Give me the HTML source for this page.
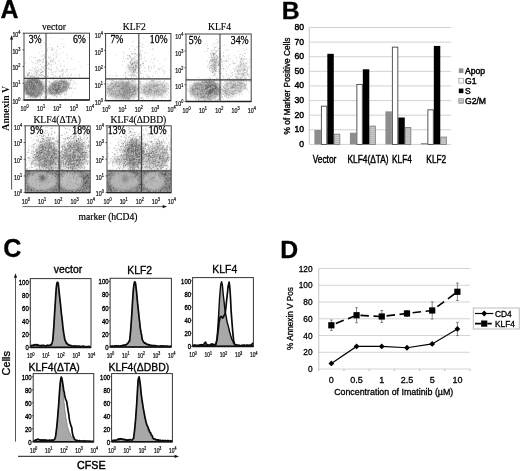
<!DOCTYPE html>
<html><head><meta charset="utf-8"><title>Figure</title>
<style>
html,body{margin:0;padding:0;background:#fff;}
body{width:520px;height:471px;overflow:hidden;font-family:"Liberation Sans",sans-serif;}
svg{display:block;filter:blur(0.4px)}
</style></head><body>
<svg width="520" height="471" viewBox="0 0 520 471">
<defs><filter id="bl1" x="-50%" y="-50%" width="200%" height="200%"><feGaussianBlur stdDeviation="1"/></filter><filter id="bl2" x="-50%" y="-50%" width="200%" height="200%"><feGaussianBlur stdDeviation="1.8"/></filter></defs>
<rect width="520" height="471" fill="#fff"/>
<g id="panelA">
<text x="0.5" y="18.4" font-family='"Liberation Sans", sans-serif' font-size="24.9" text-anchor="start" font-weight="bold" fill="#000" stroke="#000" stroke-width=".3">A</text>
<clipPath id="cp1"><rect x="24" y="33.2" width="65.5" height="66.8"/></clipPath>
<g clip-path="url(#cp1)">
<path d="M33.7 91.1h.8M34.0 86.1h.8M27.6 86.7h.8M46.0 90.5h.8M45.3 89.5h.8M39.6 89.1h.8M40.6 91.0h.8M28.0 85.2h.8M38.7 87.7h.8M40.7 84.1h.8M38.8 90.4h.8M30.0 98.3h.8M41.0 95.2h.8M30.4 83.6h.8M32.9 87.4h.8M41.7 89.5h.8M32.0 82.3h.8M31.3 95.3h.8M28.7 89.5h.8M39.8 79.1h.8M36.4 95.8h.8M35.0 83.1h.8M40.5 87.6h.8M42.0 93.7h.8M49.0 90.2h.8M37.1 80.2h.8M41.5 84.3h.8M31.9 80.4h.8M27.3 84.8h.8M47.6 75.8h.8M49.0 91.5h.8M39.2 83.6h.8M25.9 93.9h.8M45.9 88.9h.8M38.2 90.6h.8M50.3 91.7h.8M40.7 91.3h.8M44.6 91.2h.8M43.6 77.1h.8M34.3 94.1h.8M41.0 87.1h.8M38.9 91.9h.8M37.1 94.9h.8M30.0 85.5h.8M45.4 88.2h.8M28.1 93.7h.8M49.2 85.3h.8M34.7 86.2h.8M48.6 81.8h.8M47.3 80.4h.8M28.9 91.8h.8M46.2 93.2h.8M39.1 88.9h.8M37.4 91.5h.8M34.4 89.7h.8M41.2 88.0h.8M42.9 91.4h.8M54.1 89.9h.8M32.2 85.8h.8M35.9 93.5h.8M33.0 90.3h.8M52.5 72.6h.8M25.9 89.5h.8M39.6 89.4h.8M32.1 91.9h.8M38.5 84.9h.8M57.9 90.1h.8M31.0 87.4h.8M34.0 87.6h.8M45.1 81.0h.8M35.4 93.7h.8M43.7 96.9h.8M32.9 91.7h.8M45.8 71.9h.8M45.8 79.3h.8M42.1 79.0h.8M37.6 95.2h.8M34.7 89.1h.8M43.2 88.8h.8M35.2 97.2h.8M45.4 86.2h.8M60.7 81.1h.8M44.2 86.4h.8M37.2 92.2h.8M38.0 91.8h.8M41.5 82.2h.8M26.8 79.2h.8M47.4 92.5h.8M49.3 82.4h.8M36.0 81.2h.8M42.9 97.5h.8M28.0 97.4h.8M44.9 86.9h.8M35.1 84.4h.8M39.6 90.5h.8M49.5 81.9h.8M46.2 96.9h.8M49.1 86.9h.8M29.3 94.1h.8M37.0 88.7h.8M48.8 86.4h.8M38.9 84.3h.8M35.9 93.0h.8M36.7 96.0h.8M35.4 94.2h.8M49.4 97.7h.8M30.0 93.3h.8M24.9 87.9h.8M34.3 87.8h.8M30.7 89.4h.8M52.1 88.3h.8M40.8 94.0h.8M34.2 80.4h.8M31.0 94.4h.8M45.1 92.8h.8M36.1 92.8h.8M37.5 80.9h.8M44.3 84.6h.8M27.9 83.4h.8M25.4 90.2h.8M30.2 76.3h.8M42.5 86.3h.8M38.6 85.2h.8M43.0 92.5h.8M42.0 90.0h.8M48.0 92.0h.8M40.1 75.5h.8M44.1 95.9h.8M33.3 85.2h.8M53.5 77.5h.8M27.7 92.1h.8M53.0 87.3h.8M41.1 93.4h.8M27.8 87.5h.8M38.6 93.0h.8M35.7 86.8h.8M26.9 85.8h.8M44.0 88.6h.8M28.3 83.0h.8M60.0 94.8h.8M41.7 72.4h.8M41.6 90.9h.8M51.2 90.6h.8M35.4 91.1h.8M38.9 83.8h.8M47.9 98.9h.8M38.6 89.1h.8M32.4 82.2h.8M55.1 94.2h.8M25.3 79.9h.8M51.3 93.9h.8M52.4 92.9h.8M28.2 89.6h.8M35.5 91.1h.8M29.5 87.3h.8M40.1 90.3h.8M41.7 89.3h.8M33.1 92.7h.8M36.4 83.0h.8M30.4 88.0h.8M35.0 88.9h.8M36.0 89.1h.8M34.8 80.4h.8M39.8 94.3h.8M39.9 86.9h.8M40.0 82.2h.8M27.6 92.4h.8M26.2 72.2h.8M26.6 97.5h.8M32.6 79.8h.8M29.1 91.1h.8M40.5 89.1h.8M49.4 92.2h.8M35.8 91.6h.8M50.9 93.8h.8M45.2 81.5h.8M34.7 92.4h.8M33.3 94.4h.8M41.4 93.4h.8M47.2 86.7h.8M32.9 93.2h.8M44.8 88.0h.8M25.5 89.1h.8M39.2 94.8h.8M43.0 88.1h.8M43.7 91.2h.8M37.9 88.3h.8M33.8 92.1h.8M26.5 84.2h.8M36.0 79.2h.8" stroke="#333" stroke-width=".8" opacity="0.3" fill="none"/>
<path d="M49.8 77.2h.8M52.7 92.5h.8M63.2 84.8h.8M52.9 79.8h.8M76.2 83.7h.8M66.5 78.3h.8M52.5 77.4h.8M67.3 89.6h.8M40.1 93.2h.8M60.3 74.9h.8M38.7 87.2h.8M49.2 81.2h.8M58.8 88.3h.8M65.4 88.8h.8M74.5 88.4h.8M44.6 88.6h.8M45.8 84.6h.8M57.2 87.3h.8M59.4 76.4h.8M46.3 91.1h.8M55.5 85.9h.8M55.8 82.9h.8M65.3 86.6h.8M55.8 83.5h.8M50.8 72.3h.8M48.9 90.6h.8M44.3 93.3h.8M56.6 78.7h.8M55.0 86.1h.8M63.6 88.9h.8M55.9 82.3h.8M56.5 87.1h.8M65.5 86.1h.8M48.4 81.8h.8M53.0 84.1h.8M47.3 90.1h.8M53.6 89.3h.8M62.1 82.9h.8M79.2 77.2h.8M68.6 83.9h.8M63.6 69.8h.8M51.4 91.0h.8M68.5 98.1h.8M63.7 93.1h.8M67.1 89.7h.8M62.5 84.4h.8M60.6 79.2h.8M67.0 77.2h.8M64.7 98.1h.8M55.9 87.9h.8M69.0 83.2h.8M50.9 91.2h.8M64.9 89.0h.8M73.7 81.4h.8M59.6 83.7h.8M69.8 78.2h.8M63.4 82.0h.8M53.0 93.4h.8M70.5 82.4h.8M53.3 93.9h.8M58.2 88.9h.8M74.6 88.2h.8M59.6 91.4h.8M51.8 89.0h.8M68.3 75.5h.8M40.5 83.0h.8M68.1 80.4h.8M56.8 85.4h.8M54.6 81.3h.8M55.3 78.8h.8M58.0 89.0h.8M61.9 84.1h.8M49.8 91.0h.8M56.7 97.5h.8M65.0 83.7h.8M52.1 84.6h.8M48.5 88.2h.8M61.8 88.9h.8M67.7 96.9h.8M51.4 89.5h.8M80.4 66.9h.8M53.4 89.7h.8M60.3 88.8h.8M56.5 89.9h.8M60.1 91.2h.8M38.4 88.5h.8M55.9 81.2h.8M49.5 94.1h.8M53.2 92.8h.8M65.6 86.2h.8M62.6 84.7h.8M44.7 91.6h.8M61.2 82.5h.8M58.6 91.6h.8M51.1 93.6h.8M74.4 77.5h.8M59.1 85.7h.8M73.1 83.5h.8M65.0 80.0h.8M57.8 87.0h.8M62.9 74.1h.8M64.7 83.7h.8M63.0 87.5h.8M43.5 90.9h.8M70.8 78.7h.8M45.6 82.8h.8M47.2 93.1h.8M74.8 83.6h.8M64.9 98.8h.8M51.7 85.0h.8M64.1 88.3h.8M46.1 83.9h.8M61.2 87.4h.8M45.3 90.3h.8M53.8 91.4h.8M56.7 86.9h.8M56.8 94.1h.8M70.3 80.2h.8M64.4 79.8h.8M60.2 91.0h.8M71.4 79.7h.8M57.7 88.4h.8M44.0 92.2h.8M52.4 91.4h.8M43.3 79.7h.8M58.9 88.3h.8M54.7 93.9h.8M54.2 84.5h.8M59.3 76.5h.8M51.6 89.2h.8M65.6 83.2h.8M59.6 82.2h.8M64.2 95.3h.8M52.0 89.3h.8M61.7 92.2h.8M42.1 79.4h.8M65.3 89.4h.8M60.4 87.7h.8M67.5 85.9h.8M71.1 74.3h.8M47.4 68.9h.8M64.9 82.1h.8M71.1 96.0h.8M57.4 85.6h.8M51.6 84.0h.8M53.4 92.8h.8M58.5 87.2h.8M58.2 92.7h.8M62.4 84.5h.8M63.9 83.9h.8M50.2 99.1h.8M60.4 80.0h.8M68.8 85.3h.8M63.0 90.9h.8M59.6 85.5h.8M45.4 97.8h.8M57.7 85.3h.8M61.5 86.2h.8M63.6 82.6h.8M53.3 75.1h.8M55.4 92.3h.8M69.8 80.4h.8M60.1 96.3h.8M56.4 92.3h.8M73.9 81.5h.8M68.1 78.8h.8M59.8 85.9h.8M61.4 93.0h.8M79.1 75.1h.8M53.6 91.8h.8M49.1 93.4h.8M62.8 83.5h.8M59.8 76.4h.8M62.0 75.7h.8M50.3 86.2h.8M56.0 93.2h.8M58.0 84.5h.8M66.4 94.1h.8M58.8 89.0h.8M70.2 84.3h.8M74.7 68.3h.8M58.5 89.5h.8M68.4 87.5h.8M53.3 82.0h.8M61.1 92.5h.8M45.7 84.9h.8M53.8 76.2h.8M54.7 85.4h.8M60.8 81.5h.8M48.9 87.8h.8M56.2 83.4h.8M59.7 91.2h.8M72.6 92.6h.8M49.8 87.3h.8M51.1 89.3h.8M60.1 77.6h.8M62.3 85.3h.8M41.4 94.9h.8M65.4 72.4h.8M66.0 85.4h.8M63.4 87.9h.8M69.8 81.3h.8M65.4 81.7h.8M63.2 79.9h.8M60.5 97.1h.8M61.9 84.6h.8M45.6 86.5h.8M61.7 91.6h.8M63.1 88.5h.8M60.4 94.8h.8M53.2 85.2h.8" stroke="#333" stroke-width=".8" opacity="0.3" fill="none"/>
<ellipse cx="33.7" cy="87.5" rx="10" ry="10" fill="#8e8e8e" opacity="1" filter="url(#bl1)" transform="rotate(0 33.7 87.5)"/>
<ellipse cx="33.7" cy="87.5" rx="7.6" ry="7.6" fill="none" stroke="#6c6c6c" stroke-width="1.5" opacity="0.7" filter="url(#bl1)" transform="rotate(0 33.7 87.5)"/>
<ellipse cx="33.5" cy="86.3" rx="2.3" ry="2.3" fill="#4a4a4a" opacity="0.8" filter="url(#bl1)" transform="rotate(0 33.5 86.3)"/>
<ellipse cx="58.2" cy="87.5" rx="11.2" ry="6.4" fill="#999" opacity="1" filter="url(#bl1)" transform="rotate(-22 58.2 87.5)"/>
<ellipse cx="58.2" cy="87.5" rx="8.8" ry="4.5" fill="none" stroke="#777" stroke-width="1.4" opacity="0.65" filter="url(#bl1)" transform="rotate(-22 58.2 87.5)"/>
<ellipse cx="57" cy="88" rx="3.5" ry="2" fill="#858585" opacity="0.7" filter="url(#bl1)" transform="rotate(-22 57 88)"/>
<path d="M38.6 87.8h.8M32.2 84.3h.8M32.3 90.9h.8M35.6 80.8h.8M36.0 88.5h.8M28.2 91.8h.8M32.2 85.7h.8M38.1 94.8h.8M29.9 89.9h.8M31.0 94.1h.8M30.1 92.0h.8M45.9 73.5h.8M31.3 90.3h.8M33.2 83.8h.8M45.5 87.9h.8M24.7 92.2h.8M30.5 88.3h.8M40.6 88.1h.8M26.0 78.2h.8M40.2 91.6h.8M29.2 92.2h.8M36.4 91.1h.8M38.7 91.5h.8M38.5 74.0h.8M34.6 90.2h.8M47.7 82.3h.8M31.9 87.7h.8M38.6 85.1h.8M40.0 83.2h.8M35.2 84.6h.8M34.6 83.7h.8M24.9 93.5h.8M35.4 84.4h.8M34.8 92.9h.8M28.3 86.9h.8M36.7 90.4h.8M31.9 75.9h.8M40.5 89.3h.8M33.8 86.0h.8M35.1 85.2h.8M28.1 83.4h.8M30.4 84.1h.8M27.3 91.0h.8M26.5 91.1h.8M28.1 89.4h.8M41.3 88.6h.8M29.7 87.8h.8M34.5 78.0h.8M30.4 88.4h.8M31.1 87.9h.8M37.7 91.7h.8M38.7 90.7h.8M32.1 87.4h.8M32.2 85.8h.8M32.7 78.0h.8M31.9 87.4h.8M28.3 87.4h.8M36.5 86.6h.8M45.1 73.2h.8M32.6 77.5h.8M36.6 85.8h.8M36.7 75.2h.8M38.4 89.5h.8M33.8 84.3h.8M37.2 84.8h.8M34.9 84.7h.8M34.8 91.6h.8M28.9 87.3h.8M37.1 88.3h.8M40.5 98.5h.8M28.7 76.9h.8M38.4 95.9h.8M38.8 92.0h.8M30.3 83.6h.8M38.6 82.5h.8M47.4 98.1h.8M29.9 83.5h.8M35.0 83.4h.8M40.9 87.1h.8M27.7 94.7h.8M30.5 88.7h.8M33.6 85.8h.8M35.5 83.7h.8M26.7 83.3h.8M33.6 87.8h.8M36.8 88.2h.8M29.3 83.6h.8M36.4 90.4h.8M33.0 86.5h.8M38.8 87.6h.8M37.8 90.7h.8M34.9 94.7h.8M30.6 85.5h.8M29.3 83.1h.8M42.3 97.2h.8M33.8 90.6h.8M40.2 91.9h.8M40.3 80.6h.8M30.2 90.0h.8M41.6 88.1h.8M29.0 85.6h.8M30.1 82.8h.8M42.0 84.1h.8M33.8 99.4h.8M40.2 89.3h.8M30.3 89.8h.8M42.6 90.9h.8M40.6 88.0h.8M36.5 86.4h.8M36.0 94.7h.8M25.8 87.2h.8M35.0 84.4h.8M32.0 91.8h.8M44.7 91.0h.8M35.5 79.0h.8M44.3 87.9h.8M33.5 81.3h.8M33.4 81.5h.8M34.1 90.1h.8M33.9 89.0h.8M29.0 95.4h.8M30.1 77.5h.8M32.7 83.3h.8M28.1 85.5h.8M35.3 81.0h.8M32.9 95.3h.8M37.5 86.7h.8M34.4 86.8h.8M33.4 91.5h.8M33.2 74.3h.8M33.6 82.6h.8M37.3 84.1h.8M34.5 99.5h.8M27.9 81.3h.8M25.9 74.3h.8M30.2 77.2h.8M25.5 90.9h.8M29.4 85.5h.8M35.5 95.0h.8M44.4 93.2h.8M34.5 88.5h.8M43.6 95.4h.8M32.0 90.0h.8M35.3 87.8h.8M30.9 80.2h.8M30.8 79.0h.8M40.4 90.5h.8M27.1 95.2h.8M38.6 77.0h.8M43.8 92.0h.8M45.1 80.7h.8M36.6 89.8h.8M34.8 88.4h.8M39.5 79.3h.8M26.9 79.8h.8M30.6 84.2h.8M35.7 89.0h.8M33.9 83.8h.8M31.3 92.7h.8M37.9 88.1h.8M31.9 96.0h.8M30.4 91.1h.8M40.0 86.0h.8M38.2 81.4h.8M39.3 88.6h.8M25.0 91.2h.8M28.8 94.6h.8M30.0 86.6h.8M35.3 85.7h.8M35.1 84.5h.8M37.4 87.5h.8M34.9 72.4h.8M40.1 87.7h.8M36.3 93.4h.8M27.7 96.0h.8M32.9 91.2h.8M31.7 81.4h.8M39.7 92.5h.8M42.2 92.2h.8M30.5 78.4h.8M30.1 83.8h.8M29.2 90.7h.8M35.5 86.0h.8M34.6 86.7h.8M34.9 91.6h.8M39.0 83.7h.8M25.4 95.4h.8M34.3 93.6h.8" stroke="#fff" stroke-width=".8" opacity="0.35" fill="none"/>
<path d="M33.9 78.9h.8M30.6 91.8h.8M40.2 97.1h.8M28.5 79.1h.8M36.8 93.1h.8M34.9 79.7h.8M38.4 92.3h.8M37.0 84.6h.8M35.5 92.2h.8M30.3 76.4h.8M35.7 90.4h.8M33.8 92.8h.8M30.2 87.0h.8M31.9 90.9h.8M43.3 86.0h.8M46.0 96.7h.8M38.4 91.0h.8M44.3 86.4h.8M33.0 81.1h.8M36.5 95.6h.8M36.9 90.0h.8M32.5 88.5h.8M25.1 93.8h.8M31.2 80.9h.8M29.2 82.6h.8M38.8 93.8h.8M25.6 93.1h.8M39.0 84.0h.8M24.8 83.0h.8M29.9 89.6h.8M31.6 75.3h.8M35.1 78.3h.8M39.1 80.3h.8M29.5 82.4h.8M30.4 95.3h.8M38.8 91.1h.8M35.6 78.2h.8M30.6 84.2h.8M27.8 90.6h.8M29.3 83.2h.8M27.4 75.2h.8M37.3 95.5h.8M34.7 81.6h.8M41.0 89.3h.8M39.3 96.4h.8M40.5 84.9h.8M40.0 92.2h.8M25.2 86.8h.8M37.2 81.1h.8M36.0 96.3h.8M25.8 93.9h.8M32.4 89.1h.8M32.8 93.5h.8M39.9 88.0h.8M25.5 91.9h.8M30.9 91.3h.8M35.3 97.2h.8M40.5 84.8h.8M35.8 98.1h.8M30.5 90.1h.8M40.8 95.0h.8M36.8 79.6h.8M26.1 89.0h.8M28.5 94.3h.8M38.3 77.5h.8M28.8 88.5h.8M30.7 86.6h.8M36.5 82.6h.8M36.5 83.7h.8M30.4 90.7h.8M30.3 89.2h.8M43.3 87.7h.8M32.8 91.9h.8M31.5 94.0h.8M26.0 91.2h.8M30.6 82.7h.8M44.3 82.4h.8M44.2 91.4h.8M42.4 81.6h.8M40.9 96.2h.8M33.0 86.7h.8M48.4 88.6h.8M31.2 83.7h.8M36.4 89.5h.8M34.8 97.8h.8M31.7 90.3h.8M42.5 81.5h.8M39.9 98.5h.8M25.6 80.9h.8M27.5 76.4h.8M36.4 76.4h.8M36.7 96.2h.8M29.3 85.9h.8M34.0 90.8h.8M31.6 87.6h.8M30.4 88.2h.8M26.7 87.9h.8M45.2 88.0h.8M26.1 89.0h.8M27.9 77.6h.8M29.3 91.9h.8M36.0 86.9h.8M28.1 81.0h.8M41.8 89.0h.8M28.0 74.8h.8M26.8 87.0h.8M35.0 86.6h.8M32.0 79.3h.8M27.4 97.6h.8M29.2 92.6h.8M35.3 93.7h.8M27.0 91.1h.8M36.0 83.1h.8M36.6 82.1h.8M28.9 87.4h.8M27.7 78.7h.8M31.1 92.1h.8M31.3 95.1h.8M26.7 79.6h.8M43.0 89.9h.8M39.4 82.5h.8M38.5 89.1h.8M37.6 87.7h.8M40.9 83.6h.8M27.9 78.6h.8M40.7 83.1h.8M27.4 81.9h.8M31.0 79.9h.8M32.0 83.7h.8M30.4 81.7h.8M33.9 84.7h.8M34.4 89.0h.8M35.7 74.4h.8M30.5 82.7h.8M38.3 78.0h.8M29.4 85.7h.8M31.7 93.4h.8M31.0 93.3h.8M24.9 76.6h.8M41.0 90.1h.8M36.6 88.2h.8M36.6 80.2h.8M39.4 84.3h.8M39.6 88.0h.8M40.5 86.7h.8M31.3 89.0h.8M31.1 84.2h.8M34.3 88.4h.8M42.8 87.8h.8M45.0 98.3h.8M44.0 93.9h.8M34.5 88.3h.8M32.8 83.1h.8M33.3 83.7h.8M43.5 90.7h.8M31.0 76.0h.8M33.4 85.0h.8M27.2 80.7h.8M33.5 86.6h.8M42.4 88.3h.8M34.7 85.3h.8M30.1 96.5h.8M39.7 97.8h.8M31.6 87.7h.8M28.4 93.3h.8M25.3 90.9h.8M40.3 96.0h.8M28.1 94.0h.8M29.4 83.0h.8M25.8 94.4h.8M43.6 83.9h.8M29.1 85.5h.8M48.7 93.5h.8M30.4 76.7h.8M29.7 94.6h.8M44.9 85.9h.8M29.6 84.4h.8M27.2 93.9h.8M35.4 82.9h.8M38.4 87.5h.8M26.7 91.2h.8M38.8 76.0h.8M44.7 90.5h.8M38.3 76.3h.8M29.4 85.4h.8M40.2 78.7h.8M28.4 75.3h.8M32.3 89.6h.8M36.8 97.0h.8M37.7 85.7h.8M26.6 81.9h.8M29.7 88.4h.8M33.4 97.5h.8M35.4 81.1h.8M43.0 93.2h.8M34.3 83.2h.8M39.2 82.7h.8M25.8 88.7h.8M35.2 91.1h.8M37.6 96.0h.8M28.7 93.4h.8M27.8 91.7h.8M34.8 89.0h.8M39.5 87.4h.8M40.4 92.8h.8M34.5 84.1h.8M29.2 84.3h.8M32.5 87.4h.8M51.6 91.3h.8M38.3 82.3h.8M29.4 85.6h.8M34.9 81.3h.8M43.4 84.1h.8M40.2 73.5h.8M33.7 89.2h.8M34.8 91.1h.8M35.4 88.5h.8M35.5 86.3h.8M28.8 84.0h.8M44.8 97.9h.8M33.4 95.2h.8M30.8 82.3h.8M30.3 88.6h.8M51.8 83.5h.8M34.0 89.2h.8M33.5 93.1h.8M44.4 80.0h.8M34.7 85.9h.8M35.8 78.3h.8M36.9 88.7h.8M34.1 73.3h.8M31.5 83.0h.8M25.2 82.0h.8M37.9 90.8h.8M33.6 90.6h.8M30.1 87.9h.8M33.9 90.8h.8" stroke="#333" stroke-width=".8" opacity="0.3" fill="none"/>
<path d="M57.6 87.2h.8M56.5 85.7h.8M72.4 83.8h.8M63.9 94.1h.8M64.6 78.9h.8M63.5 88.6h.8M71.3 87.3h.8M61.3 81.7h.8M53.3 90.5h.8M59.9 82.9h.8M55.3 87.1h.8M59.0 88.5h.8M54.8 84.1h.8M67.8 89.8h.8M58.9 91.2h.8M61.8 88.6h.8M60.1 83.8h.8M63.0 89.5h.8M55.5 96.2h.8M73.3 88.5h.8M71.2 85.1h.8M55.4 86.3h.8M53.5 89.9h.8M58.9 89.8h.8M71.9 81.9h.8M62.9 87.4h.8M59.6 86.1h.8M56.3 85.0h.8M59.2 87.0h.8M59.0 83.9h.8M58.5 87.6h.8M60.4 82.5h.8M62.1 89.8h.8M61.3 84.8h.8M54.9 87.9h.8M64.7 90.9h.8M56.4 85.7h.8M60.7 87.3h.8M51.7 87.2h.8M58.5 90.0h.8M49.6 87.0h.8M59.6 82.2h.8M59.3 88.4h.8M56.2 84.4h.8M57.4 86.5h.8M59.1 83.9h.8M62.5 79.3h.8M57.1 88.0h.8M63.2 83.1h.8M60.7 84.3h.8M65.0 91.5h.8M56.4 90.0h.8M53.9 93.0h.8M65.5 84.7h.8M51.9 91.6h.8M66.6 88.3h.8M60.6 79.4h.8M56.0 93.9h.8M52.3 94.3h.8M70.6 85.5h.8M64.5 83.7h.8M50.7 90.1h.8M56.9 87.8h.8M62.2 85.3h.8M59.9 88.4h.8M60.7 93.7h.8M61.0 86.7h.8M56.1 85.9h.8M66.5 84.7h.8M50.9 88.2h.8M56.8 86.3h.8M63.2 81.0h.8M61.4 86.8h.8M51.2 90.5h.8M58.3 89.4h.8M55.9 89.6h.8M46.7 87.9h.8M64.3 89.1h.8M57.3 85.5h.8M61.9 77.9h.8M54.3 91.7h.8M60.7 82.5h.8M48.8 96.9h.8M57.9 84.1h.8M59.7 90.4h.8M44.1 97.5h.8M59.9 78.8h.8M60.4 79.7h.8M65.6 86.1h.8M71.0 80.0h.8M59.6 91.0h.8M53.4 86.7h.8M55.9 88.2h.8M52.3 91.8h.8M61.6 86.4h.8M68.0 82.3h.8M65.3 82.5h.8M60.1 79.2h.8M59.2 86.4h.8M54.4 86.7h.8M55.1 85.9h.8M44.2 90.8h.8M54.2 87.1h.8M51.6 89.6h.8M62.6 84.8h.8M57.1 93.2h.8M65.3 88.2h.8M64.7 83.6h.8M58.9 91.5h.8M54.7 88.4h.8M61.0 87.8h.8M57.9 91.5h.8M58.1 90.4h.8M65.5 87.1h.8M61.1 81.8h.8M49.5 88.6h.8M63.1 91.4h.8M51.2 91.5h.8M52.1 87.1h.8M57.5 90.5h.8M61.1 90.9h.8M53.5 92.9h.8M63.9 85.5h.8M60.3 84.5h.8M51.1 88.8h.8M58.2 98.7h.8M57.5 94.2h.8M59.8 88.0h.8M61.6 83.1h.8M64.2 86.5h.8M49.9 93.2h.8M62.1 87.7h.8M67.2 82.3h.8M62.3 88.8h.8M54.4 93.7h.8M47.7 86.7h.8M59.9 82.6h.8M55.3 82.3h.8M57.1 83.5h.8M58.2 81.6h.8M60.5 85.5h.8M58.5 87.1h.8M57.2 82.8h.8M42.8 93.9h.8M51.9 88.3h.8M58.1 79.8h.8M52.8 87.3h.8M52.3 91.2h.8M56.2 85.1h.8M53.4 92.6h.8M55.0 91.1h.8M58.4 80.1h.8M51.7 90.1h.8M61.3 89.3h.8M64.4 89.0h.8M55.7 87.7h.8M62.3 84.2h.8M62.4 79.6h.8M61.9 85.3h.8M47.7 95.6h.8M60.1 86.8h.8M51.1 88.6h.8M66.2 81.1h.8M36.1 93.1h.8M50.8 90.0h.8M54.6 85.4h.8M54.5 93.0h.8M52.1 97.5h.8M53.4 85.2h.8M63.7 87.5h.8M52.9 92.5h.8M45.9 88.9h.8M64.6 83.9h.8M51.0 92.4h.8M63.7 85.2h.8M46.8 90.7h.8M61.8 89.0h.8M69.0 82.1h.8M55.2 88.5h.8M64.2 81.4h.8M62.4 75.1h.8M62.1 83.3h.8M61.9 88.7h.8M51.0 90.1h.8M60.4 88.9h.8M51.3 86.5h.8M56.7 87.2h.8M50.4 94.2h.8M56.9 93.6h.8M63.4 85.5h.8M61.1 82.0h.8M55.5 86.4h.8M50.6 90.6h.8M59.3 92.6h.8M37.1 93.4h.8M52.0 88.2h.8M61.3 87.8h.8M57.7 85.8h.8" stroke="#fff" stroke-width=".8" opacity="0.35" fill="none"/>
<path d="M61.9 87.5h.8M45.8 91.4h.8M47.5 86.7h.8M59.2 87.3h.8M57.6 84.0h.8M55.5 84.6h.8M61.7 89.1h.8M71.5 87.6h.8M52.3 87.9h.8M52.6 91.1h.8M72.1 84.9h.8M42.0 88.6h.8M50.6 92.8h.8M58.7 88.6h.8M68.5 79.8h.8M55.6 97.0h.8M59.3 83.7h.8M42.7 87.2h.8M42.4 94.2h.8M60.0 91.1h.8M56.3 85.3h.8M56.2 96.5h.8M47.0 92.8h.8M59.3 89.7h.8M56.3 90.4h.8M63.3 84.8h.8M55.0 88.0h.8M51.6 89.3h.8M56.6 89.1h.8M68.8 88.8h.8M56.2 90.9h.8M61.3 89.6h.8M58.7 88.4h.8M54.0 85.8h.8M65.8 90.0h.8M63.2 87.4h.8M59.3 85.1h.8M47.6 94.6h.8M58.7 84.9h.8M53.9 94.8h.8M49.1 98.8h.8M65.9 94.6h.8M53.5 89.3h.8M55.1 89.4h.8M55.7 85.3h.8M64.0 81.8h.8M55.7 90.9h.8M54.1 87.3h.8M60.0 85.2h.8M50.0 90.4h.8M59.3 94.4h.8M52.5 94.0h.8M52.6 88.2h.8M56.5 89.4h.8M66.4 91.7h.8M56.1 94.1h.8M65.9 87.9h.8M54.6 92.8h.8M58.0 89.1h.8M57.4 90.7h.8M67.1 88.8h.8M58.4 91.7h.8M66.2 80.2h.8M65.8 78.7h.8M62.6 88.3h.8M68.2 84.6h.8M53.9 85.8h.8M51.2 93.6h.8M55.6 85.5h.8M60.5 83.3h.8M54.7 86.9h.8M71.1 88.6h.8M54.8 82.1h.8M60.1 87.0h.8M61.3 88.7h.8M57.5 91.8h.8M63.9 86.1h.8M54.8 86.8h.8M61.0 81.6h.8M56.0 85.1h.8M50.1 93.4h.8M58.1 87.7h.8M61.6 79.7h.8M58.2 88.7h.8M62.0 81.3h.8M63.2 86.4h.8M68.7 88.2h.8M65.0 94.0h.8M57.6 85.9h.8M54.6 84.9h.8M55.2 80.6h.8M58.3 89.3h.8M64.1 83.6h.8M66.2 81.4h.8M54.5 80.9h.8M52.1 86.6h.8M68.4 85.6h.8M52.0 92.3h.8M60.9 85.4h.8M57.9 86.3h.8M52.2 82.5h.8M59.5 92.4h.8M66.9 82.8h.8M53.2 88.6h.8M64.4 86.5h.8M55.0 90.3h.8M57.6 89.9h.8M53.5 83.2h.8M59.7 90.1h.8M51.0 89.9h.8M63.2 83.9h.8M57.0 96.5h.8M64.9 89.1h.8M54.6 95.8h.8M47.0 89.9h.8M64.8 90.4h.8M51.4 87.5h.8M56.6 80.0h.8M63.1 87.9h.8M56.2 90.6h.8M63.5 86.6h.8M63.7 91.6h.8M55.4 89.3h.8M56.4 92.6h.8M56.3 90.2h.8M59.2 87.4h.8M68.9 82.8h.8M68.3 86.9h.8M66.3 83.6h.8M65.1 87.9h.8M54.7 90.0h.8M57.3 87.7h.8M65.3 81.6h.8M45.1 85.5h.8M54.4 86.3h.8M59.1 89.5h.8M69.7 84.1h.8M60.0 83.7h.8M63.8 90.9h.8M63.8 77.1h.8M66.1 90.9h.8M61.2 80.1h.8M57.1 90.4h.8M59.6 83.5h.8M54.0 93.2h.8M51.9 96.0h.8M58.8 88.5h.8M49.0 88.7h.8M60.4 80.5h.8M69.1 77.3h.8M50.6 90.7h.8M62.3 88.9h.8M55.6 87.7h.8M55.9 86.0h.8M43.5 97.4h.8M60.0 87.4h.8M54.6 90.0h.8M58.0 87.3h.8M62.6 78.6h.8M58.2 83.1h.8M58.4 93.6h.8M51.3 89.9h.8M55.9 92.4h.8M49.7 84.0h.8M60.9 84.9h.8M57.8 92.2h.8M52.1 88.4h.8M59.7 88.6h.8M56.5 92.5h.8M71.6 80.4h.8M66.8 75.3h.8M66.5 82.7h.8M58.6 85.9h.8M52.4 84.6h.8M57.6 93.1h.8M64.8 83.4h.8M53.9 86.3h.8M53.3 96.9h.8M62.5 86.2h.8M53.7 85.1h.8M67.5 87.0h.8M53.7 93.4h.8M52.2 92.6h.8M51.6 88.4h.8M61.9 87.8h.8M63.3 82.0h.8M70.0 88.3h.8M58.8 89.2h.8M53.1 88.9h.8M50.1 91.1h.8M61.4 91.8h.8M65.3 88.0h.8M55.6 87.6h.8M56.4 89.1h.8M47.3 95.1h.8M47.7 89.6h.8M57.6 85.6h.8M68.4 83.0h.8M69.7 87.7h.8M55.7 90.2h.8M65.8 83.0h.8M57.9 85.3h.8M58.1 86.1h.8M60.2 90.9h.8M67.1 84.5h.8M60.7 90.0h.8M54.9 84.5h.8M63.8 81.4h.8M62.6 81.7h.8M68.1 79.2h.8M65.6 90.7h.8M54.3 95.2h.8M50.5 83.3h.8M63.7 88.2h.8M53.3 79.0h.8M57.4 86.5h.8M55.4 87.4h.8M46.2 90.0h.8M71.6 88.5h.8M54.9 85.9h.8M62.2 90.3h.8M61.0 81.5h.8M59.4 87.6h.8M68.9 88.1h.8M63.2 90.5h.8M57.9 94.0h.8M56.1 90.0h.8M62.6 81.9h.8M51.3 83.0h.8M59.1 86.9h.8M56.9 90.1h.8M45.0 92.7h.8M58.4 86.3h.8M65.7 91.7h.8M54.1 85.3h.8M54.6 89.4h.8M60.6 83.0h.8M63.0 81.3h.8M64.0 86.9h.8M64.2 94.0h.8" stroke="#333" stroke-width=".8" opacity="0.3" fill="none"/>
<path d="M40.2 64.7h.8M45.2 72.6h.8M33.0 68.1h.8M37.0 70.8h.8M51.2 66.4h.8M41.3 67.4h.8M45.8 67.3h.8M39.3 60.4h.8M40.8 75.3h.8M41.3 76.3h.8M24.7 62.5h.8M43.8 65.9h.8M30.8 60.9h.8M50.4 56.1h.8M35.3 57.6h.8M38.3 70.9h.8M46.0 50.4h.8M51.8 61.5h.8M38.0 78.8h.8M41.5 56.5h.8M37.7 60.4h.8M35.2 63.4h.8M47.9 68.7h.8M32.7 87.4h.8M35.3 66.9h.8M42.2 71.8h.8M39.8 69.5h.8M56.2 66.7h.8M34.7 68.5h.8M36.6 63.2h.8M43.3 68.6h.8M40.1 72.5h.8M40.7 56.0h.8M47.9 63.2h.8M50.2 61.0h.8M45.8 68.4h.8M34.5 76.8h.8M29.3 73.0h.8M49.3 69.8h.8M46.5 62.2h.8M41.9 67.7h.8M44.8 71.4h.8M40.6 60.6h.8M38.2 69.2h.8M30.8 56.4h.8M39.2 61.8h.8M40.2 45.6h.8M39.7 64.1h.8M47.2 50.8h.8M39.9 69.6h.8M45.3 75.2h.8M49.1 57.9h.8M46.3 63.4h.8M36.6 77.8h.8M37.8 59.4h.8M39.3 59.4h.8M48.8 68.9h.8M51.4 69.2h.8M37.9 74.1h.8M37.6 62.4h.8M40.9 66.3h.8M50.0 61.3h.8M44.4 65.8h.8M33.5 57.6h.8M40.5 69.1h.8M44.2 69.7h.8M42.3 62.5h.8M44.9 58.3h.8M32.9 63.4h.8M32.4 62.0h.8M37.0 61.7h.8M41.7 59.8h.8M39.1 52.8h.8M43.0 59.2h.8M44.7 44.2h.8M36.6 67.9h.8M25.5 63.2h.8M42.6 66.8h.8M31.9 67.8h.8M43.0 58.5h.8M47.0 65.6h.8M42.1 62.5h.8M45.7 66.8h.8M49.7 69.5h.8M37.8 64.3h.8M48.2 63.2h.8M44.6 70.0h.8M40.8 48.0h.8M42.9 67.7h.8M42.9 60.1h.8M50.2 65.0h.8M37.8 60.5h.8M44.4 57.6h.8M35.2 81.5h.8M50.9 74.2h.8M51.2 70.6h.8M30.6 75.2h.8M50.4 69.8h.8M28.7 75.6h.8M51.3 62.2h.8M42.9 72.0h.8M41.4 74.5h.8M42.6 71.4h.8M42.6 54.5h.8M35.3 90.5h.8M43.9 76.2h.8M49.7 79.3h.8M45.8 61.4h.8M42.1 51.1h.8M40.7 73.0h.8M27.3 67.5h.8M47.6 76.3h.8M35.7 60.9h.8M29.3 58.1h.8M45.6 82.1h.8M34.2 76.7h.8M44.9 62.2h.8M56.9 46.4h.8" stroke="#666" stroke-width=".8" opacity="0.42" fill="none"/>
<path d="M53.5 60.1h.8M70.5 75.5h.8M71.6 59.3h.8M61.6 71.3h.8M58.0 61.5h.8M52.6 54.0h.8M44.4 76.9h.8M50.5 37.8h.8M56.1 57.7h.8M55.4 75.6h.8M53.2 55.4h.8M48.2 57.8h.8M50.6 60.0h.8M78.3 61.8h.8M47.3 76.8h.8M60.7 65.9h.8M59.6 66.0h.8M59.3 71.7h.8M61.8 71.1h.8M50.1 58.0h.8M48.3 67.3h.8M60.5 53.5h.8M58.6 83.6h.8M63.6 47.1h.8M53.3 64.2h.8M53.7 61.8h.8M63.2 61.2h.8M45.5 65.0h.8M53.2 59.1h.8M49.6 44.5h.8M44.3 54.6h.8M62.9 46.7h.8M48.4 63.2h.8M35.2 71.1h.8M48.0 64.4h.8M50.2 61.0h.8M54.8 58.0h.8M39.8 43.7h.8M53.7 71.7h.8M49.7 63.2h.8M55.3 62.7h.8M61.7 43.4h.8M56.1 56.3h.8M51.6 49.7h.8M47.9 48.0h.8M45.4 82.5h.8M67.2 58.1h.8M59.8 48.5h.8M32.3 40.2h.8M55.1 72.0h.8M53.7 48.2h.8M52.1 48.3h.8M43.1 55.7h.8M50.9 50.1h.8M47.1 48.9h.8M55.8 71.6h.8M52.4 79.8h.8M41.4 60.7h.8M45.0 56.4h.8M54.8 63.4h.8M62.8 52.6h.8M44.3 56.2h.8M56.3 51.2h.8M61.0 74.4h.8M42.9 61.5h.8M61.9 39.3h.8M55.6 55.8h.8M42.9 70.8h.8M55.7 53.3h.8M57.5 64.3h.8M60.0 63.7h.8M57.2 46.5h.8M50.7 59.3h.8M32.4 78.8h.8M51.0 47.7h.8M39.8 60.4h.8M54.3 52.3h.8M50.8 49.3h.8M48.2 57.0h.8M49.0 64.6h.8M52.9 59.3h.8M57.2 70.4h.8M58.7 60.2h.8M52.7 50.1h.8M51.3 64.7h.8M55.8 54.2h.8M43.6 43.1h.8M56.5 68.0h.8M56.9 44.6h.8M52.3 60.2h.8M46.8 61.4h.8M52.4 49.9h.8M44.3 65.9h.8M56.8 49.4h.8M46.1 66.7h.8M58.6 55.0h.8M66.4 55.2h.8M45.8 68.6h.8M52.5 61.4h.8" stroke="#666" stroke-width=".8" opacity="0.42" fill="none"/>
<path d="M34.2 71.1h.8M27.1 73.4h.8M42.2 71.1h.8M41.9 74.6h.8M27.5 74.8h.8M37.3 71.4h.8M27.5 75.3h.8M29.3 69.7h.8M32.6 74.5h.8M30.7 70.6h.8M35.2 68.9h.8M37.1 75.4h.8M43.8 76.6h.8M36.1 74.8h.8M34.2 70.1h.8M42.5 75.5h.8M32.3 70.7h.8M42.7 75.6h.8M27.1 76.0h.8M45.1 73.9h.8M36.3 72.8h.8M30.3 77.1h.8M51.9 74.3h.8M33.3 76.3h.8M32.2 76.1h.8M38.8 71.0h.8M27.8 73.8h.8M38.9 74.8h.8M41.2 70.0h.8M36.9 72.2h.8M34.6 74.9h.8M28.3 73.3h.8M27.2 74.8h.8M29.0 72.6h.8M35.3 72.1h.8M40.7 72.1h.8M38.9 74.8h.8M28.0 73.4h.8M29.1 72.9h.8M32.4 79.3h.8M31.6 78.6h.8M36.6 70.2h.8M40.0 75.1h.8M32.8 73.3h.8M35.5 73.1h.8M30.9 72.9h.8M40.8 72.2h.8M36.2 70.7h.8M29.9 70.0h.8M32.9 76.0h.8M35.8 72.6h.8M37.6 73.0h.8M36.2 74.8h.8M37.1 66.8h.8M26.4 76.2h.8M33.4 80.5h.8" stroke="#666" stroke-width=".8" opacity="0.45" fill="none"/>
<path d="M62.2 69.3h.8M75.6 74.7h.8M78.7 74.5h.8M62.4 75.5h.8M57.9 69.8h.8M59.7 70.9h.8M70.0 69.7h.8M66.5 69.6h.8M70.8 58.7h.8M62.4 72.8h.8M55.7 76.9h.8M65.7 78.2h.8M71.4 75.1h.8M62.8 66.7h.8M62.3 69.8h.8M65.9 69.8h.8M87.6 64.3h.8M73.1 69.7h.8M62.1 76.5h.8M64.0 66.1h.8M67.2 71.1h.8M48.1 73.0h.8M55.8 68.4h.8M67.7 73.4h.8M61.8 82.5h.8M67.2 69.0h.8M65.8 71.4h.8M47.0 64.4h.8M53.3 82.0h.8M62.6 70.7h.8M59.6 76.7h.8M64.2 80.2h.8M70.1 79.9h.8M63.1 73.8h.8M60.7 71.2h.8" stroke="#666" stroke-width=".8" opacity="0.4" fill="none"/>
</g>
<rect x="24" y="33.2" width="65.5" height="66.8" fill="none" stroke="#444" stroke-width="1"/>
<line x1="24" y1="100" x2="89.5" y2="100" stroke="#222" stroke-width="1.3"/>
<line x1="46" y1="33.2" x2="46" y2="100" stroke="#444" stroke-width="1.1"/>
<line x1="24" y1="78.4" x2="89.5" y2="78.4" stroke="#3a3a3a" stroke-width="1.2"/>
<text x="54" y="30.3" font-family='"Liberation Serif", serif' font-size="9.6" text-anchor="middle" font-weight="normal" fill="#000" stroke="#000" stroke-width=".15">vector</text>
<text transform="translate(28.7 42.800000000000004) scale(.84 1)" font-family='"Liberation Serif", serif' font-size="11.6" fill="#000" stroke="#000" stroke-width=".3">3%</text>
<text transform="translate(85.9 42.800000000000004) scale(.84 1)" font-family='"Liberation Serif", serif' font-size="11.6" fill="#000" text-anchor="end" stroke="#000" stroke-width=".3">6%</text>
<text transform="translate(12.40 103.60) scale(0.74 1)" font-family='"Liberation Sans", sans-serif' font-size="7.2" fill="#111" stroke="#111" stroke-width=".25">10<tspan dy="-2.88" font-size="5.18">0</tspan></text>
<line x1="22.5" y1="100.0" x2="24" y2="100.0" stroke="#333" stroke-width=".8"/>
<text transform="translate(20.60 111.30) scale(0.74 1)" font-family='"Liberation Sans", sans-serif' font-size="7.2" fill="#111" stroke="#111" stroke-width=".25">10<tspan dy="-2.88" font-size="5.18">0</tspan></text>
<text transform="translate(12.40 86.90) scale(0.74 1)" font-family='"Liberation Sans", sans-serif' font-size="7.2" fill="#111" stroke="#111" stroke-width=".25">10<tspan dy="-2.88" font-size="5.18">1</tspan></text>
<line x1="22.5" y1="83.3" x2="24" y2="83.3" stroke="#333" stroke-width=".8"/>
<text transform="translate(36.98 111.30) scale(0.74 1)" font-family='"Liberation Sans", sans-serif' font-size="7.2" fill="#111" stroke="#111" stroke-width=".25">10<tspan dy="-2.88" font-size="5.18">1</tspan></text>
<text transform="translate(12.40 70.20) scale(0.74 1)" font-family='"Liberation Sans", sans-serif' font-size="7.2" fill="#111" stroke="#111" stroke-width=".25">10<tspan dy="-2.88" font-size="5.18">2</tspan></text>
<line x1="22.5" y1="66.6" x2="24" y2="66.6" stroke="#333" stroke-width=".8"/>
<text transform="translate(53.35 111.30) scale(0.74 1)" font-family='"Liberation Sans", sans-serif' font-size="7.2" fill="#111" stroke="#111" stroke-width=".25">10<tspan dy="-2.88" font-size="5.18">2</tspan></text>
<text transform="translate(12.40 53.50) scale(0.74 1)" font-family='"Liberation Sans", sans-serif' font-size="7.2" fill="#111" stroke="#111" stroke-width=".25">10<tspan dy="-2.88" font-size="5.18">3</tspan></text>
<line x1="22.5" y1="49.900000000000006" x2="24" y2="49.900000000000006" stroke="#333" stroke-width=".8"/>
<text transform="translate(69.72 111.30) scale(0.74 1)" font-family='"Liberation Sans", sans-serif' font-size="7.2" fill="#111" stroke="#111" stroke-width=".25">10<tspan dy="-2.88" font-size="5.18">3</tspan></text>
<text transform="translate(12.40 36.80) scale(0.74 1)" font-family='"Liberation Sans", sans-serif' font-size="7.2" fill="#111" stroke="#111" stroke-width=".25">10<tspan dy="-2.88" font-size="5.18">4</tspan></text>
<line x1="22.5" y1="33.2" x2="24" y2="33.2" stroke="#333" stroke-width=".8"/>
<text transform="translate(86.10 111.30) scale(0.74 1)" font-family='"Liberation Sans", sans-serif' font-size="7.2" fill="#111" stroke="#111" stroke-width=".25">10<tspan dy="-2.88" font-size="5.18">4</tspan></text>
<clipPath id="cp2"><rect x="105.6" y="33.5" width="65.30000000000001" height="67.2"/></clipPath>
<g clip-path="url(#cp2)">
<ellipse cx="122.5" cy="90.2" rx="16" ry="9.3" fill="#b0b0b0" opacity="0.9" filter="url(#bl2)" transform="rotate(0 122.5 90.2)"/>
<ellipse cx="154.5" cy="89.2" rx="13" ry="7.5" fill="#bebebe" opacity="0.85" filter="url(#bl2)" transform="rotate(0 154.5 89.2)"/>
<path d="M112.9 86.4h.8M134.8 91.5h.8M134.9 94.8h.8M131.8 95.6h.8M116.4 94.5h.8M119.2 87.0h.8M112.6 99.7h.8M130.9 85.3h.8M125.3 92.1h.8M126.3 88.0h.8M109.5 90.2h.8M131.2 94.4h.8M129.2 96.2h.8M112.5 89.8h.8M125.9 95.6h.8M124.1 92.9h.8M147.5 91.3h.8M108.0 86.2h.8M124.8 99.6h.8M127.2 93.7h.8M132.8 91.1h.8M113.8 89.5h.8M125.9 88.5h.8M115.7 88.0h.8M107.3 84.3h.8M121.6 88.0h.8M122.9 97.8h.8M125.5 89.8h.8M110.6 84.0h.8M126.3 85.1h.8M126.8 84.0h.8M123.9 89.6h.8M132.6 87.8h.8M118.7 91.4h.8M123.1 99.4h.8M119.9 87.0h.8M119.3 92.6h.8M124.9 93.9h.8M141.1 89.8h.8M110.3 90.9h.8M126.7 77.5h.8M122.6 81.8h.8M127.1 97.7h.8M132.9 81.6h.8M136.5 95.1h.8M118.9 92.8h.8M137.8 88.1h.8M122.3 86.9h.8M134.2 78.0h.8M136.8 84.6h.8M131.9 80.9h.8M113.0 86.7h.8M130.9 81.0h.8M128.6 86.5h.8M135.0 88.3h.8M127.4 89.0h.8M140.6 88.0h.8M123.3 93.8h.8M115.1 91.1h.8M116.0 81.6h.8M108.2 96.4h.8M126.8 81.5h.8M140.8 86.1h.8M118.8 91.4h.8M111.0 81.0h.8M115.0 96.6h.8M132.1 81.2h.8M134.7 90.2h.8M127.6 90.3h.8M126.7 84.4h.8M113.3 86.1h.8M118.8 93.5h.8M110.2 98.9h.8M116.1 86.7h.8M129.6 92.4h.8M119.1 84.0h.8M112.4 81.1h.8M134.1 96.0h.8M141.4 92.8h.8M125.9 94.2h.8M132.1 88.6h.8M112.8 94.2h.8M134.5 88.1h.8M129.3 89.7h.8M125.5 87.0h.8M122.2 90.0h.8M122.5 95.4h.8M133.2 94.4h.8M130.7 84.7h.8M134.7 84.7h.8M135.5 93.7h.8M112.5 96.5h.8M115.6 85.8h.8M106.9 88.8h.8M132.8 86.2h.8M141.2 93.9h.8M117.1 83.2h.8M135.6 84.1h.8M122.5 88.4h.8M119.9 92.8h.8M143.7 86.4h.8M131.1 96.1h.8M119.6 89.2h.8M108.9 96.0h.8M117.1 86.3h.8M123.2 85.2h.8M112.0 88.3h.8M137.5 88.9h.8M127.8 81.8h.8M118.5 81.4h.8M121.4 93.4h.8M125.1 84.8h.8M130.6 95.4h.8M127.0 87.6h.8M122.0 86.5h.8M121.2 91.8h.8M119.5 95.4h.8M148.8 86.9h.8M126.0 94.6h.8M129.0 88.7h.8M117.6 95.6h.8M128.8 92.8h.8M114.4 93.5h.8M130.6 89.0h.8M110.6 82.4h.8M120.1 93.1h.8M123.0 83.5h.8M107.9 86.9h.8M122.6 85.3h.8M107.2 99.8h.8M114.0 89.1h.8M116.9 86.7h.8M122.9 88.3h.8M128.8 83.4h.8M121.7 94.3h.8M134.5 93.1h.8M122.9 81.3h.8M106.2 95.5h.8M129.4 93.2h.8M111.8 83.4h.8M124.1 84.3h.8M138.6 86.5h.8M116.8 94.9h.8M125.8 84.9h.8M110.0 88.6h.8M111.5 79.1h.8M128.9 93.9h.8M132.4 92.4h.8M115.7 83.4h.8M111.2 94.3h.8M127.3 79.2h.8M131.6 97.0h.8M122.8 83.2h.8M140.5 82.6h.8M121.6 79.3h.8M109.7 80.4h.8M133.6 96.6h.8M118.4 82.3h.8M121.9 92.1h.8M106.9 83.5h.8M121.5 94.0h.8M123.3 92.5h.8M109.7 75.9h.8M125.7 84.8h.8M121.2 87.9h.8M127.4 85.6h.8M137.3 90.2h.8M127.9 93.6h.8M133.1 92.3h.8M141.6 92.7h.8M128.3 92.6h.8M115.9 86.2h.8M115.9 96.6h.8M126.2 100.1h.8M127.2 83.3h.8M140.4 91.9h.8M134.7 91.2h.8M119.1 91.0h.8M111.0 83.2h.8M113.4 87.0h.8M108.5 89.4h.8M141.5 89.7h.8M131.6 88.8h.8M126.5 89.8h.8M116.9 90.4h.8M107.3 92.5h.8M119.5 83.8h.8M118.8 93.2h.8M115.5 92.7h.8M128.4 98.9h.8M111.3 89.4h.8M127.8 98.6h.8M125.2 94.3h.8M107.3 86.7h.8M139.7 88.4h.8M144.9 85.8h.8M119.6 80.9h.8M129.1 91.5h.8M143.4 90.9h.8M119.9 81.9h.8M121.6 95.4h.8M130.2 97.0h.8M131.5 89.7h.8M128.8 91.0h.8M108.7 99.8h.8M126.4 84.0h.8M126.5 91.6h.8M132.8 98.3h.8M138.4 84.6h.8M126.0 92.0h.8M111.0 87.3h.8M124.5 94.3h.8M145.3 91.7h.8M116.2 76.5h.8M133.7 89.2h.8M121.4 84.3h.8M130.1 79.7h.8M123.6 90.7h.8M125.6 97.5h.8M121.5 90.5h.8M131.4 81.1h.8M119.5 90.4h.8M132.4 85.4h.8M130.9 92.2h.8M107.0 81.5h.8M107.6 90.8h.8M124.7 94.2h.8M131.1 86.8h.8M133.7 94.7h.8M127.4 92.8h.8M109.1 92.1h.8M111.7 83.1h.8M118.9 90.8h.8M121.9 88.1h.8M112.1 91.1h.8M114.8 81.9h.8M123.5 98.4h.8M118.3 83.9h.8M137.0 99.9h.8M119.4 88.8h.8M123.9 95.7h.8M127.1 79.5h.8M111.0 82.9h.8M127.0 90.6h.8M141.2 88.4h.8M125.7 90.4h.8M125.5 98.5h.8M136.1 86.5h.8M129.7 87.8h.8M123.6 90.9h.8M122.7 87.3h.8M138.8 88.5h.8M129.9 99.7h.8M129.1 95.9h.8M137.0 96.3h.8M140.5 81.7h.8M143.0 90.2h.8M107.9 89.9h.8M106.9 84.2h.8M125.6 90.9h.8M114.1 88.6h.8M121.5 90.4h.8M122.4 88.7h.8M131.7 80.7h.8M117.3 90.8h.8M118.3 86.8h.8M117.9 91.2h.8M135.6 88.9h.8M119.7 92.1h.8M120.0 78.8h.8M125.3 87.8h.8M116.5 93.6h.8M123.0 86.7h.8M122.6 89.3h.8M127.1 91.3h.8M117.5 82.7h.8M111.0 89.2h.8M110.4 94.4h.8M108.6 79.6h.8M120.5 79.7h.8M139.6 84.2h.8M122.0 88.6h.8M113.9 79.8h.8M107.1 93.3h.8M122.4 94.9h.8M117.1 94.2h.8M131.9 93.5h.8M137.7 89.0h.8M138.7 85.9h.8M140.0 74.1h.8M122.6 85.4h.8M122.5 96.0h.8M130.0 90.6h.8M140.4 81.4h.8M114.0 98.8h.8M125.9 78.0h.8M126.1 83.1h.8M138.0 96.6h.8M116.8 97.5h.8M113.7 95.3h.8M128.6 89.3h.8M107.6 88.4h.8M112.4 75.9h.8M128.6 92.1h.8M130.6 90.4h.8M115.7 72.9h.8M127.5 95.6h.8M116.3 81.8h.8M122.1 80.3h.8M122.6 94.5h.8M138.4 91.5h.8M124.6 94.3h.8M137.2 88.1h.8M109.6 85.4h.8M109.3 84.8h.8M121.2 92.0h.8M124.1 90.4h.8M118.8 92.5h.8M131.8 94.4h.8M138.2 88.3h.8M119.9 99.8h.8M124.6 92.4h.8M119.0 95.6h.8M118.3 84.2h.8M121.9 87.4h.8M131.3 87.8h.8M123.8 88.7h.8M126.1 86.3h.8M134.1 81.7h.8M118.5 85.9h.8M129.3 90.2h.8M127.6 88.1h.8M115.0 83.5h.8M119.0 86.9h.8M125.4 92.1h.8M132.8 89.4h.8M114.6 83.8h.8M123.1 92.1h.8M143.0 91.1h.8M111.5 97.0h.8M134.4 97.8h.8M122.4 95.5h.8M117.4 89.6h.8M120.2 95.5h.8M123.2 85.9h.8M125.0 93.8h.8M115.0 93.7h.8M115.0 84.9h.8M124.8 88.6h.8M112.2 80.5h.8M122.7 91.4h.8M117.7 91.1h.8M106.5 92.3h.8M126.9 91.6h.8M116.1 90.5h.8M123.9 96.2h.8M125.4 91.5h.8M114.9 95.0h.8M134.8 87.1h.8M129.2 91.8h.8M122.0 82.5h.8M140.9 79.2h.8M125.7 87.8h.8M134.5 87.5h.8M122.9 93.5h.8M127.3 87.0h.8M129.6 92.3h.8M132.9 87.0h.8M122.0 87.7h.8M113.7 91.5h.8M126.8 98.2h.8M119.1 92.2h.8M134.5 89.3h.8M123.2 90.8h.8M115.3 84.3h.8M134.2 91.0h.8M121.7 82.8h.8M123.7 96.8h.8M110.5 84.8h.8M134.1 98.3h.8M138.7 86.8h.8M128.8 85.7h.8M127.9 87.9h.8M124.6 97.7h.8M126.0 88.6h.8M123.1 91.5h.8M117.1 91.2h.8M128.8 99.0h.8M109.6 95.1h.8M148.0 91.1h.8M123.8 96.6h.8M117.2 87.2h.8M126.0 86.6h.8M134.1 90.0h.8M117.8 95.3h.8M113.9 97.2h.8M132.6 90.8h.8M132.8 99.3h.8M136.9 90.0h.8M121.9 96.4h.8M107.2 86.5h.8M127.6 93.3h.8M141.9 100.1h.8M125.9 92.5h.8M108.8 88.9h.8M125.2 88.7h.8M123.1 93.5h.8M112.6 86.7h.8M111.5 80.2h.8M130.5 88.8h.8M132.5 87.9h.8M144.6 94.1h.8M124.1 90.7h.8M120.4 94.6h.8M143.3 87.6h.8M111.2 93.4h.8M133.6 81.4h.8M115.3 84.3h.8M128.3 92.9h.8M114.9 83.5h.8M129.6 78.2h.8M129.2 89.1h.8M142.4 95.7h.8M116.5 88.4h.8M119.6 85.8h.8M123.3 95.5h.8M106.9 88.7h.8M138.0 94.2h.8M114.1 85.4h.8M113.6 80.8h.8M134.4 90.4h.8M115.3 81.8h.8M118.5 87.1h.8M140.3 87.4h.8M123.7 96.1h.8M129.4 89.0h.8M128.7 87.5h.8M121.6 84.5h.8M113.2 81.5h.8M127.7 93.0h.8M124.3 94.5h.8M128.0 90.7h.8M113.4 93.4h.8M134.8 93.6h.8M135.4 87.3h.8M112.4 97.1h.8M116.5 91.4h.8M120.5 90.1h.8M119.7 86.9h.8M124.6 79.0h.8M113.2 83.6h.8M114.9 75.5h.8M128.4 99.3h.8M120.0 94.2h.8M128.7 82.9h.8M135.1 80.4h.8M116.6 88.0h.8M135.4 90.7h.8M121.2 85.4h.8M123.4 90.2h.8M130.0 97.9h.8M130.1 90.1h.8M120.9 99.1h.8M124.6 89.9h.8M141.0 98.9h.8M128.4 89.4h.8M116.0 96.1h.8M117.8 95.5h.8M114.5 90.6h.8M126.6 90.8h.8M124.9 92.2h.8M111.0 83.7h.8M121.2 84.7h.8M115.7 90.2h.8M134.6 86.8h.8M128.3 91.1h.8M118.8 84.6h.8M120.9 85.9h.8M128.0 80.0h.8M134.1 94.3h.8M128.4 98.5h.8M128.7 80.3h.8M123.0 92.5h.8M115.5 83.6h.8M126.9 92.9h.8M118.1 88.6h.8M117.3 86.8h.8M121.9 96.1h.8M139.0 91.8h.8M124.1 94.7h.8M112.2 83.2h.8M125.0 94.8h.8M118.2 86.2h.8M126.6 93.5h.8M125.1 79.2h.8M116.9 75.7h.8M125.0 85.2h.8M115.8 98.5h.8M136.0 92.7h.8M125.3 91.0h.8M116.5 89.7h.8M142.1 85.1h.8M115.7 90.9h.8M131.6 94.7h.8M112.6 89.3h.8M119.8 83.0h.8M123.3 87.3h.8M131.9 92.4h.8M114.5 90.5h.8" stroke="#333" stroke-width=".8" opacity="0.3" fill="none"/>
<path d="M151.4 85.8h.8M150.2 94.4h.8M150.9 80.3h.8M147.7 93.1h.8M151.4 87.3h.8M142.2 91.0h.8M154.1 90.4h.8M161.4 93.2h.8M148.9 86.0h.8M168.1 92.6h.8M155.8 83.5h.8M162.2 91.7h.8M161.5 90.4h.8M155.0 86.2h.8M157.2 90.2h.8M160.2 94.5h.8M157.2 86.3h.8M161.6 96.9h.8M147.2 91.1h.8M159.3 91.7h.8M158.9 88.5h.8M153.6 97.5h.8M169.7 81.9h.8M132.3 91.2h.8M148.6 86.4h.8M140.6 90.8h.8M154.0 86.3h.8M167.4 94.9h.8M150.9 92.3h.8M154.2 94.8h.8M159.6 88.8h.8M159.3 85.4h.8M161.4 96.6h.8M151.3 91.8h.8M139.9 93.7h.8M162.2 83.8h.8M169.7 89.6h.8M139.4 82.1h.8M162.1 87.6h.8M164.2 81.2h.8M153.6 93.9h.8M148.6 92.4h.8M151.4 90.7h.8M143.7 92.9h.8M166.0 83.3h.8M163.7 74.0h.8M152.4 80.4h.8M157.2 85.3h.8M149.6 84.8h.8M157.1 86.6h.8M146.6 87.9h.8M158.1 84.7h.8M164.2 80.6h.8M158.1 87.0h.8M168.3 85.8h.8M148.7 82.2h.8M145.0 87.3h.8M146.1 96.7h.8M158.2 78.7h.8M156.3 93.6h.8M154.5 91.4h.8M153.5 90.1h.8M156.4 85.4h.8M157.5 89.8h.8M154.2 85.5h.8M145.6 90.2h.8M161.7 76.8h.8M149.8 95.8h.8M162.5 85.4h.8M166.3 84.0h.8M147.6 98.8h.8M150.7 87.9h.8M140.1 83.9h.8M144.2 88.3h.8M138.4 94.4h.8M151.4 85.9h.8M149.0 92.8h.8M167.9 86.9h.8M168.6 97.1h.8M166.2 90.5h.8M141.5 92.4h.8M150.9 90.0h.8M138.0 87.6h.8M156.5 84.3h.8M157.1 97.5h.8M156.5 85.5h.8M146.4 91.1h.8M149.3 77.4h.8M156.8 93.2h.8M147.5 96.4h.8M158.9 95.0h.8M141.1 89.0h.8M168.5 99.2h.8M166.1 89.0h.8M156.1 85.8h.8M164.1 85.5h.8M155.6 78.5h.8M141.3 98.0h.8M155.0 90.1h.8M135.2 88.8h.8M133.6 88.2h.8M149.8 87.9h.8M143.5 82.1h.8M143.7 92.3h.8M154.1 93.2h.8M145.0 92.0h.8M150.6 89.5h.8M162.7 89.2h.8M151.4 80.5h.8M155.1 93.0h.8M148.9 88.7h.8M138.9 82.2h.8M158.0 95.6h.8M151.8 80.5h.8M151.2 81.0h.8M152.1 98.8h.8M157.1 88.2h.8M163.6 87.1h.8M157.4 90.0h.8M158.4 81.5h.8M160.8 93.5h.8M134.4 75.2h.8M146.6 96.6h.8M154.7 92.5h.8M159.4 93.5h.8M148.9 86.0h.8M157.8 92.1h.8M159.6 90.7h.8M150.2 94.6h.8M158.7 94.4h.8M132.0 94.2h.8M132.9 90.1h.8M148.6 89.6h.8M150.3 87.4h.8M156.2 90.8h.8M147.4 76.0h.8M147.6 91.8h.8M147.0 91.2h.8M151.2 84.2h.8M164.9 97.5h.8M153.6 88.7h.8M163.0 82.2h.8M146.8 94.8h.8M162.5 86.5h.8M147.6 90.8h.8M142.0 86.4h.8M152.4 76.4h.8M159.8 92.9h.8M164.0 81.6h.8M143.1 84.8h.8M142.9 99.6h.8M145.8 87.4h.8M156.3 91.3h.8M167.4 83.4h.8M162.3 89.8h.8M144.1 89.8h.8M142.0 97.4h.8M148.0 94.2h.8M166.1 85.8h.8M146.5 89.7h.8M145.1 93.6h.8M156.1 85.1h.8M148.4 92.7h.8M141.5 97.7h.8M147.5 88.0h.8M146.2 97.4h.8M161.9 95.7h.8M160.3 89.5h.8M169.7 92.4h.8M158.4 92.0h.8M161.1 90.4h.8M153.0 80.7h.8M135.2 85.3h.8M149.1 90.4h.8M154.3 78.7h.8M151.5 90.5h.8M165.0 82.8h.8M134.3 80.8h.8M157.5 89.4h.8M155.8 89.8h.8M151.2 81.9h.8M158.6 91.0h.8M159.7 95.5h.8M143.4 76.9h.8M138.5 100.1h.8M146.3 91.1h.8M154.4 92.8h.8M153.0 85.9h.8M156.7 91.7h.8M145.8 95.8h.8M164.8 91.3h.8M153.5 87.8h.8M139.7 92.4h.8M145.7 86.4h.8M163.5 84.2h.8M149.8 93.5h.8M164.4 85.6h.8M158.0 91.5h.8M144.3 94.3h.8M156.9 82.9h.8M143.0 93.0h.8M141.3 85.4h.8M135.3 96.2h.8M148.6 86.0h.8M149.4 91.9h.8M167.6 83.8h.8M158.5 79.6h.8M168.2 88.5h.8M148.2 97.0h.8M153.5 96.1h.8M164.2 97.6h.8M147.3 89.3h.8M157.8 88.0h.8M168.2 85.3h.8M163.5 96.1h.8M136.9 84.0h.8M146.4 86.2h.8M158.0 88.1h.8M155.2 86.6h.8M153.8 91.5h.8M161.2 84.9h.8M153.5 85.0h.8M152.9 81.5h.8M163.1 92.5h.8M153.4 85.4h.8M150.4 85.5h.8M140.6 97.5h.8M144.0 92.0h.8M160.0 80.8h.8M137.2 91.8h.8M136.6 96.4h.8M150.0 89.4h.8M154.5 86.1h.8M153.2 87.4h.8M165.7 88.5h.8M154.2 86.2h.8M148.8 85.2h.8M154.6 98.6h.8M164.5 90.2h.8M169.5 94.3h.8M156.4 88.1h.8M144.6 90.3h.8M151.7 80.8h.8M142.9 99.1h.8M156.4 91.6h.8M156.3 86.6h.8M158.7 94.6h.8M151.7 91.7h.8M163.7 86.5h.8M156.0 85.2h.8M159.9 87.1h.8M164.8 85.0h.8M169.7 87.4h.8M146.9 84.3h.8M160.5 84.5h.8M159.2 81.6h.8M154.3 85.2h.8M138.2 91.2h.8M161.8 95.7h.8M145.9 87.2h.8M156.9 91.5h.8M144.2 90.1h.8M153.5 93.9h.8M140.1 86.1h.8M150.0 87.4h.8M161.0 85.7h.8M162.1 94.3h.8M163.2 87.9h.8M147.0 87.7h.8M160.5 89.6h.8M159.7 92.0h.8M146.5 84.1h.8M167.5 86.5h.8M140.2 98.7h.8M147.0 84.1h.8M163.2 83.1h.8M146.7 94.4h.8M155.7 89.3h.8M148.7 87.8h.8M150.0 88.9h.8M161.4 82.4h.8M146.2 78.1h.8M168.0 88.6h.8M154.4 88.7h.8M163.5 90.7h.8M162.2 88.1h.8M153.4 88.7h.8M137.7 94.7h.8M140.3 83.8h.8M160.5 89.3h.8M161.8 97.9h.8M152.5 99.7h.8M146.6 88.6h.8M163.5 87.9h.8M153.4 87.2h.8M166.8 76.2h.8M166.0 94.5h.8M153.8 91.9h.8M145.8 94.8h.8M167.1 88.7h.8M151.5 86.5h.8M152.8 82.5h.8M142.3 97.6h.8M154.3 91.9h.8M157.3 91.5h.8M140.8 84.1h.8M160.2 94.2h.8M144.2 86.0h.8M144.9 92.4h.8M157.6 89.2h.8M148.7 90.8h.8M154.8 85.1h.8M157.5 85.5h.8M163.1 92.3h.8M148.3 92.1h.8M155.1 85.3h.8M146.3 80.4h.8M144.3 90.8h.8M165.4 85.7h.8M155.9 90.8h.8M161.5 91.3h.8M165.5 93.0h.8M147.6 91.1h.8M133.4 88.1h.8M154.7 92.0h.8M151.8 93.3h.8M166.4 84.6h.8M149.6 90.4h.8M158.9 89.7h.8M162.0 82.9h.8M161.5 95.1h.8M164.5 91.2h.8M152.4 91.1h.8M153.8 80.7h.8M149.1 88.8h.8M149.9 84.2h.8M152.4 87.1h.8M155.1 88.7h.8M156.0 94.2h.8M155.7 91.1h.8M143.5 73.7h.8M150.9 92.5h.8M151.4 85.8h.8M143.3 93.6h.8M149.8 90.3h.8M164.7 91.8h.8M163.1 92.6h.8M148.6 89.2h.8M149.4 83.7h.8M157.2 85.0h.8M169.6 85.1h.8M149.6 89.5h.8M149.8 89.3h.8M149.0 81.6h.8M132.8 82.3h.8" stroke="#333" stroke-width=".8" opacity="0.28" fill="none"/>
<path d="M136.2 92.4h.8M123.9 87.4h.8M121.2 91.6h.8M110.0 85.6h.8M114.5 96.9h.8M113.0 96.4h.8M121.8 90.2h.8M134.7 94.8h.8M131.0 84.1h.8M132.7 99.2h.8M121.6 87.3h.8M112.7 95.6h.8M125.1 90.0h.8M111.4 98.9h.8M130.4 89.9h.8M135.8 84.8h.8M130.4 84.5h.8M135.2 88.5h.8M133.5 87.7h.8M126.1 96.3h.8M114.4 90.5h.8M115.0 94.7h.8M117.1 87.9h.8M120.7 96.4h.8M113.1 89.9h.8M119.5 87.0h.8M115.4 89.1h.8M124.3 81.5h.8M124.6 83.5h.8M113.8 89.6h.8M120.2 95.4h.8M118.2 80.2h.8M108.0 91.0h.8M124.8 95.9h.8M117.7 93.7h.8M112.9 97.1h.8M121.9 86.3h.8M124.1 99.6h.8M114.9 83.2h.8M113.4 83.6h.8M122.0 91.9h.8M121.0 91.1h.8M133.2 88.4h.8M111.2 77.4h.8M124.7 86.3h.8M120.3 92.3h.8M126.7 81.4h.8M113.9 90.4h.8M121.2 96.3h.8M118.0 78.6h.8M133.0 81.0h.8M113.8 92.1h.8M124.6 92.9h.8M127.4 86.1h.8M133.8 80.7h.8M117.2 91.6h.8M123.7 84.7h.8M136.7 98.1h.8M114.1 92.1h.8M116.8 87.6h.8M131.4 90.7h.8M121.5 90.6h.8M111.9 96.7h.8M115.7 97.2h.8M118.4 87.5h.8M135.9 91.1h.8M116.7 87.1h.8M128.0 87.8h.8M112.4 86.3h.8M121.4 91.3h.8M116.6 97.0h.8M113.9 86.1h.8M127.0 92.6h.8M119.0 95.3h.8M109.8 99.0h.8M123.0 97.3h.8M120.7 91.1h.8M127.2 80.4h.8M120.6 99.4h.8M130.8 91.8h.8M124.3 97.6h.8M125.5 79.6h.8M114.0 88.4h.8M123.8 87.5h.8M121.6 99.2h.8M130.9 93.3h.8M122.6 90.4h.8M125.8 91.3h.8M116.0 94.3h.8M115.1 89.8h.8M119.3 83.7h.8M127.9 89.6h.8M112.0 89.6h.8M110.1 97.9h.8M117.4 93.9h.8M113.8 85.3h.8M121.7 92.3h.8M130.8 88.5h.8M132.4 95.3h.8M114.6 89.0h.8M114.3 99.4h.8M117.6 94.9h.8M130.7 88.6h.8M118.1 91.9h.8M115.5 83.1h.8M113.8 91.9h.8M124.2 99.7h.8M106.1 92.8h.8M112.2 96.3h.8M128.7 90.7h.8M135.7 88.0h.8M117.8 84.2h.8M116.6 90.6h.8M128.5 97.0h.8M120.1 86.0h.8M119.5 87.7h.8M118.3 87.8h.8M114.7 89.7h.8M117.9 89.1h.8M110.1 90.8h.8M127.6 93.5h.8M117.6 83.8h.8M110.9 83.6h.8M116.8 88.3h.8M106.6 93.7h.8M108.7 86.3h.8M116.1 94.5h.8M138.9 88.1h.8M120.1 87.9h.8M120.7 89.1h.8M144.5 84.1h.8M121.5 85.7h.8M125.7 87.2h.8M127.6 84.1h.8M141.3 91.1h.8M106.7 93.8h.8M118.3 83.7h.8M126.4 87.2h.8M129.1 87.0h.8M130.5 90.8h.8M125.7 90.9h.8M119.3 88.0h.8M126.5 93.9h.8M137.6 83.8h.8M132.2 89.6h.8M124.6 85.7h.8M137.2 85.5h.8M121.8 86.1h.8M139.7 96.8h.8M110.8 87.6h.8M125.7 87.7h.8M119.4 84.2h.8M124.7 84.1h.8M119.6 98.9h.8M125.8 86.4h.8M119.4 84.8h.8M123.5 93.8h.8M130.8 88.5h.8M111.9 89.6h.8M137.4 91.5h.8M121.9 78.8h.8M118.7 93.0h.8M114.1 97.3h.8M117.5 85.3h.8M117.4 89.5h.8M131.4 87.0h.8M106.7 89.6h.8M127.1 98.3h.8M112.5 98.0h.8M128.5 92.5h.8M115.7 85.2h.8M114.0 95.1h.8M124.4 95.8h.8M138.6 90.1h.8M110.9 87.6h.8M119.2 88.0h.8M123.8 85.5h.8M132.8 82.7h.8M115.3 80.9h.8M110.1 93.2h.8M128.1 89.0h.8M130.0 93.4h.8M117.4 89.8h.8M118.6 92.0h.8M127.3 96.6h.8M126.3 95.8h.8M113.1 88.6h.8M143.1 91.3h.8M123.3 91.5h.8M123.8 82.9h.8M116.4 89.1h.8M124.0 85.4h.8M121.6 86.1h.8M110.8 86.5h.8M115.4 94.5h.8M134.4 93.1h.8M120.6 87.0h.8M108.6 87.2h.8M136.3 96.2h.8M124.5 88.7h.8M122.5 92.3h.8M122.4 92.3h.8M115.7 90.3h.8M119.4 95.8h.8M111.5 97.0h.8M121.7 87.3h.8M122.7 90.7h.8M120.4 92.3h.8M117.4 80.9h.8M128.7 89.9h.8M137.2 92.1h.8M116.4 93.0h.8M142.1 95.9h.8M112.8 89.5h.8M108.3 93.6h.8M127.5 84.5h.8M126.5 95.1h.8M129.6 86.4h.8M116.4 84.0h.8M111.1 91.7h.8M122.9 97.0h.8M124.9 88.3h.8M109.9 98.3h.8M124.0 89.9h.8M113.6 84.4h.8M128.1 84.8h.8M127.7 93.4h.8M119.1 81.4h.8M126.1 97.6h.8M115.2 83.3h.8M132.1 90.8h.8M117.0 96.6h.8M120.1 92.5h.8M118.9 86.0h.8M124.4 85.5h.8M106.8 87.2h.8M133.4 95.9h.8M141.7 95.4h.8M136.8 91.4h.8M118.7 92.5h.8M114.1 94.0h.8M118.5 91.4h.8M115.0 89.3h.8M131.2 88.9h.8M116.6 91.6h.8M130.3 89.1h.8M112.2 81.7h.8M110.7 95.7h.8M121.7 92.6h.8M132.0 91.6h.8M126.8 87.4h.8M108.3 93.4h.8M121.7 93.1h.8M113.1 89.3h.8M140.3 85.6h.8M123.4 97.0h.8M120.5 90.7h.8M118.6 96.9h.8M121.7 88.1h.8M126.3 88.8h.8M118.0 98.3h.8M131.2 90.6h.8M129.6 94.4h.8M127.6 90.3h.8M123.1 92.2h.8M127.5 91.9h.8M117.6 89.7h.8M126.5 84.8h.8M122.4 94.1h.8M124.0 88.6h.8M122.3 87.5h.8M131.2 88.1h.8M107.8 83.7h.8M125.1 91.2h.8M118.3 83.1h.8M121.2 85.6h.8M116.7 90.1h.8M115.7 91.7h.8M116.0 87.6h.8M120.5 97.8h.8M136.4 95.1h.8M116.0 90.1h.8M130.6 94.3h.8" stroke="#fff" stroke-width=".8" opacity="0.4" fill="none"/>
<path d="M141.7 88.8h.8M148.7 92.5h.8M159.5 86.6h.8M153.8 97.8h.8M150.4 86.9h.8M166.1 88.9h.8M158.2 83.3h.8M168.5 93.6h.8M157.3 92.3h.8M150.6 86.9h.8M142.2 90.8h.8M164.2 93.0h.8M161.7 92.3h.8M147.3 83.1h.8M159.5 89.8h.8M162.2 87.8h.8M147.6 91.1h.8M150.1 81.6h.8M149.7 85.1h.8M145.8 86.6h.8M161.9 99.8h.8M168.0 87.2h.8M163.4 88.7h.8M157.7 86.0h.8M153.9 81.4h.8M168.5 85.6h.8M159.1 86.4h.8M156.6 83.7h.8M151.6 93.3h.8M159.2 80.2h.8M161.2 83.1h.8M156.7 91.4h.8M149.5 87.6h.8M152.6 90.9h.8M161.7 95.3h.8M157.1 98.2h.8M147.1 97.2h.8M152.5 92.6h.8M153.5 89.5h.8M147.3 90.8h.8M170.4 89.8h.8M154.3 89.1h.8M160.1 88.1h.8M154.5 90.1h.8M164.7 93.4h.8M146.3 86.2h.8M154.7 92.9h.8M162.1 88.1h.8M165.5 95.6h.8M167.0 90.0h.8M159.0 82.1h.8M140.6 86.3h.8M160.1 93.9h.8M153.7 93.8h.8M159.0 96.0h.8M142.0 85.3h.8M147.0 84.3h.8M167.4 84.9h.8M148.0 87.3h.8M161.4 87.0h.8M160.3 91.6h.8M149.5 78.3h.8M147.3 83.4h.8M167.3 85.8h.8M146.1 90.8h.8M154.9 84.8h.8M163.1 93.2h.8M156.7 85.6h.8M147.7 79.7h.8M157.5 90.9h.8M147.3 89.2h.8M141.1 91.9h.8M151.2 86.8h.8M159.4 88.5h.8M162.3 91.4h.8M163.6 89.6h.8M137.6 95.3h.8M141.2 93.8h.8M156.5 82.7h.8M155.0 93.1h.8M146.5 89.3h.8M148.7 84.5h.8M149.7 94.9h.8M159.9 88.9h.8M153.9 89.6h.8M156.7 89.9h.8M141.0 93.3h.8M147.8 77.2h.8M160.0 83.6h.8M153.4 88.6h.8M149.9 91.5h.8M152.4 87.8h.8M147.0 87.8h.8M146.4 89.2h.8M164.9 93.7h.8M157.9 82.8h.8M162.6 93.3h.8M154.6 87.5h.8M163.0 84.1h.8M151.5 99.6h.8M162.3 79.9h.8M154.7 95.3h.8M149.6 91.8h.8M155.3 82.4h.8M149.6 94.2h.8M163.8 86.3h.8M163.3 85.8h.8M156.4 88.9h.8M144.7 90.5h.8M151.4 76.5h.8M148.0 85.2h.8M147.9 84.6h.8M149.1 77.8h.8M161.5 89.4h.8M156.5 87.8h.8M155.0 87.8h.8M145.9 82.1h.8M155.1 93.7h.8M156.3 96.4h.8M143.8 87.8h.8M149.6 94.7h.8M167.8 86.6h.8M160.3 87.9h.8M146.6 88.5h.8M146.3 96.1h.8M159.1 94.5h.8M157.3 77.9h.8M160.8 89.4h.8M135.7 89.5h.8M162.5 96.9h.8M146.5 92.6h.8M157.1 88.2h.8M152.3 91.5h.8M159.0 92.0h.8M151.3 83.0h.8M164.9 95.0h.8M150.1 88.9h.8M160.9 81.0h.8M158.4 100.1h.8M156.6 85.8h.8M156.2 87.1h.8M155.9 80.8h.8M144.4 82.2h.8M161.6 88.6h.8M163.6 79.7h.8M149.8 95.7h.8M148.3 80.5h.8M148.6 87.4h.8M154.4 95.0h.8M165.0 96.1h.8M159.1 86.7h.8M150.6 82.2h.8M164.5 94.8h.8M155.2 84.9h.8M159.8 91.3h.8M155.7 83.7h.8M156.4 86.4h.8M160.3 91.8h.8M158.0 87.0h.8M166.5 92.6h.8M164.5 92.9h.8M159.7 90.8h.8M146.1 80.6h.8M147.1 91.8h.8M161.7 89.9h.8M155.2 97.5h.8M151.4 80.8h.8M142.3 87.5h.8M160.0 92.4h.8M152.8 92.8h.8M154.1 85.7h.8M151.5 92.5h.8M162.0 83.8h.8M146.7 89.6h.8M144.7 90.9h.8M158.5 86.2h.8M154.3 91.2h.8M140.8 88.9h.8M159.2 93.3h.8M163.6 88.7h.8M143.2 95.2h.8M160.6 86.1h.8M162.6 93.8h.8M153.4 78.1h.8M150.8 85.5h.8M147.9 88.6h.8M146.0 90.8h.8M169.3 83.5h.8M162.7 86.6h.8M158.8 88.4h.8M164.6 85.7h.8M160.2 85.4h.8M156.3 88.9h.8" stroke="#fff" stroke-width=".8" opacity="0.4" fill="none"/>
<ellipse cx="126" cy="90.5" rx="5" ry="8" fill="#a2a2a2" opacity="0.75" filter="url(#bl1)" transform="rotate(0 126 90.5)"/>
<path d="M130.3 82.4h.8M120.7 96.7h.8M127.5 98.1h.8M122.0 91.0h.8M128.4 98.5h.8M125.8 87.9h.8M128.8 89.5h.8M123.1 93.7h.8M118.5 85.1h.8M131.3 87.6h.8M124.7 91.8h.8M130.4 92.5h.8M122.2 87.3h.8M130.1 89.4h.8M123.5 94.2h.8M121.8 86.6h.8M123.3 91.7h.8M124.1 95.3h.8M115.5 94.6h.8M123.5 88.7h.8M128.2 91.0h.8M122.0 97.2h.8M128.3 87.6h.8M126.8 84.7h.8M121.2 88.6h.8M127.4 90.5h.8M123.0 83.4h.8M119.4 97.7h.8M127.4 86.2h.8M130.6 92.6h.8M124.4 87.1h.8M130.4 91.6h.8M132.4 91.7h.8M123.7 87.1h.8M123.3 91.2h.8M127.0 92.9h.8M127.8 85.0h.8M125.2 85.5h.8M127.9 83.7h.8M123.7 85.9h.8M123.6 88.8h.8M131.9 88.8h.8M120.4 88.6h.8M128.9 92.7h.8M126.9 99.6h.8M130.3 90.4h.8M130.7 83.6h.8M125.3 85.8h.8M126.7 97.8h.8M124.1 97.6h.8M122.0 96.8h.8M119.4 85.9h.8M129.9 89.6h.8M126.6 89.9h.8M126.7 89.1h.8M122.2 88.6h.8M126.4 85.7h.8M127.8 98.5h.8M119.6 87.4h.8M124.9 90.1h.8M126.4 86.5h.8M125.9 90.0h.8M125.7 97.4h.8M126.5 82.9h.8M119.9 92.8h.8M124.7 87.0h.8M120.7 88.5h.8M125.6 86.7h.8M124.6 94.3h.8M129.1 92.6h.8M125.3 83.5h.8M129.0 97.2h.8M131.0 95.6h.8M127.1 91.8h.8M125.9 96.0h.8M129.0 88.5h.8M126.0 82.3h.8M123.2 88.6h.8M135.5 86.1h.8M129.6 90.4h.8M124.9 93.0h.8M118.3 94.5h.8M133.5 91.4h.8M125.8 90.8h.8M128.6 87.7h.8M126.5 92.4h.8M124.6 91.9h.8M127.3 93.4h.8" stroke="#333" stroke-width=".8" opacity="0.25" fill="none"/>
<ellipse cx="133.3" cy="66.5" rx="3.6" ry="7.5" fill="#ccc" opacity="0.6" filter="url(#bl2)" transform="rotate(0 133.3 66.5)"/>
<path d="M129.5 62.1h.8M131.6 74.6h.8M134.3 54.1h.8M128.3 80.0h.8M134.6 56.7h.8M129.8 67.0h.8M138.8 77.7h.8M131.9 63.8h.8M140.8 58.9h.8M139.4 68.4h.8M133.7 75.3h.8M135.2 60.0h.8M127.4 66.1h.8M135.3 75.8h.8M123.2 75.7h.8M135.7 76.9h.8M136.4 67.5h.8M135.0 68.9h.8M130.9 65.2h.8M133.8 62.8h.8M127.6 55.6h.8M135.3 69.8h.8M133.7 57.6h.8M136.6 63.2h.8M125.2 77.3h.8M127.5 82.2h.8M135.4 62.8h.8M124.2 60.9h.8M139.1 75.8h.8M134.3 53.7h.8M131.8 64.0h.8M135.1 65.1h.8M134.6 54.2h.8M130.8 76.4h.8M127.7 72.7h.8M142.3 70.7h.8M127.9 75.0h.8M126.1 68.4h.8M131.7 74.9h.8M137.9 67.4h.8M140.3 73.1h.8M131.4 58.9h.8M142.9 63.1h.8M134.9 65.2h.8M131.5 54.4h.8M132.7 65.2h.8M137.1 62.3h.8M127.2 58.3h.8M133.1 67.8h.8M136.1 63.2h.8M135.4 67.0h.8M139.9 65.6h.8M133.9 70.1h.8M138.0 59.4h.8M131.5 64.0h.8M125.0 75.4h.8M137.5 66.2h.8M146.4 75.2h.8M141.2 77.3h.8M136.8 55.8h.8M139.3 69.0h.8M128.7 66.4h.8M136.2 73.1h.8M134.0 62.2h.8M136.3 60.5h.8M133.0 71.5h.8M127.7 68.7h.8M125.7 59.3h.8M128.5 65.4h.8M136.1 65.6h.8M136.9 66.7h.8M132.5 69.6h.8M132.4 67.0h.8M137.3 61.9h.8M137.8 58.0h.8M132.4 53.5h.8M131.2 77.5h.8M134.7 75.2h.8M127.6 58.7h.8M135.1 72.0h.8M136.6 53.9h.8M135.3 65.5h.8M133.8 69.5h.8M132.2 53.8h.8M129.1 55.5h.8M128.2 65.0h.8M138.4 60.8h.8M130.3 57.7h.8M126.6 66.5h.8M131.4 64.3h.8M129.6 69.5h.8M128.6 70.0h.8M130.7 71.7h.8M129.8 69.2h.8M135.0 65.4h.8M139.7 67.3h.8M129.8 71.0h.8M130.1 62.1h.8M133.3 67.3h.8M139.9 53.4h.8M132.3 74.2h.8M132.7 68.3h.8M139.2 57.1h.8M133.5 71.7h.8M131.0 53.3h.8M129.4 67.4h.8M134.0 79.3h.8M138.5 54.8h.8M137.3 72.6h.8M139.6 64.9h.8M131.1 67.1h.8M139.3 70.5h.8M139.9 71.7h.8M131.0 58.7h.8M140.5 55.0h.8M131.9 63.7h.8M129.7 61.9h.8M133.3 83.2h.8M133.0 62.2h.8M133.8 72.8h.8M130.1 63.1h.8M126.5 71.1h.8M136.0 76.9h.8M128.6 81.8h.8M136.7 64.0h.8M131.8 63.8h.8M128.6 71.6h.8M130.9 60.8h.8M135.3 66.8h.8M131.0 64.3h.8M131.4 75.8h.8M137.2 60.7h.8M133.1 76.0h.8M132.2 78.9h.8M135.0 70.9h.8M125.2 72.2h.8M134.6 70.2h.8M135.2 69.8h.8M131.3 72.5h.8M133.5 58.4h.8M129.3 67.2h.8M134.6 50.0h.8M125.3 73.6h.8M133.3 86.7h.8M127.3 64.2h.8M131.0 70.1h.8M138.8 77.7h.8M129.4 75.0h.8M128.6 68.2h.8M134.0 70.5h.8M130.2 75.7h.8M133.0 65.9h.8M132.3 58.3h.8M136.1 68.4h.8M135.1 79.6h.8M129.9 63.9h.8M133.3 72.2h.8M132.6 72.8h.8M135.1 53.2h.8M130.6 51.2h.8M132.2 63.0h.8M135.6 67.2h.8M133.1 75.2h.8M135.6 57.0h.8M130.6 68.4h.8M139.9 64.6h.8M132.6 67.9h.8M136.4 65.3h.8M134.5 62.9h.8M131.2 60.2h.8M135.9 62.0h.8M135.4 69.0h.8M137.1 46.5h.8M129.5 57.1h.8M132.7 71.9h.8M143.2 77.2h.8M138.6 68.8h.8M131.8 69.9h.8M124.8 72.8h.8M133.3 70.5h.8" stroke="#666" stroke-width=".8" opacity="0.5" fill="none"/>
<path d="M129.0 48.3h.8M132.3 59.5h.8M141.1 56.2h.8M141.1 67.3h.8M127.8 58.9h.8M124.3 54.1h.8M146.0 52.4h.8M154.4 65.4h.8M145.8 61.1h.8M145.6 71.7h.8M138.9 54.3h.8M133.2 80.6h.8M136.4 55.1h.8M131.8 42.0h.8M133.6 63.5h.8M133.7 51.9h.8M141.6 64.9h.8M134.2 63.3h.8M129.4 69.2h.8M129.3 56.4h.8M139.2 55.5h.8M127.9 82.4h.8M151.3 41.3h.8M139.1 46.4h.8M140.7 46.1h.8M143.1 65.7h.8M153.0 72.9h.8M134.0 70.1h.8M134.0 58.8h.8M133.6 41.2h.8M143.3 38.2h.8M135.9 65.6h.8M139.0 43.1h.8M132.3 67.3h.8M147.7 77.1h.8M122.0 64.9h.8M133.8 68.2h.8M123.2 58.5h.8M144.2 53.1h.8M134.8 49.5h.8M147.8 45.8h.8M130.0 56.4h.8M135.2 82.6h.8M140.4 51.1h.8M143.1 63.7h.8M140.5 59.3h.8M142.1 47.5h.8M127.4 55.4h.8M128.3 67.5h.8M155.1 73.2h.8M141.9 63.6h.8M132.0 46.1h.8M142.8 44.2h.8M140.7 58.5h.8M144.6 60.5h.8M138.9 53.8h.8M122.9 56.3h.8M144.1 71.2h.8M150.1 49.3h.8M129.8 67.5h.8M134.0 87.5h.8M140.8 43.7h.8M133.1 76.8h.8M122.0 61.6h.8M125.8 77.2h.8M134.1 49.0h.8M123.0 52.4h.8M115.5 54.9h.8M157.2 61.1h.8M135.7 47.6h.8M141.0 54.9h.8M130.5 74.8h.8M141.9 50.5h.8M151.0 59.4h.8M142.4 61.6h.8M148.4 66.6h.8M134.9 67.7h.8M134.6 61.4h.8M152.4 48.6h.8M128.9 55.7h.8M133.6 74.0h.8M124.0 84.6h.8M151.9 55.2h.8M139.6 56.1h.8M143.9 67.1h.8M144.6 68.2h.8M155.0 58.2h.8M144.2 58.0h.8M138.3 62.4h.8M137.5 63.7h.8" stroke="#666" stroke-width=".8" opacity="0.42" fill="none"/>
<path d="M148.3 69.0h.8M150.3 62.0h.8M149.5 66.6h.8M153.8 59.3h.8M153.0 62.3h.8M148.6 71.3h.8M163.7 72.0h.8M151.2 67.0h.8M165.5 58.9h.8M163.9 59.8h.8M150.0 70.3h.8M153.3 81.4h.8M158.9 69.7h.8M162.5 70.3h.8M148.7 77.7h.8M166.7 78.7h.8M145.8 83.0h.8M151.7 75.2h.8M164.3 86.2h.8M142.3 63.0h.8M164.2 73.4h.8M152.6 50.0h.8M158.5 68.7h.8M134.5 88.3h.8M135.4 66.2h.8M155.0 71.6h.8M160.9 68.2h.8M148.0 67.5h.8M138.5 62.4h.8M154.4 83.0h.8M163.2 70.8h.8M160.8 68.2h.8M147.9 76.8h.8M156.1 81.0h.8M152.9 67.4h.8M157.7 68.7h.8M152.6 63.9h.8M157.0 72.2h.8M169.3 69.8h.8M141.2 73.2h.8M148.7 68.9h.8M132.6 67.7h.8M153.5 59.7h.8M159.5 64.0h.8M140.5 65.1h.8M160.0 83.2h.8M164.8 71.3h.8M151.0 68.2h.8M162.6 66.5h.8M158.3 76.6h.8M147.9 66.0h.8M158.5 70.1h.8M154.0 66.4h.8" stroke="#666" stroke-width=".8" opacity="0.4" fill="none"/>
</g>
<rect x="105.6" y="33.5" width="65.30000000000001" height="67.2" fill="none" stroke="#444" stroke-width="1"/>
<line x1="105.6" y1="100.7" x2="170.9" y2="100.7" stroke="#222" stroke-width="1.3"/>
<line x1="138.8" y1="33.5" x2="138.8" y2="100.7" stroke="#444" stroke-width="1.1"/>
<line x1="105.6" y1="78.8" x2="170.9" y2="78.8" stroke="#3a3a3a" stroke-width="1.2"/>
<text x="134.3" y="30.3" font-family='"Liberation Serif", serif' font-size="9.6" text-anchor="middle" font-weight="normal" fill="#000" stroke="#000" stroke-width=".15">KLF2</text>
<text transform="translate(110.5 43.1) scale(.84 1)" font-family='"Liberation Serif", serif' font-size="11.6" fill="#000" stroke="#000" stroke-width=".3">7%</text>
<text transform="translate(167.7 43.1) scale(.84 1)" font-family='"Liberation Serif", serif' font-size="11.6" fill="#000" text-anchor="end" stroke="#000" stroke-width=".3">10%</text>
<text transform="translate(94.70 105.00) scale(0.74 1)" font-family='"Liberation Sans", sans-serif' font-size="7.2" fill="#111" stroke="#111" stroke-width=".25">10<tspan dy="-2.88" font-size="5.18">0</tspan></text>
<line x1="104.1" y1="100.7" x2="105.6" y2="100.7" stroke="#333" stroke-width=".8"/>
<text transform="translate(102.20 112.00) scale(0.74 1)" font-family='"Liberation Sans", sans-serif' font-size="7.2" fill="#111" stroke="#111" stroke-width=".25">10<tspan dy="-2.88" font-size="5.18">0</tspan></text>
<text transform="translate(94.70 88.20) scale(0.74 1)" font-family='"Liberation Sans", sans-serif' font-size="7.2" fill="#111" stroke="#111" stroke-width=".25">10<tspan dy="-2.88" font-size="5.18">1</tspan></text>
<line x1="104.1" y1="83.9" x2="105.6" y2="83.9" stroke="#333" stroke-width=".8"/>
<text transform="translate(118.52 112.00) scale(0.74 1)" font-family='"Liberation Sans", sans-serif' font-size="7.2" fill="#111" stroke="#111" stroke-width=".25">10<tspan dy="-2.88" font-size="5.18">1</tspan></text>
<text transform="translate(94.70 71.40) scale(0.74 1)" font-family='"Liberation Sans", sans-serif' font-size="7.2" fill="#111" stroke="#111" stroke-width=".25">10<tspan dy="-2.88" font-size="5.18">2</tspan></text>
<line x1="104.1" y1="67.1" x2="105.6" y2="67.1" stroke="#333" stroke-width=".8"/>
<text transform="translate(134.85 112.00) scale(0.74 1)" font-family='"Liberation Sans", sans-serif' font-size="7.2" fill="#111" stroke="#111" stroke-width=".25">10<tspan dy="-2.88" font-size="5.18">2</tspan></text>
<text transform="translate(94.70 54.60) scale(0.74 1)" font-family='"Liberation Sans", sans-serif' font-size="7.2" fill="#111" stroke="#111" stroke-width=".25">10<tspan dy="-2.88" font-size="5.18">3</tspan></text>
<line x1="104.1" y1="50.3" x2="105.6" y2="50.3" stroke="#333" stroke-width=".8"/>
<text transform="translate(151.17 112.00) scale(0.74 1)" font-family='"Liberation Sans", sans-serif' font-size="7.2" fill="#111" stroke="#111" stroke-width=".25">10<tspan dy="-2.88" font-size="5.18">3</tspan></text>
<text transform="translate(94.70 37.80) scale(0.74 1)" font-family='"Liberation Sans", sans-serif' font-size="7.2" fill="#111" stroke="#111" stroke-width=".25">10<tspan dy="-2.88" font-size="5.18">4</tspan></text>
<line x1="104.1" y1="33.5" x2="105.6" y2="33.5" stroke="#333" stroke-width=".8"/>
<text transform="translate(167.50 112.00) scale(0.74 1)" font-family='"Liberation Sans", sans-serif' font-size="7.2" fill="#111" stroke="#111" stroke-width=".25">10<tspan dy="-2.88" font-size="5.18">4</tspan></text>
<clipPath id="cp3"><rect x="186" y="34" width="65.19999999999999" height="67.5"/></clipPath>
<g clip-path="url(#cp3)">
<ellipse cx="205.5" cy="90.3" rx="16" ry="9.5" fill="#a8a8a8" opacity="0.9" filter="url(#bl2)" transform="rotate(0 205.5 90.3)"/>
<ellipse cx="210" cy="88" rx="6" ry="6.2" fill="#868686" opacity="0.85" filter="url(#bl2)" transform="rotate(0 210 88)"/>
<ellipse cx="234" cy="87.5" rx="12" ry="7.5" fill="#c4c4c4" opacity="0.8" filter="url(#bl2)" transform="rotate(-20 234 87.5)"/>
<path d="M204.8 100.9h.8M219.5 80.5h.8M206.0 90.5h.8M205.9 81.9h.8M204.2 90.9h.8M198.5 91.8h.8M206.5 92.3h.8M203.8 87.3h.8M207.4 96.4h.8M214.8 89.5h.8M200.7 96.2h.8M211.1 95.2h.8M202.6 84.9h.8M207.4 86.3h.8M217.3 95.0h.8M219.2 96.1h.8M200.6 84.9h.8M215.5 96.0h.8M206.1 83.2h.8M189.8 91.6h.8M197.0 86.0h.8M210.1 96.2h.8M218.9 89.8h.8M202.0 93.8h.8M193.8 82.8h.8M205.7 99.2h.8M216.0 90.0h.8M215.9 87.6h.8M193.3 80.2h.8M208.3 95.3h.8M209.3 89.8h.8M201.4 96.4h.8M205.0 81.5h.8M219.6 86.2h.8M209.5 90.0h.8M216.4 91.5h.8M218.1 91.2h.8M200.8 87.0h.8M212.2 85.1h.8M215.1 88.6h.8M195.9 84.9h.8M204.0 100.4h.8M213.5 90.1h.8M202.6 90.0h.8M201.1 97.8h.8M207.3 87.3h.8M207.4 84.1h.8M194.6 89.1h.8M226.0 83.5h.8M204.0 80.7h.8M207.3 91.2h.8M213.1 82.2h.8M199.3 86.2h.8M203.4 89.8h.8M200.3 94.7h.8M231.9 96.8h.8M221.3 83.7h.8M216.4 90.2h.8M218.4 96.2h.8M212.3 80.1h.8M206.9 87.1h.8M210.1 90.2h.8M216.3 80.6h.8M197.9 89.6h.8M208.8 87.6h.8M205.2 90.3h.8M216.3 89.3h.8M208.0 79.3h.8M209.2 76.4h.8M209.7 89.4h.8M205.5 85.7h.8M201.2 94.9h.8M209.2 89.8h.8M200.5 91.2h.8M217.8 89.9h.8M201.7 83.1h.8M206.5 84.6h.8M190.7 95.1h.8M199.1 78.0h.8M198.1 100.9h.8M204.4 82.2h.8M194.1 94.2h.8M209.7 91.3h.8M203.5 92.9h.8M221.4 92.9h.8M203.8 81.8h.8M210.1 99.2h.8M212.2 82.6h.8M207.4 97.7h.8M198.9 92.9h.8M218.0 99.6h.8M189.1 79.7h.8M209.4 94.1h.8M201.8 89.9h.8M201.3 97.1h.8M192.3 86.0h.8M189.7 84.6h.8M205.3 90.2h.8M224.0 88.7h.8M209.1 92.1h.8M208.2 98.7h.8M206.9 90.9h.8M204.3 90.0h.8M204.9 95.9h.8M205.7 90.4h.8M205.0 94.5h.8M200.6 95.5h.8M199.6 94.1h.8M225.4 91.4h.8M204.6 83.0h.8M213.2 90.1h.8M214.9 86.1h.8M210.9 100.7h.8M209.7 88.1h.8M192.0 89.9h.8M212.3 93.5h.8M193.9 83.9h.8M195.4 84.0h.8M202.6 91.6h.8M225.4 91.2h.8M220.6 80.2h.8M221.5 94.7h.8M210.1 94.9h.8M213.8 79.7h.8M187.4 99.5h.8M204.6 97.8h.8M202.0 86.1h.8M201.9 91.9h.8M207.4 86.3h.8M211.1 93.7h.8M196.0 83.4h.8M205.6 85.9h.8M199.3 89.2h.8M205.8 93.4h.8M214.1 92.6h.8M217.1 84.3h.8M211.8 92.2h.8M194.7 86.0h.8M210.1 90.4h.8M192.5 86.7h.8M221.3 95.0h.8M206.3 98.0h.8M196.1 89.0h.8M215.4 88.0h.8M193.9 93.5h.8M222.1 75.0h.8M207.1 82.6h.8M202.4 81.6h.8M232.5 86.0h.8M206.0 85.8h.8M195.2 87.3h.8M207.7 100.4h.8M208.5 99.3h.8M194.4 90.4h.8M201.0 80.7h.8M244.2 88.6h.8M208.0 85.5h.8M199.5 83.9h.8M216.1 87.6h.8M204.0 91.1h.8M192.8 91.4h.8M203.7 92.6h.8M201.5 90.2h.8M210.9 95.7h.8M198.3 95.8h.8M195.3 88.9h.8M206.9 90.9h.8M203.6 95.5h.8M198.2 99.0h.8M186.8 90.5h.8M211.1 90.1h.8M208.2 95.5h.8M197.1 93.5h.8M216.5 88.6h.8M196.6 83.7h.8M210.0 85.2h.8M231.2 93.4h.8M192.0 88.3h.8M221.4 94.0h.8M194.9 96.1h.8M199.8 93.5h.8M211.4 87.4h.8M203.9 96.9h.8M210.7 89.6h.8M210.1 100.4h.8M215.2 92.8h.8M208.9 80.7h.8M206.9 87.1h.8M213.1 86.4h.8M210.2 83.8h.8M214.8 85.7h.8M205.2 93.4h.8M202.1 90.0h.8M216.5 100.5h.8M186.8 84.6h.8M212.5 95.6h.8M200.6 90.6h.8M203.4 82.9h.8M189.4 82.4h.8M219.0 87.7h.8M225.7 93.8h.8M209.5 93.8h.8M213.7 95.5h.8M195.4 86.7h.8M199.8 90.6h.8M202.9 82.7h.8M198.3 100.6h.8M227.5 84.9h.8M209.5 89.8h.8M196.7 94.2h.8M204.8 99.9h.8M210.2 88.2h.8M214.3 85.8h.8M214.7 94.0h.8M187.2 88.8h.8M208.8 94.5h.8M207.1 89.9h.8M201.9 88.3h.8M205.5 83.7h.8M212.2 88.1h.8M210.9 87.0h.8M209.8 90.8h.8M214.7 92.7h.8M215.2 89.0h.8M204.9 88.5h.8M192.5 89.3h.8M216.8 94.6h.8M196.7 91.8h.8M213.3 81.9h.8M209.1 92.0h.8M213.3 91.5h.8M187.4 78.1h.8M226.1 87.7h.8M218.7 97.5h.8M206.4 83.2h.8M219.7 89.8h.8M210.9 92.8h.8M215.4 96.0h.8M190.8 81.7h.8M207.0 90.1h.8M213.6 89.2h.8M219.8 96.9h.8M216.3 85.3h.8M204.6 89.6h.8M194.1 84.9h.8M207.2 82.8h.8M211.1 92.8h.8M203.1 88.0h.8M211.7 92.8h.8M209.3 82.8h.8M198.7 87.8h.8M186.6 85.3h.8M197.9 94.7h.8M201.2 87.1h.8M197.5 87.4h.8M189.1 91.6h.8M217.9 90.9h.8M199.9 97.5h.8M210.6 83.9h.8M199.6 86.4h.8M205.0 97.2h.8M198.2 89.1h.8M206.7 83.0h.8M200.6 93.6h.8M217.2 78.9h.8M212.8 88.3h.8M218.9 93.7h.8M225.9 91.8h.8M201.4 85.1h.8M190.7 93.3h.8M210.9 94.8h.8M209.1 81.2h.8M201.3 88.6h.8M207.2 94.5h.8M220.2 91.7h.8M193.1 91.4h.8M203.2 96.6h.8M216.7 87.3h.8M215.3 90.1h.8M210.2 97.9h.8M193.6 89.6h.8M221.5 85.5h.8M207.7 90.8h.8M201.2 82.3h.8M198.4 84.2h.8M216.7 91.5h.8M212.8 83.0h.8M210.7 90.8h.8M216.4 85.8h.8M213.9 98.1h.8M224.2 84.5h.8M193.9 81.4h.8M215.5 93.5h.8M209.0 84.9h.8M218.5 99.4h.8M205.1 89.3h.8M217.8 93.0h.8M219.5 87.6h.8M209.0 88.0h.8M199.6 88.3h.8M202.6 93.0h.8M202.4 90.4h.8M197.1 82.8h.8M220.3 84.2h.8M224.3 95.5h.8M201.2 90.1h.8M203.7 86.5h.8M218.5 89.3h.8M215.5 86.0h.8M198.4 97.8h.8M202.6 83.5h.8M203.7 96.2h.8M203.8 85.8h.8M212.1 95.8h.8M203.4 88.1h.8M203.6 100.3h.8M204.0 92.4h.8M206.1 88.1h.8M201.3 82.0h.8M190.1 91.0h.8M198.9 89.5h.8M203.6 87.0h.8M198.0 100.9h.8M194.1 87.0h.8M202.5 83.2h.8M195.6 95.1h.8M215.2 90.8h.8M239.1 94.9h.8M218.3 85.2h.8M216.8 99.9h.8M201.6 100.6h.8M197.2 83.4h.8M205.1 85.3h.8M212.1 83.5h.8M206.4 78.5h.8M205.2 96.2h.8M202.8 91.8h.8M216.8 83.6h.8M192.3 90.5h.8M208.4 88.4h.8M195.5 97.1h.8M193.5 88.5h.8M205.1 94.3h.8M200.9 85.2h.8M226.4 85.1h.8M213.8 89.1h.8M200.6 89.7h.8M202.9 91.8h.8M206.3 84.3h.8M224.7 93.8h.8M207.9 88.2h.8M219.9 87.4h.8M197.0 94.1h.8M195.5 85.4h.8M220.5 80.6h.8M204.9 90.7h.8M208.2 81.5h.8M203.2 88.0h.8M225.5 95.9h.8M197.7 95.1h.8M212.3 89.3h.8M203.0 88.4h.8M189.6 86.3h.8M215.2 98.5h.8M224.8 87.8h.8M211.9 75.9h.8M202.8 82.6h.8M214.1 80.3h.8M194.7 83.5h.8M209.7 94.9h.8M196.0 100.6h.8M207.2 85.1h.8M209.2 89.9h.8M214.2 92.0h.8M228.2 96.9h.8M198.9 94.6h.8M213.4 84.1h.8M197.8 85.3h.8M203.3 97.2h.8M199.8 90.4h.8M213.1 95.7h.8M208.9 83.9h.8M228.4 95.1h.8M219.7 99.5h.8M220.1 92.4h.8M210.5 93.7h.8M190.0 94.8h.8M195.5 92.5h.8M195.1 94.2h.8M207.5 93.0h.8M196.2 88.3h.8M205.0 88.3h.8M201.1 84.9h.8M213.5 87.8h.8M197.1 92.1h.8M197.2 89.0h.8M200.3 84.6h.8M203.2 85.2h.8M192.6 92.1h.8M202.5 81.4h.8M201.5 91.1h.8M210.0 92.2h.8M208.2 93.5h.8M200.5 85.3h.8M211.9 87.6h.8M205.7 93.8h.8M215.3 97.2h.8M198.5 87.8h.8M211.3 81.6h.8M192.6 93.6h.8M199.2 84.6h.8M213.9 93.1h.8M215.1 88.1h.8M202.6 88.0h.8M208.7 78.1h.8M198.4 94.1h.8M197.5 89.6h.8M206.9 93.0h.8M200.7 83.4h.8M231.4 85.8h.8M223.3 79.7h.8M206.7 88.9h.8M215.7 84.1h.8M197.3 85.6h.8M200.3 91.5h.8M197.5 88.6h.8M220.8 98.4h.8M201.7 97.6h.8M209.4 98.4h.8M196.7 88.2h.8M216.1 93.3h.8M207.5 93.7h.8M199.0 100.2h.8M207.2 98.5h.8M209.8 90.5h.8M202.3 83.2h.8M214.5 94.4h.8M215.2 87.8h.8M195.2 87.8h.8M202.4 89.9h.8M215.7 84.7h.8M200.6 94.0h.8M211.0 85.1h.8M194.9 85.4h.8M206.3 91.5h.8M204.9 86.4h.8M203.7 89.6h.8M211.7 90.5h.8M197.3 83.2h.8M220.9 89.5h.8M203.8 89.9h.8M217.2 88.2h.8M207.4 88.6h.8M211.6 84.1h.8M207.7 96.0h.8M217.8 93.6h.8M208.7 99.2h.8M212.9 98.1h.8M193.3 83.6h.8M213.9 88.5h.8M201.2 84.5h.8M220.9 83.1h.8M206.7 81.9h.8M230.7 87.1h.8M195.2 99.5h.8M196.8 79.6h.8M209.2 83.7h.8M190.7 96.5h.8M198.1 83.8h.8M207.4 88.9h.8M217.2 90.6h.8M222.0 96.6h.8M224.0 96.5h.8M206.4 93.2h.8M205.9 81.0h.8M193.5 94.3h.8M192.4 89.6h.8M195.0 91.5h.8M203.6 87.3h.8M196.9 77.1h.8M206.4 82.5h.8M202.6 92.2h.8M216.4 94.1h.8M220.9 81.8h.8M212.6 99.1h.8M209.7 83.6h.8M209.7 87.0h.8M199.0 96.2h.8M203.8 83.5h.8M197.0 93.9h.8M207.5 96.8h.8M202.8 84.5h.8M199.1 84.0h.8M232.3 91.1h.8M202.4 97.3h.8M212.4 89.0h.8M212.1 91.6h.8M217.2 99.6h.8M202.4 89.8h.8M203.8 97.1h.8M209.6 94.6h.8M214.9 86.3h.8M207.0 98.1h.8M215.2 94.7h.8M202.8 87.9h.8M196.9 88.4h.8M205.0 81.7h.8M217.6 85.6h.8M208.2 93.5h.8M200.0 79.5h.8M215.6 92.4h.8M203.1 96.6h.8M214.9 84.5h.8M204.8 79.8h.8M203.0 98.2h.8M197.1 94.8h.8M190.2 88.3h.8M215.3 100.0h.8M210.3 94.4h.8M223.3 75.9h.8M188.2 101.0h.8M231.0 93.5h.8M206.3 91.5h.8M206.0 86.5h.8M205.5 89.3h.8" stroke="#333" stroke-width=".8" opacity="0.3" fill="none"/>
<path d="M212.8 91.0h.8M214.1 90.6h.8M206.1 94.1h.8M199.1 88.5h.8M211.4 85.7h.8M217.7 83.3h.8M205.3 85.8h.8M211.8 91.5h.8M210.5 90.9h.8M207.2 85.4h.8M210.6 82.2h.8M210.8 86.3h.8M212.9 83.6h.8M207.9 85.5h.8M208.6 83.7h.8M209.0 82.1h.8M212.3 90.9h.8M210.0 87.2h.8M206.4 83.8h.8M209.2 84.1h.8M205.3 88.7h.8M210.0 86.2h.8M206.8 87.8h.8M207.2 86.1h.8M210.8 91.1h.8M213.2 85.4h.8M215.0 83.0h.8M209.4 93.7h.8M219.7 88.6h.8M208.6 86.4h.8M205.1 87.4h.8M208.3 84.7h.8M214.9 84.6h.8M217.0 91.7h.8M212.7 85.5h.8M208.0 79.3h.8M211.2 86.8h.8M211.6 85.1h.8M212.0 81.5h.8M201.2 90.1h.8M214.4 74.3h.8M215.3 86.5h.8M209.4 81.3h.8M206.0 91.1h.8M207.1 87.8h.8M209.4 96.7h.8M213.7 82.3h.8M208.1 83.0h.8M204.4 85.0h.8M214.5 88.2h.8M212.8 87.4h.8M208.3 88.4h.8M209.8 96.4h.8M217.4 89.6h.8M212.5 79.4h.8M209.6 98.4h.8M206.8 91.6h.8M215.0 86.3h.8M209.1 86.0h.8M213.3 88.1h.8M216.2 93.2h.8M210.0 99.3h.8M208.8 85.4h.8M209.1 84.2h.8M208.4 87.7h.8M213.7 81.1h.8M204.4 84.6h.8M208.8 90.0h.8M206.9 94.6h.8M207.9 87.1h.8M210.3 93.1h.8M211.3 88.1h.8M207.9 88.7h.8M211.7 86.5h.8M210.0 80.0h.8M207.9 93.2h.8M215.8 87.7h.8M201.3 96.0h.8M209.4 99.2h.8M208.4 92.4h.8M207.6 94.0h.8M214.7 83.4h.8M215.3 100.5h.8M209.2 82.7h.8M211.2 86.3h.8M204.0 83.4h.8M211.0 81.4h.8M214.4 90.0h.8M209.3 94.1h.8M206.3 91.0h.8M204.6 86.6h.8M212.6 85.7h.8M209.6 90.8h.8M216.2 93.7h.8M211.9 86.9h.8M204.2 95.5h.8M217.6 78.6h.8M213.6 87.8h.8M212.9 89.4h.8M209.3 88.0h.8M209.9 93.1h.8M209.0 85.6h.8M212.7 90.8h.8M211.8 89.2h.8M216.0 92.9h.8M210.9 87.1h.8M212.7 79.8h.8M207.9 84.9h.8M210.7 86.3h.8M220.0 91.2h.8M211.7 97.8h.8M210.0 86.6h.8M215.0 91.6h.8M213.8 93.3h.8M208.6 85.1h.8M207.1 88.5h.8M214.1 83.4h.8M207.9 82.2h.8M218.1 91.5h.8M210.9 82.7h.8M205.9 85.2h.8M210.2 82.4h.8M209.1 93.3h.8M210.1 88.4h.8M201.6 86.8h.8M209.5 85.0h.8M204.4 87.7h.8M205.9 85.6h.8M203.6 87.6h.8M213.7 84.3h.8M211.3 81.4h.8M212.4 90.4h.8M208.5 91.9h.8M206.5 88.2h.8M216.8 87.9h.8M205.5 93.1h.8M212.2 86.8h.8M202.7 79.8h.8M203.9 94.5h.8M211.2 84.3h.8M214.7 94.4h.8M206.6 90.1h.8M203.4 89.6h.8M217.4 81.8h.8M210.3 85.2h.8M209.7 88.4h.8M211.2 91.9h.8M212.1 92.6h.8M214.1 92.8h.8M207.3 89.8h.8M208.5 84.3h.8M217.9 89.3h.8M210.2 78.8h.8M209.1 91.4h.8M209.2 85.6h.8M216.0 86.6h.8M208.7 87.6h.8M209.1 92.6h.8M212.3 87.7h.8M208.6 87.0h.8M216.9 86.7h.8M212.7 81.1h.8M211.3 91.0h.8M215.2 89.4h.8M212.4 89.4h.8M214.3 97.0h.8M210.8 84.4h.8M212.4 87.5h.8M212.6 91.4h.8M210.7 86.1h.8M211.3 82.5h.8M211.1 84.1h.8M211.9 88.5h.8M209.2 82.7h.8M210.2 85.0h.8M209.5 91.1h.8M213.9 82.3h.8M213.8 94.0h.8M214.6 89.2h.8M209.7 95.6h.8M208.8 81.3h.8M210.4 89.3h.8M205.9 82.7h.8M218.0 88.5h.8M213.2 85.4h.8M203.9 87.2h.8M215.4 85.1h.8M202.8 87.2h.8M208.9 88.1h.8M205.8 86.6h.8M207.9 91.9h.8M210.7 91.8h.8M209.8 78.6h.8M202.2 90.4h.8M213.6 91.8h.8M209.7 80.2h.8M208.1 89.8h.8M215.6 86.5h.8M207.8 84.6h.8M214.1 91.8h.8M202.7 93.3h.8M206.3 81.5h.8M203.6 84.8h.8M219.4 99.2h.8M205.0 85.1h.8M210.7 89.8h.8M208.1 81.0h.8M208.4 85.0h.8M202.8 88.6h.8M204.2 80.4h.8M216.1 92.1h.8M215.9 88.5h.8M208.4 87.6h.8M204.6 91.3h.8M211.1 86.7h.8M202.5 87.5h.8M216.6 94.4h.8M213.6 86.5h.8M210.6 90.4h.8M210.8 92.6h.8" stroke="#333" stroke-width=".8" opacity="0.32" fill="none"/>
<path d="M223.4 77.2h.8M211.8 89.5h.8M223.1 94.4h.8M241.8 83.8h.8M237.6 85.8h.8M233.6 84.1h.8M232.0 94.2h.8M230.8 87.6h.8M244.6 88.4h.8M230.4 89.4h.8M225.2 90.6h.8M235.6 86.0h.8M235.1 88.3h.8M211.1 90.3h.8M232.8 84.3h.8M224.8 88.6h.8M245.7 81.1h.8M227.0 86.5h.8M224.4 92.9h.8M226.8 94.5h.8M241.5 87.2h.8M241.4 83.5h.8M218.7 91.8h.8M235.4 77.3h.8M225.2 96.1h.8M239.1 92.5h.8M238.6 85.3h.8M238.1 90.0h.8M232.5 86.0h.8M235.1 84.4h.8M218.4 84.9h.8M240.8 81.8h.8M234.0 85.4h.8M232.7 78.8h.8M232.7 83.8h.8M243.1 86.9h.8M221.1 85.8h.8M239.9 91.3h.8M239.1 83.9h.8M237.8 71.8h.8M227.0 83.6h.8M225.8 92.9h.8M235.9 87.6h.8M233.2 90.5h.8M238.4 81.8h.8M239.0 79.5h.8M245.0 75.2h.8M228.8 82.3h.8M235.9 93.5h.8M230.3 98.2h.8M245.3 84.7h.8M230.0 93.3h.8M208.4 91.6h.8M240.9 83.9h.8M221.9 89.8h.8M241.0 93.9h.8M219.0 93.0h.8M242.2 79.8h.8M227.2 82.2h.8M240.9 88.9h.8M238.4 86.5h.8M241.0 83.4h.8M240.5 89.0h.8M244.7 85.7h.8M235.1 90.3h.8M217.2 82.6h.8M246.6 82.8h.8M223.4 87.2h.8M232.0 87.8h.8M228.7 94.3h.8M227.3 98.6h.8M235.5 76.4h.8M223.2 90.9h.8M234.6 84.0h.8M233.5 87.7h.8M223.8 90.7h.8M250.6 76.9h.8M226.0 93.4h.8M246.1 88.2h.8M227.8 88.5h.8M234.4 85.3h.8M238.4 91.3h.8M237.6 85.3h.8M234.8 96.7h.8M226.7 100.8h.8M239.4 85.2h.8M230.4 98.5h.8M244.8 87.9h.8M247.0 71.6h.8M233.4 85.1h.8M227.2 89.5h.8M238.5 88.0h.8M229.5 80.6h.8M238.9 88.4h.8M231.1 81.1h.8M236.1 90.2h.8M239.8 92.2h.8M223.3 86.6h.8M232.3 80.2h.8M230.6 95.9h.8M235.4 85.5h.8M228.5 88.9h.8M230.8 81.6h.8M237.3 78.0h.8M243.1 81.4h.8M211.2 86.0h.8M233.9 81.7h.8M243.2 79.8h.8M243.2 80.8h.8M230.2 80.2h.8M234.3 88.8h.8M230.5 81.5h.8M242.4 88.9h.8M233.8 91.2h.8M239.5 78.9h.8M229.4 77.5h.8M225.3 92.3h.8M226.5 91.6h.8M232.3 75.3h.8M231.9 96.2h.8M233.5 87.6h.8M224.2 80.9h.8M229.9 83.1h.8M230.4 76.7h.8M248.1 91.5h.8M227.4 90.9h.8M227.1 94.1h.8M225.8 88.8h.8M245.1 85.7h.8M227.5 80.2h.8M222.0 98.0h.8M237.5 85.7h.8M244.0 83.9h.8M226.8 88.7h.8M232.3 87.2h.8M234.9 84.8h.8M225.5 83.9h.8M216.4 90.4h.8M216.8 82.1h.8M221.4 79.4h.8M247.0 89.2h.8M228.8 100.5h.8M233.9 71.9h.8M231.4 81.8h.8M217.9 91.0h.8M243.7 85.7h.8M219.5 88.0h.8M228.8 95.2h.8M230.4 82.2h.8M221.7 79.6h.8M227.6 94.2h.8M217.3 93.8h.8M233.7 91.5h.8M225.1 95.2h.8M250.5 94.0h.8M219.2 91.8h.8M231.5 88.3h.8M226.3 94.4h.8M223.9 86.9h.8M239.5 85.4h.8M228.9 95.7h.8M239.4 90.7h.8M234.0 94.1h.8M227.0 82.6h.8M230.4 79.8h.8M245.1 86.9h.8M219.1 93.1h.8M239.6 82.5h.8M235.5 82.7h.8M232.3 86.8h.8M235.3 80.5h.8M224.1 92.2h.8M229.7 91.2h.8M226.3 81.7h.8M239.8 86.1h.8M238.6 83.0h.8M232.4 94.6h.8M237.3 85.1h.8M235.0 89.8h.8M227.0 90.8h.8M221.5 80.4h.8M234.9 86.9h.8M239.6 87.9h.8M240.5 88.9h.8M226.4 96.5h.8M223.6 94.4h.8M242.7 89.4h.8M243.5 75.1h.8M237.1 88.2h.8M242.0 78.5h.8M232.5 85.0h.8M231.4 86.7h.8M228.4 78.3h.8M232.8 87.5h.8M223.1 69.8h.8M225.9 85.7h.8M228.7 98.0h.8M240.6 83.2h.8M225.7 92.4h.8M230.7 96.5h.8M242.2 82.9h.8M236.7 81.0h.8M221.2 96.3h.8M246.4 80.3h.8M225.2 79.3h.8M249.0 74.1h.8M224.4 89.0h.8M243.4 83.5h.8M232.9 87.2h.8M240.2 84.2h.8M234.2 86.1h.8M226.1 97.4h.8M224.6 82.3h.8M229.4 88.5h.8M237.2 76.8h.8M222.6 91.8h.8M234.2 80.1h.8M223.7 91.4h.8M228.7 79.0h.8M228.4 97.4h.8M226.0 95.7h.8M222.8 99.4h.8M245.4 78.7h.8M228.4 92.4h.8M223.5 93.7h.8M243.9 84.6h.8M235.5 85.2h.8M240.0 79.6h.8M246.5 81.9h.8M227.2 79.5h.8M229.7 89.6h.8M240.5 74.8h.8M230.6 83.8h.8M222.8 90.7h.8M228.2 93.9h.8M211.5 99.2h.8M213.2 82.8h.8M236.8 83.6h.8M232.3 81.6h.8M222.7 86.4h.8M231.0 82.8h.8M227.8 83.8h.8M232.8 80.4h.8M210.4 79.8h.8M233.0 87.6h.8M239.8 80.2h.8M220.5 82.8h.8M238.3 81.4h.8M241.2 83.5h.8M227.2 78.2h.8M228.7 93.2h.8M229.1 92.4h.8M221.0 97.4h.8M233.4 79.6h.8M227.3 85.2h.8M230.8 75.9h.8M227.2 93.8h.8M235.7 90.4h.8M238.1 78.4h.8M222.4 93.6h.8M233.4 87.3h.8M228.0 94.8h.8M239.4 91.4h.8M231.3 91.7h.8M230.7 82.3h.8M229.2 78.7h.8M231.8 88.5h.8M236.9 79.4h.8M220.4 87.3h.8M214.2 90.0h.8M225.3 85.8h.8M245.8 75.5h.8M231.9 86.9h.8M225.4 85.5h.8M217.2 87.8h.8M246.7 90.3h.8M231.9 91.5h.8M237.1 86.1h.8M234.1 93.7h.8M237.4 84.1h.8M232.8 92.6h.8M226.6 85.1h.8M229.7 85.3h.8M244.4 84.9h.8M231.3 84.5h.8M245.8 84.9h.8M230.1 84.8h.8M230.9 88.8h.8M240.6 87.1h.8M243.5 74.3h.8M230.6 79.6h.8M223.1 87.1h.8M225.6 84.0h.8M222.3 97.6h.8M232.1 93.0h.8M219.2 78.4h.8M229.6 93.4h.8M229.0 90.8h.8M226.5 97.5h.8M238.7 91.1h.8M233.1 94.5h.8M232.7 84.2h.8M227.7 89.3h.8M223.0 83.6h.8M235.4 90.3h.8M232.1 92.3h.8M244.1 75.5h.8M233.4 81.2h.8M227.9 89.9h.8M214.0 97.5h.8M241.1 87.2h.8M241.9 94.4h.8M232.0 93.8h.8M246.2 85.1h.8M217.6 91.7h.8M227.5 79.5h.8M233.9 91.1h.8M230.5 86.9h.8M244.3 79.3h.8M225.1 90.1h.8M243.6 86.6h.8M232.7 84.2h.8M245.1 87.8h.8M218.9 94.1h.8M237.0 81.8h.8M221.5 89.4h.8M219.2 95.3h.8M225.3 79.4h.8M235.0 93.2h.8M221.5 89.1h.8M248.7 82.4h.8M228.6 89.7h.8M237.7 79.4h.8M229.1 78.8h.8M216.7 83.9h.8M240.7 86.0h.8M241.5 91.0h.8M233.8 88.1h.8M237.3 88.2h.8M223.5 88.9h.8M231.8 87.6h.8M226.4 88.6h.8M235.8 87.1h.8" stroke="#333" stroke-width=".8" opacity="0.28" fill="none"/>
<path d="M210.8 94.5h.8M210.5 95.3h.8M213.1 97.7h.8M211.2 86.6h.8M226.5 96.2h.8M216.8 94.0h.8M205.9 83.7h.8M209.4 88.0h.8M201.9 78.2h.8M219.5 83.6h.8M195.6 92.6h.8M210.6 85.6h.8M205.4 91.4h.8M206.9 92.9h.8M212.5 88.0h.8M202.0 84.5h.8M212.3 93.2h.8M205.1 91.7h.8M208.4 88.7h.8M208.4 82.8h.8M201.9 100.2h.8M213.4 87.7h.8M200.3 81.7h.8M204.4 89.0h.8M199.7 81.4h.8M206.9 92.3h.8M215.8 92.8h.8M219.2 96.6h.8M204.5 84.2h.8M209.4 95.3h.8M191.5 83.2h.8M211.7 86.9h.8M218.7 91.2h.8M200.5 82.7h.8M210.9 80.5h.8M193.7 82.8h.8M220.9 99.4h.8M203.5 87.9h.8M211.8 96.9h.8M203.6 96.2h.8M199.2 100.9h.8M203.6 83.0h.8M223.1 86.2h.8M205.5 83.1h.8M211.6 91.1h.8M202.9 87.8h.8M200.3 86.0h.8M192.8 96.6h.8M213.6 82.3h.8M195.0 92.2h.8M225.9 88.9h.8M202.7 88.6h.8M207.7 89.0h.8M215.3 95.4h.8M210.5 98.7h.8M203.4 87.0h.8M232.4 79.3h.8M191.4 77.0h.8M208.7 84.1h.8M215.1 78.4h.8M204.2 87.8h.8M195.7 96.2h.8M201.9 92.5h.8M200.7 90.8h.8M201.4 90.4h.8M204.6 86.2h.8M209.4 89.0h.8M196.7 84.2h.8M209.5 97.3h.8M193.6 87.7h.8M209.6 95.7h.8M211.9 83.5h.8M205.8 95.0h.8M207.7 88.7h.8M194.8 90.9h.8M204.9 90.2h.8M219.1 96.5h.8M198.3 91.3h.8M202.7 90.5h.8M220.3 95.0h.8M205.9 86.4h.8M204.0 92.0h.8M201.0 96.1h.8M205.7 83.5h.8M224.0 74.0h.8M203.1 89.3h.8M214.4 96.1h.8M218.7 98.6h.8M208.4 90.6h.8M214.7 89.9h.8M194.1 87.5h.8M211.5 93.4h.8M195.5 96.6h.8M208.3 81.7h.8M209.7 95.5h.8M210.3 88.3h.8M198.3 96.2h.8M207.5 90.0h.8M201.9 84.3h.8M188.5 88.1h.8M215.5 94.2h.8M199.3 98.4h.8M203.4 84.4h.8M214.3 97.6h.8M202.0 83.3h.8M204.9 76.6h.8M206.0 98.4h.8M208.0 85.9h.8M211.9 87.3h.8M216.9 88.0h.8M223.9 88.1h.8M207.2 84.8h.8M193.9 91.9h.8M208.7 84.6h.8M210.6 87.7h.8M200.5 89.6h.8M209.1 94.0h.8M216.7 92.1h.8M198.9 86.2h.8M208.8 83.4h.8M204.0 87.9h.8M204.6 91.0h.8M214.9 99.0h.8M213.5 95.6h.8M195.8 95.7h.8M217.2 82.5h.8M228.3 86.9h.8M206.1 85.6h.8M200.3 95.9h.8M207.8 87.9h.8M215.9 84.8h.8M197.8 86.9h.8M198.7 93.8h.8M203.4 84.2h.8M201.3 79.0h.8M207.0 90.6h.8M211.0 88.7h.8M209.1 84.8h.8M205.7 90.9h.8M194.5 93.2h.8M206.8 90.3h.8M205.5 85.8h.8M197.8 93.3h.8M203.6 85.6h.8M199.0 95.1h.8M206.3 95.8h.8M205.3 83.5h.8M213.3 91.8h.8M199.6 88.3h.8M196.7 94.6h.8M201.7 92.6h.8M207.8 88.6h.8M208.8 88.6h.8M194.8 87.7h.8M194.9 94.2h.8M211.4 86.8h.8M211.1 91.4h.8M214.3 84.9h.8M205.7 84.5h.8M199.3 97.5h.8M187.4 85.0h.8M209.9 94.3h.8M198.4 78.8h.8M190.0 92.0h.8M215.4 95.0h.8M198.9 97.4h.8M203.8 93.4h.8M203.8 98.8h.8M200.8 78.2h.8M202.7 91.0h.8M208.0 86.1h.8M203.4 83.8h.8M203.4 90.5h.8M207.7 99.0h.8M187.5 92.8h.8M209.4 83.6h.8M206.1 90.0h.8M196.5 94.0h.8M222.7 93.7h.8M212.5 95.9h.8M204.3 95.3h.8M198.2 91.0h.8M211.8 97.2h.8M202.9 88.4h.8M209.7 89.6h.8M206.7 94.4h.8M198.6 94.8h.8M208.9 88.5h.8M194.3 86.5h.8M205.1 95.1h.8M187.8 93.9h.8M207.2 83.8h.8M213.2 92.2h.8M209.4 84.6h.8M195.6 95.0h.8M218.1 92.0h.8M203.8 87.5h.8M190.1 95.4h.8M204.6 96.7h.8M199.0 95.8h.8M199.1 93.2h.8M217.8 86.1h.8M213.6 90.0h.8M197.1 91.1h.8M211.3 86.1h.8M203.1 86.9h.8M198.6 88.9h.8M212.9 87.3h.8M216.6 87.9h.8M199.3 95.9h.8M218.1 86.4h.8M210.7 83.6h.8M201.9 88.0h.8M211.8 83.2h.8M200.9 86.2h.8M206.4 83.3h.8M207.4 81.8h.8M212.9 82.8h.8M188.7 99.1h.8M216.6 85.4h.8M195.8 92.6h.8M223.6 93.3h.8M211.4 83.5h.8M189.6 92.1h.8M214.5 90.7h.8M205.5 97.5h.8M198.0 96.0h.8M212.9 86.6h.8M206.6 90.6h.8M210.7 84.7h.8M203.4 90.5h.8M205.7 90.1h.8M207.7 89.0h.8M201.1 95.6h.8M199.8 88.3h.8M197.7 83.8h.8M209.5 89.8h.8M204.3 92.5h.8M204.0 93.7h.8M221.5 91.9h.8M203.1 99.0h.8M211.8 81.0h.8M217.3 91.1h.8M213.1 83.7h.8M198.0 86.5h.8M210.4 83.9h.8M199.2 95.2h.8M199.8 90.6h.8M197.5 80.8h.8M204.8 89.3h.8M192.8 95.3h.8M212.8 94.8h.8M201.0 83.8h.8M204.7 90.9h.8M204.0 86.8h.8M196.7 86.0h.8M204.8 87.4h.8M220.2 88.5h.8M209.5 87.5h.8M203.9 84.7h.8M201.2 81.9h.8M187.1 97.2h.8M196.2 92.3h.8M204.4 86.9h.8M211.9 87.0h.8M209.3 88.0h.8M214.1 95.2h.8M206.1 95.9h.8M209.9 98.4h.8M204.4 81.7h.8M207.4 91.3h.8M202.3 88.9h.8M203.1 83.2h.8M220.6 85.8h.8M196.0 81.5h.8M198.0 89.8h.8M218.5 93.2h.8M199.1 83.3h.8M195.6 89.5h.8M213.1 87.4h.8M219.6 100.4h.8M206.9 78.3h.8M215.1 89.5h.8M211.4 95.3h.8M196.6 90.3h.8M207.0 85.9h.8M211.6 89.3h.8M201.9 100.1h.8M207.0 98.8h.8" stroke="#fff" stroke-width=".8" opacity="0.4" fill="none"/>
<path d="M233.5 92.0h.8M227.7 89.7h.8M237.4 74.5h.8M236.5 84.4h.8M241.3 84.9h.8M230.4 81.5h.8M229.4 84.7h.8M231.1 88.8h.8M224.8 95.2h.8M232.0 90.3h.8M216.6 90.3h.8M230.2 86.1h.8M228.6 90.1h.8M234.4 81.6h.8M219.7 95.5h.8M232.3 92.6h.8M239.2 84.2h.8M221.9 89.2h.8M229.6 94.4h.8M222.0 95.6h.8M220.7 88.6h.8M221.5 87.7h.8M230.3 89.8h.8M229.7 91.6h.8M246.1 83.0h.8M224.2 89.3h.8M231.6 85.7h.8M243.3 89.0h.8M248.5 84.0h.8M213.2 93.5h.8M236.6 81.7h.8M230.0 92.6h.8M232.2 81.6h.8M223.7 74.9h.8M231.0 81.6h.8M230.7 81.9h.8M225.3 87.2h.8M223.4 87.8h.8M242.0 87.7h.8M237.5 83.7h.8M232.6 83.3h.8M230.3 83.9h.8M220.7 86.5h.8M247.7 83.6h.8M227.3 88.5h.8M231.6 93.6h.8M231.7 84.3h.8M238.4 86.6h.8M226.7 85.4h.8M231.3 79.4h.8M227.9 93.9h.8M241.1 89.6h.8M228.7 85.6h.8M230.2 85.6h.8M242.0 82.6h.8M241.7 80.3h.8M238.3 93.2h.8M226.4 86.1h.8M225.9 81.5h.8M229.7 85.0h.8M248.3 79.0h.8M218.8 96.9h.8M239.8 84.3h.8M236.2 89.4h.8M228.9 88.7h.8M236.6 93.9h.8M243.5 84.0h.8M224.5 94.5h.8M234.4 92.3h.8M233.6 87.7h.8M236.5 82.0h.8M231.8 98.9h.8M228.1 93.4h.8M239.2 88.8h.8M240.8 77.4h.8M236.6 75.4h.8M233.8 88.4h.8M242.2 89.1h.8M225.6 88.3h.8M230.6 84.4h.8M225.8 86.3h.8M243.5 90.0h.8M241.1 92.4h.8M231.8 82.0h.8M228.4 89.7h.8M242.4 89.6h.8M227.9 93.6h.8M230.0 91.1h.8M242.0 91.1h.8M229.4 89.5h.8M235.4 84.0h.8M234.5 89.4h.8M219.8 88.6h.8M250.5 82.9h.8M225.9 80.4h.8M226.7 91.9h.8M238.6 87.2h.8M236.3 82.8h.8M242.7 77.8h.8M236.2 84.5h.8M221.9 95.6h.8M232.0 90.9h.8M242.5 84.4h.8M227.7 87.8h.8M234.7 93.6h.8M241.7 91.8h.8M237.2 81.6h.8M241.2 88.9h.8M232.7 89.4h.8M228.5 82.3h.8M233.5 90.6h.8M226.6 78.1h.8M228.8 94.0h.8M236.3 91.4h.8M226.7 87.2h.8M224.3 86.2h.8M236.9 86.3h.8M229.8 89.6h.8M222.7 88.8h.8M219.5 84.4h.8M221.2 85.8h.8M246.6 88.9h.8M241.2 81.1h.8M235.6 80.3h.8M229.3 89.5h.8M221.5 92.2h.8M234.0 76.2h.8M214.6 92.3h.8M232.2 88.0h.8M225.5 92.6h.8M232.6 83.5h.8M245.3 83.8h.8M241.3 93.3h.8M228.9 87.4h.8M219.8 90.6h.8M240.1 97.0h.8M237.3 86.4h.8M222.3 86.6h.8M217.1 85.8h.8M234.2 88.1h.8M225.8 88.5h.8M228.0 91.9h.8M236.6 82.9h.8M227.5 82.8h.8M233.0 98.0h.8M234.2 90.9h.8M239.5 92.1h.8M229.0 83.9h.8" stroke="#fff" stroke-width=".8" opacity="0.4" fill="none"/>
<ellipse cx="214.6" cy="63" rx="3.2" ry="8.5" fill="#c4c4c4" opacity="0.65" filter="url(#bl2)" transform="rotate(0 214.6 63)"/>
<ellipse cx="242" cy="70" rx="5" ry="7.5" fill="#ddd" opacity="0.6" filter="url(#bl2)" transform="rotate(0 242 70)"/>
<path d="M218.0 69.7h.8M212.4 71.2h.8M214.5 61.6h.8M220.6 66.4h.8M215.6 59.3h.8M215.2 70.8h.8M216.1 55.7h.8M216.0 61.0h.8M215.6 60.4h.8M207.3 48.4h.8M213.3 43.5h.8M209.6 79.0h.8M216.8 58.1h.8M215.6 43.2h.8M215.4 70.3h.8M215.2 51.0h.8M217.8 57.5h.8M212.7 63.7h.8M213.5 79.1h.8M214.1 80.0h.8M216.0 51.6h.8M214.5 62.4h.8M219.3 72.8h.8M223.0 56.4h.8M213.1 81.6h.8M211.6 65.0h.8M219.9 53.5h.8M213.4 55.7h.8M216.3 65.4h.8M214.4 67.5h.8M211.9 58.8h.8M216.1 79.0h.8M214.4 62.5h.8M218.9 62.6h.8M218.9 64.0h.8M218.4 63.5h.8M211.5 54.8h.8M216.0 77.9h.8M220.7 59.3h.8M222.9 52.6h.8M211.7 69.9h.8M209.5 69.7h.8M215.8 67.3h.8M210.5 65.2h.8M217.7 61.6h.8M218.0 62.2h.8M215.7 59.3h.8M210.0 60.7h.8M216.2 55.6h.8M208.0 48.9h.8M218.9 60.1h.8M212.0 72.5h.8M214.0 49.3h.8M213.1 54.5h.8M213.9 54.3h.8M214.8 65.9h.8M212.6 60.3h.8M214.0 69.0h.8M212.2 68.4h.8M218.7 60.4h.8M211.3 59.4h.8M208.6 57.4h.8M210.6 60.6h.8M213.3 66.4h.8M214.9 65.6h.8M214.4 64.4h.8M210.8 67.6h.8M218.9 71.4h.8M210.1 65.5h.8M209.1 68.4h.8M213.9 58.1h.8M212.1 60.0h.8M214.5 53.8h.8M214.7 64.2h.8M216.3 61.6h.8M214.5 81.6h.8M217.9 64.7h.8M209.9 67.3h.8M216.5 39.5h.8M214.0 65.2h.8M214.7 62.8h.8M214.0 73.7h.8M215.8 59.6h.8M213.8 79.7h.8M211.7 57.5h.8M215.6 63.3h.8M215.6 73.5h.8M218.4 65.6h.8M214.7 61.5h.8M213.8 70.5h.8M210.3 53.2h.8M213.0 53.8h.8M212.1 72.1h.8M207.0 66.9h.8M210.2 59.9h.8M212.6 53.6h.8M209.6 62.6h.8M204.6 44.0h.8M213.2 71.3h.8M220.8 59.5h.8M211.9 59.6h.8M216.1 69.9h.8M211.4 66.0h.8M214.5 71.7h.8M213.2 60.2h.8M211.7 50.8h.8M215.5 68.1h.8M218.3 64.3h.8M213.0 54.2h.8M210.7 55.9h.8M215.7 62.8h.8M206.9 61.1h.8M213.6 53.1h.8M214.5 66.5h.8M211.1 50.5h.8M213.5 64.2h.8M213.7 75.1h.8M215.1 53.5h.8M217.2 56.5h.8M216.9 62.8h.8M218.7 53.5h.8M217.0 65.6h.8M211.5 68.0h.8M222.2 65.0h.8M212.0 60.7h.8M218.9 64.2h.8M219.5 56.5h.8M219.0 48.6h.8M214.0 59.5h.8M212.9 72.4h.8M212.5 65.0h.8M220.8 69.0h.8M213.2 55.8h.8M207.8 65.2h.8M217.6 71.4h.8M215.4 80.3h.8M217.2 42.4h.8M211.6 68.8h.8M213.2 69.1h.8M223.2 55.5h.8M222.0 61.3h.8M209.6 62.8h.8M217.6 57.1h.8M219.9 54.6h.8M213.9 69.8h.8M213.9 57.3h.8M214.5 67.6h.8M220.4 73.6h.8M220.9 61.8h.8M209.0 61.7h.8M213.2 53.5h.8M212.8 61.4h.8M214.8 69.8h.8M211.5 71.8h.8M214.7 68.3h.8M218.8 51.5h.8M220.0 55.9h.8M215.9 71.3h.8M217.7 48.7h.8M215.1 71.7h.8M214.2 61.3h.8M214.8 76.0h.8M212.7 54.0h.8M210.8 57.5h.8M213.8 65.0h.8M214.3 47.4h.8M209.3 67.8h.8M217.0 50.5h.8M217.8 41.3h.8M222.5 67.0h.8M209.0 66.4h.8M214.5 58.1h.8M213.3 60.1h.8M214.2 54.3h.8M212.7 66.8h.8M216.4 50.7h.8M212.9 75.3h.8M217.0 76.1h.8M210.0 53.2h.8M207.2 45.5h.8M213.3 53.1h.8M210.9 56.1h.8M214.0 69.1h.8M216.5 47.0h.8M219.7 59.2h.8M211.2 61.7h.8M213.2 50.2h.8M219.9 57.1h.8M212.6 66.6h.8M220.3 66.1h.8M211.5 65.7h.8M218.4 65.2h.8M216.8 57.9h.8M214.4 47.7h.8M212.2 52.3h.8M214.6 74.7h.8M206.9 50.8h.8M211.4 61.2h.8M218.6 55.4h.8M211.9 72.3h.8" stroke="#666" stroke-width=".8" opacity="0.5" fill="none"/>
<path d="M244.0 73.2h.8M246.6 63.1h.8M243.2 63.7h.8M238.0 70.1h.8M244.4 58.8h.8M237.8 73.9h.8M242.9 74.3h.8M240.3 62.6h.8M246.3 73.8h.8M226.3 76.0h.8M237.8 74.4h.8M250.7 66.8h.8M236.6 71.1h.8M242.5 73.5h.8M234.3 71.0h.8M246.9 74.6h.8M245.5 78.6h.8M237.4 78.8h.8M243.1 61.0h.8M240.4 71.2h.8M243.8 79.8h.8M243.1 64.9h.8M237.5 76.4h.8M239.7 62.7h.8M236.1 78.5h.8M236.1 69.8h.8M239.5 67.5h.8M237.5 70.2h.8M245.3 77.5h.8M240.0 59.7h.8M233.8 69.1h.8M228.3 79.7h.8M242.2 70.0h.8M234.3 63.9h.8M237.9 74.4h.8M239.7 74.0h.8M244.8 53.6h.8M240.7 79.1h.8M239.2 70.1h.8M241.3 59.2h.8M245.5 65.4h.8M249.7 78.3h.8M248.5 76.7h.8M245.9 80.2h.8M244.2 70.1h.8M246.5 61.9h.8M228.0 75.5h.8M242.8 63.4h.8M240.5 61.4h.8M237.4 70.6h.8M242.7 75.7h.8M241.5 74.1h.8M245.8 63.4h.8M232.7 63.6h.8M240.6 64.8h.8M244.6 62.9h.8M245.8 59.0h.8M247.3 70.5h.8M239.8 59.5h.8M250.0 49.8h.8M235.4 83.6h.8M247.5 73.9h.8M240.0 70.1h.8M235.7 58.4h.8M242.7 74.9h.8M242.9 59.3h.8M246.7 69.8h.8M246.1 66.8h.8M240.5 77.5h.8M249.6 59.5h.8M235.9 76.8h.8M244.0 69.5h.8M236.6 77.2h.8M243.0 70.8h.8M244.1 64.9h.8M244.2 70.1h.8M246.0 72.1h.8M234.9 63.4h.8M240.5 78.4h.8M238.4 78.2h.8M248.0 76.1h.8M243.8 78.8h.8M244.2 77.0h.8M241.3 80.4h.8M243.9 53.8h.8M248.0 67.6h.8M237.1 66.7h.8M240.4 78.3h.8M243.8 68.5h.8M241.9 61.9h.8M238.5 65.4h.8M240.7 59.8h.8M239.8 77.1h.8M244.5 69.1h.8M243.9 67.2h.8M235.5 76.1h.8M245.8 88.7h.8M235.3 73.3h.8M240.1 66.9h.8M232.9 68.5h.8M244.2 56.4h.8M240.8 65.2h.8M236.5 74.2h.8M247.7 75.2h.8M241.6 73.7h.8M249.3 65.7h.8M241.2 58.1h.8M231.7 62.6h.8M246.9 72.0h.8M243.4 79.6h.8M232.2 80.1h.8M242.5 75.3h.8M249.6 62.7h.8M237.2 72.3h.8M241.7 64.5h.8M241.3 63.4h.8M242.7 66.1h.8M245.2 69.7h.8M239.4 82.9h.8M238.4 66.1h.8M239.8 61.3h.8M248.7 81.2h.8M241.2 63.1h.8M234.5 74.4h.8M239.1 73.5h.8M228.7 65.8h.8M245.5 72.4h.8M226.2 71.5h.8M242.7 69.0h.8M240.1 65.6h.8M242.8 73.2h.8M224.5 69.0h.8M247.1 67.4h.8M248.7 61.7h.8M239.8 90.9h.8M250.0 81.7h.8M235.4 68.2h.8M244.6 77.4h.8M242.4 58.8h.8M248.7 67.8h.8M244.4 66.6h.8M241.4 58.2h.8M245.7 64.1h.8M232.2 72.4h.8M241.8 76.7h.8M246.5 59.5h.8M241.0 69.1h.8M242.5 60.7h.8M242.4 76.9h.8M248.9 80.7h.8M246.2 49.1h.8M240.5 64.8h.8M226.0 81.3h.8M247.0 69.0h.8M244.0 72.9h.8M240.8 80.0h.8M238.9 71.1h.8M247.4 74.8h.8" stroke="#666" stroke-width=".8" opacity="0.45" fill="none"/>
<path d="M221.1 73.6h.8M235.3 69.9h.8M223.8 63.9h.8M208.8 63.8h.8M223.6 61.2h.8M225.2 60.9h.8M228.9 65.1h.8M221.9 62.8h.8M227.1 69.0h.8M232.4 60.6h.8M219.7 47.9h.8M215.4 68.1h.8M218.8 80.0h.8M226.4 60.3h.8M226.4 58.7h.8M221.7 64.8h.8M213.5 65.4h.8M227.1 55.2h.8M238.3 67.7h.8M238.9 57.5h.8M215.5 52.4h.8M212.2 45.4h.8M243.7 59.4h.8M229.9 58.8h.8M226.6 79.7h.8M210.6 54.4h.8M229.4 55.1h.8M234.9 76.9h.8M237.0 71.5h.8M226.4 74.0h.8M220.0 52.3h.8M225.4 61.6h.8M240.3 54.3h.8M239.5 56.4h.8M215.3 47.3h.8M227.7 49.8h.8M230.1 64.5h.8M224.0 45.0h.8M222.8 68.5h.8M210.1 70.9h.8M228.2 58.7h.8M230.0 70.5h.8M227.8 56.4h.8M235.9 57.4h.8M231.6 73.7h.8M241.1 79.8h.8M238.3 65.5h.8M226.0 65.9h.8M233.3 93.6h.8M234.6 55.9h.8M243.3 48.4h.8M238.1 51.4h.8M217.1 59.1h.8M225.2 50.7h.8M234.2 62.9h.8M241.5 54.0h.8M209.8 70.9h.8M225.7 73.7h.8M204.6 51.7h.8M228.9 83.4h.8M215.6 45.2h.8M223.4 78.0h.8M243.9 50.6h.8M221.9 45.9h.8M219.6 54.5h.8M232.3 75.3h.8M236.2 66.2h.8M229.3 83.2h.8M235.1 79.5h.8M231.0 72.6h.8M233.1 63.1h.8M221.0 60.1h.8M228.1 60.3h.8M224.6 57.1h.8M236.6 61.6h.8M226.8 61.9h.8M241.2 58.7h.8M242.2 55.5h.8M243.3 70.1h.8M223.1 68.6h.8M239.4 54.6h.8M225.7 67.1h.8M225.9 61.2h.8M228.2 67.1h.8M235.8 78.7h.8M224.8 93.1h.8M224.7 81.6h.8M226.7 49.7h.8M223.7 60.6h.8" stroke="#666" stroke-width=".8" opacity="0.4" fill="none"/>
</g>
<rect x="186" y="34" width="65.19999999999999" height="67.5" fill="none" stroke="#444" stroke-width="1"/>
<line x1="186" y1="101.5" x2="251.2" y2="101.5" stroke="#222" stroke-width="1.3"/>
<line x1="220" y1="34" x2="220" y2="101.5" stroke="#444" stroke-width="1.1"/>
<line x1="186" y1="79.9" x2="251.2" y2="79.9" stroke="#3a3a3a" stroke-width="1.2"/>
<text x="219.5" y="30.3" font-family='"Liberation Serif", serif' font-size="9.6" text-anchor="middle" font-weight="normal" fill="#000" stroke="#000" stroke-width=".15">KLF4</text>
<text transform="translate(188.7 43.8) scale(.84 1)" font-family='"Liberation Serif", serif' font-size="11.6" fill="#000" stroke="#000" stroke-width=".3">5%</text>
<text transform="translate(248.7 43.8) scale(.84 1)" font-family='"Liberation Serif", serif' font-size="11.6" fill="#000" text-anchor="end" stroke="#000" stroke-width=".3">34%</text>
<text transform="translate(175.30 106.30) scale(0.74 1)" font-family='"Liberation Sans", sans-serif' font-size="7.2" fill="#111" stroke="#111" stroke-width=".25">10<tspan dy="-2.88" font-size="5.18">0</tspan></text>
<line x1="184.5" y1="101.5" x2="186" y2="101.5" stroke="#333" stroke-width=".8"/>
<text transform="translate(182.60 112.80) scale(0.74 1)" font-family='"Liberation Sans", sans-serif' font-size="7.2" fill="#111" stroke="#111" stroke-width=".25">10<tspan dy="-2.88" font-size="5.18">0</tspan></text>
<text transform="translate(175.30 89.42) scale(0.74 1)" font-family='"Liberation Sans", sans-serif' font-size="7.2" fill="#111" stroke="#111" stroke-width=".25">10<tspan dy="-2.88" font-size="5.18">1</tspan></text>
<line x1="184.5" y1="84.625" x2="186" y2="84.625" stroke="#333" stroke-width=".8"/>
<text transform="translate(198.90 112.80) scale(0.74 1)" font-family='"Liberation Sans", sans-serif' font-size="7.2" fill="#111" stroke="#111" stroke-width=".25">10<tspan dy="-2.88" font-size="5.18">1</tspan></text>
<text transform="translate(175.30 72.55) scale(0.74 1)" font-family='"Liberation Sans", sans-serif' font-size="7.2" fill="#111" stroke="#111" stroke-width=".25">10<tspan dy="-2.88" font-size="5.18">2</tspan></text>
<line x1="184.5" y1="67.75" x2="186" y2="67.75" stroke="#333" stroke-width=".8"/>
<text transform="translate(215.20 112.80) scale(0.74 1)" font-family='"Liberation Sans", sans-serif' font-size="7.2" fill="#111" stroke="#111" stroke-width=".25">10<tspan dy="-2.88" font-size="5.18">2</tspan></text>
<text transform="translate(175.30 55.68) scale(0.74 1)" font-family='"Liberation Sans", sans-serif' font-size="7.2" fill="#111" stroke="#111" stroke-width=".25">10<tspan dy="-2.88" font-size="5.18">3</tspan></text>
<line x1="184.5" y1="50.875" x2="186" y2="50.875" stroke="#333" stroke-width=".8"/>
<text transform="translate(231.50 112.80) scale(0.74 1)" font-family='"Liberation Sans", sans-serif' font-size="7.2" fill="#111" stroke="#111" stroke-width=".25">10<tspan dy="-2.88" font-size="5.18">3</tspan></text>
<text transform="translate(175.30 38.80) scale(0.74 1)" font-family='"Liberation Sans", sans-serif' font-size="7.2" fill="#111" stroke="#111" stroke-width=".25">10<tspan dy="-2.88" font-size="5.18">4</tspan></text>
<line x1="184.5" y1="34.0" x2="186" y2="34.0" stroke="#333" stroke-width=".8"/>
<text transform="translate(247.80 112.80) scale(0.74 1)" font-family='"Liberation Sans", sans-serif' font-size="7.2" fill="#111" stroke="#111" stroke-width=".25">10<tspan dy="-2.88" font-size="5.18">4</tspan></text>
<clipPath id="cp4"><rect x="25.2" y="125.8" width="65.0" height="66.8"/></clipPath>
<g clip-path="url(#cp4)">
<rect x="25.2" y="171" width="65.2" height="22" fill="#8c8c8c" opacity="1" filter="url(#bl1)"/>
<path d="M79.2 191.3h.8M59.8 175.1h.8M30.8 176.6h.8M88.6 178.0h.8M43.5 182.6h.8M27.5 188.4h.8M76.0 177.8h.8M27.1 190.8h.8M78.0 187.8h.8M38.9 192.0h.8M67.0 171.7h.8M89.2 186.4h.8M37.2 190.6h.8M64.1 185.0h.8M27.0 175.7h.8M76.9 171.3h.8M37.8 172.5h.8M63.2 174.0h.8M76.3 180.9h.8M76.2 191.1h.8M88.6 175.2h.8M49.0 188.5h.8M46.9 191.6h.8M47.1 184.8h.8M41.9 186.9h.8M43.7 180.3h.8M72.3 189.2h.8M34.3 174.8h.8M39.0 187.9h.8M69.1 186.8h.8M77.9 176.1h.8M57.6 171.1h.8M48.2 184.2h.8M42.2 188.5h.8M39.0 180.7h.8M69.8 175.9h.8M68.5 179.8h.8M28.4 173.3h.8M67.7 189.1h.8M69.5 190.0h.8M68.6 188.1h.8M79.8 184.1h.8M59.9 174.6h.8M40.6 172.9h.8M32.4 179.6h.8M44.3 183.4h.8M79.2 176.9h.8M83.5 189.3h.8M37.7 184.0h.8M38.1 172.4h.8M39.6 175.5h.8M25.7 171.6h.8M77.8 190.0h.8M81.5 172.6h.8M26.7 189.9h.8M49.6 178.6h.8M70.9 182.7h.8M46.7 174.3h.8M32.7 186.7h.8M84.2 171.8h.8M39.8 182.5h.8M42.6 181.8h.8M57.9 176.8h.8M32.8 180.2h.8M78.1 174.0h.8M60.3 188.8h.8M62.4 178.6h.8M85.7 188.2h.8M90.2 177.6h.8M56.7 180.9h.8M80.0 184.6h.8M61.1 182.3h.8M83.3 178.8h.8M33.8 174.9h.8M41.1 173.1h.8M88.9 183.2h.8M77.2 181.0h.8M59.2 176.0h.8M83.3 180.2h.8M51.7 187.3h.8M81.8 192.9h.8M56.6 180.3h.8M79.1 180.3h.8M38.4 181.5h.8M45.1 176.7h.8M75.6 178.7h.8M66.0 177.7h.8M32.6 188.2h.8M75.7 186.5h.8M65.0 174.8h.8M57.9 189.3h.8M76.3 184.0h.8M66.3 174.8h.8M28.8 189.6h.8M26.4 176.6h.8M51.3 186.4h.8M70.6 190.1h.8M85.8 177.0h.8M41.4 173.7h.8M46.7 173.3h.8M87.9 183.6h.8M57.2 172.3h.8M84.7 176.4h.8M75.4 175.5h.8M42.8 174.0h.8M60.1 177.3h.8M62.5 186.7h.8M39.9 173.9h.8M58.8 179.8h.8M54.3 179.1h.8M36.0 173.7h.8M72.6 185.0h.8M70.0 185.0h.8M58.7 175.3h.8M84.8 182.7h.8M55.1 176.7h.8M49.8 192.6h.8M51.7 188.7h.8M33.3 184.2h.8M42.9 176.2h.8M45.0 179.7h.8M67.2 180.0h.8M81.3 174.4h.8M81.0 180.6h.8M76.9 179.7h.8M42.0 190.7h.8M66.7 186.9h.8M59.3 186.6h.8M87.6 187.3h.8M88.4 178.7h.8M44.6 190.4h.8M79.6 190.5h.8M53.6 180.1h.8M87.0 175.5h.8M36.0 174.8h.8M44.9 180.2h.8M50.2 181.1h.8M27.5 178.5h.8M58.3 172.2h.8M56.6 190.9h.8M67.8 191.8h.8M81.3 181.9h.8M26.6 172.3h.8M62.8 189.5h.8M46.8 173.9h.8M74.7 182.9h.8M55.7 173.8h.8M61.3 183.6h.8M71.5 190.8h.8M30.1 189.3h.8M46.2 180.1h.8M47.6 188.8h.8M54.0 172.6h.8M56.1 174.3h.8M26.2 172.1h.8M50.0 180.9h.8M25.2 174.0h.8M84.0 183.0h.8M89.1 182.9h.8M87.4 186.2h.8M50.5 172.1h.8M34.8 188.4h.8M68.4 177.5h.8M35.8 185.1h.8M85.8 176.5h.8M90.2 182.8h.8M38.8 175.0h.8M71.6 191.4h.8M38.5 176.2h.8M34.5 175.6h.8M39.9 180.2h.8M40.7 185.6h.8M40.8 176.9h.8M52.5 174.7h.8M28.5 173.0h.8M25.5 185.8h.8M28.4 181.5h.8M83.2 184.5h.8M45.2 179.8h.8M53.1 178.1h.8M28.7 174.4h.8M34.5 175.6h.8M46.8 173.3h.8M65.3 175.4h.8M58.5 186.3h.8M57.6 187.3h.8M76.1 180.8h.8M39.0 171.9h.8M70.4 179.1h.8M44.2 172.8h.8M36.9 190.6h.8M56.0 189.6h.8M80.3 176.5h.8M39.9 190.5h.8M40.6 184.2h.8M86.3 181.2h.8M52.9 192.1h.8M81.5 191.4h.8M71.3 175.9h.8M28.3 171.5h.8M85.4 182.9h.8M82.8 192.1h.8M40.7 192.3h.8M43.1 174.9h.8M42.9 192.9h.8M86.5 178.8h.8M56.6 189.1h.8M77.6 190.7h.8M48.8 176.1h.8M58.6 191.5h.8M65.2 190.2h.8M38.0 182.2h.8M85.0 183.6h.8M77.0 188.8h.8M54.1 186.2h.8M70.3 180.7h.8M59.1 188.8h.8M82.7 192.7h.8M49.2 185.9h.8M61.1 189.7h.8M40.9 181.3h.8M41.9 188.7h.8M71.5 171.1h.8M32.3 174.1h.8M63.7 188.1h.8M47.6 172.7h.8M63.4 184.5h.8M53.3 177.0h.8M47.8 176.1h.8M78.2 179.4h.8M71.7 183.1h.8M40.1 177.2h.8M68.9 190.0h.8M85.0 174.4h.8M42.1 173.2h.8M37.5 179.5h.8M72.0 191.2h.8M63.7 174.2h.8M49.7 174.2h.8M43.4 183.6h.8M57.9 174.8h.8M43.2 190.7h.8M66.3 184.2h.8M46.2 177.6h.8M74.8 171.3h.8M67.8 192.0h.8M66.6 172.1h.8M27.4 188.3h.8M37.3 180.3h.8M67.7 185.9h.8M44.0 186.0h.8M84.8 181.3h.8M51.0 186.1h.8M82.1 186.1h.8M85.7 188.2h.8M87.6 176.5h.8M69.1 175.6h.8M32.9 178.5h.8M86.9 177.5h.8M45.3 191.4h.8M89.2 187.7h.8M48.2 189.1h.8M29.5 171.2h.8M29.3 178.4h.8M40.9 189.9h.8M54.3 189.7h.8M57.0 179.2h.8M47.3 172.0h.8M54.8 191.9h.8M88.6 191.5h.8M31.6 180.7h.8M79.6 174.4h.8M29.5 175.5h.8M30.7 187.3h.8M71.7 192.7h.8M28.5 186.5h.8M76.9 174.9h.8M30.4 192.6h.8M76.7 172.5h.8M37.4 185.5h.8M36.3 180.6h.8M35.0 173.0h.8M56.8 182.9h.8M80.4 171.1h.8M48.3 172.6h.8M61.2 174.6h.8M46.8 192.3h.8M67.5 185.7h.8M64.7 175.4h.8M69.8 192.3h.8M31.0 189.5h.8M47.6 175.4h.8M67.9 189.7h.8M36.1 175.3h.8M57.9 175.5h.8M58.2 192.8h.8M26.9 180.4h.8M38.4 174.7h.8M63.6 191.8h.8M55.8 183.3h.8M70.8 189.9h.8M88.2 178.3h.8M36.8 191.2h.8M64.7 190.4h.8M34.8 188.4h.8M32.9 173.9h.8M33.1 179.0h.8M52.3 185.5h.8M86.3 180.4h.8M62.9 180.0h.8M50.2 176.8h.8M25.5 176.6h.8M72.3 188.6h.8M69.9 180.7h.8M52.0 175.2h.8M41.0 193.0h.8M63.5 179.9h.8M60.1 181.8h.8M44.4 180.2h.8M53.3 190.8h.8M83.3 177.3h.8M54.9 175.9h.8M87.3 174.0h.8M56.6 171.3h.8M55.2 181.1h.8M26.1 174.3h.8M57.8 181.4h.8M45.0 172.2h.8M46.3 178.6h.8M32.0 184.2h.8M39.5 182.7h.8M71.5 171.3h.8M57.7 185.0h.8M83.5 186.2h.8M79.8 185.6h.8M39.8 188.9h.8M74.5 181.7h.8M85.5 172.1h.8M84.4 178.9h.8M60.6 188.5h.8M36.1 181.9h.8M26.2 171.8h.8M87.5 175.8h.8M53.0 173.7h.8M86.0 182.2h.8M81.0 177.0h.8M55.4 176.4h.8M63.6 186.6h.8M62.6 183.9h.8M45.4 192.0h.8M26.5 174.7h.8M68.7 192.4h.8M80.5 176.4h.8M86.7 181.0h.8M62.4 185.2h.8M65.5 190.3h.8M83.8 178.0h.8M83.4 177.9h.8M69.8 174.5h.8M66.8 177.6h.8M90.0 185.6h.8M50.5 192.2h.8M32.7 187.4h.8M67.5 171.4h.8M55.2 173.6h.8M90.4 173.2h.8M66.6 183.0h.8M33.4 191.6h.8M62.6 184.6h.8M42.4 174.4h.8M46.4 171.8h.8M38.3 181.9h.8M50.7 187.7h.8M34.4 175.5h.8M59.3 186.1h.8M45.7 175.5h.8M33.4 179.0h.8M49.9 188.5h.8M40.9 178.5h.8M73.8 175.6h.8M27.7 192.4h.8M84.8 178.0h.8M43.7 181.1h.8M38.9 188.3h.8M82.9 186.7h.8M51.2 189.5h.8M86.3 175.0h.8M68.8 174.8h.8M89.5 188.5h.8M51.9 187.3h.8M44.3 172.4h.8M58.7 172.7h.8M55.0 189.8h.8M62.8 176.9h.8M39.0 183.3h.8M58.4 190.9h.8M36.4 181.3h.8M54.4 179.3h.8M37.3 179.4h.8M60.6 175.3h.8M46.1 182.6h.8M86.5 181.6h.8M47.8 171.8h.8M59.0 178.6h.8M32.7 181.4h.8M65.4 178.7h.8M73.1 184.9h.8M29.3 172.1h.8M59.5 184.3h.8M61.5 176.0h.8M47.7 186.8h.8M51.1 182.6h.8M40.1 184.8h.8M56.5 171.1h.8M74.4 188.7h.8M89.5 191.7h.8M71.0 181.3h.8M42.5 186.5h.8M52.5 178.1h.8M32.8 184.3h.8M71.5 187.9h.8M35.1 175.5h.8M66.7 173.9h.8M83.0 191.4h.8M66.3 176.8h.8M61.9 187.9h.8M47.7 185.3h.8M64.4 191.0h.8M75.8 185.7h.8M60.7 190.6h.8M64.5 186.2h.8M45.4 173.4h.8M61.6 175.9h.8M88.4 175.9h.8M83.6 178.3h.8M37.7 183.7h.8M46.2 192.9h.8M65.5 173.2h.8M45.4 173.5h.8M57.4 182.6h.8M45.8 185.8h.8M54.2 189.0h.8M69.5 176.7h.8M79.3 171.7h.8M40.5 171.6h.8M87.2 182.8h.8M80.1 192.8h.8M31.2 190.8h.8M26.6 186.4h.8M76.9 179.5h.8M83.2 187.9h.8M57.6 177.2h.8M35.6 172.7h.8M60.5 182.5h.8M37.4 182.7h.8M30.4 177.6h.8M68.8 174.3h.8M59.3 173.9h.8M82.7 175.7h.8M85.9 191.2h.8M88.1 177.2h.8M69.6 172.5h.8M88.6 186.2h.8M27.6 174.0h.8M32.1 178.7h.8M86.3 188.4h.8M46.5 188.8h.8M25.9 183.0h.8M50.6 172.7h.8M85.1 185.5h.8M90.1 185.1h.8M65.7 173.8h.8M56.2 190.7h.8M61.6 185.0h.8M55.2 178.9h.8M26.0 175.8h.8M37.3 173.0h.8M28.7 187.6h.8M90.1 186.3h.8M79.4 175.6h.8M80.6 179.4h.8M80.9 176.2h.8M44.7 182.6h.8M39.8 176.7h.8M72.6 188.4h.8M89.3 185.4h.8M48.1 181.3h.8M63.4 184.0h.8M85.0 183.5h.8M87.9 181.5h.8M54.3 171.6h.8M46.3 181.6h.8M26.0 180.7h.8M32.8 176.9h.8M82.8 191.1h.8M32.7 183.9h.8M56.9 172.2h.8M44.6 182.8h.8M52.9 183.5h.8M29.5 184.5h.8M65.1 175.2h.8M62.2 191.5h.8M83.3 184.6h.8M59.2 187.5h.8M54.8 186.5h.8M49.5 183.2h.8M73.0 183.9h.8M64.5 179.5h.8M48.0 185.4h.8M54.3 180.7h.8M49.9 177.4h.8M66.0 190.3h.8M37.9 185.3h.8M59.8 185.0h.8M68.4 179.8h.8M25.9 179.0h.8M59.2 184.9h.8M85.6 185.5h.8M67.8 178.7h.8M77.0 173.9h.8M82.9 181.8h.8M54.8 186.2h.8M60.6 192.9h.8M33.1 172.4h.8M64.0 176.0h.8M40.0 193.0h.8M59.7 177.4h.8M49.0 176.0h.8M41.6 174.0h.8M88.9 187.2h.8M48.6 173.4h.8M88.8 190.6h.8M31.4 190.1h.8M61.2 192.7h.8M53.9 180.6h.8M25.7 183.7h.8M40.8 190.4h.8M39.8 190.4h.8M46.9 188.7h.8M71.8 191.5h.8M62.7 178.9h.8M42.3 176.2h.8M31.9 177.6h.8M45.9 189.1h.8M25.6 182.0h.8M58.3 174.5h.8M70.4 175.6h.8M73.7 174.7h.8M82.5 177.9h.8M31.4 174.3h.8M38.5 173.9h.8M45.7 192.4h.8M49.6 179.7h.8M74.3 172.6h.8M30.9 190.1h.8M46.5 174.8h.8M37.2 187.4h.8M88.9 179.8h.8M71.6 181.2h.8M38.5 177.9h.8M47.3 176.5h.8M76.9 173.0h.8M50.4 187.2h.8M27.4 192.2h.8M65.3 185.3h.8M37.7 175.5h.8M80.2 192.5h.8M26.2 189.0h.8M38.2 172.7h.8M64.1 173.1h.8M80.0 189.6h.8M43.9 174.2h.8M58.6 187.5h.8M27.7 186.5h.8M33.3 179.3h.8M36.0 172.8h.8M60.1 177.6h.8M84.6 190.9h.8M72.5 182.3h.8M67.4 178.3h.8M55.8 183.0h.8M52.7 180.8h.8M80.8 192.8h.8M73.2 189.9h.8M45.1 172.6h.8M39.7 182.0h.8M75.1 187.1h.8M84.9 188.1h.8M44.7 172.2h.8M56.6 178.3h.8M81.9 190.9h.8M60.3 188.0h.8M72.6 182.4h.8M54.0 192.0h.8M77.2 183.6h.8M89.5 174.3h.8M75.4 183.1h.8M46.2 173.8h.8M63.1 190.1h.8M36.7 190.8h.8" stroke="#111" stroke-width=".8" opacity="0.45" fill="none"/>
<path d="M89.5 175.3h.8M61.2 181.7h.8M47.1 173.6h.8M42.6 191.7h.8M80.0 191.9h.8M57.7 182.0h.8M29.2 180.4h.8M63.1 192.9h.8M29.4 185.4h.8M28.3 192.4h.8M38.4 186.3h.8M66.6 175.5h.8M55.3 180.3h.8M36.9 179.7h.8M29.3 186.6h.8M88.5 182.9h.8M51.2 182.3h.8M34.6 187.3h.8M70.3 173.3h.8M49.8 173.7h.8M70.9 171.3h.8M82.0 172.4h.8M79.7 175.2h.8M59.7 186.7h.8M86.4 190.2h.8M35.1 186.7h.8M53.2 174.7h.8M55.3 191.6h.8M26.5 186.4h.8M60.6 190.4h.8M56.2 176.5h.8M80.7 173.4h.8M70.1 177.5h.8M28.7 174.7h.8M80.6 174.5h.8M85.1 174.2h.8M85.7 172.2h.8M68.2 182.8h.8M64.1 191.4h.8M40.0 192.9h.8M62.3 188.8h.8M41.5 192.9h.8M72.2 181.4h.8M39.4 190.3h.8M61.7 192.8h.8M82.8 187.5h.8M72.3 174.7h.8M79.3 186.7h.8M31.6 172.5h.8M31.8 175.8h.8M75.0 187.9h.8M70.5 179.1h.8M86.4 174.3h.8M40.0 180.7h.8M42.2 187.2h.8M79.6 187.4h.8M46.3 183.8h.8M45.7 183.1h.8M59.8 174.4h.8M80.3 188.9h.8M75.9 173.0h.8M40.4 187.5h.8M77.9 184.6h.8M86.0 180.4h.8M40.0 181.4h.8M44.9 179.4h.8M76.2 178.1h.8M71.7 184.0h.8M26.6 182.2h.8M81.7 185.2h.8M80.7 185.1h.8M90.1 171.9h.8M52.9 175.3h.8M74.5 177.5h.8M68.5 185.4h.8M26.3 184.5h.8M46.7 176.6h.8M67.3 184.9h.8M39.1 186.6h.8M30.1 172.2h.8M83.1 191.4h.8M86.9 192.9h.8M73.5 183.5h.8M59.7 182.8h.8M86.7 192.3h.8M53.6 175.4h.8M60.3 180.3h.8M78.0 191.3h.8M65.6 172.8h.8M60.0 173.8h.8M60.2 189.0h.8M69.1 181.3h.8M35.5 191.5h.8M82.0 181.7h.8M28.6 185.9h.8M51.3 179.7h.8M49.9 177.0h.8M34.4 185.3h.8M59.0 180.5h.8M74.1 182.1h.8M35.8 176.9h.8M61.6 185.7h.8M66.5 187.4h.8M48.5 187.9h.8M63.2 176.6h.8M33.4 184.8h.8M80.4 191.9h.8M78.4 189.1h.8M63.7 176.4h.8M44.5 190.0h.8M43.0 181.7h.8M61.0 171.4h.8M32.5 175.4h.8M77.1 188.3h.8M30.9 174.6h.8M89.5 174.6h.8M77.4 183.9h.8M82.1 187.2h.8M31.5 187.9h.8M71.8 171.9h.8M86.6 177.4h.8M55.5 182.5h.8M61.4 183.5h.8M29.5 189.8h.8M59.3 173.2h.8M58.0 175.2h.8M53.3 186.8h.8M74.3 174.6h.8M44.0 192.3h.8M66.2 175.1h.8M65.0 176.5h.8M30.0 185.5h.8M32.5 174.1h.8M69.4 192.3h.8M29.7 187.5h.8M34.5 172.3h.8M26.3 171.4h.8M72.9 191.0h.8M26.0 174.3h.8M28.3 180.0h.8M46.2 175.2h.8M78.4 173.3h.8M66.4 174.2h.8M67.8 173.8h.8M38.0 192.8h.8M42.6 180.9h.8M68.3 193.0h.8M61.0 173.6h.8M68.8 186.0h.8M63.3 179.5h.8M78.7 172.4h.8M60.8 183.0h.8M85.1 188.1h.8M40.8 179.4h.8M64.1 179.4h.8M29.3 192.8h.8M54.8 174.1h.8M35.2 171.3h.8M84.6 174.1h.8M61.9 191.8h.8M75.3 184.0h.8M43.8 185.8h.8M77.8 175.6h.8M40.1 180.0h.8M64.2 190.6h.8M63.7 176.9h.8M72.5 174.3h.8M32.2 171.2h.8M62.8 183.7h.8M55.5 183.2h.8M37.5 175.6h.8M63.3 179.9h.8M57.7 191.1h.8M55.7 187.4h.8M29.2 181.8h.8M28.7 175.4h.8M37.5 179.5h.8M35.6 191.6h.8M44.8 177.7h.8M29.8 179.1h.8M76.3 183.0h.8M83.5 184.6h.8M67.2 180.4h.8M79.7 180.9h.8M34.3 175.9h.8M77.2 172.3h.8M37.0 184.8h.8M69.7 181.2h.8M67.7 180.2h.8M63.7 171.9h.8M52.1 192.4h.8M62.7 178.5h.8M65.8 192.5h.8M55.6 180.2h.8M78.8 189.7h.8M39.9 185.7h.8M44.7 178.8h.8M77.6 179.0h.8M84.8 181.7h.8M81.7 173.8h.8M51.6 171.7h.8M81.1 190.6h.8M56.9 181.2h.8M88.5 179.5h.8M45.2 174.0h.8M85.1 188.7h.8M59.6 187.0h.8M79.7 185.7h.8M32.3 185.3h.8M82.0 181.5h.8M53.1 185.2h.8M37.6 176.0h.8M69.5 192.9h.8M32.6 185.6h.8M58.0 171.8h.8M35.7 177.7h.8M70.3 173.9h.8M49.5 184.6h.8M74.4 192.9h.8M79.8 175.2h.8M61.7 184.3h.8M61.2 184.1h.8M50.2 176.2h.8M68.7 190.2h.8M69.7 185.5h.8M87.6 176.6h.8M62.7 189.2h.8M67.8 171.0h.8M58.5 189.0h.8M38.4 179.7h.8M89.3 181.0h.8M60.6 184.1h.8M80.6 181.0h.8M83.8 186.5h.8M51.4 184.5h.8M44.8 172.1h.8M56.8 172.0h.8M44.7 189.6h.8M88.5 175.4h.8M36.0 178.8h.8M54.6 174.1h.8M77.8 174.5h.8M60.4 177.0h.8M67.4 173.6h.8M57.4 189.7h.8M26.3 175.3h.8M29.9 189.4h.8M68.9 176.3h.8M83.9 174.8h.8M57.1 187.1h.8M64.4 172.4h.8M28.3 175.1h.8M86.9 190.8h.8M44.8 172.1h.8M66.6 175.4h.8M83.4 191.2h.8M76.2 188.1h.8M76.0 189.3h.8M50.0 186.9h.8M26.0 186.3h.8M54.2 192.7h.8M76.4 181.0h.8M71.3 183.9h.8M65.4 171.2h.8M39.9 176.7h.8M71.1 191.2h.8M66.2 187.7h.8M66.7 174.2h.8M41.8 183.8h.8M74.4 180.2h.8M70.5 178.4h.8M45.7 174.7h.8M52.2 183.8h.8M32.4 191.5h.8M25.7 187.1h.8M47.8 191.6h.8M43.9 171.6h.8M70.2 179.3h.8M78.5 185.7h.8M54.0 185.5h.8M69.6 178.2h.8M37.9 185.4h.8M62.3 172.0h.8M35.8 180.5h.8M31.1 182.5h.8M51.0 177.5h.8M74.1 187.2h.8M29.6 184.1h.8M89.9 184.3h.8M89.4 176.1h.8M39.6 178.2h.8M40.5 174.5h.8M41.8 182.0h.8M78.1 188.0h.8M27.8 187.9h.8M66.8 176.9h.8M25.6 189.9h.8M34.0 176.6h.8M45.0 188.5h.8M86.8 191.1h.8" stroke="#fff" stroke-width=".8" opacity="0.3" fill="none"/>
<ellipse cx="42" cy="180.8" rx="15" ry="9.3" fill="#bababa" opacity="1" filter="url(#bl1)" transform="rotate(0 42 180.8)"/>
<ellipse cx="42" cy="180.8" rx="11" ry="6" fill="#bcbcbc" opacity="0.8" filter="url(#bl2)" transform="rotate(0 42 180.8)"/>
<ellipse cx="70.8" cy="180.8" rx="11.5" ry="9.3" fill="#bcbcbc" opacity="1" filter="url(#bl1)" transform="rotate(0 70.8 180.8)"/>
<ellipse cx="70.8" cy="180.8" rx="8" ry="6" fill="#bebebe" opacity="0.8" filter="url(#bl2)" transform="rotate(0 70.8 180.8)"/>
<path d="M52.2 173.2h.8M39.0 181.3h.8M42.5 183.7h.8M45.6 182.8h.8M40.8 182.5h.8M37.0 190.4h.8M42.6 187.0h.8M42.9 180.3h.8M40.4 174.8h.8M60.6 183.0h.8M43.2 178.8h.8M53.5 179.4h.8M37.9 178.4h.8M55.8 182.5h.8M40.7 177.9h.8M53.5 182.4h.8M39.1 185.3h.8M49.9 176.2h.8M52.3 186.2h.8M39.9 174.6h.8M51.8 179.4h.8M40.2 179.6h.8M39.6 185.0h.8M32.3 183.6h.8M52.4 186.1h.8M48.5 182.3h.8M40.3 180.4h.8M34.2 189.0h.8M41.0 176.2h.8M49.5 188.2h.8M44.5 179.5h.8M32.1 184.1h.8M39.9 177.8h.8M47.4 174.8h.8M48.6 169.4h.8M36.6 174.2h.8M39.9 184.8h.8M30.5 187.5h.8M36.0 178.7h.8M50.9 177.5h.8M55.0 180.0h.8M41.2 176.4h.8M52.3 180.7h.8M37.8 176.5h.8M36.4 180.6h.8M35.7 184.8h.8M41.8 178.1h.8M46.2 187.8h.8M51.7 181.7h.8M49.4 173.7h.8M35.5 185.8h.8M41.3 181.3h.8M47.7 182.8h.8M46.1 178.7h.8M39.5 187.2h.8M37.8 174.2h.8M39.0 185.3h.8M58.0 181.7h.8M36.6 183.9h.8M44.8 186.6h.8M46.7 184.6h.8M46.6 183.0h.8M34.1 180.2h.8M56.3 187.3h.8M50.6 182.9h.8M41.2 182.7h.8M39.2 186.2h.8M39.4 177.4h.8M28.0 188.4h.8M35.5 176.9h.8M45.7 189.5h.8M48.0 179.4h.8M47.2 177.1h.8M40.0 181.2h.8M42.3 184.7h.8M46.9 189.9h.8M49.5 179.7h.8M44.5 177.0h.8M36.8 179.4h.8M51.1 177.7h.8M28.5 176.2h.8M31.7 180.1h.8M39.6 175.5h.8M35.3 179.1h.8M45.7 183.9h.8M53.8 179.8h.8M47.8 181.4h.8M32.7 178.0h.8M61.4 180.3h.8M56.7 184.9h.8M56.8 180.1h.8M50.4 179.6h.8M32.6 175.5h.8M46.1 173.4h.8M45.5 176.9h.8M45.4 174.5h.8M49.7 179.9h.8M28.9 174.2h.8M42.9 173.3h.8" stroke="#555" stroke-width=".8" opacity="0.2" fill="none"/>
<path d="M74.8 183.5h.8M67.2 187.8h.8M83.5 182.7h.8M75.8 183.4h.8M70.3 187.4h.8M68.1 169.3h.8M72.5 183.3h.8M78.7 176.0h.8M83.1 177.3h.8M77.2 184.7h.8M73.7 186.6h.8M68.5 190.9h.8M76.1 179.2h.8M59.8 187.9h.8M84.3 178.5h.8M64.7 186.5h.8M72.8 176.7h.8M68.6 181.5h.8M79.9 188.6h.8M67.5 188.5h.8M60.6 184.6h.8M71.2 183.3h.8M68.9 177.9h.8M74.5 186.6h.8M55.2 181.5h.8M69.2 176.1h.8M61.9 183.7h.8M76.6 184.3h.8M56.9 174.0h.8M67.6 179.2h.8M86.0 179.4h.8M73.3 185.9h.8M85.3 183.0h.8M75.0 190.4h.8M69.2 172.7h.8M66.5 179.7h.8M82.5 182.7h.8M81.6 181.7h.8M72.7 178.5h.8M62.8 183.6h.8M75.1 183.9h.8M68.2 179.2h.8M75.3 184.1h.8M87.7 177.1h.8M80.0 185.4h.8M70.3 181.9h.8M71.9 188.4h.8M70.4 185.7h.8M76.2 180.3h.8M78.2 185.3h.8M69.3 185.2h.8M55.0 175.1h.8M69.9 182.0h.8M61.1 188.2h.8M69.4 181.9h.8M72.0 184.8h.8M67.9 184.7h.8M65.9 174.2h.8M76.3 182.0h.8M79.2 172.0h.8M73.2 178.2h.8M70.9 179.3h.8M69.4 178.0h.8M80.2 173.1h.8M59.4 182.8h.8M87.9 177.6h.8M65.3 175.7h.8M64.4 187.1h.8M77.6 185.5h.8M75.0 182.3h.8M67.8 176.6h.8M69.5 187.2h.8M66.9 181.4h.8M85.5 180.9h.8M77.3 178.5h.8M86.9 175.4h.8M76.7 180.1h.8M73.9 182.9h.8M82.5 185.4h.8M80.5 183.0h.8M64.1 187.6h.8M84.2 183.5h.8M78.5 180.1h.8M61.2 185.9h.8M66.7 190.3h.8M77.7 181.1h.8M67.6 181.7h.8" stroke="#555" stroke-width=".8" opacity="0.2" fill="none"/>
<ellipse cx="42.6" cy="178" rx="2.4" ry="3" fill="#444" opacity="0.9" filter="url(#bl1)" transform="rotate(0 42.6 178)"/>
<ellipse cx="42.6" cy="178" rx="5" ry="5.5" fill="#999" opacity="0.4" filter="url(#bl2)" transform="rotate(0 42.6 178)"/>
<ellipse cx="47" cy="155" rx="10.5" ry="14" fill="#b4b4b4" opacity="0.85" filter="url(#bl2)" transform="rotate(0 47 155)"/>
<ellipse cx="75" cy="155" rx="11" ry="14" fill="#b4b4b4" opacity="0.85" filter="url(#bl2)" transform="rotate(0 75 155)"/>
<ellipse cx="58" cy="161" rx="28" ry="8" fill="#c8c8c8" opacity="0.6" filter="url(#bl2)" transform="rotate(0 58 161)"/>
<path d="M40.0 150.5h.8M58.9 151.2h.8M60.7 153.1h.8M50.3 145.2h.8M45.1 149.8h.8M37.2 172.4h.8M51.6 153.2h.8M39.4 154.3h.8M39.7 144.8h.8M45.9 174.5h.8M34.7 159.3h.8M43.3 126.4h.8M37.0 152.7h.8M47.7 146.8h.8M60.2 159.1h.8M42.7 138.4h.8M48.6 147.6h.8M54.7 144.1h.8M56.0 149.6h.8M48.7 151.4h.8M51.8 164.9h.8M43.3 145.4h.8M61.1 163.1h.8M61.2 163.1h.8M48.3 169.6h.8M42.4 149.9h.8M44.4 160.5h.8M41.1 152.3h.8M41.1 151.8h.8M55.4 164.6h.8M45.7 178.3h.8M42.2 158.4h.8M43.8 132.9h.8M38.6 165.8h.8M35.2 181.9h.8M46.4 156.6h.8M56.4 154.3h.8M42.6 148.2h.8M40.4 159.3h.8M43.8 158.9h.8M36.3 149.9h.8M62.3 157.5h.8M46.5 165.3h.8M49.3 168.7h.8M38.8 161.3h.8M39.5 160.5h.8M65.1 168.6h.8M41.0 158.0h.8M50.6 147.1h.8M49.0 143.8h.8M54.3 162.7h.8M46.0 160.6h.8M64.6 152.5h.8M33.6 157.2h.8M43.9 146.6h.8M53.8 163.6h.8M51.6 169.6h.8M42.6 150.0h.8M50.3 128.2h.8M27.3 157.3h.8M45.7 154.6h.8M40.2 156.2h.8M54.9 148.0h.8M51.3 152.5h.8M46.1 155.1h.8M58.2 159.0h.8M52.2 155.5h.8M31.5 163.0h.8M47.1 154.9h.8M43.5 139.3h.8M58.1 171.6h.8M58.7 136.4h.8M51.2 142.7h.8M45.8 149.1h.8M42.7 146.7h.8M43.7 161.4h.8M58.9 162.9h.8M47.1 152.6h.8M45.4 153.8h.8M42.6 152.3h.8M53.4 151.9h.8M41.2 152.9h.8M47.8 153.3h.8M45.3 160.8h.8M46.8 144.4h.8M51.3 147.2h.8M52.8 161.8h.8M50.7 157.0h.8M37.3 152.1h.8M48.1 160.1h.8M38.9 152.5h.8M35.9 155.7h.8M47.7 155.2h.8M59.3 161.0h.8M45.7 148.5h.8M43.9 161.5h.8M53.8 149.2h.8M46.3 149.9h.8M52.2 155.8h.8M41.9 145.5h.8M56.7 140.6h.8M62.1 148.9h.8M53.4 159.4h.8M53.3 164.9h.8M43.7 153.9h.8M54.4 159.4h.8M41.6 146.8h.8M36.5 156.5h.8M43.2 139.1h.8M43.0 157.1h.8M48.5 151.9h.8M48.3 160.3h.8M38.3 146.2h.8M54.3 161.1h.8M36.8 147.1h.8M57.8 161.2h.8M46.1 163.8h.8M57.2 167.5h.8M36.9 141.6h.8M43.4 153.6h.8M44.5 156.4h.8M58.1 164.5h.8M54.4 154.0h.8M59.3 158.4h.8M48.9 153.8h.8M33.6 174.6h.8M47.0 162.6h.8M63.9 152.2h.8M38.6 163.8h.8M48.9 145.0h.8M54.3 154.1h.8M40.2 129.8h.8M39.8 157.7h.8M39.5 163.3h.8M63.4 157.1h.8M48.8 153.3h.8M53.5 154.3h.8M54.8 167.6h.8M53.4 144.8h.8M52.1 151.5h.8M49.5 163.3h.8M42.2 156.0h.8M58.0 146.1h.8M45.7 161.0h.8M45.4 163.8h.8M39.7 139.7h.8M49.9 152.7h.8M49.5 163.2h.8M54.9 150.7h.8M44.3 135.6h.8M39.9 156.4h.8M48.7 139.9h.8M53.0 153.6h.8M55.3 150.7h.8M54.3 143.5h.8M33.4 146.3h.8M52.3 157.9h.8M33.2 155.4h.8M52.1 170.0h.8M52.9 158.9h.8M35.4 157.6h.8M32.6 151.2h.8M44.4 144.8h.8M39.6 152.7h.8M51.4 147.9h.8M49.4 160.8h.8M47.0 172.2h.8M44.8 147.1h.8M33.1 164.2h.8M52.2 152.3h.8M49.4 152.8h.8M53.6 153.9h.8M48.8 153.3h.8M40.6 133.0h.8M51.2 142.2h.8M50.1 160.1h.8M61.1 147.0h.8M48.2 163.0h.8M42.2 148.5h.8M50.5 173.6h.8M55.1 163.1h.8M40.0 160.3h.8M55.6 142.0h.8M47.2 152.2h.8M51.9 137.5h.8M52.4 154.0h.8M45.2 134.0h.8M31.7 148.9h.8M52.0 158.1h.8M52.7 137.9h.8M48.6 166.8h.8M35.6 160.2h.8M41.7 159.2h.8M47.9 138.6h.8M39.3 166.1h.8M46.3 165.8h.8M49.6 162.5h.8M44.2 156.1h.8M44.4 162.6h.8M42.9 164.5h.8M58.8 142.5h.8M45.9 159.2h.8M60.3 164.9h.8M47.8 137.6h.8M53.4 148.5h.8M48.6 157.8h.8M36.7 164.1h.8M53.9 159.5h.8M51.5 157.4h.8M36.7 149.2h.8M53.2 150.9h.8M47.3 157.5h.8M47.8 156.5h.8M50.7 154.0h.8M38.9 151.5h.8M54.2 147.6h.8M50.6 156.9h.8M40.6 127.4h.8M47.0 146.7h.8M42.5 162.9h.8M41.4 157.3h.8M48.0 155.9h.8M61.9 135.4h.8M54.3 152.7h.8M45.0 147.7h.8M47.4 154.5h.8M40.3 169.5h.8M41.6 152.7h.8M37.7 155.4h.8M49.8 164.3h.8M54.4 149.3h.8M59.0 153.0h.8M58.6 170.2h.8M44.1 143.9h.8M51.1 167.6h.8M50.1 164.4h.8M51.5 162.4h.8M56.9 151.2h.8M36.6 152.9h.8M41.3 142.8h.8M45.9 160.7h.8M33.4 139.7h.8M53.0 145.7h.8M44.2 166.8h.8M55.4 157.4h.8M51.1 128.4h.8M51.2 157.6h.8M36.8 155.7h.8M50.5 152.9h.8M53.0 162.3h.8M47.5 151.7h.8M38.4 164.8h.8M42.9 157.0h.8M58.4 161.3h.8M37.7 153.2h.8M41.8 138.5h.8M41.2 159.5h.8M49.6 152.1h.8M48.4 143.0h.8M41.4 152.4h.8M53.0 151.0h.8M45.9 157.2h.8M58.0 142.1h.8M51.0 155.8h.8M46.6 156.3h.8M32.4 154.3h.8M45.3 142.4h.8M53.3 152.9h.8M44.6 161.2h.8M40.3 147.3h.8M53.2 162.2h.8M62.0 149.7h.8M36.3 140.0h.8M38.2 155.0h.8M45.3 147.7h.8M39.6 147.5h.8M44.4 165.2h.8M51.7 166.9h.8M53.1 161.2h.8M55.8 158.3h.8M58.5 164.7h.8M60.5 156.1h.8M41.4 177.7h.8M45.0 158.9h.8M44.3 147.5h.8M50.3 143.5h.8M45.9 167.3h.8M48.0 161.7h.8M51.8 157.6h.8M47.9 159.8h.8M39.9 159.5h.8M39.1 146.9h.8M42.7 141.4h.8M32.5 157.6h.8M50.8 160.2h.8M63.4 155.7h.8M52.6 147.0h.8M52.3 143.3h.8M61.6 144.9h.8M44.0 161.1h.8M30.8 166.6h.8M40.0 155.9h.8M54.3 155.5h.8M54.0 149.3h.8M51.5 133.5h.8M58.2 147.8h.8M40.7 154.2h.8M59.6 147.4h.8M46.9 150.6h.8M40.2 141.7h.8M51.4 160.7h.8M41.5 156.2h.8M50.4 157.6h.8M45.8 154.4h.8M49.1 144.0h.8M46.0 161.5h.8M42.9 166.4h.8M45.3 143.6h.8M44.9 141.3h.8M51.6 139.0h.8M47.2 151.8h.8M44.8 158.0h.8M49.2 148.8h.8M53.1 149.8h.8M53.7 166.6h.8M49.8 162.7h.8M37.1 159.3h.8M36.0 152.4h.8M52.2 128.8h.8M41.3 146.7h.8M40.1 154.2h.8M51.7 143.1h.8M42.4 136.5h.8M41.8 134.3h.8M35.9 158.4h.8M53.5 146.4h.8M49.6 146.7h.8M54.9 170.5h.8M28.8 145.9h.8M42.3 149.5h.8M58.6 168.8h.8M46.9 160.0h.8M35.3 151.2h.8M44.9 152.6h.8M49.2 139.3h.8M39.3 174.1h.8M34.2 154.6h.8M52.4 158.6h.8M47.4 138.8h.8M43.6 139.3h.8M61.5 157.4h.8M52.4 155.9h.8M44.1 165.1h.8M53.5 160.0h.8M51.3 161.0h.8M44.9 158.1h.8M47.6 151.6h.8M51.8 174.1h.8M32.0 167.5h.8M43.8 165.3h.8M39.5 152.3h.8M54.6 153.3h.8M49.6 142.6h.8M38.5 169.7h.8M48.2 153.2h.8M36.8 144.3h.8M39.4 153.5h.8M46.2 148.3h.8M42.1 155.0h.8M55.7 140.8h.8M36.5 164.6h.8M36.5 150.2h.8M47.9 171.2h.8M31.9 126.7h.8M46.4 164.1h.8M48.1 146.4h.8M48.4 134.6h.8M53.1 167.9h.8M45.5 161.7h.8M39.2 167.9h.8M42.2 146.5h.8M41.4 137.3h.8M52.0 172.9h.8M36.4 152.1h.8M50.3 148.7h.8M35.4 157.2h.8M54.4 155.0h.8M39.1 151.2h.8M32.7 153.4h.8M56.0 164.5h.8M46.4 158.1h.8M43.2 155.2h.8M42.6 155.6h.8M43.2 155.9h.8M52.1 153.8h.8M37.4 158.7h.8M45.2 149.3h.8M51.2 146.1h.8M53.9 159.3h.8M41.9 147.4h.8M46.1 145.4h.8M54.0 132.7h.8M48.1 150.7h.8M38.9 160.0h.8M43.4 158.3h.8M43.8 151.3h.8M50.9 163.0h.8M54.4 153.8h.8M58.0 150.8h.8M36.9 136.4h.8M36.3 145.8h.8M33.8 157.1h.8M47.2 153.7h.8M48.8 153.0h.8M45.1 151.0h.8M47.3 143.4h.8M56.4 168.6h.8M47.3 175.5h.8M39.9 162.5h.8M35.0 159.7h.8M41.5 163.5h.8M47.9 163.0h.8M51.5 159.0h.8M45.0 169.1h.8M49.6 158.6h.8M57.6 151.6h.8M59.9 164.3h.8M47.6 140.3h.8M56.0 151.1h.8M47.7 155.2h.8M54.1 160.0h.8M33.6 147.8h.8M49.6 155.6h.8M52.9 159.4h.8M59.0 147.2h.8M56.7 157.6h.8M49.2 160.5h.8M44.5 160.8h.8M45.5 160.8h.8M41.4 165.1h.8M35.8 147.8h.8M46.7 156.3h.8M41.2 150.2h.8M48.9 163.9h.8M56.6 149.5h.8M46.5 151.1h.8M35.8 149.8h.8M55.4 141.3h.8M68.1 163.3h.8M59.8 155.8h.8M30.1 158.2h.8M58.8 148.6h.8M56.4 161.2h.8M52.8 161.1h.8M51.4 160.2h.8M55.8 158.0h.8M51.7 158.1h.8M48.1 145.8h.8M33.8 144.4h.8M37.9 140.0h.8M52.1 150.9h.8M56.4 183.6h.8M52.7 149.6h.8M49.8 152.1h.8M49.1 173.8h.8M58.8 166.1h.8M49.2 170.9h.8M53.2 162.5h.8M38.4 148.2h.8M48.3 152.0h.8M43.2 135.1h.8M41.6 153.0h.8M49.3 143.9h.8M46.1 171.2h.8M48.2 135.4h.8M45.7 154.1h.8M56.4 155.9h.8M57.2 157.2h.8M55.7 166.8h.8M58.4 155.9h.8M51.8 191.2h.8M38.1 155.9h.8M50.6 147.4h.8M53.2 152.5h.8M52.9 155.9h.8M40.2 164.0h.8M61.9 162.8h.8M49.1 137.7h.8M49.5 153.8h.8M41.2 135.9h.8M50.4 163.3h.8M52.3 175.7h.8M33.1 157.4h.8M46.9 167.6h.8M46.8 144.9h.8M46.6 158.2h.8M41.7 146.6h.8M49.0 162.4h.8M45.4 158.7h.8M43.4 150.8h.8M48.5 163.3h.8M58.8 152.9h.8M50.4 172.8h.8M53.2 150.6h.8M50.1 140.5h.8M31.7 146.8h.8M41.8 141.3h.8M54.6 149.7h.8M47.7 154.7h.8M45.6 142.9h.8M61.3 135.2h.8M46.8 160.7h.8M45.6 153.1h.8M49.4 156.3h.8M44.6 164.3h.8M50.8 168.4h.8M47.8 135.1h.8M35.0 149.2h.8M50.4 138.5h.8M43.0 165.9h.8M49.6 147.3h.8M46.3 155.1h.8M44.0 151.1h.8M42.4 156.2h.8M58.7 167.9h.8M38.0 176.1h.8M46.2 140.7h.8M36.2 155.4h.8M48.8 148.0h.8M41.2 152.0h.8M49.0 160.5h.8M51.2 131.4h.8M42.8 156.5h.8M49.8 161.7h.8M36.2 169.0h.8M38.4 152.1h.8M43.7 149.5h.8M41.4 161.8h.8M52.9 157.4h.8M37.8 148.1h.8M46.7 157.9h.8M43.1 151.5h.8M66.3 154.6h.8M44.9 130.7h.8M41.6 169.6h.8M53.3 142.7h.8M52.9 155.7h.8M41.3 161.6h.8M42.7 151.2h.8M47.3 156.1h.8M43.9 156.9h.8M47.2 155.9h.8M50.0 148.0h.8M37.2 153.4h.8M56.1 157.2h.8M48.8 147.0h.8M38.8 142.2h.8M40.5 150.5h.8M35.9 152.9h.8M35.7 160.3h.8M46.9 137.3h.8M43.1 156.3h.8M49.9 161.4h.8M44.6 152.7h.8M45.4 159.2h.8M42.1 152.5h.8M48.2 150.8h.8M39.3 167.0h.8M50.8 145.4h.8M61.4 146.8h.8M40.8 150.6h.8M51.0 168.3h.8M57.1 159.3h.8M47.6 160.4h.8M41.4 147.4h.8M51.0 156.0h.8M48.8 144.4h.8M48.9 140.4h.8M53.9 154.2h.8M42.5 149.6h.8M67.3 183.9h.8M42.0 167.1h.8M26.1 164.8h.8M47.3 156.5h.8M40.2 141.6h.8M48.9 149.8h.8M50.8 164.1h.8M46.3 159.2h.8M48.4 156.3h.8M43.4 156.3h.8M50.3 154.8h.8M43.9 140.2h.8M39.4 169.0h.8M54.5 156.9h.8M49.3 152.6h.8M52.1 163.2h.8M45.3 157.0h.8M54.1 139.0h.8M40.3 148.6h.8M38.7 149.9h.8M41.0 150.3h.8M50.6 142.9h.8M47.9 167.2h.8M48.5 142.4h.8M42.8 165.2h.8M45.2 148.1h.8M52.8 147.3h.8M39.1 159.9h.8M47.3 147.9h.8M50.5 164.6h.8M55.0 155.1h.8M50.5 158.8h.8M36.4 169.9h.8M42.4 148.8h.8M41.2 144.9h.8M55.1 154.1h.8M43.0 136.7h.8M48.4 153.6h.8M39.7 153.1h.8M33.9 160.3h.8M38.3 158.8h.8M47.9 133.9h.8M39.1 147.9h.8M52.9 159.8h.8M51.7 170.0h.8M45.1 149.2h.8M33.6 144.3h.8M51.2 146.1h.8M40.8 163.2h.8M29.3 167.3h.8M56.5 137.0h.8M50.5 154.0h.8M53.7 150.9h.8M46.3 167.5h.8M42.9 158.1h.8M51.7 153.0h.8M53.5 159.0h.8M53.1 137.9h.8M39.7 156.9h.8M55.6 167.7h.8M47.3 147.0h.8M39.3 135.6h.8M43.5 159.6h.8M46.6 140.0h.8M46.4 154.6h.8M41.8 168.0h.8M50.3 164.6h.8M47.9 144.8h.8M54.9 164.6h.8M42.9 141.4h.8M53.0 148.7h.8M38.8 153.3h.8M51.1 146.9h.8M47.4 163.6h.8M52.5 139.3h.8M52.3 171.0h.8M53.8 153.3h.8M49.8 139.1h.8M42.9 149.2h.8M62.1 154.1h.8M40.1 170.2h.8M56.0 138.4h.8M45.7 138.0h.8M54.6 132.4h.8M60.5 144.0h.8M39.6 174.3h.8M51.0 157.5h.8M53.3 144.7h.8M53.4 151.4h.8M50.9 156.3h.8M57.1 141.8h.8M37.2 160.3h.8M64.2 159.3h.8M46.0 160.5h.8M38.5 155.0h.8M35.1 155.2h.8M52.4 170.3h.8M43.5 163.0h.8M56.8 144.1h.8M45.2 136.4h.8M40.9 158.3h.8M32.6 151.3h.8M52.4 167.8h.8M29.2 157.8h.8M42.7 132.1h.8M39.9 159.8h.8M47.0 160.8h.8M45.0 160.4h.8M40.2 144.8h.8M46.0 137.4h.8M56.0 151.7h.8M40.1 145.8h.8M40.2 155.3h.8M44.5 162.4h.8M38.9 153.4h.8M36.3 149.7h.8M56.9 153.0h.8M53.5 153.5h.8M39.3 145.7h.8M39.1 157.4h.8M48.8 182.2h.8M59.1 162.2h.8M40.1 155.2h.8M40.6 176.6h.8M42.0 165.3h.8M37.5 161.4h.8M38.4 149.6h.8M48.4 155.4h.8M46.7 153.5h.8M41.0 153.0h.8M46.6 145.1h.8M51.2 155.8h.8M41.7 166.6h.8M43.0 135.9h.8M56.2 150.5h.8M57.6 158.3h.8M40.8 164.8h.8M50.4 163.0h.8M47.4 169.1h.8M53.8 150.9h.8M36.3 153.7h.8M47.6 144.6h.8M45.8 168.5h.8M43.7 164.9h.8M40.4 144.8h.8M53.8 152.4h.8M48.7 164.0h.8M58.8 142.2h.8M51.3 156.3h.8M48.2 171.3h.8M45.4 148.4h.8M50.7 134.6h.8M49.8 145.5h.8M49.5 147.0h.8M50.8 151.7h.8M42.0 159.3h.8M52.5 138.7h.8M37.9 151.6h.8M44.4 166.8h.8M58.5 158.7h.8M55.0 151.0h.8M37.3 157.0h.8M34.5 169.8h.8M48.9 165.3h.8M42.5 138.6h.8M45.7 158.8h.8M45.6 149.2h.8M47.7 152.2h.8M57.1 141.5h.8M31.2 153.2h.8M49.0 139.3h.8M46.8 158.3h.8M49.5 157.0h.8M41.7 140.1h.8M53.9 150.7h.8M37.3 169.0h.8M52.4 127.0h.8M65.6 155.5h.8M35.5 163.3h.8M49.4 166.1h.8M47.2 138.0h.8M45.9 149.9h.8M49.2 152.3h.8M51.1 142.3h.8M43.2 149.1h.8M50.1 137.6h.8M47.1 177.0h.8M34.2 164.0h.8M47.8 163.6h.8M47.5 156.6h.8M49.7 158.5h.8M38.4 152.8h.8M60.2 167.7h.8M41.0 144.9h.8M45.8 164.3h.8M53.7 148.4h.8M30.0 153.6h.8M35.2 165.6h.8M57.7 160.5h.8M51.3 159.5h.8M60.3 164.6h.8M57.4 143.0h.8M43.4 154.0h.8M31.1 151.3h.8M46.9 153.4h.8M65.2 152.1h.8M45.7 152.9h.8M44.6 140.4h.8M55.1 154.3h.8M49.7 154.4h.8M41.5 138.7h.8M45.0 159.2h.8M46.2 161.1h.8M41.4 151.2h.8M48.1 153.1h.8M48.3 167.9h.8M44.0 155.3h.8M42.4 159.3h.8M48.7 146.9h.8M39.8 142.5h.8M45.0 155.5h.8M43.5 153.0h.8M48.0 176.7h.8M55.5 176.4h.8M48.0 156.1h.8M61.1 157.7h.8M51.8 149.2h.8M43.1 161.5h.8M42.7 147.7h.8M36.3 156.9h.8M46.4 159.3h.8M40.8 142.1h.8M55.0 154.3h.8M52.7 143.0h.8M37.7 129.6h.8M49.2 163.6h.8M56.6 171.1h.8M33.9 143.5h.8M43.2 146.4h.8M45.5 146.3h.8M36.5 153.6h.8M47.9 146.6h.8M47.3 141.5h.8M44.7 150.8h.8M43.7 153.3h.8M37.9 141.1h.8M41.0 161.1h.8M40.2 145.0h.8M61.3 151.5h.8M44.3 145.5h.8M57.6 159.1h.8M48.9 169.4h.8M38.4 137.8h.8M55.0 158.2h.8M43.3 161.7h.8M46.3 172.9h.8M37.9 157.5h.8M54.1 162.6h.8M44.4 150.2h.8M43.9 160.7h.8M44.1 152.7h.8M54.4 152.9h.8M48.8 152.8h.8M47.1 132.6h.8M40.2 157.6h.8M42.4 148.1h.8M47.4 176.1h.8M41.5 144.8h.8M34.1 158.5h.8M46.6 145.9h.8M44.1 163.5h.8M54.3 157.6h.8M55.3 163.8h.8M43.7 161.7h.8M48.1 161.4h.8M49.0 174.7h.8M37.9 157.5h.8M39.2 176.5h.8M43.3 150.5h.8M46.9 153.6h.8M59.3 153.5h.8M48.8 164.3h.8M57.9 144.7h.8M49.2 141.2h.8M50.6 167.7h.8M43.2 151.3h.8M55.6 158.3h.8M52.8 149.6h.8M44.7 150.4h.8M58.3 139.5h.8M43.3 169.1h.8M46.5 143.4h.8M48.7 151.9h.8M46.1 158.8h.8M52.7 139.5h.8M48.4 168.6h.8M37.3 153.1h.8M38.6 160.5h.8M40.9 150.8h.8M44.0 158.4h.8M37.5 140.4h.8M48.3 167.2h.8M43.3 158.0h.8M48.9 155.1h.8M46.8 148.6h.8M45.2 165.7h.8M50.2 166.5h.8M41.7 155.2h.8M42.3 141.1h.8M53.5 151.3h.8M48.7 140.2h.8M45.2 152.8h.8M44.2 163.9h.8M50.3 155.3h.8M48.6 149.7h.8M41.9 151.3h.8M39.6 152.3h.8M46.2 165.0h.8M43.8 177.7h.8" stroke="#555" stroke-width=".8" opacity="0.55" fill="none"/>
<path d="M71.0 155.3h.8M74.8 148.0h.8M74.5 136.7h.8M83.6 148.4h.8M74.8 136.3h.8M79.3 141.5h.8M85.4 143.8h.8M69.3 160.5h.8M84.8 134.7h.8M62.0 169.8h.8M78.4 139.2h.8M71.6 160.8h.8M72.0 168.7h.8M69.5 155.6h.8M83.8 168.5h.8M76.8 159.7h.8M72.4 153.3h.8M70.5 157.8h.8M81.4 144.1h.8M66.0 154.4h.8M76.0 153.6h.8M62.1 147.0h.8M86.5 133.4h.8M88.7 142.2h.8M86.4 152.6h.8M79.5 148.6h.8M71.5 156.0h.8M50.8 159.5h.8M72.5 143.3h.8M72.8 160.3h.8M69.0 157.5h.8M64.6 154.9h.8M66.1 161.5h.8M66.9 160.0h.8M59.7 155.7h.8M83.4 145.9h.8M75.4 145.5h.8M78.6 161.4h.8M83.7 167.1h.8M84.9 146.8h.8M75.8 159.2h.8M76.4 141.1h.8M75.4 128.4h.8M88.9 152.2h.8M79.0 161.8h.8M63.9 150.7h.8M78.7 160.5h.8M77.9 128.2h.8M56.6 157.6h.8M87.2 138.8h.8M77.9 163.1h.8M67.4 138.3h.8M77.0 149.6h.8M74.2 152.0h.8M74.0 157.0h.8M70.9 153.6h.8M70.6 145.4h.8M77.6 145.8h.8M79.0 153.7h.8M83.2 159.8h.8M59.6 153.7h.8M80.0 155.0h.8M75.2 164.7h.8M80.1 140.7h.8M75.6 163.9h.8M76.1 141.3h.8M80.9 159.9h.8M83.7 155.7h.8M75.8 162.4h.8M66.5 170.9h.8M78.0 156.2h.8M80.7 161.8h.8M58.0 163.2h.8M74.1 146.2h.8M81.8 163.3h.8M77.8 147.8h.8M75.7 144.5h.8M81.6 170.1h.8M68.3 148.7h.8M57.7 151.6h.8M64.8 155.5h.8M73.2 154.1h.8M75.2 149.3h.8M75.8 153.3h.8M69.4 150.8h.8M70.5 141.1h.8M74.7 135.5h.8M79.0 153.6h.8M76.2 165.4h.8M82.2 149.6h.8M77.6 165.8h.8M73.7 157.7h.8M78.1 143.7h.8M77.1 150.1h.8M72.9 158.3h.8M79.9 145.0h.8M73.0 152.0h.8M67.6 157.6h.8M73.3 147.0h.8M82.1 153.1h.8M66.0 153.0h.8M73.5 156.9h.8M86.0 152.2h.8M78.5 158.9h.8M74.1 156.4h.8M71.4 160.8h.8M68.0 170.9h.8M46.4 140.2h.8M73.9 157.6h.8M76.0 137.9h.8M78.2 145.2h.8M76.4 149.8h.8M72.8 138.9h.8M64.9 148.4h.8M66.7 156.4h.8M64.2 156.1h.8M79.1 146.6h.8M67.6 150.5h.8M80.9 167.7h.8M79.6 155.9h.8M74.7 143.3h.8M72.2 165.0h.8M85.5 148.0h.8M62.5 172.7h.8M75.1 158.5h.8M73.6 136.1h.8M77.3 144.4h.8M72.7 147.8h.8M72.9 177.7h.8M86.4 134.6h.8M63.1 148.9h.8M69.8 161.7h.8M86.9 146.7h.8M79.3 151.9h.8M59.7 165.6h.8M88.3 145.8h.8M79.7 148.8h.8M74.2 149.4h.8M73.8 154.4h.8M70.2 156.7h.8M65.0 162.0h.8M67.6 135.5h.8M81.3 150.5h.8M70.8 163.0h.8M74.6 173.3h.8M78.2 139.8h.8M71.0 147.3h.8M72.7 170.7h.8M78.4 159.4h.8M76.2 132.0h.8M85.5 173.7h.8M70.9 153.7h.8M69.4 151.9h.8M68.3 142.7h.8M84.2 134.6h.8M82.8 142.6h.8M72.9 134.0h.8M79.9 144.0h.8M76.8 160.5h.8M67.4 145.7h.8M66.7 159.5h.8M77.2 164.0h.8M63.9 144.7h.8M74.0 149.5h.8M77.3 165.1h.8M75.9 146.0h.8M74.6 146.8h.8M69.9 172.4h.8M80.1 172.1h.8M73.3 153.3h.8M65.2 156.3h.8M80.5 160.8h.8M66.0 155.0h.8M82.0 149.3h.8M80.3 149.0h.8M74.9 148.2h.8M63.5 145.7h.8M76.2 151.1h.8M74.8 148.2h.8M81.7 152.2h.8M77.9 149.2h.8M84.9 152.9h.8M78.2 175.8h.8M78.2 138.5h.8M69.8 157.2h.8M64.8 139.3h.8M74.0 138.3h.8M83.2 158.3h.8M72.5 166.0h.8M69.7 142.2h.8M81.9 154.1h.8M73.2 164.2h.8M73.9 160.4h.8M76.6 165.5h.8M79.1 149.3h.8M86.5 150.4h.8M88.2 141.4h.8M75.3 131.8h.8M78.9 167.3h.8M71.9 158.6h.8M73.2 168.2h.8M77.5 157.5h.8M83.3 138.9h.8M80.2 155.3h.8M84.9 154.3h.8M79.6 153.4h.8M67.4 149.0h.8M73.6 140.8h.8M74.6 149.3h.8M88.9 151.6h.8M75.9 154.9h.8M80.3 138.0h.8M61.6 169.7h.8M68.5 145.2h.8M83.9 156.9h.8M68.8 161.4h.8M66.3 170.1h.8M72.5 157.3h.8M74.9 173.0h.8M67.6 153.0h.8M71.2 156.7h.8M73.3 158.4h.8M83.8 142.7h.8M70.0 167.0h.8M79.1 163.8h.8M69.8 145.4h.8M66.3 152.0h.8M66.2 161.0h.8M69.7 159.1h.8M63.0 162.8h.8M80.1 163.3h.8M77.0 176.8h.8M82.4 154.5h.8M87.3 150.5h.8M76.2 170.2h.8M71.4 154.0h.8M76.9 155.8h.8M73.2 164.0h.8M63.7 149.4h.8M64.4 141.4h.8M67.1 164.5h.8M76.2 161.0h.8M74.1 164.1h.8M71.9 166.9h.8M81.8 156.2h.8M63.7 143.1h.8M77.0 143.7h.8M73.7 152.4h.8M85.5 147.2h.8M76.0 149.4h.8M69.2 158.3h.8M82.4 139.9h.8M86.5 176.1h.8M76.2 159.2h.8M67.0 150.0h.8M77.4 153.1h.8M85.6 145.3h.8M73.1 159.2h.8M74.4 151.6h.8M74.1 158.0h.8M60.3 179.7h.8M80.7 143.6h.8M68.1 142.8h.8M78.3 135.6h.8M64.2 174.4h.8M75.0 158.9h.8M73.6 151.5h.8M77.0 146.7h.8M72.4 153.4h.8M60.9 160.1h.8M76.6 159.5h.8M70.4 161.4h.8M71.5 161.7h.8M85.3 160.2h.8M64.0 154.7h.8M67.1 173.2h.8M76.5 141.4h.8M63.4 167.1h.8M67.4 158.1h.8M72.5 152.6h.8M71.7 154.1h.8M87.4 145.4h.8M79.0 158.8h.8M69.9 143.2h.8M68.2 159.7h.8M76.3 164.1h.8M77.8 155.2h.8M75.2 156.3h.8M75.4 160.6h.8M68.4 164.6h.8M87.5 153.1h.8M79.4 142.4h.8M75.8 139.9h.8M82.6 154.5h.8M83.3 165.1h.8M69.4 162.1h.8M86.9 175.9h.8M74.2 159.4h.8M70.2 160.3h.8M79.6 168.3h.8M73.9 154.6h.8M78.9 152.4h.8M61.9 149.1h.8M80.4 154.2h.8M78.3 139.1h.8M79.6 159.4h.8M87.6 162.1h.8M70.3 146.8h.8M66.4 149.3h.8M74.3 166.4h.8M87.7 154.8h.8M79.6 152.4h.8M65.1 159.3h.8M69.5 138.2h.8M68.6 168.7h.8M66.2 167.4h.8M64.6 153.4h.8M78.9 150.1h.8M67.6 154.1h.8M87.9 160.5h.8M76.6 159.7h.8M84.1 167.1h.8M73.0 145.4h.8M67.5 154.7h.8M72.8 154.1h.8M70.3 178.5h.8M69.7 168.1h.8M68.5 146.4h.8M66.1 143.4h.8M62.5 146.0h.8M73.2 160.9h.8M61.4 158.4h.8M74.2 154.0h.8M58.5 158.8h.8M80.2 165.3h.8M72.8 166.2h.8M75.6 145.1h.8M79.1 163.6h.8M76.8 153.8h.8M73.1 160.6h.8M61.2 157.0h.8M65.1 149.0h.8M76.6 166.2h.8M75.0 145.0h.8M54.2 153.1h.8M69.4 148.1h.8M83.2 174.9h.8M75.8 141.0h.8M81.7 155.0h.8M71.9 156.1h.8M66.1 156.0h.8M77.8 165.7h.8M78.0 146.3h.8M76.0 165.3h.8M80.0 151.2h.8M88.9 162.8h.8M84.5 154.9h.8M85.4 152.6h.8M81.8 154.5h.8M75.0 138.9h.8M82.6 159.7h.8M70.2 154.7h.8M79.7 160.3h.8M59.0 168.6h.8M67.1 172.7h.8M83.9 155.4h.8M76.7 156.8h.8M71.9 168.9h.8M69.8 148.9h.8M73.2 138.5h.8M83.1 142.5h.8M86.8 163.3h.8M72.7 149.7h.8M81.2 145.3h.8M72.5 131.4h.8M75.4 156.1h.8M82.6 159.7h.8M81.9 143.2h.8M47.9 149.3h.8M82.6 155.8h.8M86.3 175.3h.8M69.6 150.1h.8M87.0 137.7h.8M55.5 156.8h.8M77.6 169.0h.8M80.8 153.7h.8M70.6 136.0h.8M79.2 148.1h.8M72.1 157.3h.8M59.1 153.2h.8M70.2 173.7h.8M74.1 165.2h.8M67.3 138.5h.8M82.0 150.6h.8M64.5 164.7h.8M79.0 137.1h.8M73.3 173.8h.8M75.9 140.7h.8M68.5 167.8h.8M86.9 160.9h.8M63.2 162.3h.8M68.6 149.1h.8M71.1 164.8h.8M79.1 159.8h.8M71.6 149.0h.8M83.6 148.0h.8M72.9 159.6h.8M73.7 163.9h.8M79.5 160.5h.8M68.9 129.2h.8M69.8 146.1h.8M80.7 166.7h.8M83.5 152.2h.8M72.3 134.6h.8M82.0 144.7h.8M80.2 147.4h.8M78.9 144.5h.8M78.2 172.3h.8M78.0 140.3h.8M68.9 155.4h.8M81.5 141.6h.8M67.8 137.8h.8M89.0 157.0h.8M77.7 149.6h.8M74.3 166.3h.8M79.7 151.2h.8M72.2 154.1h.8M86.1 139.7h.8M61.9 160.9h.8M83.5 168.7h.8M79.7 138.9h.8M81.6 155.8h.8M67.1 137.9h.8M62.8 154.7h.8M64.8 157.6h.8M73.8 160.5h.8M82.0 144.8h.8M72.1 161.5h.8M70.0 164.3h.8M79.8 163.2h.8M70.3 162.0h.8M73.4 156.3h.8M80.1 148.4h.8M74.7 129.9h.8M69.6 160.3h.8M66.5 132.6h.8M63.7 151.0h.8M80.4 159.4h.8M63.8 158.1h.8M65.4 165.1h.8M78.2 147.6h.8M71.4 153.2h.8M70.5 165.9h.8M77.5 148.2h.8M78.7 140.0h.8M76.3 150.7h.8M70.6 153.4h.8M76.9 139.1h.8M78.0 184.1h.8M81.3 148.0h.8M77.9 170.9h.8M66.6 170.9h.8M72.3 173.3h.8M68.6 164.6h.8M70.6 166.8h.8M82.1 157.4h.8M68.5 164.6h.8M78.0 143.0h.8M79.4 152.3h.8M74.1 144.0h.8M76.7 162.8h.8M68.5 162.2h.8M60.9 155.1h.8M77.1 144.3h.8M76.3 140.6h.8M89.7 158.0h.8M83.5 144.5h.8M57.5 153.1h.8M85.5 152.4h.8M84.1 158.1h.8M77.6 164.7h.8M70.5 149.8h.8M83.6 158.6h.8M70.9 143.0h.8M82.1 152.5h.8M65.0 158.1h.8M78.7 177.2h.8M77.3 128.3h.8M67.9 161.8h.8M71.3 153.4h.8M74.4 168.6h.8M77.6 152.4h.8M70.1 164.3h.8M69.7 158.2h.8M78.3 161.6h.8M81.1 156.9h.8M69.3 144.7h.8M69.7 167.5h.8M66.7 170.0h.8M78.3 148.0h.8M67.4 153.0h.8M80.8 153.2h.8M80.5 155.7h.8M85.4 149.0h.8M74.0 142.5h.8M72.6 143.8h.8M63.5 151.7h.8M80.2 131.1h.8M65.4 139.7h.8M77.8 159.7h.8M77.5 152.1h.8M69.2 155.9h.8M68.5 151.6h.8M78.1 151.4h.8M84.1 131.8h.8M63.0 164.1h.8M70.8 149.2h.8M70.9 153.4h.8M73.9 157.7h.8M82.0 172.9h.8M59.0 152.8h.8M68.4 156.2h.8M67.4 154.7h.8M77.1 153.6h.8M76.8 160.7h.8M67.1 153.5h.8M83.0 163.5h.8M82.4 145.5h.8M70.0 164.0h.8M75.1 157.0h.8M72.4 163.3h.8M76.3 143.9h.8M77.8 150.4h.8M73.1 159.7h.8M76.1 148.1h.8M66.2 149.4h.8M74.0 141.8h.8M70.4 177.6h.8M70.2 154.6h.8M65.8 150.7h.8M76.9 155.6h.8M62.3 154.3h.8M67.7 165.1h.8M74.3 170.1h.8M77.8 142.1h.8M82.2 149.0h.8M74.2 155.0h.8M65.3 165.9h.8M76.2 143.5h.8M64.7 158.7h.8M84.2 158.1h.8M77.4 149.7h.8M83.3 159.5h.8M69.0 147.8h.8M58.8 165.7h.8M78.3 161.7h.8M73.4 175.7h.8M67.4 145.5h.8M87.2 163.3h.8M80.7 152.9h.8M74.7 155.5h.8M78.2 147.9h.8M82.8 171.7h.8M71.1 144.4h.8M76.0 179.0h.8M67.8 167.7h.8M70.0 146.4h.8M83.2 152.3h.8M74.7 161.2h.8M83.5 156.4h.8M86.7 147.2h.8M71.1 161.0h.8M79.9 136.5h.8M72.7 161.0h.8M73.8 172.2h.8M63.1 156.1h.8M68.7 137.9h.8M73.3 153.4h.8M71.9 147.7h.8M81.5 143.5h.8M70.4 139.9h.8M83.8 139.2h.8M88.0 144.8h.8M74.7 170.5h.8M67.0 167.4h.8M65.2 149.4h.8M79.2 157.5h.8M77.5 157.3h.8M86.8 137.8h.8M69.8 162.9h.8M64.0 147.1h.8M78.9 154.9h.8M73.8 145.2h.8M68.4 144.2h.8M65.4 155.5h.8M78.2 144.6h.8M76.0 140.7h.8M77.8 150.9h.8M74.5 156.1h.8M84.8 156.3h.8M70.1 155.7h.8M78.0 159.5h.8M82.9 145.9h.8M66.0 160.5h.8M66.5 158.7h.8M63.9 145.8h.8M78.0 151.3h.8M80.3 156.6h.8M77.5 159.8h.8M63.2 165.7h.8M64.3 145.2h.8M56.8 154.2h.8M78.1 150.4h.8M66.0 132.1h.8M79.3 142.5h.8M72.2 156.6h.8M74.5 158.3h.8M87.6 161.4h.8M67.4 153.8h.8M73.3 145.5h.8M80.0 150.3h.8M76.8 160.7h.8M80.5 175.9h.8M87.1 157.3h.8M69.5 155.8h.8M70.3 150.0h.8M61.9 151.3h.8M59.8 164.2h.8M79.0 150.1h.8M75.3 155.4h.8M73.1 157.2h.8M73.7 158.8h.8M68.9 154.9h.8M87.8 146.0h.8M68.9 163.8h.8M77.5 155.8h.8M76.4 150.1h.8M71.0 159.4h.8M76.4 160.8h.8M78.5 176.9h.8M75.7 168.5h.8M76.2 177.1h.8M82.5 146.6h.8M87.1 148.6h.8M82.8 146.6h.8M77.8 155.9h.8M85.9 132.5h.8M60.4 164.3h.8M80.8 149.2h.8M75.8 136.7h.8M72.2 147.7h.8M81.8 156.9h.8M73.9 166.1h.8M70.1 162.1h.8M73.3 159.0h.8M72.8 168.6h.8M71.7 174.8h.8M81.1 146.0h.8M71.7 168.0h.8M86.3 142.1h.8M76.3 160.7h.8M73.5 163.8h.8M75.7 145.7h.8M74.7 152.2h.8M73.4 155.3h.8M77.8 146.6h.8M80.2 138.5h.8M80.2 159.4h.8M78.3 139.4h.8M71.3 156.6h.8M78.6 162.1h.8M63.4 154.7h.8M83.3 142.8h.8M65.8 149.8h.8M73.0 151.9h.8M84.7 157.4h.8M60.5 162.5h.8M75.8 163.2h.8M74.9 168.6h.8M76.2 149.7h.8M65.9 163.9h.8M74.0 136.9h.8M81.5 167.7h.8M59.1 160.3h.8M80.1 172.0h.8M84.5 147.1h.8M78.6 162.1h.8M63.8 169.2h.8M78.9 163.1h.8M68.3 163.0h.8M74.7 151.5h.8M75.3 158.1h.8M63.5 154.7h.8M77.9 138.3h.8M88.1 180.6h.8M80.2 154.7h.8M67.1 143.5h.8M65.7 163.6h.8M68.4 156.6h.8M71.7 163.8h.8M84.8 164.0h.8M80.2 165.5h.8M88.2 145.9h.8M77.1 148.2h.8M75.4 152.5h.8M76.0 161.9h.8M65.1 128.5h.8M77.2 165.4h.8M72.0 169.6h.8M73.4 160.0h.8M80.9 139.7h.8M78.9 134.0h.8M66.9 157.0h.8M77.5 142.7h.8M75.4 167.8h.8M62.5 160.5h.8M84.8 141.2h.8M84.2 159.3h.8M72.7 155.0h.8M74.8 155.2h.8M73.5 147.3h.8M82.0 172.0h.8M73.6 169.1h.8M69.1 141.9h.8M79.9 157.2h.8M78.5 145.1h.8M72.0 165.1h.8M87.3 157.4h.8M78.0 128.2h.8M70.1 168.0h.8M89.7 146.5h.8M55.6 159.9h.8M65.1 150.6h.8M70.4 151.1h.8M67.6 161.5h.8M77.3 141.5h.8M62.9 175.9h.8M79.4 157.0h.8M62.0 176.7h.8M67.1 156.1h.8M77.6 147.5h.8M76.0 150.2h.8M59.2 140.8h.8M70.2 149.5h.8M78.3 171.6h.8M73.2 177.0h.8M71.7 156.0h.8M73.3 137.8h.8M74.5 152.7h.8M68.6 162.4h.8M78.1 151.7h.8M68.3 157.9h.8M68.8 146.2h.8M71.2 164.4h.8M72.8 153.2h.8M72.4 160.9h.8M73.7 163.3h.8M73.8 163.4h.8M72.7 147.3h.8M78.1 152.8h.8M71.4 169.5h.8M71.1 147.0h.8M72.3 169.5h.8M64.7 166.7h.8M78.8 150.9h.8M72.3 147.5h.8M59.4 145.5h.8M64.2 138.7h.8M71.5 160.9h.8M67.7 151.5h.8M69.0 152.9h.8M77.9 167.2h.8M79.4 158.7h.8M85.3 162.2h.8M78.5 160.7h.8M81.0 144.5h.8M68.0 155.8h.8M61.2 152.2h.8M72.2 158.2h.8M80.0 168.2h.8M56.7 157.1h.8M77.3 169.5h.8M70.0 159.2h.8M73.6 145.4h.8M76.6 164.7h.8M72.0 155.9h.8M83.0 153.1h.8M72.3 158.0h.8M78.1 159.1h.8M84.1 159.5h.8M65.6 138.5h.8M73.9 172.0h.8M75.0 150.5h.8M76.7 160.3h.8M84.1 142.0h.8M80.5 156.9h.8M80.9 166.0h.8M57.7 164.3h.8M78.4 147.0h.8M73.7 165.7h.8M63.2 163.9h.8M80.7 172.8h.8M68.2 148.7h.8M82.2 152.1h.8M77.7 128.5h.8M62.1 160.1h.8M78.4 146.7h.8M57.8 160.5h.8M76.3 145.6h.8M75.6 149.1h.8M66.8 162.1h.8M74.6 155.4h.8M65.1 147.8h.8M72.5 148.9h.8M77.2 155.3h.8M72.9 153.2h.8M77.7 165.3h.8M66.3 164.7h.8M81.4 163.0h.8M70.3 157.1h.8M80.9 152.3h.8M87.2 156.4h.8M81.0 148.6h.8M70.8 171.3h.8M64.9 149.6h.8M72.6 142.2h.8M79.3 142.5h.8M74.9 152.5h.8M57.8 156.5h.8M62.8 155.2h.8M56.8 149.5h.8M80.8 157.8h.8M83.1 171.5h.8M80.2 153.0h.8M73.7 161.3h.8M65.1 144.3h.8M74.5 172.7h.8M66.0 157.5h.8M69.2 162.3h.8M77.2 154.6h.8M81.5 152.3h.8M61.9 176.4h.8M73.7 158.1h.8M80.5 146.6h.8M71.0 147.2h.8M78.9 159.0h.8M76.1 141.6h.8M68.3 140.2h.8M64.1 147.4h.8M76.8 160.0h.8M60.8 161.4h.8M77.3 171.1h.8M81.1 139.6h.8M78.3 157.3h.8M77.0 147.4h.8M85.5 155.9h.8M70.1 136.4h.8M72.6 140.9h.8M63.3 171.6h.8M74.0 164.9h.8M83.0 162.4h.8M71.3 142.9h.8M73.3 156.1h.8M73.4 151.8h.8M75.6 140.2h.8M82.6 142.8h.8" stroke="#555" stroke-width=".8" opacity="0.55" fill="none"/>
<path d="M59.2 153.5h.8M82.7 156.1h.8M39.2 157.7h.8M73.7 150.6h.8M32.0 156.3h.8M71.3 136.6h.8M74.5 179.3h.8M53.5 168.4h.8M54.4 145.4h.8M48.6 165.8h.8M35.5 158.3h.8M44.2 163.9h.8M32.0 174.4h.8M51.3 157.2h.8M66.4 167.0h.8M61.1 163.6h.8M60.3 150.7h.8M71.9 167.9h.8M41.9 146.2h.8M45.3 162.2h.8M84.0 162.5h.8M58.1 162.7h.8M27.7 157.7h.8M59.6 166.4h.8M72.5 174.3h.8M43.7 157.1h.8M48.3 164.7h.8M60.0 153.1h.8M32.3 175.4h.8M55.3 172.4h.8M72.7 156.6h.8M61.7 153.2h.8M69.1 159.4h.8M72.1 171.0h.8M45.6 167.3h.8M65.3 156.3h.8M62.2 170.9h.8M60.1 168.7h.8M63.6 171.1h.8M54.4 157.9h.8M69.2 141.7h.8M47.0 173.4h.8M42.6 176.0h.8M88.1 156.5h.8M42.4 163.9h.8M74.5 175.2h.8M86.5 154.8h.8M73.7 156.4h.8M77.9 164.5h.8M84.9 159.9h.8M73.1 150.1h.8M38.3 164.9h.8M59.1 167.9h.8M34.2 151.9h.8M45.1 170.3h.8M64.5 158.2h.8M70.2 159.2h.8M62.1 160.5h.8M30.9 167.4h.8M60.6 179.1h.8M59.1 155.6h.8M60.6 154.6h.8M56.5 157.5h.8M63.7 152.9h.8M55.1 157.2h.8M38.2 160.0h.8M70.7 166.7h.8M63.3 159.6h.8M75.7 158.2h.8M70.4 146.2h.8M33.9 154.5h.8M79.3 158.4h.8M66.2 151.4h.8M28.0 183.9h.8M89.4 175.2h.8M57.5 155.0h.8M62.4 158.5h.8M48.2 139.9h.8M61.7 142.1h.8M47.4 147.8h.8M49.6 163.6h.8M51.2 162.6h.8M75.5 155.2h.8M67.5 159.4h.8M31.8 162.9h.8M36.4 169.2h.8M57.6 162.0h.8M76.9 153.6h.8M41.9 172.5h.8M71.6 164.1h.8M38.9 155.4h.8M48.9 163.6h.8M47.6 159.0h.8M59.0 171.7h.8M46.1 161.5h.8M73.6 150.5h.8M36.7 156.7h.8M85.3 156.2h.8M32.9 144.7h.8M60.8 169.3h.8M41.9 157.1h.8M35.7 154.3h.8M77.8 155.9h.8M36.9 165.5h.8M62.9 160.0h.8M80.6 150.0h.8M56.3 171.0h.8M72.6 168.1h.8M28.3 158.1h.8M84.9 167.1h.8M84.2 137.0h.8M59.5 167.1h.8M82.2 152.3h.8M78.9 167.0h.8M47.4 173.7h.8M83.3 167.9h.8M48.5 162.7h.8M57.2 174.3h.8M44.1 154.3h.8M88.8 163.1h.8M44.4 158.8h.8M50.0 159.3h.8M51.4 134.9h.8M68.0 168.3h.8M51.8 157.0h.8M32.6 160.3h.8M42.0 158.5h.8M61.0 166.7h.8M59.1 180.5h.8M64.6 164.7h.8M68.4 159.5h.8M77.5 161.6h.8M30.5 155.9h.8M88.1 146.9h.8M63.2 170.8h.8M62.6 156.4h.8M34.0 166.2h.8M60.0 152.4h.8M81.9 167.7h.8M32.8 161.2h.8M73.5 167.7h.8M31.0 164.3h.8M71.7 163.6h.8M55.6 158.4h.8M76.7 157.1h.8M67.8 153.5h.8M57.1 169.5h.8M47.3 160.0h.8M28.4 150.2h.8M70.0 170.0h.8M44.6 158.7h.8M64.8 156.6h.8M59.5 156.9h.8M70.3 155.9h.8M48.3 148.8h.8M42.2 147.8h.8M55.1 168.5h.8M31.6 153.1h.8M42.3 164.1h.8M51.8 157.5h.8M38.4 158.0h.8M50.8 153.5h.8M87.0 164.3h.8M54.7 162.8h.8M47.0 159.9h.8M81.5 164.0h.8M52.4 161.0h.8M35.0 157.5h.8M49.6 158.1h.8M85.9 160.4h.8M81.9 160.1h.8M27.2 170.3h.8M46.9 159.2h.8M80.7 171.7h.8M61.3 170.7h.8M47.9 165.5h.8M39.4 168.3h.8M46.4 165.6h.8M33.4 172.1h.8M59.4 152.2h.8M54.0 148.2h.8M72.8 159.5h.8M82.0 160.1h.8M53.3 153.3h.8M71.1 159.1h.8M33.5 147.8h.8M77.7 159.3h.8M56.6 155.6h.8M47.2 160.0h.8M62.1 150.2h.8M81.1 154.7h.8M30.0 164.5h.8M45.3 160.1h.8M85.4 153.6h.8M50.1 165.7h.8M67.1 143.8h.8M35.1 156.5h.8M43.1 154.8h.8M51.2 161.4h.8M27.2 152.4h.8M39.3 169.9h.8M54.5 147.9h.8M68.0 167.7h.8M67.2 160.5h.8M70.5 173.3h.8M71.7 168.3h.8M48.1 171.6h.8M43.7 162.8h.8M74.1 152.5h.8M48.4 142.3h.8M50.9 149.3h.8M59.2 156.1h.8M44.0 157.3h.8M49.5 160.0h.8M52.6 169.4h.8M79.8 139.4h.8M85.6 158.3h.8M65.3 152.6h.8M70.4 164.7h.8M46.5 150.8h.8M68.6 163.6h.8M39.5 142.5h.8M35.3 163.3h.8M84.1 152.0h.8M46.4 151.1h.8M65.3 153.5h.8M54.0 156.7h.8M78.8 156.7h.8M50.2 160.9h.8M79.6 171.6h.8M51.1 150.0h.8M39.6 158.6h.8M71.2 138.5h.8M71.4 163.3h.8M62.3 147.9h.8M60.2 155.8h.8M39.0 164.9h.8M83.6 161.5h.8M70.0 168.1h.8M58.9 156.5h.8M88.6 154.9h.8M52.2 162.7h.8M49.8 152.2h.8M80.5 159.8h.8M44.3 155.2h.8M70.3 166.6h.8M62.5 169.3h.8M58.2 172.9h.8M76.8 150.6h.8M56.6 162.6h.8M58.1 151.9h.8M68.0 159.4h.8M28.4 149.5h.8M50.7 167.4h.8M57.8 161.4h.8M77.7 158.1h.8M58.9 159.3h.8M76.8 154.6h.8M66.3 154.0h.8M60.3 168.8h.8M42.8 163.8h.8M60.1 161.7h.8M69.1 160.6h.8M68.6 174.6h.8M44.9 151.2h.8M73.6 163.1h.8M73.1 155.5h.8M49.1 155.1h.8M42.6 152.3h.8M52.3 158.6h.8M59.8 166.5h.8M40.9 159.2h.8M41.4 166.6h.8M40.6 157.1h.8M43.2 168.6h.8M34.8 150.7h.8M51.0 157.1h.8M40.5 169.0h.8M47.9 143.1h.8M54.8 149.3h.8M45.8 155.9h.8M41.0 156.5h.8M50.9 164.9h.8M49.7 169.0h.8M53.6 175.5h.8M60.4 169.6h.8M48.1 150.0h.8M85.1 152.8h.8M38.3 161.0h.8M40.5 165.3h.8M60.3 158.3h.8M47.7 171.7h.8M85.8 169.1h.8M33.0 173.3h.8M60.8 173.7h.8M69.2 154.5h.8M26.3 154.5h.8M82.4 156.3h.8M71.3 159.0h.8M31.4 163.0h.8M50.9 157.6h.8M45.8 158.7h.8M42.4 176.4h.8M50.7 161.6h.8M52.3 170.2h.8M69.9 168.0h.8M28.6 161.2h.8M55.8 165.1h.8M45.6 161.1h.8M39.4 157.1h.8M65.6 155.9h.8M42.1 158.8h.8M65.0 163.3h.8M35.5 156.5h.8M35.8 151.8h.8M72.3 157.6h.8M75.3 172.4h.8M82.7 165.8h.8M39.2 179.3h.8M73.4 166.9h.8M65.4 163.0h.8M50.6 146.2h.8M67.8 165.4h.8M58.1 166.1h.8M55.5 159.3h.8M70.7 146.2h.8M85.8 156.8h.8M69.1 164.9h.8M89.7 173.6h.8M33.0 152.2h.8M61.6 146.7h.8M70.5 159.0h.8M43.0 166.8h.8M39.9 154.0h.8M58.0 167.0h.8M54.3 157.2h.8M62.0 157.0h.8M67.6 168.9h.8M60.5 163.8h.8M44.3 170.7h.8M66.5 156.3h.8M56.0 153.5h.8M49.1 162.7h.8M71.2 156.0h.8M26.8 169.2h.8M36.1 165.8h.8M28.0 152.6h.8M66.4 185.1h.8M62.7 162.9h.8M60.7 151.8h.8M51.5 175.3h.8M46.9 156.8h.8M34.1 154.9h.8M81.2 162.9h.8M47.5 157.0h.8M73.5 155.3h.8M41.8 157.4h.8M41.5 166.1h.8M57.2 168.2h.8M46.9 179.9h.8M68.3 158.2h.8M63.5 143.2h.8M35.0 143.4h.8M52.0 177.5h.8M64.0 148.2h.8M26.8 163.0h.8M69.8 158.3h.8M86.1 161.9h.8M72.3 166.3h.8M86.8 164.8h.8M65.2 162.6h.8M61.3 164.6h.8M89.1 147.0h.8M48.5 148.2h.8M45.7 162.2h.8M60.9 163.1h.8M71.8 163.5h.8M50.8 159.0h.8M36.3 156.4h.8M55.3 163.0h.8M25.9 168.9h.8M55.8 147.4h.8M54.1 164.6h.8M59.1 156.6h.8M39.7 161.8h.8M60.3 162.4h.8M49.6 169.9h.8M60.6 166.7h.8M51.4 163.6h.8M53.5 169.3h.8M45.3 164.3h.8M63.5 147.3h.8M80.1 155.3h.8M34.6 154.7h.8M73.9 156.7h.8M72.3 152.4h.8M62.1 146.1h.8M51.2 170.4h.8M46.5 161.4h.8M52.5 163.6h.8M49.3 151.7h.8M50.0 157.3h.8M36.4 158.7h.8M37.6 156.0h.8M63.0 161.7h.8M52.1 163.3h.8M59.1 159.3h.8M63.4 165.1h.8M75.5 163.8h.8M44.8 159.1h.8M41.7 170.7h.8M43.3 147.0h.8M52.3 153.1h.8M60.4 161.1h.8M40.0 147.7h.8M50.0 149.6h.8M52.8 161.4h.8M48.8 161.2h.8M48.6 173.1h.8M78.5 150.2h.8M68.6 158.2h.8M56.4 148.7h.8M48.3 158.7h.8M47.7 142.0h.8M59.4 157.1h.8M26.7 169.0h.8M53.8 150.9h.8M38.8 162.2h.8M45.4 165.5h.8M31.7 161.9h.8M64.9 164.0h.8M40.2 152.3h.8M33.8 160.6h.8M50.7 169.4h.8M49.8 170.3h.8M50.9 167.9h.8M75.4 162.2h.8M31.5 163.2h.8M58.9 157.4h.8M51.5 165.4h.8M87.1 154.6h.8M79.6 156.2h.8M50.1 157.1h.8M55.4 153.8h.8" stroke="#555" stroke-width=".8" opacity="0.5" fill="none"/>
<path d="M44.3 144.1h.8M38.0 146.1h.8M75.6 136.9h.8M59.6 137.8h.8M33.5 146.6h.8M50.3 158.5h.8M69.3 147.9h.8M43.2 162.8h.8M30.4 137.7h.8M69.8 151.5h.8M67.7 144.2h.8M69.8 160.6h.8M74.4 134.5h.8M37.4 151.0h.8M67.7 146.5h.8M53.7 142.3h.8M57.7 139.6h.8M66.9 143.0h.8M88.9 148.9h.8M45.4 127.5h.8M50.5 146.2h.8M86.0 151.1h.8M59.2 136.0h.8M59.7 135.3h.8M28.6 151.9h.8M47.1 130.9h.8M77.7 161.0h.8M64.4 127.3h.8M39.7 135.3h.8M60.6 186.6h.8M73.3 145.4h.8M39.5 130.3h.8M41.7 148.7h.8M51.0 152.6h.8M65.9 133.3h.8M71.8 147.0h.8M86.8 145.0h.8M49.0 145.3h.8M79.4 152.7h.8M78.4 158.8h.8M62.2 173.9h.8M54.2 144.0h.8M77.4 133.1h.8M62.1 158.4h.8M28.7 159.9h.8M30.8 131.9h.8M86.2 155.6h.8M69.1 138.1h.8M68.8 138.0h.8M67.0 137.7h.8M31.7 141.3h.8M64.1 150.4h.8M45.6 157.4h.8M67.7 144.8h.8M55.4 141.2h.8M66.4 149.2h.8M82.9 135.5h.8M31.9 145.0h.8M51.4 143.0h.8M88.8 150.8h.8M80.2 153.6h.8M61.5 151.2h.8M77.4 151.9h.8M69.0 145.9h.8M42.0 150.7h.8M48.7 153.3h.8M82.0 164.4h.8M64.1 134.2h.8M48.9 132.8h.8M64.6 146.8h.8M84.0 152.5h.8M57.8 142.3h.8M48.7 136.7h.8M60.0 156.0h.8M72.6 128.9h.8M84.6 144.6h.8M51.7 150.5h.8M77.9 148.0h.8M50.3 149.1h.8M64.5 170.7h.8M57.5 135.7h.8M86.0 135.5h.8M45.6 130.4h.8M54.7 162.2h.8M75.6 147.1h.8M61.8 152.3h.8M54.6 134.2h.8M43.7 166.1h.8M38.9 133.1h.8M68.5 142.6h.8M50.7 148.4h.8M54.8 127.1h.8M76.0 149.2h.8M46.1 141.4h.8M72.0 138.6h.8M77.0 148.7h.8M55.3 165.7h.8M39.1 167.3h.8M50.3 172.0h.8M80.5 140.5h.8M64.6 141.9h.8M56.8 141.8h.8M51.1 156.0h.8M73.9 161.3h.8M81.6 145.8h.8M72.7 143.7h.8M69.3 154.1h.8M65.4 137.3h.8M34.7 166.9h.8M42.4 139.4h.8M65.7 142.2h.8M66.4 162.8h.8M27.7 147.8h.8M69.9 130.2h.8M72.5 164.1h.8M58.8 152.4h.8M52.3 158.3h.8M48.0 146.8h.8M44.9 138.2h.8M80.8 146.1h.8M75.8 128.0h.8M34.7 136.1h.8M70.1 151.1h.8M53.0 153.8h.8M57.7 152.4h.8M38.6 166.6h.8M75.5 135.4h.8M68.0 140.1h.8M36.0 135.9h.8M56.4 161.5h.8M63.7 133.7h.8M73.9 136.8h.8M57.1 148.1h.8M36.5 177.9h.8M58.4 140.2h.8M53.0 142.9h.8M81.3 149.4h.8M66.9 145.9h.8M71.7 134.6h.8M36.0 139.9h.8M50.3 139.8h.8M60.6 160.8h.8M40.4 128.5h.8M56.1 154.7h.8M86.6 157.9h.8M60.9 147.3h.8M73.6 145.9h.8M52.3 151.6h.8M66.9 152.9h.8M66.5 128.8h.8M47.2 127.3h.8M73.8 177.1h.8M42.6 145.2h.8M63.1 138.5h.8M67.8 137.9h.8M84.2 143.6h.8M42.3 144.3h.8M80.4 137.3h.8M53.7 157.1h.8M52.6 157.2h.8M82.2 140.9h.8M34.9 132.8h.8M83.1 153.3h.8M59.7 142.2h.8M79.1 141.1h.8M26.6 159.2h.8M63.2 146.6h.8M54.5 160.8h.8M48.5 165.0h.8M43.1 157.4h.8M28.6 158.1h.8M38.9 143.9h.8M72.9 137.7h.8M68.6 146.7h.8M83.7 157.3h.8M62.9 144.5h.8M40.4 163.2h.8M53.4 132.0h.8M40.8 141.4h.8M62.8 157.4h.8M48.5 153.7h.8M64.6 146.5h.8M42.4 154.9h.8M56.2 143.8h.8M55.6 144.0h.8M63.8 159.5h.8M59.3 139.2h.8M55.5 144.8h.8M67.5 155.5h.8M33.0 150.1h.8M46.7 162.8h.8M70.0 137.1h.8M38.9 163.9h.8M43.0 153.2h.8M31.1 146.5h.8M40.5 127.0h.8M47.5 140.3h.8M63.2 126.5h.8M62.7 142.3h.8M26.2 160.7h.8M48.8 151.5h.8M88.4 151.4h.8M76.1 149.1h.8M46.2 148.9h.8M26.6 152.2h.8M73.9 151.6h.8M44.3 132.5h.8M42.9 143.2h.8M29.4 169.0h.8M41.6 148.1h.8M48.3 148.1h.8M56.9 146.1h.8M65.3 140.4h.8M73.7 149.2h.8M56.5 146.8h.8M78.4 146.2h.8M88.3 148.1h.8M62.3 146.6h.8M63.4 152.0h.8M45.1 155.9h.8M59.8 137.3h.8M42.3 137.0h.8M62.6 138.6h.8" stroke="#666" stroke-width=".8" opacity="0.4" fill="none"/>
<path d="M58.7 149.5h.8M40.2 144.8h.8M46.1 152.3h.8M53.7 146.6h.8M49.3 162.9h.8M44.7 136.8h.8M48.5 163.6h.8M49.7 153.7h.8M32.4 169.4h.8M45.4 142.1h.8M44.3 155.2h.8M47.1 144.9h.8M64.6 165.8h.8M54.2 159.8h.8M43.8 142.2h.8M37.3 164.1h.8M47.4 169.5h.8M30.0 166.6h.8M50.2 148.3h.8M53.3 147.2h.8M44.7 158.8h.8M47.9 156.4h.8M48.4 163.7h.8M40.4 134.1h.8M39.9 130.1h.8M61.2 147.2h.8M46.5 156.9h.8M41.0 148.8h.8M48.7 153.7h.8M52.8 151.3h.8M41.8 139.4h.8M34.2 156.2h.8M49.1 149.7h.8M55.8 127.4h.8M51.5 142.1h.8M44.2 151.4h.8M41.2 150.9h.8M48.8 177.0h.8M46.7 160.6h.8M52.9 144.4h.8M50.3 149.7h.8M53.4 148.0h.8M54.7 144.9h.8M43.2 161.9h.8M54.3 162.1h.8M61.6 163.6h.8M46.7 162.8h.8M40.6 161.5h.8M49.7 152.2h.8M41.4 164.0h.8M31.8 152.0h.8M36.2 150.3h.8M43.5 145.6h.8M42.2 156.4h.8M61.4 170.6h.8M45.3 149.5h.8M51.3 145.5h.8M35.7 163.1h.8M43.7 168.5h.8M49.2 139.4h.8M48.9 158.4h.8M47.2 140.3h.8M35.5 171.8h.8M25.9 144.3h.8M52.7 171.2h.8M51.5 153.4h.8M49.6 164.8h.8M42.8 166.1h.8M48.6 155.7h.8M50.0 156.7h.8M39.9 168.8h.8M43.1 151.0h.8M29.2 137.6h.8M50.9 152.7h.8M46.0 150.0h.8M51.3 147.3h.8M35.7 137.8h.8M40.8 156.7h.8M57.5 159.2h.8M41.7 140.7h.8M52.9 158.6h.8M46.3 159.8h.8M51.1 158.6h.8M56.6 138.6h.8M41.9 148.4h.8M39.3 173.0h.8M49.4 157.8h.8M52.7 151.3h.8M53.0 151.6h.8M52.3 159.1h.8M56.5 138.8h.8M39.9 146.2h.8M40.6 157.4h.8M53.9 150.2h.8M54.7 162.4h.8M42.4 160.2h.8M57.4 149.0h.8M30.4 159.1h.8M48.9 159.8h.8M50.6 153.2h.8M46.7 145.8h.8M61.3 168.9h.8M45.7 145.3h.8M50.0 169.4h.8M47.1 145.6h.8M53.8 156.2h.8M40.9 151.6h.8M48.0 142.8h.8M48.9 166.3h.8M54.7 165.9h.8M52.4 152.9h.8M51.4 165.8h.8M47.1 158.9h.8M42.2 153.9h.8M43.2 143.3h.8M49.8 175.5h.8M34.3 149.1h.8M48.3 146.5h.8M48.1 162.1h.8M34.8 152.8h.8M51.2 159.4h.8M60.4 155.8h.8M56.1 148.3h.8M40.2 148.5h.8M43.6 162.6h.8M52.5 154.0h.8M40.2 155.3h.8M43.8 150.2h.8M34.0 169.2h.8M51.2 183.1h.8M66.8 154.4h.8M63.3 149.8h.8M67.6 153.4h.8M33.3 153.8h.8M52.9 170.7h.8M54.2 171.3h.8M48.3 138.9h.8M48.1 145.2h.8M53.1 132.9h.8M39.6 142.4h.8M47.7 164.1h.8M44.7 141.0h.8M43.2 152.4h.8M55.5 155.1h.8M60.2 175.7h.8M43.1 180.7h.8M35.4 163.2h.8M37.3 147.9h.8M50.7 156.2h.8M49.1 152.1h.8M33.2 137.9h.8M40.6 144.1h.8M43.5 137.0h.8M46.1 158.8h.8M43.2 167.2h.8M48.5 163.1h.8M40.3 156.0h.8M36.4 135.1h.8M33.9 149.9h.8M48.7 175.0h.8M49.3 150.2h.8M54.8 155.0h.8M47.0 155.3h.8M54.2 169.9h.8M36.3 154.9h.8M43.4 154.1h.8M64.6 151.6h.8M28.6 162.5h.8M43.4 144.8h.8M63.5 173.9h.8M54.6 156.4h.8M41.5 168.4h.8M45.1 156.2h.8M45.6 155.5h.8M32.1 141.8h.8M37.3 132.2h.8M38.2 149.0h.8M45.5 153.1h.8M43.7 164.3h.8M31.4 148.6h.8M45.2 145.3h.8M57.2 152.7h.8M55.2 159.4h.8M44.9 163.7h.8M36.0 141.7h.8M43.9 130.0h.8M43.7 151.9h.8M33.8 143.5h.8M37.1 177.5h.8M56.3 159.9h.8M48.5 167.1h.8M47.7 166.2h.8M53.5 175.0h.8M54.9 148.3h.8M51.5 165.1h.8M51.9 175.8h.8M49.1 149.7h.8M53.6 165.3h.8M46.9 159.1h.8M48.0 156.5h.8M49.7 149.9h.8M52.5 157.5h.8M60.0 156.9h.8M47.8 141.7h.8M63.9 151.6h.8M43.1 151.2h.8M47.0 152.9h.8M59.7 149.1h.8M45.2 149.4h.8M51.5 137.5h.8M54.4 150.2h.8M36.3 168.6h.8M37.0 160.9h.8M47.1 147.2h.8M34.5 146.8h.8M52.6 153.1h.8M42.7 163.5h.8M47.2 154.6h.8M40.5 140.1h.8M43.5 156.7h.8M43.8 156.9h.8M45.0 151.4h.8M46.6 157.3h.8M30.2 153.7h.8M45.4 149.3h.8M54.3 165.3h.8M55.6 161.0h.8M50.4 155.1h.8M52.6 147.2h.8M46.0 156.9h.8M45.8 141.4h.8M46.2 149.6h.8M42.1 159.9h.8M55.0 154.6h.8M38.3 152.0h.8M45.5 143.2h.8M42.4 155.1h.8M42.5 158.1h.8M37.1 160.2h.8M41.7 154.9h.8M47.1 148.6h.8M54.7 136.0h.8M48.4 160.0h.8M45.1 153.0h.8M38.3 153.2h.8M48.1 147.7h.8M47.0 150.0h.8M39.2 152.8h.8M41.0 162.2h.8M41.0 167.4h.8M46.7 153.3h.8M41.4 157.8h.8M39.2 138.3h.8M50.1 132.9h.8M55.4 148.3h.8M58.7 155.9h.8M59.2 139.1h.8M43.5 156.2h.8M42.7 154.2h.8M45.7 160.1h.8M57.6 132.2h.8M51.6 142.2h.8M59.2 139.0h.8M40.5 158.6h.8M45.6 160.2h.8M49.7 145.9h.8M34.6 164.9h.8M45.2 152.4h.8M44.5 150.9h.8M41.4 154.0h.8M48.7 141.3h.8M34.9 158.9h.8M53.4 148.2h.8M45.6 148.6h.8M49.9 152.8h.8M42.7 146.0h.8M50.2 157.1h.8M43.6 157.4h.8M48.2 133.5h.8M42.4 155.8h.8M56.4 157.3h.8M37.5 162.2h.8M44.7 161.6h.8M36.3 137.4h.8M34.8 159.2h.8M55.8 155.9h.8M48.2 152.4h.8M48.3 143.4h.8M56.2 161.3h.8M54.2 152.7h.8M53.2 163.0h.8M65.9 164.1h.8M41.2 145.7h.8M53.5 158.3h.8M51.0 154.0h.8M40.7 154.9h.8M35.8 156.2h.8M64.2 160.6h.8" stroke="#fff" stroke-width=".8" opacity="0.4" fill="none"/>
<path d="M67.9 145.0h.8M70.7 159.1h.8M72.2 143.1h.8M76.0 158.4h.8M85.4 141.2h.8M86.9 151.1h.8M58.7 163.2h.8M83.0 158.7h.8M81.6 144.7h.8M79.1 137.4h.8M69.5 178.2h.8M88.4 157.3h.8M79.0 154.4h.8M80.0 155.5h.8M67.3 150.0h.8M59.3 145.0h.8M73.5 157.2h.8M71.4 152.7h.8M71.8 158.8h.8M82.7 157.3h.8M75.9 163.2h.8M66.9 168.9h.8M70.9 157.2h.8M67.4 147.5h.8M83.0 159.1h.8M73.4 161.4h.8M58.1 155.3h.8M60.9 163.5h.8M68.2 153.5h.8M68.1 173.7h.8M87.4 136.9h.8M80.3 150.5h.8M86.9 156.8h.8M68.8 149.3h.8M75.4 170.1h.8M75.7 148.4h.8M71.7 161.8h.8M72.4 170.7h.8M82.2 155.0h.8M75.8 150.3h.8M55.6 165.1h.8M87.3 151.6h.8M77.3 140.3h.8M73.3 155.3h.8M74.3 154.1h.8M83.1 160.5h.8M81.4 147.9h.8M70.8 153.6h.8M61.9 139.5h.8M77.7 153.7h.8M75.6 165.2h.8M57.4 157.6h.8M73.0 140.8h.8M80.4 167.3h.8M62.8 154.0h.8M82.9 154.0h.8M71.3 163.1h.8M60.9 153.2h.8M69.6 152.9h.8M64.6 155.3h.8M85.1 158.0h.8M64.4 148.6h.8M68.7 139.1h.8M81.0 158.5h.8M73.5 168.0h.8M80.8 147.9h.8M75.3 152.3h.8M74.9 166.5h.8M85.3 144.2h.8M72.8 177.4h.8M80.6 165.1h.8M76.1 158.6h.8M69.6 168.0h.8M73.3 148.5h.8M62.8 175.1h.8M62.8 143.7h.8M79.0 154.0h.8M89.2 159.8h.8M77.7 146.0h.8M79.5 139.7h.8M68.8 167.2h.8M77.2 142.4h.8M69.8 152.4h.8M77.6 155.6h.8M81.0 135.4h.8M71.3 155.0h.8M83.6 147.6h.8M64.1 145.6h.8M77.1 177.2h.8M64.9 148.7h.8M69.2 164.8h.8M79.6 152.2h.8M77.5 169.2h.8M72.7 142.7h.8M75.2 141.7h.8M76.9 162.3h.8M72.0 162.8h.8M84.9 171.8h.8M72.1 159.5h.8M81.7 161.7h.8M82.9 158.6h.8M80.7 162.8h.8M79.1 159.5h.8M77.4 153.2h.8M60.2 153.1h.8M75.4 148.5h.8M71.4 166.1h.8M72.9 131.8h.8M70.8 152.7h.8M85.2 156.8h.8M79.3 148.6h.8M70.4 138.3h.8M80.2 154.1h.8M69.3 154.4h.8M84.1 163.0h.8M81.6 165.1h.8M77.1 153.9h.8M75.1 158.6h.8M61.2 156.7h.8M75.4 145.3h.8M70.5 165.2h.8M71.9 153.0h.8M87.2 144.5h.8M74.7 149.8h.8M70.9 152.2h.8M79.6 151.3h.8M82.7 161.1h.8M66.4 154.4h.8M73.6 141.3h.8M60.6 163.7h.8M77.5 165.8h.8M87.8 161.4h.8M78.1 166.3h.8M74.0 150.1h.8M83.0 160.2h.8M70.9 149.9h.8M64.8 174.3h.8M72.0 149.1h.8M70.2 148.9h.8M76.1 154.3h.8M81.5 129.6h.8M76.2 170.1h.8M75.5 148.1h.8M80.7 156.2h.8M73.9 144.2h.8M76.4 155.8h.8M62.5 159.3h.8M62.9 126.3h.8M72.4 164.9h.8M60.3 139.3h.8M87.1 145.3h.8M67.9 152.2h.8M88.1 152.0h.8M81.4 152.2h.8M66.4 156.4h.8M60.4 163.8h.8M62.0 155.2h.8M57.7 152.8h.8M78.3 146.6h.8M78.6 139.5h.8M70.9 156.1h.8M81.1 159.5h.8M63.7 139.4h.8M66.0 164.7h.8M60.8 141.8h.8M76.0 153.3h.8M74.5 145.7h.8M77.8 152.7h.8M73.5 156.0h.8M73.1 151.9h.8M84.1 160.6h.8M75.6 155.1h.8M86.0 140.8h.8M59.4 154.1h.8M61.1 143.4h.8M76.8 155.7h.8M72.2 146.4h.8M63.1 146.8h.8M68.3 153.4h.8M82.5 150.9h.8M65.8 157.8h.8M84.8 156.8h.8M71.3 150.0h.8M72.4 143.6h.8M82.4 150.7h.8M71.0 178.7h.8M71.1 146.1h.8M60.6 153.8h.8M78.1 150.2h.8M74.0 158.3h.8M68.6 153.2h.8M72.8 168.4h.8M80.3 152.8h.8M66.7 152.4h.8M68.5 150.3h.8M77.8 161.6h.8M83.1 148.1h.8M76.4 153.4h.8M81.7 175.0h.8M83.1 162.5h.8M76.9 158.8h.8M59.0 157.0h.8M73.7 153.4h.8M80.8 184.1h.8M77.1 142.2h.8M71.9 161.8h.8M80.6 155.6h.8M79.4 146.2h.8M87.0 133.9h.8M72.2 146.5h.8M71.3 155.9h.8M75.9 163.2h.8M67.5 154.0h.8M68.8 146.2h.8M71.7 163.0h.8M68.6 157.0h.8M68.9 162.3h.8M84.2 140.0h.8M80.9 145.5h.8M77.7 153.0h.8M81.8 141.7h.8M69.8 166.1h.8M85.9 158.9h.8M71.0 146.1h.8M67.9 169.4h.8M75.5 153.6h.8M72.1 165.7h.8M72.1 162.2h.8M60.7 146.3h.8M77.7 144.7h.8M78.1 159.0h.8M78.6 153.3h.8M74.1 188.0h.8M77.2 147.9h.8M53.4 171.8h.8M74.8 171.3h.8M74.8 164.5h.8M85.9 148.5h.8M56.6 165.3h.8M71.0 153.2h.8M72.9 159.8h.8M74.1 159.6h.8M68.5 138.7h.8M89.6 156.4h.8M78.2 142.8h.8M78.7 153.5h.8M78.9 155.1h.8M83.4 167.4h.8M72.2 150.3h.8M80.8 139.9h.8M69.3 150.4h.8M58.2 172.5h.8M72.9 151.9h.8M65.6 159.2h.8M71.4 142.5h.8M77.7 168.7h.8M63.1 153.7h.8M69.3 169.4h.8M76.8 162.9h.8M88.2 160.2h.8M77.6 172.6h.8M63.0 143.0h.8M73.2 148.1h.8M73.7 135.8h.8M62.1 160.9h.8M73.4 158.0h.8M71.9 153.8h.8M62.9 171.0h.8M83.4 141.1h.8M71.4 157.4h.8M71.6 153.5h.8M76.7 136.1h.8M81.0 158.6h.8M67.2 152.2h.8M74.3 151.4h.8M75.4 139.3h.8M75.5 158.0h.8M78.1 158.3h.8M70.5 155.3h.8M82.7 154.7h.8M76.8 154.6h.8M79.3 141.6h.8M74.5 162.2h.8M67.8 159.5h.8" stroke="#fff" stroke-width=".8" opacity="0.4" fill="none"/>
</g>
<rect x="25.2" y="125.8" width="65.0" height="66.8" fill="none" stroke="#444" stroke-width="1"/>
<line x1="25.2" y1="192.6" x2="90.2" y2="192.6" stroke="#222" stroke-width="1.3"/>
<line x1="59.2" y1="125.8" x2="59.2" y2="192.6" stroke="#444" stroke-width="1.1"/>
<line x1="25.2" y1="170.8" x2="90.2" y2="170.8" stroke="#3a3a3a" stroke-width="1.2"/>
<text x="57.2" y="123.3" font-family='"Liberation Serif", serif' font-size="9.6" text-anchor="middle" font-weight="normal" fill="#000" stroke="#000" stroke-width=".15">KLF4(&#916;TA)</text>
<text transform="translate(30.3 133.7) scale(.84 1)" font-family='"Liberation Serif", serif' font-size="11.6" fill="#000" stroke="#000" stroke-width=".3">9%</text>
<text transform="translate(90.2 133.7) scale(.84 1)" font-family='"Liberation Serif", serif' font-size="11.6" fill="#000" text-anchor="end" stroke="#000" stroke-width=".3">18%</text>
<text transform="translate(14.00 196.30) scale(0.74 1)" font-family='"Liberation Sans", sans-serif' font-size="7.2" fill="#111" stroke="#111" stroke-width=".25">10<tspan dy="-2.88" font-size="5.18">0</tspan></text>
<line x1="23.7" y1="192.6" x2="25.2" y2="192.6" stroke="#333" stroke-width=".8"/>
<text transform="translate(21.80 203.90) scale(0.74 1)" font-family='"Liberation Sans", sans-serif' font-size="7.2" fill="#111" stroke="#111" stroke-width=".25">10<tspan dy="-2.88" font-size="5.18">0</tspan></text>
<text transform="translate(14.00 179.60) scale(0.74 1)" font-family='"Liberation Sans", sans-serif' font-size="7.2" fill="#111" stroke="#111" stroke-width=".25">10<tspan dy="-2.88" font-size="5.18">1</tspan></text>
<line x1="23.7" y1="175.9" x2="25.2" y2="175.9" stroke="#333" stroke-width=".8"/>
<text transform="translate(38.05 203.90) scale(0.74 1)" font-family='"Liberation Sans", sans-serif' font-size="7.2" fill="#111" stroke="#111" stroke-width=".25">10<tspan dy="-2.88" font-size="5.18">1</tspan></text>
<text transform="translate(14.00 162.90) scale(0.74 1)" font-family='"Liberation Sans", sans-serif' font-size="7.2" fill="#111" stroke="#111" stroke-width=".25">10<tspan dy="-2.88" font-size="5.18">2</tspan></text>
<line x1="23.7" y1="159.2" x2="25.2" y2="159.2" stroke="#333" stroke-width=".8"/>
<text transform="translate(54.30 203.90) scale(0.74 1)" font-family='"Liberation Sans", sans-serif' font-size="7.2" fill="#111" stroke="#111" stroke-width=".25">10<tspan dy="-2.88" font-size="5.18">2</tspan></text>
<text transform="translate(14.00 146.20) scale(0.74 1)" font-family='"Liberation Sans", sans-serif' font-size="7.2" fill="#111" stroke="#111" stroke-width=".25">10<tspan dy="-2.88" font-size="5.18">3</tspan></text>
<line x1="23.7" y1="142.5" x2="25.2" y2="142.5" stroke="#333" stroke-width=".8"/>
<text transform="translate(70.55 203.90) scale(0.74 1)" font-family='"Liberation Sans", sans-serif' font-size="7.2" fill="#111" stroke="#111" stroke-width=".25">10<tspan dy="-2.88" font-size="5.18">3</tspan></text>
<text transform="translate(14.00 129.50) scale(0.74 1)" font-family='"Liberation Sans", sans-serif' font-size="7.2" fill="#111" stroke="#111" stroke-width=".25">10<tspan dy="-2.88" font-size="5.18">4</tspan></text>
<line x1="23.7" y1="125.8" x2="25.2" y2="125.8" stroke="#333" stroke-width=".8"/>
<text transform="translate(86.80 203.90) scale(0.74 1)" font-family='"Liberation Sans", sans-serif' font-size="7.2" fill="#111" stroke="#111" stroke-width=".25">10<tspan dy="-2.88" font-size="5.18">4</tspan></text>
<clipPath id="cp5"><rect x="107" y="125.8" width="64.19999999999999" height="66.8"/></clipPath>
<g clip-path="url(#cp5)">
<rect x="107" y="171" width="64.80000000000001" height="22" fill="#8c8c8c" opacity="1" filter="url(#bl1)"/>
<path d="M146.9 174.8h.8M146.3 185.0h.8M162.8 188.9h.8M156.7 183.9h.8M110.4 190.7h.8M149.2 184.2h.8M130.4 172.9h.8M114.3 190.9h.8M137.0 179.7h.8M165.2 181.7h.8M128.2 179.8h.8M139.1 184.5h.8M153.0 171.9h.8M155.7 186.7h.8M166.7 178.7h.8M115.0 192.5h.8M125.7 189.6h.8M166.6 187.0h.8M125.4 182.2h.8M143.9 177.0h.8M144.5 192.6h.8M144.9 184.2h.8M136.0 176.6h.8M162.0 173.0h.8M137.6 184.5h.8M171.0 174.8h.8M168.6 185.2h.8M110.1 178.1h.8M116.0 190.3h.8M149.6 190.6h.8M110.0 180.6h.8M162.6 174.1h.8M129.1 184.6h.8M163.2 175.8h.8M121.5 171.9h.8M143.9 185.2h.8M109.8 173.8h.8M137.2 184.8h.8M110.0 190.4h.8M142.8 184.6h.8M148.5 179.3h.8M145.6 179.6h.8M154.8 182.3h.8M110.4 179.3h.8M111.1 190.6h.8M112.0 180.7h.8M154.5 180.2h.8M108.5 175.5h.8M133.7 176.5h.8M160.6 175.8h.8M168.6 186.0h.8M121.9 180.3h.8M144.8 174.6h.8M165.6 174.1h.8M151.1 182.2h.8M161.4 172.9h.8M116.0 183.4h.8M123.5 176.5h.8M127.6 187.9h.8M141.5 174.2h.8M148.8 174.6h.8M107.1 176.9h.8M132.1 181.8h.8M122.5 174.3h.8M160.4 173.4h.8M141.0 188.7h.8M129.8 185.5h.8M124.7 185.3h.8M111.7 192.2h.8M168.1 192.1h.8M150.8 181.1h.8M147.1 188.7h.8M164.5 181.8h.8M128.5 175.2h.8M125.9 186.5h.8M112.5 184.5h.8M110.2 188.2h.8M121.4 180.9h.8M162.6 187.4h.8M114.6 185.7h.8M131.9 192.7h.8M122.0 184.6h.8M137.5 182.0h.8M148.2 180.2h.8M157.7 184.7h.8M123.5 175.6h.8M149.2 183.1h.8M117.4 180.5h.8M166.7 180.2h.8M126.2 184.7h.8M110.8 178.8h.8M166.5 171.8h.8M115.8 178.7h.8M121.4 171.9h.8M140.2 184.4h.8M108.5 186.9h.8M142.5 184.9h.8M122.5 184.9h.8M171.7 190.7h.8M131.1 171.5h.8M130.4 187.7h.8M133.7 184.6h.8M151.2 180.5h.8M121.1 187.5h.8M137.4 182.5h.8M129.1 183.0h.8M146.5 189.2h.8M152.5 183.2h.8M161.9 187.9h.8M157.1 173.1h.8M167.1 180.9h.8M124.4 187.4h.8M118.2 184.6h.8M110.5 185.9h.8M157.6 187.0h.8M141.6 188.2h.8M120.5 181.4h.8M143.1 177.1h.8M167.0 191.5h.8M143.4 171.4h.8M127.7 187.0h.8M141.0 186.8h.8M143.2 188.5h.8M162.6 191.9h.8M139.2 187.4h.8M160.7 176.6h.8M168.2 173.3h.8M136.3 172.7h.8M164.2 187.3h.8M110.5 178.4h.8M152.5 175.8h.8M119.0 177.9h.8M132.5 182.1h.8M122.7 177.4h.8M166.3 172.1h.8M119.9 175.6h.8M139.1 185.1h.8M138.4 191.8h.8M138.3 173.3h.8M114.7 184.1h.8M113.0 187.7h.8M152.8 176.6h.8M169.3 192.3h.8M130.2 174.2h.8M137.2 177.4h.8M159.8 173.9h.8M138.8 180.0h.8M160.1 179.8h.8M114.7 171.4h.8M134.7 179.3h.8M133.4 187.1h.8M129.5 182.6h.8M114.0 171.2h.8M134.1 186.1h.8M128.0 191.8h.8M111.8 173.5h.8M122.7 175.6h.8M114.5 174.8h.8M170.4 178.0h.8M164.3 190.8h.8M135.9 188.1h.8M155.5 185.0h.8M144.6 184.3h.8M111.9 184.9h.8M146.2 190.4h.8M156.8 181.8h.8M146.8 177.1h.8M122.3 174.5h.8M145.6 177.5h.8M121.5 187.0h.8M165.0 173.8h.8M170.7 178.8h.8M134.7 185.9h.8M165.9 189.6h.8M161.6 184.5h.8M147.7 171.2h.8M141.8 172.3h.8M165.7 177.2h.8M148.4 172.3h.8M160.0 175.2h.8M111.0 177.6h.8M150.9 184.0h.8M125.8 180.1h.8M107.6 175.0h.8M113.7 192.1h.8M119.4 185.4h.8M148.9 172.7h.8M156.9 188.7h.8M156.4 173.2h.8M111.1 185.4h.8M169.1 186.9h.8M108.2 185.6h.8M113.8 175.4h.8M133.0 186.3h.8M129.4 176.7h.8M155.1 178.6h.8M131.3 172.9h.8M125.0 187.6h.8M108.0 182.5h.8M125.7 185.4h.8M122.8 181.5h.8M149.2 191.5h.8M115.9 182.1h.8M147.0 171.5h.8M115.7 175.8h.8M133.7 171.1h.8M120.9 180.8h.8M158.5 192.2h.8M165.1 173.1h.8M113.0 183.4h.8M140.7 173.8h.8M139.9 191.5h.8M138.1 180.8h.8M128.6 184.7h.8M169.3 183.9h.8M129.4 186.3h.8M141.8 184.3h.8M133.2 173.1h.8M156.3 177.8h.8M111.2 179.1h.8M121.0 186.6h.8M108.5 189.3h.8M145.1 173.3h.8M154.5 179.9h.8M145.6 177.5h.8M116.8 178.4h.8M145.2 192.6h.8M150.1 182.1h.8M155.5 187.6h.8M131.7 172.0h.8M163.7 174.2h.8M117.8 177.7h.8M152.2 180.3h.8M133.9 174.5h.8M157.4 187.2h.8M147.7 190.7h.8M109.4 189.0h.8M157.3 181.5h.8M131.6 192.6h.8M158.2 191.9h.8M109.5 187.4h.8M124.8 171.8h.8M160.2 190.6h.8M158.0 182.9h.8M143.9 173.1h.8M150.1 177.2h.8M160.1 172.8h.8M119.6 176.8h.8M141.5 177.8h.8M131.6 181.8h.8M116.7 182.8h.8M108.3 180.5h.8M145.9 182.5h.8M108.2 182.5h.8M165.6 179.2h.8M124.4 189.2h.8M161.5 188.7h.8M137.2 175.8h.8M114.6 184.9h.8M116.8 185.5h.8M116.0 180.8h.8M149.0 185.2h.8M127.2 183.9h.8M165.1 187.8h.8M136.2 171.9h.8M112.4 175.4h.8M108.8 185.9h.8M147.9 172.0h.8M169.6 181.1h.8M165.3 175.2h.8M150.3 191.6h.8M151.9 177.1h.8M167.6 178.1h.8M132.6 181.8h.8M125.3 190.4h.8M137.5 173.1h.8M128.1 187.5h.8M165.4 172.4h.8M155.1 190.0h.8M107.1 182.9h.8M165.6 184.8h.8M167.6 186.5h.8M123.0 189.7h.8M138.7 173.5h.8M132.5 171.4h.8M164.4 171.5h.8M164.1 174.6h.8M111.8 185.7h.8M143.7 182.7h.8M126.6 179.4h.8M134.1 191.0h.8M142.4 190.2h.8M143.1 178.4h.8M115.8 182.2h.8M150.3 171.5h.8M130.4 185.8h.8M125.1 192.4h.8M143.4 187.6h.8M119.4 189.4h.8M129.5 173.9h.8M135.8 175.2h.8M136.4 191.0h.8M132.4 175.5h.8M154.2 178.7h.8M145.0 188.7h.8M123.8 175.9h.8M114.3 185.4h.8M111.6 191.3h.8M111.2 189.7h.8M157.6 187.6h.8M170.5 179.3h.8M152.6 183.9h.8M107.0 183.0h.8M150.2 177.7h.8M125.2 173.1h.8M109.0 174.8h.8M110.5 171.6h.8M126.9 182.2h.8M153.1 174.2h.8M166.8 189.6h.8M136.6 173.3h.8M143.4 171.4h.8M115.2 184.4h.8M129.7 191.2h.8M146.6 186.1h.8M161.9 181.9h.8M133.2 185.2h.8M113.7 175.0h.8M113.5 188.0h.8M147.3 175.0h.8M164.0 174.3h.8M120.2 178.3h.8M157.6 184.3h.8M171.5 187.3h.8M157.9 186.9h.8M155.3 182.6h.8M169.0 187.3h.8M140.2 184.5h.8M138.6 178.6h.8M150.3 189.3h.8M149.4 172.2h.8M132.2 180.2h.8M170.8 177.6h.8M125.6 172.4h.8M109.1 178.8h.8M134.1 183.3h.8M109.7 191.9h.8M161.3 174.8h.8M136.1 186.9h.8M113.8 176.1h.8M121.9 182.9h.8M155.0 188.6h.8M130.1 171.6h.8M113.4 179.0h.8M113.0 177.4h.8M158.3 181.6h.8M126.4 180.1h.8M161.5 192.8h.8M152.0 172.9h.8M160.0 190.3h.8M136.0 174.5h.8M150.9 188.9h.8M170.5 189.1h.8M122.1 174.7h.8M168.3 190.0h.8M150.9 172.3h.8M114.9 183.7h.8M169.2 187.1h.8M144.1 184.1h.8M137.5 189.6h.8M137.3 190.5h.8M135.5 181.4h.8M171.1 185.6h.8M135.9 171.2h.8M134.3 176.0h.8M133.6 172.0h.8M133.5 179.2h.8M159.5 178.1h.8M155.0 183.9h.8M146.0 188.4h.8M164.0 174.0h.8M125.2 171.8h.8M144.8 172.2h.8M126.0 190.9h.8M133.0 179.9h.8M124.7 188.3h.8M140.1 181.7h.8M162.7 174.5h.8M108.3 190.7h.8M158.1 187.3h.8M159.1 182.5h.8M113.1 175.3h.8M153.0 174.0h.8M145.9 179.9h.8M167.0 187.9h.8M130.0 173.7h.8M142.3 185.0h.8M109.2 181.6h.8M116.4 178.1h.8M155.4 191.3h.8M113.6 178.7h.8M140.2 191.7h.8M164.9 188.5h.8M117.2 187.6h.8M150.8 171.9h.8M133.7 182.2h.8M119.1 174.5h.8M133.5 171.1h.8M128.7 182.3h.8M124.5 182.5h.8M164.9 181.3h.8M131.9 186.0h.8M164.3 173.7h.8M160.6 191.0h.8M166.3 175.2h.8M165.1 178.3h.8M129.7 177.3h.8M158.2 184.9h.8M116.6 177.7h.8M144.6 189.3h.8M146.4 185.6h.8M127.0 189.7h.8M146.9 184.2h.8M125.3 183.6h.8M127.6 179.8h.8M168.0 180.7h.8M119.3 180.1h.8M121.8 186.6h.8M120.7 186.6h.8M137.1 180.1h.8M144.7 192.5h.8M145.5 175.6h.8M127.8 174.2h.8M148.1 191.0h.8M111.0 176.9h.8M114.4 182.6h.8M161.2 174.3h.8M160.7 179.8h.8M141.8 184.2h.8M167.7 191.7h.8M170.5 183.8h.8M169.0 188.3h.8M144.3 184.1h.8M127.1 174.4h.8M136.6 176.6h.8M107.1 191.5h.8M120.6 192.3h.8M139.5 176.7h.8M132.8 173.0h.8M142.9 177.9h.8M107.2 175.8h.8M134.1 191.2h.8M121.3 189.2h.8M135.5 178.6h.8M132.3 182.3h.8M127.8 184.4h.8M156.0 190.5h.8M134.2 183.8h.8M116.6 182.4h.8M164.1 175.2h.8M111.9 171.2h.8M123.3 179.3h.8M142.5 179.6h.8M170.8 183.4h.8M163.9 176.2h.8M122.9 182.9h.8M107.3 186.6h.8M127.6 186.7h.8M140.3 189.5h.8M120.1 191.7h.8M170.5 180.0h.8M144.4 171.1h.8M143.3 180.3h.8M157.4 187.3h.8M152.7 192.7h.8M108.3 178.5h.8M146.7 191.0h.8M127.7 188.1h.8M159.7 181.8h.8M152.2 187.4h.8M150.1 189.5h.8M110.8 189.3h.8M110.4 184.0h.8M130.3 182.6h.8M161.6 177.3h.8M139.6 187.6h.8M141.7 183.2h.8M146.7 192.5h.8M112.3 180.5h.8M159.8 171.9h.8M157.4 178.8h.8M118.5 187.7h.8M151.4 187.1h.8M155.5 187.5h.8M171.2 189.7h.8M111.3 172.9h.8M149.0 178.4h.8M128.6 191.1h.8M122.8 180.1h.8M169.8 185.8h.8M145.8 175.4h.8M159.1 179.9h.8M169.1 179.1h.8M132.2 180.2h.8M166.1 187.3h.8M146.3 171.8h.8M117.2 178.3h.8M153.9 178.6h.8M129.9 180.3h.8M108.0 188.9h.8M126.7 192.2h.8M165.9 183.9h.8M145.6 186.7h.8M111.0 192.9h.8M146.0 183.3h.8M152.4 183.9h.8M160.5 182.4h.8M127.9 174.8h.8M126.2 179.5h.8M127.9 183.0h.8M146.6 178.5h.8M137.3 186.2h.8M171.7 175.3h.8M111.2 186.3h.8M157.6 187.4h.8M129.0 172.6h.8M130.6 189.2h.8M121.1 185.6h.8M129.8 190.8h.8M107.9 184.2h.8M125.7 187.0h.8M141.6 180.2h.8M170.9 181.1h.8M149.0 185.0h.8M127.4 183.9h.8M168.3 192.7h.8M134.8 184.7h.8M150.9 173.4h.8M124.6 183.6h.8M163.7 180.5h.8M159.5 183.6h.8M160.8 191.4h.8M128.3 179.5h.8M109.9 188.4h.8M140.5 190.2h.8M113.1 180.9h.8M161.4 175.5h.8M141.9 190.2h.8M157.5 175.6h.8M135.4 179.2h.8M135.2 172.7h.8M165.6 183.2h.8M163.0 185.7h.8M111.3 178.8h.8M117.1 177.6h.8M156.7 188.1h.8M108.2 187.7h.8M109.2 171.4h.8M165.8 173.0h.8M146.6 188.8h.8M110.3 189.1h.8M129.6 189.5h.8M158.0 181.5h.8M146.4 180.3h.8M112.9 184.1h.8M146.9 172.5h.8M138.1 176.4h.8M132.5 184.5h.8M124.6 178.6h.8M108.9 186.7h.8M158.5 192.8h.8M137.0 179.6h.8M130.6 184.6h.8M144.5 172.8h.8M136.4 191.3h.8M127.4 184.5h.8M170.4 173.6h.8M168.6 178.4h.8M140.1 177.8h.8M125.7 180.8h.8M149.5 183.5h.8M112.9 186.9h.8M136.6 172.8h.8M131.4 191.5h.8M152.9 191.1h.8M126.4 173.7h.8M110.5 175.6h.8M164.8 171.9h.8M151.4 171.8h.8M107.2 192.0h.8M156.2 190.3h.8M124.3 174.0h.8M159.9 187.8h.8M123.8 186.4h.8M147.2 172.0h.8M170.0 174.6h.8M148.3 177.8h.8M138.4 188.5h.8M115.3 177.1h.8M134.5 178.1h.8" stroke="#111" stroke-width=".8" opacity="0.45" fill="none"/>
<path d="M149.5 189.8h.8M160.3 184.9h.8M141.7 185.6h.8M125.6 186.5h.8M118.4 191.4h.8M156.6 187.3h.8M137.4 184.1h.8M136.4 185.6h.8M112.2 182.1h.8M133.6 190.3h.8M112.5 190.0h.8M168.4 192.1h.8M125.1 177.6h.8M117.0 188.5h.8M153.1 176.0h.8M152.5 176.5h.8M157.8 172.4h.8M164.1 180.2h.8M164.5 182.4h.8M115.0 187.9h.8M153.6 171.6h.8M116.4 174.1h.8M133.4 183.1h.8M145.1 191.2h.8M137.9 182.9h.8M152.0 192.1h.8M166.7 182.7h.8M131.8 173.3h.8M117.6 175.4h.8M137.1 184.3h.8M113.7 182.5h.8M163.8 190.4h.8M162.8 189.3h.8M137.7 181.9h.8M111.8 192.3h.8M134.5 171.3h.8M163.1 187.4h.8M149.9 175.8h.8M111.4 183.8h.8M120.6 182.9h.8M152.7 179.1h.8M160.4 190.3h.8M170.7 171.8h.8M138.3 187.4h.8M129.2 187.1h.8M115.8 182.0h.8M171.7 179.5h.8M112.1 183.2h.8M118.1 182.3h.8M164.6 192.3h.8M152.4 186.3h.8M134.3 185.3h.8M141.6 179.9h.8M128.8 181.3h.8M107.7 187.2h.8M146.4 178.5h.8M154.3 187.2h.8M137.9 183.0h.8M113.2 171.9h.8M160.0 177.2h.8M154.4 179.9h.8M156.8 190.1h.8M111.3 174.3h.8M136.0 173.1h.8M107.6 180.1h.8M112.7 191.4h.8M160.8 171.6h.8M146.9 187.0h.8M112.4 171.6h.8M121.0 187.8h.8M114.7 174.3h.8M153.4 181.2h.8M141.6 173.3h.8M114.8 179.5h.8M140.5 180.1h.8M160.7 187.0h.8M153.9 185.5h.8M128.8 184.0h.8M121.4 191.0h.8M132.0 184.5h.8M154.5 186.9h.8M115.7 172.0h.8M125.5 182.6h.8M127.4 176.9h.8M155.7 173.9h.8M119.5 181.3h.8M114.0 189.2h.8M146.2 190.9h.8M125.4 182.4h.8M138.7 189.4h.8M133.4 185.0h.8M169.2 180.7h.8M112.1 186.5h.8M124.3 185.3h.8M171.4 190.8h.8M116.3 172.9h.8M167.2 178.7h.8M125.0 182.3h.8M124.1 183.9h.8M121.5 188.1h.8M165.1 189.3h.8M168.5 176.4h.8M129.3 180.3h.8M111.7 182.4h.8M117.0 189.9h.8M117.6 176.2h.8M119.8 186.8h.8M140.1 177.8h.8M143.8 183.6h.8M164.2 173.7h.8M142.4 176.6h.8M118.0 191.7h.8M157.8 176.1h.8M159.3 175.1h.8M118.3 176.8h.8M168.1 190.6h.8M154.3 177.2h.8M164.6 185.2h.8M116.7 191.2h.8M133.4 190.1h.8M107.6 191.5h.8M123.3 190.2h.8M143.4 171.4h.8M132.7 181.1h.8M166.6 186.4h.8M112.6 179.8h.8M171.3 187.0h.8M136.0 176.7h.8M167.1 174.1h.8M132.9 181.3h.8M145.8 189.5h.8M154.9 183.9h.8M159.0 187.5h.8M126.8 173.3h.8M166.4 187.0h.8M120.6 183.0h.8M134.5 178.0h.8M114.9 187.1h.8M124.0 172.6h.8M132.2 178.2h.8M163.4 175.5h.8M109.8 192.1h.8M138.6 177.1h.8M160.5 181.5h.8M132.0 181.8h.8M146.9 171.0h.8M169.6 181.0h.8M146.0 188.8h.8M149.1 171.4h.8M151.5 178.6h.8M140.7 188.2h.8M113.1 174.1h.8M120.9 192.8h.8M144.3 183.3h.8M156.4 191.7h.8M170.8 176.2h.8M171.6 192.9h.8M135.0 171.1h.8M152.5 175.5h.8M110.2 182.1h.8M165.7 172.9h.8M141.8 189.6h.8M142.1 191.5h.8M166.1 173.1h.8M122.5 187.0h.8M117.8 182.0h.8M147.6 172.9h.8M130.9 190.2h.8M171.4 181.9h.8M112.2 174.2h.8M110.8 185.8h.8M154.9 180.0h.8M147.2 192.9h.8M125.0 182.8h.8M142.5 176.1h.8M119.3 188.3h.8M139.9 191.6h.8M128.5 179.2h.8M153.4 188.3h.8M145.7 192.6h.8M151.8 181.2h.8M129.4 191.8h.8M141.4 186.2h.8M107.1 182.7h.8M139.3 190.2h.8M123.3 184.3h.8M150.5 188.0h.8M152.1 181.9h.8M120.0 175.7h.8M145.1 171.1h.8M148.1 189.0h.8M121.0 185.3h.8M119.8 192.2h.8M151.1 191.6h.8M124.8 171.8h.8M151.2 190.4h.8M162.1 191.6h.8M117.5 179.6h.8M171.4 184.0h.8M169.2 179.4h.8M117.9 186.2h.8M155.5 188.1h.8M157.1 192.8h.8M167.6 186.3h.8M128.4 181.6h.8M112.3 180.1h.8M130.1 178.7h.8M159.7 172.5h.8M133.8 178.8h.8M128.6 186.1h.8M144.6 190.5h.8M156.8 187.9h.8M165.2 191.6h.8M145.5 176.3h.8M121.9 184.8h.8M148.3 175.4h.8M171.7 183.7h.8M107.7 177.0h.8M148.4 177.1h.8M146.3 183.3h.8M169.2 171.4h.8M108.4 177.2h.8M160.2 179.2h.8M133.7 189.7h.8M170.2 189.0h.8M163.7 182.9h.8M135.2 179.7h.8M113.0 180.3h.8M107.8 181.4h.8M133.4 171.3h.8M143.3 179.2h.8M145.7 190.4h.8M165.6 179.2h.8M144.1 192.2h.8M170.9 177.0h.8M124.7 174.6h.8M169.2 182.5h.8M121.9 190.1h.8M164.3 177.3h.8M144.5 179.2h.8M161.0 191.7h.8M165.8 176.7h.8M110.0 175.5h.8M142.5 187.6h.8M140.2 190.2h.8M130.5 182.3h.8M137.8 189.3h.8M144.2 181.2h.8M131.0 192.1h.8M136.0 171.7h.8M165.2 192.7h.8M154.5 178.9h.8M149.5 173.6h.8M117.0 178.4h.8M122.6 182.1h.8M153.0 183.9h.8M134.7 189.6h.8M129.8 174.6h.8M162.6 181.9h.8M112.3 186.0h.8M111.2 188.8h.8M134.6 183.6h.8M156.5 185.3h.8M168.9 178.7h.8M120.6 187.8h.8M168.7 184.7h.8M116.7 183.2h.8M121.7 181.0h.8M165.1 176.3h.8M170.1 185.3h.8M146.3 174.8h.8M133.9 190.6h.8M149.5 191.1h.8M157.2 191.1h.8M127.0 177.0h.8M115.5 173.7h.8M152.5 179.6h.8M119.5 177.5h.8M123.8 179.4h.8M143.1 192.3h.8M141.0 192.4h.8M156.9 183.4h.8M141.0 174.2h.8M142.2 177.8h.8M107.1 179.4h.8M111.1 181.7h.8M137.9 173.9h.8M166.2 180.9h.8M128.3 184.8h.8M113.7 180.6h.8M142.7 174.3h.8M115.3 174.4h.8M162.6 184.9h.8M163.2 184.2h.8M144.2 180.9h.8M128.1 182.1h.8M117.8 191.9h.8M137.1 176.0h.8M162.4 191.0h.8M119.0 190.4h.8" stroke="#fff" stroke-width=".8" opacity="0.3" fill="none"/>
<ellipse cx="124.5" cy="180.8" rx="14.5" ry="9.3" fill="#b4b4b4" opacity="1" filter="url(#bl1)" transform="rotate(0 124.5 180.8)"/>
<ellipse cx="124.5" cy="180.8" rx="10.5" ry="6" fill="#b8b8b8" opacity="0.8" filter="url(#bl2)" transform="rotate(0 124.5 180.8)"/>
<ellipse cx="153.5" cy="180.8" rx="11" ry="9.3" fill="#b8b8b8" opacity="1" filter="url(#bl1)" transform="rotate(0 153.5 180.8)"/>
<ellipse cx="153.5" cy="180.8" rx="8" ry="6" fill="#bbb" opacity="0.8" filter="url(#bl2)" transform="rotate(0 153.5 180.8)"/>
<path d="M133.5 177.3h.8M123.7 181.8h.8M118.3 175.8h.8M135.1 176.6h.8M134.3 175.6h.8M117.3 169.5h.8M118.6 179.1h.8M132.3 173.7h.8M124.5 186.7h.8M131.9 188.4h.8M123.3 173.4h.8M124.7 183.7h.8M115.1 179.4h.8M124.3 192.1h.8M118.5 177.0h.8M122.8 177.8h.8M125.0 178.4h.8M113.2 177.5h.8M137.2 180.4h.8M126.5 184.5h.8M127.5 176.5h.8M116.5 185.1h.8M122.1 183.1h.8M120.9 185.4h.8M123.2 182.2h.8M129.8 170.8h.8M132.9 187.7h.8M120.2 172.8h.8M128.1 176.6h.8M115.5 188.9h.8M123.5 175.6h.8M112.7 183.0h.8M127.6 183.0h.8M114.1 177.5h.8M124.4 179.0h.8M125.2 179.3h.8M124.1 181.9h.8M130.5 187.5h.8M124.1 170.7h.8M137.6 173.4h.8M126.8 187.0h.8M130.3 187.7h.8M129.4 172.7h.8M131.2 179.4h.8M134.4 177.4h.8M132.3 174.5h.8M122.0 180.5h.8M135.0 176.9h.8M127.5 186.6h.8M108.1 188.8h.8M123.7 182.1h.8M142.3 180.7h.8M131.2 187.4h.8M138.0 187.2h.8M119.0 182.9h.8M111.4 174.8h.8M121.8 179.4h.8M119.4 177.1h.8M140.1 174.4h.8M129.4 174.6h.8M127.5 176.7h.8M109.0 170.8h.8M135.2 187.3h.8M122.0 180.1h.8M127.7 173.2h.8M120.4 172.6h.8M119.3 181.0h.8M121.7 189.8h.8M130.3 178.1h.8M126.7 178.7h.8M117.4 188.7h.8M122.9 178.1h.8M137.5 179.6h.8M133.7 167.6h.8M130.9 175.3h.8M121.0 185.6h.8M140.6 169.3h.8M136.7 179.4h.8M120.2 186.3h.8M123.4 178.1h.8M122.5 179.8h.8M119.9 186.5h.8M139.7 176.4h.8M118.5 180.3h.8M117.5 181.5h.8M125.9 181.0h.8M117.8 182.5h.8M112.9 179.0h.8M123.1 181.2h.8M132.1 180.0h.8M115.4 183.1h.8M123.2 184.9h.8M139.5 188.7h.8M124.3 176.0h.8M126.6 180.0h.8M117.7 173.2h.8" stroke="#555" stroke-width=".8" opacity="0.2" fill="none"/>
<path d="M162.8 176.2h.8M161.8 186.6h.8M145.9 183.2h.8M152.8 173.8h.8M148.4 181.9h.8M161.2 177.5h.8M151.8 186.4h.8M150.2 177.7h.8M141.1 183.3h.8M147.8 176.2h.8M149.7 177.3h.8M159.7 174.6h.8M160.4 183.0h.8M145.8 175.6h.8M130.2 169.3h.8M147.7 180.8h.8M159.7 180.7h.8M147.2 176.2h.8M166.6 178.9h.8M167.5 180.6h.8M150.5 179.2h.8M157.5 185.2h.8M150.5 183.7h.8M143.0 172.8h.8M140.6 178.7h.8M148.0 184.7h.8M150.6 179.0h.8M151.0 173.7h.8M143.4 190.9h.8M158.1 173.8h.8M143.6 183.0h.8M135.7 169.4h.8M149.6 178.2h.8M159.7 175.7h.8M143.1 183.3h.8M145.6 181.9h.8M138.1 179.2h.8M168.1 173.8h.8M152.9 180.5h.8M154.5 180.4h.8M159.3 177.7h.8M145.8 182.1h.8M155.2 171.9h.8M159.4 179.2h.8M161.3 181.1h.8M143.4 179.2h.8M159.0 186.4h.8M152.0 184.4h.8M164.1 182.6h.8M165.0 184.5h.8M145.7 174.8h.8M146.8 189.8h.8M162.9 176.5h.8M153.2 191.7h.8M146.8 181.2h.8M150.6 185.5h.8M138.3 182.9h.8M155.0 187.0h.8M156.9 183.1h.8M145.8 182.6h.8M149.4 190.4h.8M156.1 181.4h.8M154.7 181.6h.8M150.3 184.5h.8M153.4 176.7h.8M160.6 185.0h.8M162.6 179.1h.8M161.0 188.9h.8M158.8 183.3h.8M153.1 173.2h.8M145.3 180.9h.8M161.9 183.9h.8M149.2 182.3h.8M152.6 177.5h.8M153.2 185.6h.8M144.4 179.1h.8M153.2 176.1h.8M146.1 183.5h.8M149.4 189.3h.8M154.7 171.6h.8M149.1 171.4h.8M151.0 188.7h.8M161.5 179.6h.8M148.4 179.2h.8M144.9 176.5h.8M156.4 181.9h.8" stroke="#555" stroke-width=".8" opacity="0.2" fill="none"/>
<ellipse cx="125.5" cy="178.7" rx="3.6" ry="3.6" fill="#808080" opacity="0.7" filter="url(#bl2)" transform="rotate(0 125.5 178.7)"/>
<ellipse cx="151.5" cy="179.5" rx="3" ry="3" fill="#999" opacity="0.5" filter="url(#bl2)" transform="rotate(0 151.5 179.5)"/>
<ellipse cx="134" cy="154" rx="9.5" ry="14" fill="#a8a8a8" opacity="0.9" filter="url(#bl2)" transform="rotate(0 134 154)"/>
<ellipse cx="158" cy="156" rx="10" ry="13" fill="#c6c6c6" opacity="0.75" filter="url(#bl2)" transform="rotate(0 158 156)"/>
<ellipse cx="140" cy="161" rx="28" ry="8" fill="#c8c8c8" opacity="0.6" filter="url(#bl2)" transform="rotate(0 140 161)"/>
<path d="M135.3 151.5h.8M124.4 158.8h.8M134.2 161.4h.8M135.1 143.0h.8M140.2 161.1h.8M132.4 160.4h.8M137.0 148.4h.8M135.5 145.5h.8M142.8 148.6h.8M140.3 171.4h.8M134.4 160.0h.8M143.6 134.2h.8M148.0 159.3h.8M126.2 154.8h.8M148.1 154.3h.8M143.0 164.0h.8M129.9 157.0h.8M145.4 145.3h.8M134.8 147.7h.8M130.6 151.3h.8M120.2 146.8h.8M122.9 143.5h.8M130.3 163.8h.8M126.9 162.1h.8M131.4 145.4h.8M123.1 154.8h.8M133.5 161.3h.8M130.1 132.3h.8M137.7 166.9h.8M134.3 154.6h.8M137.3 155.9h.8M150.8 152.2h.8M137.4 162.4h.8M137.5 136.0h.8M136.7 150.0h.8M127.6 162.8h.8M129.8 157.4h.8M129.6 159.4h.8M142.8 144.7h.8M128.9 162.8h.8M128.3 164.0h.8M136.6 144.2h.8M130.4 166.8h.8M139.6 154.9h.8M135.5 164.4h.8M130.1 156.9h.8M137.1 166.9h.8M131.7 151.5h.8M135.8 151.2h.8M132.5 159.0h.8M130.9 150.7h.8M135.8 154.6h.8M131.7 152.6h.8M126.3 145.9h.8M129.5 142.4h.8M143.9 174.7h.8M132.5 152.5h.8M133.2 149.8h.8M130.4 162.6h.8M137.5 140.4h.8M135.5 145.0h.8M138.2 145.7h.8M136.1 146.0h.8M132.8 157.1h.8M138.5 139.5h.8M130.5 145.2h.8M123.1 155.9h.8M132.6 150.4h.8M128.8 171.4h.8M128.3 127.0h.8M131.7 156.3h.8M127.1 152.0h.8M119.1 150.8h.8M134.4 143.9h.8M126.9 142.7h.8M130.6 164.0h.8M134.7 147.1h.8M130.8 161.2h.8M129.7 144.4h.8M139.0 153.3h.8M142.5 150.9h.8M132.1 157.6h.8M135.3 153.7h.8M127.9 146.6h.8M129.1 148.3h.8M142.3 144.2h.8M137.0 157.7h.8M124.0 163.5h.8M135.5 157.0h.8M135.3 163.3h.8M136.5 146.7h.8M130.0 144.7h.8M129.0 144.7h.8M135.5 163.0h.8M132.7 163.6h.8M141.3 160.1h.8M123.4 127.3h.8M141.0 158.2h.8M124.9 145.8h.8M135.5 153.1h.8M125.7 152.7h.8M124.5 150.7h.8M138.0 156.0h.8M130.3 159.6h.8M146.5 150.4h.8M134.8 138.8h.8M139.1 137.0h.8M132.6 162.4h.8M128.8 128.9h.8M132.1 138.5h.8M148.5 165.2h.8M127.6 150.1h.8M134.4 163.0h.8M143.0 159.9h.8M124.0 141.5h.8M139.0 139.8h.8M142.3 161.1h.8M134.5 161.5h.8M129.4 163.7h.8M134.6 147.2h.8M128.9 132.2h.8M131.9 158.5h.8M131.4 148.6h.8M145.1 182.1h.8M125.2 165.7h.8M133.8 153.0h.8M128.7 150.5h.8M136.0 157.4h.8M130.3 147.7h.8M138.2 168.3h.8M131.2 158.4h.8M138.8 156.8h.8M128.0 153.4h.8M134.6 141.9h.8M134.4 153.0h.8M129.4 169.8h.8M136.0 144.5h.8M141.8 150.2h.8M127.5 141.0h.8M141.0 141.2h.8M136.2 157.8h.8M130.3 160.6h.8M140.8 152.4h.8M134.0 159.9h.8M134.5 166.5h.8M139.0 154.0h.8M135.5 149.1h.8M138.4 145.8h.8M133.8 140.4h.8M149.6 156.1h.8M134.4 157.9h.8M123.2 167.8h.8M123.4 159.5h.8M131.5 160.7h.8M138.2 155.8h.8M140.6 150.0h.8M135.6 150.0h.8M129.6 142.1h.8M136.5 170.5h.8M128.6 148.1h.8M129.5 157.1h.8M121.0 154.8h.8M129.3 142.9h.8M135.6 155.1h.8M135.9 165.5h.8M124.9 164.4h.8M137.5 177.8h.8M143.0 158.3h.8M121.4 155.7h.8M144.0 161.5h.8M133.6 140.6h.8M134.4 138.2h.8M128.9 149.0h.8M136.7 146.7h.8M133.6 152.8h.8M135.8 159.3h.8M137.2 150.2h.8M135.1 146.7h.8M126.1 147.2h.8M133.9 132.5h.8M139.1 156.8h.8M123.8 142.6h.8M128.2 129.8h.8M122.7 157.4h.8M121.0 175.5h.8M143.2 169.0h.8M137.3 165.0h.8M142.7 143.2h.8M144.4 145.0h.8M131.9 135.6h.8M148.9 156.9h.8M139.9 148.1h.8M140.2 158.6h.8M131.5 158.6h.8M131.3 139.9h.8M120.8 136.4h.8M137.9 173.1h.8M130.9 146.8h.8M142.6 151.5h.8M136.3 153.2h.8M118.0 139.1h.8M136.1 154.1h.8M132.2 139.3h.8M134.9 150.1h.8M127.4 150.6h.8M135.7 175.1h.8M141.3 143.7h.8M139.2 136.9h.8M118.5 144.9h.8M146.7 160.6h.8M129.4 157.2h.8M120.2 151.0h.8M127.6 140.1h.8M131.4 144.7h.8M136.1 140.0h.8M136.6 157.7h.8M139.4 159.7h.8M138.6 163.9h.8M142.4 164.1h.8M141.8 139.4h.8M132.3 168.2h.8M130.0 160.7h.8M141.1 167.0h.8M130.0 155.6h.8M133.2 159.8h.8M121.3 152.3h.8M141.8 152.9h.8M140.8 167.8h.8M135.0 148.7h.8M130.3 140.6h.8M131.2 151.1h.8M140.4 145.9h.8M129.4 152.4h.8M132.6 166.2h.8M134.2 167.8h.8M132.9 141.5h.8M134.1 143.4h.8M140.1 150.1h.8M131.7 174.7h.8M131.9 148.2h.8M131.8 160.7h.8M135.7 153.4h.8M141.8 146.8h.8M138.9 161.6h.8M136.1 147.9h.8M133.1 164.6h.8M116.1 168.7h.8M127.8 162.8h.8M137.6 157.5h.8M137.6 148.0h.8M144.9 153.7h.8M139.6 151.0h.8M131.9 164.3h.8M127.6 152.7h.8M128.6 136.4h.8M140.6 153.3h.8M121.9 152.3h.8M149.6 164.1h.8M132.6 156.8h.8M132.2 155.5h.8M133.2 155.1h.8M131.0 162.0h.8M126.2 135.2h.8M122.9 146.0h.8M134.8 159.0h.8M139.3 137.1h.8M123.7 159.5h.8M145.9 159.6h.8M133.2 163.8h.8M145.0 163.4h.8M135.5 149.9h.8M130.4 148.5h.8M126.1 156.7h.8M140.9 150.1h.8M139.3 160.1h.8M133.3 152.5h.8M144.0 145.3h.8M129.5 148.8h.8M129.1 159.0h.8M138.1 150.2h.8M138.3 134.5h.8M134.8 177.8h.8M140.5 142.5h.8M140.0 146.3h.8M138.1 160.3h.8M124.7 172.3h.8M124.9 148.5h.8M138.7 159.5h.8M135.6 149.8h.8M139.4 157.0h.8M132.0 164.8h.8M144.5 147.0h.8M131.5 142.2h.8M126.2 155.0h.8M140.5 138.2h.8M132.6 156.6h.8M130.3 162.2h.8M138.1 152.6h.8M141.9 156.9h.8M141.5 159.6h.8M132.5 168.9h.8M129.7 157.2h.8M132.0 144.6h.8M125.6 165.4h.8M143.1 164.7h.8M121.2 160.1h.8M134.9 159.5h.8M136.0 159.5h.8M137.3 164.6h.8M135.2 147.7h.8M119.6 156.4h.8M120.2 147.2h.8M134.0 151.9h.8M129.2 171.5h.8M124.8 165.8h.8M132.2 151.9h.8M134.6 158.1h.8M122.6 158.5h.8M133.1 152.9h.8M134.3 152.0h.8M141.4 144.1h.8M129.1 158.5h.8M132.9 162.8h.8M115.3 150.7h.8M134.7 171.7h.8M140.9 143.6h.8M141.2 144.5h.8M136.2 149.4h.8M125.0 161.7h.8M137.9 149.9h.8M128.6 145.2h.8M133.2 164.7h.8M131.2 152.6h.8M131.5 140.4h.8M131.6 146.7h.8M142.0 155.0h.8M142.6 152.4h.8M135.2 167.7h.8M137.2 154.0h.8M137.4 156.7h.8M141.7 146.9h.8M131.1 144.0h.8M142.1 159.9h.8M132.1 159.1h.8M146.8 161.4h.8M133.6 143.4h.8M137.9 180.2h.8M142.0 150.1h.8M123.9 163.3h.8M128.6 149.1h.8M148.4 149.0h.8M132.6 180.5h.8M145.4 128.9h.8M139.4 150.7h.8M135.3 146.9h.8M136.1 159.9h.8M132.2 161.5h.8M139.1 141.2h.8M146.0 154.8h.8M139.9 168.0h.8M134.0 178.1h.8M128.3 142.3h.8M131.8 172.2h.8M144.8 161.7h.8M127.8 149.2h.8M132.8 154.3h.8M126.6 153.6h.8M131.0 157.8h.8M127.8 147.6h.8M135.0 160.0h.8M134.7 154.9h.8M133.1 146.8h.8M131.3 144.2h.8M137.6 157.2h.8M133.0 144.3h.8M131.5 151.4h.8M140.8 149.6h.8M135.5 146.3h.8M138.4 150.3h.8M128.5 133.4h.8M131.9 149.5h.8M141.7 140.2h.8M130.1 140.4h.8M139.2 155.8h.8M131.7 159.3h.8M135.1 148.1h.8M133.7 159.2h.8M140.2 171.0h.8M135.9 153.7h.8M134.7 144.6h.8M133.0 158.8h.8M131.5 150.0h.8M125.7 159.2h.8M141.0 153.1h.8M135.2 155.1h.8M134.4 150.9h.8M140.5 175.9h.8M140.7 156.1h.8M131.7 140.5h.8M140.8 151.0h.8M137.8 147.8h.8M117.9 174.3h.8M126.1 159.2h.8M141.6 136.3h.8M135.2 151.9h.8M124.0 170.8h.8M130.9 158.4h.8M134.2 172.2h.8M128.1 149.1h.8M135.9 160.4h.8M134.0 164.6h.8M141.6 157.3h.8M125.2 143.4h.8M123.5 148.2h.8M139.9 169.5h.8M135.4 162.0h.8M131.6 150.1h.8M138.8 136.3h.8M132.8 144.2h.8M135.7 159.0h.8M135.4 167.0h.8M134.7 165.9h.8M135.6 132.4h.8M133.9 144.1h.8M131.7 128.8h.8M132.4 149.6h.8M126.8 150.7h.8M139.4 153.8h.8M138.5 144.0h.8M145.2 143.8h.8M126.1 155.1h.8M137.9 166.3h.8M138.9 162.8h.8M124.0 155.0h.8M130.1 131.2h.8M143.7 141.1h.8M138.3 161.6h.8M132.0 143.0h.8M142.7 153.1h.8M135.1 154.4h.8M136.3 159.3h.8M135.2 163.0h.8M133.8 139.4h.8M128.9 158.7h.8M128.2 155.3h.8M139.0 146.4h.8M133.8 140.3h.8M125.9 158.0h.8M135.4 141.9h.8M131.2 146.0h.8M131.9 146.6h.8M130.8 175.7h.8M130.8 139.6h.8M131.4 165.4h.8M132.6 159.7h.8M131.8 148.8h.8M143.4 155.7h.8M130.3 160.2h.8M125.0 137.9h.8M132.1 148.7h.8M134.6 140.5h.8M136.8 151.0h.8M132.4 156.3h.8M131.7 163.5h.8M128.3 156.0h.8M133.0 129.9h.8M127.6 147.9h.8M136.8 139.9h.8M130.2 148.0h.8M124.7 147.5h.8M140.1 162.4h.8M127.3 145.2h.8M129.3 131.3h.8M148.4 145.3h.8M135.9 147.9h.8M132.0 137.4h.8M127.0 151.2h.8M129.4 159.7h.8M130.4 156.8h.8M137.2 140.7h.8M141.7 150.8h.8M149.7 147.2h.8M140.5 160.2h.8M124.1 137.0h.8M124.4 161.2h.8M133.9 162.4h.8M126.8 160.6h.8M133.7 158.9h.8M137.9 154.0h.8M142.7 138.7h.8M131.4 163.3h.8M127.1 160.3h.8M134.1 155.9h.8M118.4 144.0h.8M138.3 140.9h.8M138.9 160.1h.8M114.8 154.1h.8M126.5 142.2h.8M123.4 155.9h.8M142.0 178.4h.8M143.2 148.1h.8M123.3 163.6h.8M138.8 153.5h.8M124.9 140.7h.8M132.2 168.2h.8M143.7 143.3h.8M122.4 151.8h.8M139.1 145.2h.8M134.5 162.1h.8M122.9 171.4h.8M143.1 153.7h.8M135.7 158.6h.8M129.2 160.5h.8M134.4 145.2h.8M133.2 150.1h.8M130.7 160.2h.8M138.9 162.6h.8M130.9 159.7h.8M132.1 170.0h.8M126.8 163.4h.8M130.3 135.5h.8M138.6 139.6h.8M128.1 152.3h.8M136.5 151.7h.8M136.4 155.8h.8M123.1 165.5h.8M143.1 147.1h.8M138.4 150.0h.8M128.4 150.1h.8M121.2 146.5h.8M138.1 163.2h.8M136.9 155.4h.8M129.6 162.7h.8M146.1 156.5h.8M145.1 154.2h.8M132.3 162.1h.8M134.6 150.7h.8M130.3 154.3h.8M133.6 136.8h.8M137.0 170.3h.8M136.2 157.7h.8M137.3 162.0h.8M138.8 149.7h.8M126.5 157.6h.8M136.6 147.6h.8M132.2 157.8h.8M144.0 147.0h.8M127.9 152.9h.8M128.7 148.1h.8M127.8 164.9h.8M136.8 154.8h.8M144.1 185.1h.8M137.7 161.8h.8M127.8 158.9h.8M130.0 138.1h.8M136.5 147.3h.8M143.2 150.5h.8M132.2 144.5h.8M132.9 152.3h.8M138.0 145.5h.8M129.3 142.4h.8M129.6 149.1h.8M132.9 146.4h.8M139.7 145.8h.8M135.5 151.7h.8M136.3 153.9h.8M131.2 152.9h.8M130.6 151.6h.8M141.3 161.5h.8M142.6 144.8h.8M141.5 157.5h.8M138.0 150.4h.8M145.1 144.3h.8M135.5 139.7h.8M132.1 157.0h.8M135.5 155.9h.8M142.3 142.8h.8M122.8 163.3h.8M124.3 150.0h.8M148.7 160.4h.8M133.1 162.5h.8M128.6 160.5h.8M131.4 146.2h.8M127.7 147.2h.8M135.5 171.2h.8M140.0 162.4h.8M133.1 170.1h.8M133.3 167.5h.8M126.1 159.2h.8M127.2 149.9h.8M132.7 135.0h.8M136.4 153.9h.8M123.0 152.0h.8M133.2 137.4h.8M129.8 163.3h.8M131.3 151.2h.8M133.2 151.0h.8M127.0 151.6h.8M121.5 154.6h.8M132.0 139.8h.8M124.3 155.2h.8M131.1 146.8h.8M130.4 155.3h.8M140.4 148.9h.8M121.8 144.3h.8M127.9 157.4h.8M141.0 156.6h.8M128.5 162.5h.8M131.1 141.4h.8M132.7 173.3h.8M133.7 146.2h.8M138.6 145.3h.8M141.2 160.1h.8M125.6 149.0h.8M131.6 145.1h.8M136.2 150.7h.8M144.7 155.8h.8M139.9 162.7h.8M136.7 161.2h.8M129.5 163.0h.8M140.1 163.7h.8M130.4 147.6h.8M141.3 152.4h.8M150.1 158.2h.8M126.7 159.4h.8M135.5 134.4h.8M130.2 131.4h.8M150.6 141.5h.8M128.7 149.8h.8M128.9 165.1h.8M132.3 139.1h.8M138.8 156.4h.8M125.0 162.3h.8M125.5 144.2h.8M143.2 148.2h.8M134.2 144.9h.8M132.0 133.0h.8M132.0 145.3h.8M139.8 148.7h.8M128.6 148.3h.8M121.8 157.0h.8M122.7 140.9h.8M135.5 149.9h.8M146.8 139.3h.8M136.1 170.7h.8M129.9 140.1h.8M140.4 171.4h.8M129.0 161.3h.8M138.2 154.2h.8M139.1 150.4h.8M138.0 150.5h.8M132.9 142.3h.8M133.6 152.0h.8M128.2 145.8h.8M131.5 166.9h.8M136.9 159.6h.8M142.3 159.9h.8M144.5 167.0h.8M138.6 152.1h.8M134.8 152.2h.8M129.3 137.9h.8M136.6 139.8h.8M138.4 170.2h.8M134.6 143.8h.8M129.9 159.0h.8M133.4 148.8h.8M135.6 141.6h.8M127.5 156.9h.8M129.4 159.2h.8M130.9 153.8h.8M133.0 165.5h.8M132.2 153.9h.8M126.8 154.4h.8M133.0 156.0h.8M121.2 159.2h.8M134.4 156.1h.8M136.5 163.0h.8M127.8 147.9h.8M135.5 138.4h.8M148.0 133.3h.8M137.4 148.3h.8M138.0 167.8h.8M145.9 146.1h.8M134.4 145.6h.8M125.3 154.3h.8M130.1 140.9h.8M131.9 147.1h.8M126.8 155.0h.8M137.4 156.7h.8M129.7 144.2h.8M119.5 159.9h.8M140.2 144.5h.8M125.3 141.3h.8M142.8 151.1h.8M131.2 153.7h.8M134.0 149.9h.8M132.9 159.3h.8M139.9 142.3h.8M133.1 152.3h.8M135.1 176.3h.8M138.3 160.3h.8M133.3 158.4h.8M141.6 164.9h.8M128.8 154.7h.8M136.2 142.6h.8M131.8 148.5h.8M139.6 153.5h.8M146.6 158.3h.8M131.3 155.7h.8M134.6 145.3h.8M136.3 139.6h.8M135.2 148.5h.8M134.6 146.3h.8M144.9 146.6h.8M139.0 153.7h.8M141.3 146.4h.8M126.0 159.8h.8M140.6 159.4h.8M109.8 169.6h.8M143.2 153.4h.8M128.4 158.0h.8M123.2 150.0h.8M137.8 166.4h.8M131.5 151.0h.8M125.4 151.8h.8M129.6 153.2h.8M129.3 157.4h.8M133.3 146.5h.8M137.6 158.2h.8M132.4 151.3h.8M139.1 157.9h.8M133.0 172.0h.8M130.9 140.6h.8M129.9 155.1h.8M123.0 171.3h.8M139.7 143.8h.8M136.4 140.8h.8M133.8 150.8h.8M143.7 135.2h.8M130.8 134.9h.8M130.9 150.0h.8M134.0 163.1h.8M128.2 147.8h.8M143.2 153.4h.8M127.9 153.3h.8M127.0 144.6h.8M130.6 138.5h.8M145.3 149.2h.8M135.4 150.6h.8M133.3 145.2h.8M136.6 148.8h.8M128.6 161.9h.8M143.5 157.3h.8M137.2 149.9h.8M134.7 159.9h.8M134.2 165.8h.8M142.9 155.3h.8M135.4 145.0h.8M131.2 146.8h.8M131.8 144.4h.8M136.3 156.2h.8M133.0 168.7h.8M135.6 152.5h.8M135.2 147.3h.8M138.7 144.3h.8M133.7 172.1h.8M135.7 142.9h.8M126.9 164.0h.8M122.2 168.9h.8M142.3 148.6h.8M135.6 148.5h.8M128.1 157.2h.8M129.7 158.8h.8M136.0 147.1h.8M134.5 153.5h.8M132.9 150.9h.8M141.6 146.1h.8M134.9 162.9h.8M136.4 149.1h.8M126.8 150.5h.8M121.7 148.8h.8M133.8 165.6h.8M137.9 162.9h.8M136.9 155.3h.8M124.0 147.6h.8M132.5 152.2h.8M126.2 138.4h.8M135.1 150.4h.8M134.0 150.9h.8M132.5 142.1h.8M139.4 156.8h.8M133.8 169.4h.8M129.5 160.9h.8M133.6 153.2h.8M139.4 153.0h.8M133.8 141.7h.8M135.7 156.8h.8M131.3 141.9h.8M140.0 154.4h.8M141.2 152.4h.8M150.1 141.6h.8M138.5 154.4h.8M135.5 151.1h.8M137.5 161.1h.8M134.6 143.3h.8M140.0 162.4h.8M126.6 155.3h.8M143.5 158.9h.8M130.8 155.7h.8M136.2 142.8h.8M132.2 150.0h.8M131.9 165.6h.8M122.8 143.5h.8M129.5 164.9h.8M133.4 150.6h.8M132.6 167.8h.8M146.1 155.3h.8M127.9 150.5h.8M123.0 161.8h.8M132.7 163.5h.8M130.3 146.1h.8M120.5 155.5h.8M140.6 132.8h.8M127.3 152.3h.8M140.5 170.7h.8M144.3 155.7h.8M125.0 145.3h.8M137.2 153.2h.8M129.0 152.3h.8M134.9 174.2h.8M132.0 158.5h.8M135.8 160.2h.8M129.7 167.0h.8M142.4 157.9h.8M127.2 143.0h.8M132.7 151.9h.8M128.5 151.9h.8M124.2 151.3h.8M125.6 155.7h.8M118.5 146.0h.8M131.2 139.4h.8M131.2 151.1h.8M142.1 159.5h.8M131.4 160.7h.8M133.5 160.6h.8M131.2 155.6h.8M131.9 161.9h.8M144.9 168.1h.8M142.7 151.6h.8M143.9 150.3h.8M133.8 144.7h.8M139.8 137.9h.8M133.4 159.5h.8M126.9 157.6h.8M127.2 150.0h.8M136.1 166.2h.8M147.0 143.7h.8M123.5 146.1h.8M135.3 152.0h.8M125.8 144.8h.8M135.2 153.4h.8M146.6 142.0h.8M130.3 185.5h.8M126.2 163.3h.8M130.7 154.1h.8M141.6 147.7h.8M132.3 153.3h.8M134.1 169.0h.8M142.9 146.9h.8M141.9 138.8h.8M129.6 146.3h.8M130.0 154.5h.8M135.6 144.5h.8M136.3 146.8h.8M137.2 155.6h.8M126.9 144.4h.8M140.0 152.2h.8M135.7 149.8h.8M143.6 157.2h.8M129.5 154.9h.8M127.1 149.1h.8M131.6 143.3h.8M128.5 162.9h.8M128.3 150.8h.8M126.2 164.6h.8M127.9 159.9h.8M137.8 157.9h.8M130.8 132.4h.8M128.3 150.7h.8M124.8 142.0h.8M135.9 152.8h.8M140.4 157.1h.8M141.9 155.5h.8M133.0 154.6h.8M139.4 161.8h.8M138.0 148.5h.8M127.4 162.3h.8M140.5 143.5h.8M134.1 143.8h.8M134.4 172.8h.8M131.7 149.0h.8M133.5 148.7h.8M136.3 138.2h.8M138.6 145.8h.8M134.1 176.2h.8M141.6 154.7h.8M133.0 157.5h.8M139.7 184.3h.8M146.3 166.7h.8M128.9 166.6h.8M132.9 154.6h.8M131.7 149.7h.8M137.5 154.8h.8M138.6 148.2h.8M128.5 149.1h.8M132.3 156.4h.8M145.5 154.3h.8M132.4 176.5h.8M145.4 161.5h.8M140.2 136.4h.8M131.7 152.7h.8M134.0 134.7h.8M135.8 170.0h.8M142.7 155.6h.8M137.3 153.0h.8M120.6 158.1h.8M139.9 139.5h.8M148.6 160.3h.8M137.2 166.5h.8M128.0 152.1h.8M124.7 162.0h.8M137.0 174.5h.8M138.7 149.1h.8M121.2 149.9h.8M131.8 152.5h.8M130.7 149.9h.8M134.9 147.4h.8M128.8 150.8h.8M124.5 131.5h.8M133.6 143.6h.8M124.6 151.6h.8M134.1 164.8h.8M130.4 152.8h.8M132.7 147.1h.8M125.5 134.6h.8M122.3 142.7h.8M128.2 148.0h.8M122.2 155.4h.8M136.1 141.2h.8M129.3 148.7h.8M137.7 164.0h.8M137.6 159.4h.8M141.8 159.3h.8M135.2 158.0h.8M140.0 154.5h.8M140.3 147.8h.8M126.9 152.6h.8M137.4 172.2h.8M132.7 143.2h.8M122.7 144.3h.8M131.7 149.0h.8M136.0 153.2h.8M130.1 176.4h.8M130.3 150.3h.8M126.0 146.9h.8M135.6 136.6h.8M131.8 145.7h.8M134.3 158.5h.8M133.2 161.8h.8M130.5 156.1h.8M127.9 137.4h.8M127.4 150.1h.8M137.0 170.2h.8M136.5 158.8h.8M128.5 168.8h.8M129.8 151.7h.8M146.0 161.6h.8M147.6 147.2h.8M136.4 141.3h.8M136.2 146.9h.8M142.2 157.9h.8M123.1 149.3h.8M128.9 153.7h.8M140.4 141.5h.8M132.4 159.2h.8M128.2 148.9h.8M129.7 162.7h.8M138.6 142.2h.8M140.6 168.2h.8M131.8 156.0h.8M137.6 159.5h.8M147.7 153.9h.8M132.0 155.0h.8M133.3 135.7h.8M139.4 155.7h.8M128.6 144.7h.8" stroke="#555" stroke-width=".8" opacity="0.55" fill="none"/>
<path d="M145.7 156.4h.8M160.1 156.4h.8M165.4 152.5h.8M149.0 155.5h.8M170.0 167.8h.8M157.9 172.8h.8M150.6 149.6h.8M155.0 174.2h.8M135.2 157.7h.8M158.4 146.3h.8M161.1 136.1h.8M159.7 145.6h.8M152.2 157.5h.8M157.1 149.9h.8M158.0 148.0h.8M168.0 158.1h.8M160.3 168.1h.8M159.0 143.4h.8M162.9 149.4h.8M152.6 152.3h.8M166.9 145.7h.8M160.8 152.3h.8M155.4 156.1h.8M159.5 158.5h.8M146.1 152.3h.8M162.2 158.3h.8M158.7 145.5h.8M155.1 160.3h.8M152.3 163.7h.8M161.1 170.0h.8M145.6 154.6h.8M145.7 144.3h.8M160.7 144.9h.8M158.2 159.4h.8M168.2 135.8h.8M157.2 143.8h.8M158.3 151.9h.8M169.2 170.5h.8M154.7 163.8h.8M160.3 157.1h.8M146.7 174.6h.8M157.2 144.8h.8M147.5 169.3h.8M160.1 163.9h.8M158.9 141.8h.8M156.4 147.4h.8M149.5 156.3h.8M152.3 157.9h.8M159.0 150.1h.8M151.0 152.4h.8M166.0 165.0h.8M167.3 146.8h.8M151.1 157.0h.8M157.7 161.1h.8M161.2 141.3h.8M159.7 169.2h.8M157.1 154.3h.8M158.4 140.0h.8M163.4 158.9h.8M164.5 149.7h.8M152.4 144.8h.8M156.8 154.6h.8M162.4 145.8h.8M152.2 143.8h.8M154.0 163.0h.8M164.8 155.1h.8M166.6 159.0h.8M154.5 161.1h.8M148.1 148.0h.8M159.5 155.0h.8M152.8 151.8h.8M149.6 147.4h.8M165.4 166.3h.8M146.0 162.0h.8M152.2 141.4h.8M153.7 155.9h.8M166.3 165.2h.8M159.1 166.6h.8M142.3 153.7h.8M162.7 178.2h.8M145.6 131.0h.8M156.3 152.3h.8M162.0 152.8h.8M150.6 150.5h.8M160.1 178.5h.8M135.6 143.4h.8M156.3 150.3h.8M146.1 150.2h.8M153.4 156.0h.8M162.2 150.9h.8M162.6 147.5h.8M153.5 157.9h.8M154.7 161.5h.8M164.3 148.9h.8M153.2 143.5h.8M156.7 155.1h.8M162.9 157.9h.8M162.8 140.6h.8M153.4 154.1h.8M163.9 153.5h.8M159.8 145.2h.8M166.9 155.4h.8M147.6 152.1h.8M156.0 156.2h.8M168.2 143.0h.8M157.1 143.9h.8M157.4 165.2h.8M156.9 162.7h.8M146.2 153.3h.8M152.3 134.6h.8M155.6 142.4h.8M167.1 146.0h.8M167.1 152.4h.8M166.1 160.7h.8M168.5 146.1h.8M147.8 156.4h.8M158.5 165.1h.8M157.8 156.7h.8M167.5 157.8h.8M157.0 155.8h.8M167.1 167.1h.8M169.9 159.3h.8M150.3 163.1h.8M155.6 147.1h.8M157.2 147.9h.8M148.1 155.6h.8M150.8 163.2h.8M160.5 142.8h.8M161.4 158.6h.8M148.9 162.4h.8M154.9 152.0h.8M163.5 134.1h.8M153.8 161.4h.8M160.9 168.5h.8M162.4 155.5h.8M167.0 153.3h.8M164.1 130.1h.8M146.7 165.0h.8M166.4 159.8h.8M166.0 138.2h.8M161.5 142.0h.8M153.9 147.1h.8M166.4 147.0h.8M165.5 162.0h.8M160.7 158.7h.8M167.4 157.0h.8M163.7 159.7h.8M145.1 173.1h.8M162.2 154.1h.8M163.0 145.8h.8M156.8 143.5h.8M157.0 165.2h.8M147.9 145.0h.8M162.2 148.6h.8M167.0 155.1h.8M161.7 164.9h.8M163.4 153.7h.8M164.3 163.1h.8M157.7 146.5h.8M150.9 141.1h.8M160.9 165.4h.8M162.4 152.7h.8M149.5 159.2h.8M157.6 168.6h.8M158.2 154.8h.8M159.0 142.1h.8M170.6 150.5h.8M159.1 157.3h.8M162.8 147.3h.8M152.8 152.2h.8M150.7 146.7h.8M164.0 152.0h.8M163.0 152.2h.8M161.0 148.6h.8M170.1 149.1h.8M161.9 172.2h.8M170.2 148.4h.8M152.9 157.4h.8M160.3 167.1h.8M154.8 160.5h.8M156.8 149.2h.8M169.6 169.1h.8M163.0 158.0h.8M155.4 172.3h.8M151.1 166.1h.8M153.4 161.1h.8M159.4 151.5h.8M156.7 157.2h.8M154.8 148.2h.8M169.0 147.5h.8M159.1 144.0h.8M148.6 150.1h.8M164.0 163.1h.8M150.3 145.9h.8M157.6 164.7h.8M159.5 143.4h.8M157.5 139.4h.8M160.5 142.0h.8M151.0 137.1h.8M152.0 149.0h.8M164.7 150.7h.8M156.2 149.8h.8M158.8 151.0h.8M148.8 152.4h.8M162.7 139.0h.8M143.0 162.5h.8M157.0 146.6h.8M146.2 152.1h.8M166.4 148.8h.8M159.5 176.7h.8M163.5 153.6h.8M149.0 166.6h.8M165.9 151.7h.8M164.4 160.3h.8M159.1 162.3h.8M156.5 144.8h.8M155.6 150.6h.8M167.6 155.7h.8M162.4 147.2h.8M164.0 149.4h.8M146.3 160.9h.8M160.0 168.5h.8M147.7 133.9h.8M158.4 141.9h.8M168.6 159.8h.8M148.9 136.1h.8M169.9 165.4h.8M166.2 169.6h.8M162.3 147.9h.8M159.9 155.2h.8M153.4 153.7h.8M136.2 143.7h.8M156.3 132.8h.8M159.6 148.5h.8M165.4 152.9h.8M142.5 143.7h.8M155.2 164.3h.8M141.6 153.0h.8M167.7 160.5h.8M150.1 153.3h.8M161.2 165.1h.8M154.5 152.3h.8M156.7 143.6h.8M153.3 161.7h.8M154.6 149.6h.8M152.2 146.8h.8M163.8 157.7h.8M161.4 156.6h.8M158.5 161.1h.8M152.4 151.4h.8M149.1 166.9h.8M164.0 155.6h.8M161.5 161.6h.8M163.8 160.7h.8M158.1 153.8h.8M166.0 161.8h.8M161.2 165.9h.8M152.1 155.1h.8M149.4 165.7h.8M163.5 155.2h.8M154.7 153.6h.8M137.7 162.8h.8M163.1 160.2h.8M151.8 151.1h.8M154.2 154.1h.8M152.8 146.1h.8M159.9 158.8h.8M168.2 167.0h.8M155.4 161.0h.8M165.1 158.4h.8M142.1 137.0h.8M152.2 171.6h.8M166.0 153.4h.8M158.9 157.3h.8M158.1 162.0h.8M152.0 150.3h.8M156.3 142.2h.8M148.2 146.7h.8M148.2 163.0h.8M166.1 159.4h.8M149.5 157.9h.8M158.9 141.2h.8M166.9 159.0h.8M163.4 134.0h.8M150.5 175.2h.8M150.8 171.0h.8M161.5 149.1h.8M151.8 146.0h.8M154.3 131.8h.8M169.1 179.5h.8M159.5 155.3h.8M153.2 153.2h.8M153.7 165.7h.8M151.8 153.3h.8M169.6 168.7h.8M152.7 137.3h.8M155.3 155.0h.8M164.1 149.9h.8M155.1 150.5h.8M148.8 164.5h.8M154.3 156.4h.8M152.3 163.0h.8M158.4 154.4h.8M169.7 149.5h.8M167.0 157.6h.8M165.1 149.8h.8M151.8 151.8h.8M165.0 153.6h.8M164.2 170.1h.8M145.6 144.2h.8M153.2 148.1h.8M162.2 143.7h.8M151.0 153.4h.8M157.5 155.7h.8M157.7 139.1h.8M153.6 159.3h.8M160.3 158.7h.8M149.0 148.0h.8M143.8 152.0h.8M150.1 161.0h.8M155.3 166.0h.8M161.2 142.7h.8M153.7 130.9h.8M152.5 177.5h.8M162.9 167.4h.8M156.0 151.9h.8M159.0 150.2h.8M161.8 161.0h.8M147.1 134.3h.8M156.0 152.7h.8M146.3 161.5h.8M168.5 159.9h.8M146.6 156.6h.8M150.2 164.4h.8M160.4 158.2h.8M164.7 160.7h.8M158.9 163.0h.8M163.9 128.6h.8M166.3 150.0h.8M149.7 171.8h.8M156.5 162.2h.8M162.4 160.6h.8M166.3 158.1h.8M168.0 154.8h.8M150.7 168.8h.8M158.3 162.3h.8M146.3 129.7h.8M158.8 157.3h.8M169.9 142.3h.8M151.0 157.3h.8M167.4 157.5h.8M162.0 162.9h.8M155.6 139.0h.8M144.1 151.7h.8M150.5 155.9h.8M156.5 132.0h.8M165.6 160.9h.8M151.0 141.8h.8M169.3 157.3h.8M155.8 145.1h.8M152.4 170.1h.8M152.0 154.6h.8M154.6 153.1h.8M148.1 167.1h.8M158.5 162.6h.8M149.9 152.9h.8M154.3 140.9h.8M152.5 160.1h.8M154.1 148.3h.8M166.6 170.7h.8M157.0 181.5h.8M154.8 150.7h.8M145.1 145.0h.8M151.8 178.7h.8M148.8 154.0h.8M159.0 159.4h.8M139.8 152.7h.8M148.2 153.5h.8M142.2 150.4h.8M155.5 143.2h.8M158.9 158.5h.8M164.1 143.0h.8M147.2 154.8h.8M158.1 148.8h.8M144.5 154.5h.8M166.4 145.4h.8M162.0 142.2h.8M163.0 141.0h.8M166.0 153.9h.8M166.5 150.5h.8M146.7 145.0h.8M149.7 157.2h.8M152.5 160.2h.8M156.7 149.8h.8M153.4 151.9h.8M161.5 167.6h.8M153.8 155.1h.8M165.9 168.4h.8M150.7 142.8h.8M153.1 166.9h.8M154.1 164.1h.8M156.4 160.6h.8M161.2 153.5h.8M152.5 155.4h.8M163.9 152.3h.8M147.0 153.6h.8M164.7 142.4h.8M148.8 162.1h.8M146.7 166.4h.8M166.7 148.0h.8M159.0 166.3h.8M165.0 134.8h.8M146.0 155.7h.8M166.7 170.3h.8M160.9 153.6h.8M150.8 161.8h.8M157.9 174.2h.8M151.4 154.1h.8M166.6 157.6h.8M162.1 149.0h.8M139.4 162.1h.8M159.6 136.7h.8M169.4 178.7h.8M169.0 144.7h.8M158.9 156.5h.8M160.7 149.1h.8M161.6 156.6h.8M148.6 145.1h.8M161.5 175.3h.8M152.7 167.2h.8M167.0 147.9h.8M156.6 158.3h.8M145.5 138.2h.8M153.0 168.0h.8M156.0 170.7h.8M144.3 151.8h.8M160.7 166.1h.8M164.1 165.6h.8M163.6 156.7h.8M170.4 163.1h.8M152.8 163.7h.8M162.9 157.0h.8M162.7 152.4h.8M154.8 139.2h.8M154.7 168.9h.8M137.4 151.2h.8M162.9 161.5h.8M145.4 154.6h.8M159.9 165.7h.8M158.7 148.6h.8M162.5 156.2h.8M149.0 155.3h.8M160.2 154.3h.8M154.4 154.8h.8M158.6 162.1h.8M149.1 150.1h.8M162.9 150.7h.8M150.6 142.6h.8M146.5 145.5h.8M157.4 161.3h.8M159.1 156.6h.8M162.8 154.3h.8M147.6 156.0h.8M159.1 175.6h.8M158.0 175.9h.8M156.7 141.7h.8M155.7 152.5h.8M157.1 151.8h.8M156.6 154.7h.8M157.6 165.7h.8M157.9 164.3h.8M150.2 157.4h.8M157.1 156.9h.8M148.4 148.8h.8M145.5 159.3h.8M167.9 154.8h.8M146.7 151.6h.8M166.5 139.1h.8M155.2 156.1h.8M154.1 157.6h.8M161.3 158.6h.8M165.0 165.3h.8M145.3 144.6h.8M156.1 156.0h.8M159.4 143.9h.8M147.8 172.3h.8M159.0 158.5h.8M159.7 152.8h.8M156.9 168.7h.8M157.0 141.0h.8M148.6 142.3h.8" stroke="#555" stroke-width=".8" opacity="0.5" fill="none"/>
<path d="M162.4 155.3h.8M116.7 158.5h.8M112.2 163.5h.8M141.8 161.8h.8M162.2 157.0h.8M157.7 147.0h.8M158.2 174.3h.8M123.1 166.2h.8M119.5 160.9h.8M149.9 155.9h.8M117.8 159.3h.8M138.2 163.1h.8M141.0 146.6h.8M161.3 163.8h.8M109.9 158.9h.8M160.5 176.5h.8M136.7 155.8h.8M164.4 159.6h.8M139.1 147.7h.8M118.8 163.2h.8M136.3 157.2h.8M116.5 150.8h.8M154.7 174.6h.8M133.2 153.4h.8M108.2 156.6h.8M160.3 147.2h.8M133.7 169.7h.8M144.8 163.9h.8M142.9 159.5h.8M143.5 161.5h.8M136.0 158.6h.8M132.4 178.0h.8M139.7 168.7h.8M121.7 171.6h.8M160.9 161.3h.8M140.7 155.1h.8M119.0 164.4h.8M156.7 168.8h.8M139.0 156.8h.8M112.2 152.5h.8M166.9 149.8h.8M137.6 156.3h.8M125.8 150.1h.8M131.5 163.9h.8M134.0 162.6h.8M126.0 152.0h.8M155.7 159.1h.8M134.5 164.2h.8M159.1 155.7h.8M141.0 158.3h.8M166.6 149.6h.8M125.0 159.5h.8M149.2 168.8h.8M150.3 160.4h.8M124.2 161.9h.8M138.6 170.1h.8M134.5 149.0h.8M144.7 155.4h.8M142.0 163.1h.8M146.5 166.5h.8M127.6 159.7h.8M149.2 155.5h.8M137.8 156.1h.8M159.9 159.9h.8M120.1 161.9h.8M124.9 157.6h.8M114.5 158.3h.8M155.3 165.5h.8M151.4 153.3h.8M139.0 159.7h.8M134.6 157.7h.8M109.5 174.7h.8M124.5 161.1h.8M143.2 151.4h.8M127.2 162.9h.8M138.8 164.1h.8M119.2 159.4h.8M120.5 160.2h.8M126.3 156.0h.8M151.2 168.7h.8M138.1 161.9h.8M120.4 156.2h.8M130.9 163.2h.8M162.5 170.9h.8M151.2 157.4h.8M154.5 148.7h.8M112.6 161.3h.8M127.5 165.7h.8M121.7 145.7h.8M136.3 164.6h.8M109.9 160.6h.8M141.4 163.3h.8M155.6 162.2h.8M125.8 149.8h.8M152.0 157.9h.8M157.9 169.5h.8M127.3 155.7h.8M164.9 161.7h.8M117.3 158.7h.8M131.6 169.7h.8M114.2 154.9h.8M155.8 166.7h.8M144.0 156.1h.8M120.9 139.9h.8M153.2 162.2h.8M140.9 150.0h.8M130.9 169.5h.8M124.2 166.5h.8M159.0 166.3h.8M136.8 156.1h.8M130.7 149.4h.8M125.8 154.0h.8M162.4 171.1h.8M145.2 147.9h.8M136.1 156.0h.8M163.7 152.3h.8M147.7 159.6h.8M156.4 155.5h.8M136.2 158.3h.8M130.2 168.6h.8M155.8 158.1h.8M158.5 172.5h.8M162.0 163.6h.8M120.2 152.9h.8M155.5 159.3h.8M134.0 169.9h.8M154.1 171.4h.8M133.8 152.4h.8M137.5 167.0h.8M118.3 159.8h.8M151.9 161.8h.8M149.0 140.7h.8M150.2 167.7h.8M121.5 162.6h.8M139.3 159.9h.8M114.7 154.0h.8M126.1 160.5h.8M147.8 156.2h.8M140.3 157.2h.8M144.2 153.3h.8M135.9 155.9h.8M155.4 153.9h.8M116.8 156.7h.8M161.7 163.1h.8M131.3 159.3h.8M123.7 153.6h.8M145.8 154.7h.8M122.4 157.3h.8M140.7 164.3h.8M129.9 161.7h.8M148.0 173.7h.8M142.4 142.7h.8M145.9 151.9h.8M147.0 161.2h.8M118.6 141.7h.8M149.9 153.6h.8M160.6 148.9h.8M113.7 148.4h.8M144.6 171.5h.8M143.5 150.5h.8M151.1 148.6h.8M140.6 171.8h.8M138.2 148.6h.8M139.5 162.8h.8M108.5 163.7h.8M140.9 142.0h.8M149.7 151.6h.8M130.1 169.0h.8M152.4 155.5h.8M154.2 175.8h.8M170.4 155.7h.8M117.1 152.3h.8M136.8 173.9h.8M133.4 152.2h.8M147.8 160.5h.8M162.7 151.4h.8M154.4 151.8h.8M130.2 167.4h.8M128.4 163.8h.8M130.6 167.4h.8M146.1 163.7h.8M154.9 161.6h.8M118.8 159.5h.8M146.4 151.0h.8M129.9 170.0h.8M132.9 149.1h.8M130.0 163.2h.8M133.6 163.1h.8M154.0 177.4h.8M158.4 175.9h.8M144.2 154.4h.8M146.3 158.3h.8M125.7 174.5h.8M112.0 156.6h.8M141.7 172.0h.8M119.8 167.7h.8M144.6 154.0h.8M140.6 164.5h.8M146.2 156.1h.8M147.1 162.2h.8M118.6 149.5h.8M124.3 159.3h.8M138.2 165.8h.8M134.3 159.4h.8M163.7 150.1h.8M160.0 153.5h.8M164.9 162.5h.8M126.2 173.1h.8M108.3 153.9h.8M142.0 166.0h.8M141.9 167.5h.8M118.3 158.1h.8M168.2 157.6h.8M128.6 155.3h.8M139.7 158.1h.8M170.5 170.4h.8M137.7 167.2h.8M125.4 165.0h.8M159.9 156.3h.8M134.8 162.4h.8M161.9 156.2h.8M154.3 159.7h.8M127.8 168.9h.8M169.3 150.3h.8M143.6 157.4h.8M116.2 160.8h.8M138.7 155.2h.8M113.2 166.1h.8M161.9 160.5h.8M137.9 156.8h.8M133.5 159.8h.8M153.9 172.3h.8M148.8 158.3h.8M129.1 147.5h.8M168.6 157.2h.8M137.2 149.1h.8M148.0 159.3h.8M123.9 163.6h.8M135.9 164.7h.8M126.1 157.6h.8M170.5 158.0h.8M143.4 152.8h.8M114.4 157.6h.8M137.4 150.5h.8M129.2 162.7h.8M143.9 173.3h.8M124.7 150.7h.8M148.3 157.0h.8M152.0 154.1h.8M130.5 164.8h.8M111.6 162.0h.8M153.1 164.1h.8M165.7 148.2h.8M127.2 150.1h.8M162.0 167.7h.8M150.9 153.3h.8M149.8 163.7h.8M137.1 164.8h.8M136.6 152.0h.8M132.1 176.9h.8M157.0 169.0h.8M149.1 159.1h.8M133.1 158.1h.8M134.0 157.9h.8M115.0 156.5h.8M142.0 152.1h.8M168.7 172.6h.8M121.8 150.7h.8M125.7 158.5h.8M108.6 162.1h.8M119.0 161.5h.8M133.5 165.9h.8M127.8 165.6h.8M130.8 150.0h.8M158.8 160.3h.8M136.6 175.5h.8M122.8 150.4h.8M146.6 149.6h.8M137.2 146.1h.8M167.3 165.1h.8M148.6 154.9h.8M111.0 171.0h.8M153.3 157.5h.8M116.9 160.1h.8M128.2 157.4h.8M110.9 170.6h.8M142.9 175.8h.8M147.9 159.3h.8M153.4 156.7h.8M156.3 166.3h.8M166.9 159.9h.8M136.3 170.5h.8M136.8 155.3h.8M160.8 156.7h.8M157.7 169.2h.8M123.5 159.8h.8M142.7 159.0h.8M134.2 170.7h.8M142.6 161.4h.8M140.8 155.5h.8M147.2 167.4h.8M119.4 164.0h.8M170.1 166.5h.8M168.4 160.9h.8M129.5 156.0h.8M137.6 178.1h.8M137.9 153.6h.8M166.6 168.6h.8M148.9 163.6h.8M131.3 150.2h.8M137.3 156.6h.8M110.2 179.8h.8M133.9 152.8h.8M136.2 163.2h.8M141.7 171.1h.8M137.4 172.4h.8M139.1 160.7h.8M144.7 160.5h.8M122.7 146.6h.8M129.0 158.4h.8M142.2 167.6h.8M150.2 153.1h.8M147.5 153.8h.8M113.7 153.9h.8M130.5 147.7h.8M135.6 154.2h.8M160.0 149.6h.8M148.4 154.5h.8M125.7 164.5h.8M153.1 151.8h.8M113.6 147.9h.8M123.5 167.1h.8M122.8 160.5h.8M113.4 159.3h.8M162.7 165.2h.8M132.0 164.3h.8M121.5 146.5h.8M125.2 146.0h.8M149.2 167.3h.8M141.0 163.0h.8M134.4 156.2h.8M152.1 151.8h.8M123.4 174.9h.8M132.9 148.6h.8M149.3 151.2h.8M118.8 169.0h.8M155.1 171.4h.8M155.5 157.6h.8M124.2 170.4h.8M162.0 157.3h.8M117.3 163.1h.8M170.5 169.9h.8M120.7 149.7h.8M145.1 156.4h.8M131.6 171.9h.8M151.2 169.1h.8M123.1 159.5h.8M163.0 165.0h.8M165.7 168.4h.8M147.2 156.7h.8M124.5 151.2h.8M126.2 156.1h.8M140.8 179.1h.8M141.1 156.3h.8M144.7 167.5h.8M130.6 161.6h.8M164.6 152.4h.8M132.6 167.4h.8M147.2 165.2h.8M140.4 176.6h.8M132.5 159.2h.8M153.9 155.8h.8M139.4 145.7h.8M153.8 169.8h.8M117.9 167.4h.8M111.3 158.5h.8M140.5 152.1h.8M140.5 147.9h.8M138.9 172.2h.8M128.8 157.9h.8M116.9 156.2h.8M126.8 143.8h.8M160.0 173.9h.8M141.6 159.2h.8M131.0 178.3h.8M167.3 158.9h.8M115.1 159.7h.8M126.6 164.4h.8M137.4 151.9h.8M134.8 158.4h.8M134.8 173.1h.8M152.2 174.2h.8M112.8 162.0h.8M136.6 158.2h.8M108.1 158.9h.8M152.1 167.0h.8M126.9 158.9h.8M142.9 154.0h.8M114.8 161.9h.8M158.6 172.3h.8M151.7 160.0h.8M144.6 148.5h.8M130.8 143.6h.8M128.9 146.5h.8M153.3 178.4h.8M135.0 152.5h.8M144.1 154.2h.8M152.6 148.7h.8M165.9 172.7h.8M136.6 151.3h.8M146.5 151.3h.8M144.6 158.6h.8M166.8 165.8h.8M116.1 160.1h.8M127.8 170.9h.8M162.3 159.4h.8M143.6 152.0h.8M116.4 162.0h.8M149.3 153.7h.8M132.3 163.9h.8M153.5 162.8h.8M123.6 157.6h.8M112.1 165.2h.8M121.4 161.5h.8M159.7 173.1h.8M163.9 161.5h.8M118.8 168.1h.8M130.3 158.7h.8M148.2 158.7h.8M158.3 162.3h.8M124.3 150.8h.8M163.7 165.8h.8M130.7 148.2h.8M124.7 156.1h.8M149.1 161.7h.8M155.2 166.8h.8M124.7 152.1h.8M131.4 153.4h.8M150.5 169.8h.8M148.9 153.1h.8M164.4 174.8h.8M162.6 167.4h.8M123.1 165.2h.8M150.8 156.6h.8M157.7 143.6h.8M170.5 139.7h.8M141.8 156.8h.8" stroke="#555" stroke-width=".8" opacity="0.5" fill="none"/>
<path d="M136.1 151.8h.8M134.9 160.1h.8M170.1 141.5h.8M145.2 148.6h.8M158.6 137.3h.8M159.0 133.0h.8M121.2 143.6h.8M125.5 145.4h.8M126.2 152.7h.8M149.1 137.6h.8M120.7 143.3h.8M123.8 130.3h.8M118.6 173.7h.8M120.3 149.3h.8M169.0 152.6h.8M123.2 133.0h.8M155.1 156.5h.8M135.4 147.8h.8M164.0 149.7h.8M163.4 158.5h.8M146.0 168.2h.8M131.6 157.3h.8M120.1 162.3h.8M122.8 170.9h.8M147.0 169.8h.8M154.5 130.4h.8M140.8 152.0h.8M129.6 158.6h.8M154.6 145.4h.8M130.9 135.4h.8M141.0 152.8h.8M143.8 149.7h.8M137.6 145.8h.8M139.0 138.8h.8M128.5 169.1h.8M162.1 163.3h.8M137.1 154.1h.8M144.2 143.0h.8M121.0 159.1h.8M151.6 132.5h.8M122.6 147.4h.8M130.6 128.5h.8M148.5 135.0h.8M141.8 135.0h.8M155.3 160.5h.8M150.8 149.1h.8M158.6 146.8h.8M119.3 168.7h.8M134.1 159.8h.8M126.3 130.0h.8M158.9 140.3h.8M138.8 142.9h.8M150.5 139.0h.8M139.3 144.9h.8M121.1 154.7h.8M115.9 148.3h.8M135.0 149.9h.8M150.3 168.1h.8M134.4 132.6h.8M139.1 138.9h.8M117.8 149.0h.8M128.7 158.8h.8M158.6 157.9h.8M124.8 135.1h.8M126.2 136.8h.8M127.8 155.2h.8M146.6 145.0h.8M152.3 156.2h.8M151.4 163.1h.8M169.5 143.0h.8M117.0 142.7h.8M122.4 156.4h.8M135.7 136.6h.8M143.3 154.6h.8M165.4 149.7h.8M134.7 140.0h.8M120.0 140.8h.8M147.0 151.9h.8M132.8 162.4h.8M117.6 153.0h.8M129.2 160.1h.8M148.7 154.6h.8M152.1 159.5h.8M120.6 136.5h.8M129.2 162.8h.8M133.4 152.2h.8M124.3 151.2h.8M155.0 129.6h.8M161.8 142.9h.8M142.7 129.7h.8M147.2 149.6h.8M134.8 150.0h.8M149.5 168.7h.8M118.2 161.4h.8M135.2 137.5h.8M151.0 150.9h.8M138.9 155.9h.8M109.4 147.8h.8M124.4 146.1h.8M143.6 145.5h.8M146.8 135.1h.8M140.1 146.0h.8M116.8 149.1h.8M112.0 169.3h.8M155.0 154.0h.8M145.2 144.1h.8M162.3 133.3h.8M150.1 159.8h.8M142.8 149.2h.8M114.9 139.1h.8M145.6 143.7h.8M152.8 135.2h.8M139.2 137.2h.8M107.9 148.8h.8M137.2 149.8h.8M130.0 164.2h.8M115.1 145.5h.8M168.8 157.9h.8M121.5 142.0h.8M141.1 140.6h.8M144.2 171.5h.8M161.7 173.2h.8M150.4 131.7h.8M148.9 167.9h.8M139.7 142.7h.8M157.9 131.0h.8M134.1 145.5h.8M141.5 151.3h.8M161.6 149.1h.8M170.6 150.2h.8M142.7 134.6h.8M132.9 141.4h.8M165.9 143.6h.8M139.0 152.3h.8M138.7 156.1h.8M128.2 138.2h.8M134.5 158.9h.8M141.5 140.5h.8M147.4 144.4h.8M130.2 144.0h.8M146.4 167.0h.8M154.6 158.6h.8M119.1 149.4h.8M168.4 155.8h.8M156.6 149.2h.8M154.4 135.6h.8M170.2 163.5h.8M155.8 158.6h.8M115.7 145.2h.8M139.9 155.8h.8M114.6 148.5h.8M164.3 136.4h.8M129.6 136.7h.8M125.0 145.8h.8M161.8 162.0h.8M169.0 148.1h.8M133.7 148.1h.8M149.2 172.0h.8M112.2 136.4h.8M109.3 162.8h.8M127.2 149.4h.8M124.1 133.0h.8M126.2 150.5h.8M130.3 141.7h.8M141.5 140.3h.8M138.7 133.4h.8M109.3 131.2h.8M118.0 155.9h.8M108.8 131.5h.8M162.1 135.8h.8M131.9 144.0h.8M130.5 152.8h.8M141.9 160.3h.8M134.2 150.4h.8M122.4 160.8h.8M114.1 130.2h.8M125.1 139.1h.8M119.6 148.5h.8M120.9 148.0h.8M156.1 162.9h.8M154.3 138.8h.8M145.3 166.7h.8M156.9 174.6h.8M130.4 148.5h.8M136.9 156.9h.8M162.7 146.4h.8M152.5 151.7h.8M143.3 130.7h.8M144.0 157.4h.8M128.5 127.8h.8M159.6 166.5h.8M135.3 159.5h.8M112.5 162.3h.8M134.0 161.2h.8M116.5 150.6h.8M107.6 153.5h.8M128.3 156.2h.8M147.8 156.4h.8M132.7 139.4h.8M134.9 152.0h.8M123.6 153.5h.8M140.0 147.3h.8M166.8 158.3h.8M144.2 136.2h.8M122.6 150.7h.8M164.5 140.9h.8M153.0 153.3h.8M125.9 158.2h.8M129.0 167.2h.8M130.5 131.5h.8M148.5 131.3h.8M148.4 149.1h.8M144.5 148.4h.8M148.5 157.8h.8M117.6 153.2h.8M110.4 143.3h.8M116.3 162.1h.8M147.5 141.5h.8M134.0 134.6h.8M152.9 136.6h.8M151.3 162.3h.8" stroke="#666" stroke-width=".8" opacity="0.4" fill="none"/>
<path d="M120.9 170.8h.8M139.6 166.3h.8M128.1 136.5h.8M131.6 149.7h.8M134.7 140.9h.8M149.5 159.5h.8M136.7 155.3h.8M121.4 160.5h.8M130.0 136.3h.8M127.4 150.0h.8M143.0 168.7h.8M127.7 161.9h.8M134.1 160.6h.8M133.9 147.2h.8M125.2 158.0h.8M128.4 145.1h.8M138.5 174.7h.8M144.7 147.3h.8M145.8 135.3h.8M138.4 155.4h.8M132.3 156.1h.8M126.1 144.0h.8M123.4 141.5h.8M125.9 146.5h.8M134.3 135.8h.8M135.8 152.2h.8M130.4 149.3h.8M138.8 136.2h.8M134.2 150.0h.8M136.4 157.9h.8M146.8 151.1h.8M139.3 139.4h.8M124.8 144.0h.8M120.1 159.6h.8M131.8 143.6h.8M134.3 166.5h.8M128.8 153.9h.8M142.7 169.5h.8M139.4 150.0h.8M136.7 153.1h.8M128.6 141.9h.8M135.2 136.7h.8M126.9 142.9h.8M139.5 143.7h.8M130.6 143.6h.8M134.4 161.1h.8M149.1 164.6h.8M135.4 141.9h.8M141.9 128.5h.8M144.4 153.0h.8M128.1 159.7h.8M137.5 158.1h.8M131.7 135.6h.8M140.7 156.7h.8M129.4 154.3h.8M144.0 153.9h.8M121.6 147.3h.8M140.8 163.2h.8M130.0 155.2h.8M129.7 157.6h.8M135.0 160.3h.8M134.5 151.6h.8M134.1 157.7h.8M139.2 132.6h.8M131.5 162.3h.8M128.6 157.5h.8M136.7 158.8h.8M137.2 148.6h.8M142.2 140.7h.8M140.6 145.1h.8M132.5 162.4h.8M131.6 153.2h.8M135.2 143.9h.8M134.2 131.4h.8M129.5 149.9h.8M138.3 150.1h.8M125.2 150.6h.8M144.6 153.6h.8M136.6 152.7h.8M133.1 144.4h.8M133.8 153.9h.8M127.5 162.0h.8M135.0 167.7h.8M134.3 161.5h.8M125.6 157.9h.8M132.8 149.8h.8M126.6 163.6h.8M135.3 162.9h.8M141.0 143.9h.8M121.9 153.2h.8M132.0 141.0h.8M132.4 148.5h.8M128.4 152.9h.8M130.1 152.9h.8M141.7 160.3h.8M136.4 166.0h.8M134.5 154.3h.8M134.0 136.4h.8M134.1 140.3h.8M144.1 155.9h.8M128.9 162.3h.8M134.3 144.1h.8M141.0 159.9h.8M138.1 165.7h.8M124.7 142.7h.8M131.9 154.0h.8M127.7 147.4h.8M137.5 176.4h.8M138.2 138.9h.8M140.8 157.0h.8M136.1 147.0h.8M127.5 143.3h.8M146.2 162.3h.8M127.2 152.5h.8M126.0 146.5h.8M135.3 171.4h.8M124.0 168.5h.8M139.9 139.8h.8M128.1 165.5h.8M147.2 161.2h.8M135.7 158.7h.8M129.6 146.9h.8M127.9 150.7h.8M131.0 154.3h.8M130.9 164.5h.8M126.1 161.9h.8M135.3 164.8h.8M133.4 170.4h.8M131.3 170.6h.8M127.7 159.3h.8M136.0 150.9h.8M135.8 152.0h.8M136.3 156.4h.8M125.2 152.9h.8M138.4 143.1h.8M137.1 158.5h.8M140.2 153.4h.8M128.1 147.3h.8M130.3 163.2h.8M141.4 157.6h.8M130.4 163.9h.8M126.1 165.3h.8M131.6 154.4h.8M127.3 162.4h.8M137.6 166.1h.8M131.2 174.9h.8M118.0 154.3h.8M136.7 160.5h.8M129.6 155.2h.8M130.3 159.2h.8M135.1 144.9h.8M139.8 136.7h.8M131.6 159.0h.8M120.8 141.5h.8M145.1 163.4h.8M126.9 152.8h.8M135.8 181.6h.8M134.7 160.0h.8M135.7 148.0h.8M133.5 151.8h.8M132.2 152.9h.8M129.3 143.8h.8M135.1 159.6h.8M144.5 175.0h.8M132.1 152.9h.8M136.2 158.7h.8M130.8 148.3h.8M152.7 153.0h.8M123.3 147.0h.8M137.2 153.3h.8M127.5 146.1h.8M149.0 140.3h.8M141.3 154.6h.8M142.6 155.5h.8M140.0 150.9h.8M131.8 164.2h.8M127.3 136.5h.8M137.8 155.5h.8M130.6 157.3h.8M134.0 143.5h.8M132.1 161.3h.8M127.5 177.3h.8M132.7 142.0h.8M142.3 154.5h.8M136.2 170.7h.8M134.1 152.4h.8M146.7 154.3h.8M130.0 151.6h.8M138.1 166.2h.8M130.0 146.5h.8M136.1 158.6h.8M132.5 148.8h.8M124.4 161.0h.8M133.0 137.6h.8M139.9 153.6h.8M126.5 161.1h.8M141.5 159.7h.8M150.8 149.1h.8M127.7 156.9h.8M136.1 163.8h.8M133.4 143.1h.8M128.2 165.7h.8M134.0 152.5h.8M140.4 145.2h.8M138.3 137.9h.8M134.3 148.0h.8M139.4 161.6h.8M134.1 153.9h.8M123.0 147.8h.8M137.5 177.1h.8M145.2 170.3h.8M133.5 144.5h.8M126.3 150.3h.8M126.1 165.1h.8M131.3 136.5h.8M127.0 170.0h.8M139.2 157.0h.8M128.4 145.4h.8M143.2 162.4h.8M137.3 140.2h.8M138.3 170.1h.8M130.0 134.9h.8M126.4 151.5h.8M124.6 156.2h.8M132.2 158.4h.8M130.9 154.0h.8M138.1 169.9h.8M146.1 155.6h.8M128.4 133.7h.8M130.7 141.0h.8M135.5 158.1h.8M141.5 138.3h.8M138.4 177.8h.8M128.1 138.1h.8M134.5 144.1h.8M129.9 157.6h.8M138.5 164.0h.8M125.6 166.4h.8M132.8 157.4h.8M141.3 155.9h.8M147.4 150.2h.8M127.8 138.8h.8M145.1 155.8h.8M130.2 149.1h.8M143.7 156.1h.8M141.0 158.0h.8M143.0 155.5h.8M149.8 158.7h.8M134.2 149.7h.8M150.2 154.5h.8M139.3 137.5h.8M122.3 155.5h.8M133.1 134.4h.8M133.5 157.1h.8M125.4 155.3h.8M140.8 146.3h.8M134.3 155.3h.8M141.4 174.4h.8M143.4 153.4h.8M140.9 148.4h.8M140.0 142.7h.8M128.7 158.4h.8M138.2 155.4h.8M143.1 159.1h.8M133.9 152.8h.8M132.3 154.3h.8M129.5 147.7h.8M130.9 149.6h.8M142.3 145.6h.8M133.7 134.0h.8M132.1 154.3h.8M126.2 146.9h.8M134.1 140.2h.8M129.7 152.0h.8M135.2 157.2h.8M128.1 166.4h.8M140.5 157.2h.8M131.7 150.4h.8M148.7 171.0h.8M134.4 147.7h.8M141.0 151.9h.8M138.1 172.4h.8M130.3 157.7h.8M116.8 149.4h.8M134.1 166.5h.8M132.6 152.5h.8M138.4 158.2h.8M134.4 137.5h.8M141.5 161.0h.8M135.3 147.3h.8M125.6 152.3h.8M130.3 149.1h.8M130.9 141.0h.8M138.4 151.6h.8M134.8 158.2h.8M130.6 144.1h.8M124.5 149.0h.8M139.0 165.1h.8M141.7 162.8h.8M136.5 148.3h.8" stroke="#fff" stroke-width=".8" opacity="0.4" fill="none"/>
<path d="M154.3 152.1h.8M156.7 144.7h.8M160.8 163.4h.8M154.0 137.4h.8M155.1 169.6h.8M149.5 164.6h.8M152.5 154.4h.8M158.7 156.3h.8M163.7 152.0h.8M150.4 137.1h.8M147.4 166.1h.8M159.3 169.7h.8M150.1 147.7h.8M159.4 150.9h.8M148.1 165.0h.8M156.5 150.6h.8M156.6 156.8h.8M155.8 155.1h.8M167.7 147.7h.8M160.0 151.5h.8M154.0 158.0h.8M149.6 163.0h.8M168.3 131.3h.8M150.0 169.8h.8M166.7 135.7h.8M158.1 172.3h.8M167.8 160.2h.8M163.2 151.0h.8M151.7 165.9h.8M151.3 167.1h.8M160.7 157.8h.8M162.9 157.5h.8M152.3 153.1h.8M148.0 172.0h.8M155.0 132.8h.8M163.9 150.9h.8M163.0 166.4h.8M159.5 149.1h.8M155.7 157.9h.8M161.0 147.5h.8M146.1 160.2h.8M166.1 158.4h.8M149.5 172.9h.8M168.7 161.4h.8M152.4 152.7h.8M168.4 135.4h.8M146.1 177.4h.8M146.8 148.4h.8M153.3 158.7h.8M169.4 158.5h.8M149.5 158.1h.8M143.0 159.5h.8M164.1 172.8h.8M150.4 154.9h.8M147.1 166.0h.8M150.2 152.3h.8M158.4 166.1h.8M151.2 149.8h.8M150.3 162.2h.8M145.5 156.6h.8M156.4 164.2h.8M157.8 158.9h.8M159.6 145.7h.8M158.0 160.4h.8M146.2 138.6h.8M154.3 156.2h.8M157.5 145.8h.8M159.2 137.1h.8M165.5 155.1h.8M163.4 138.2h.8M157.1 174.7h.8M153.3 166.3h.8M152.0 154.6h.8M152.3 154.4h.8M150.4 187.1h.8M148.2 165.4h.8M154.4 165.8h.8M155.0 153.4h.8M153.1 145.3h.8M157.4 150.8h.8M157.8 161.0h.8M152.3 174.1h.8M159.8 147.9h.8M155.7 162.1h.8M159.3 153.3h.8M148.4 132.7h.8M151.4 170.6h.8M154.1 162.5h.8M155.6 160.5h.8M156.8 155.6h.8M166.9 140.9h.8M163.7 149.7h.8M155.7 154.4h.8M157.4 171.3h.8M161.7 148.5h.8M163.6 140.7h.8M161.2 149.8h.8M138.6 148.4h.8M163.6 150.2h.8M159.7 155.4h.8M158.9 165.2h.8M155.8 133.4h.8M154.7 168.1h.8M141.2 159.2h.8M158.7 169.1h.8M149.3 140.5h.8M160.7 137.6h.8M165.3 163.8h.8M159.2 166.1h.8M170.6 165.5h.8M154.5 167.9h.8M153.2 139.2h.8M154.3 152.7h.8M153.5 175.1h.8M142.9 138.3h.8M147.9 160.9h.8M168.7 146.4h.8M162.4 157.4h.8M136.0 149.9h.8M160.3 163.3h.8M159.4 143.1h.8M164.4 153.8h.8M153.6 135.7h.8M144.3 162.1h.8M157.4 159.8h.8M145.4 160.1h.8M164.1 135.3h.8M164.0 138.8h.8M165.1 149.0h.8M160.7 139.3h.8M163.9 161.4h.8M166.7 170.4h.8M163.4 154.1h.8M157.1 154.1h.8M150.8 154.6h.8M152.8 146.8h.8M161.3 162.1h.8M162.7 148.7h.8M163.1 150.5h.8M160.6 153.4h.8M144.7 170.2h.8M160.3 173.8h.8M168.9 155.7h.8M157.4 151.9h.8M170.4 139.8h.8M153.2 145.3h.8M155.6 144.9h.8M156.8 156.7h.8M149.6 164.1h.8M155.7 153.6h.8M151.2 165.2h.8M159.4 137.6h.8M162.2 154.4h.8M141.8 145.3h.8M151.1 150.7h.8M157.0 144.7h.8M164.1 147.7h.8M145.8 157.1h.8M161.4 155.2h.8M150.8 155.7h.8M160.7 134.0h.8M169.8 158.3h.8M162.5 149.1h.8M147.2 157.2h.8M169.1 153.1h.8M146.1 159.1h.8M162.8 156.6h.8M157.2 164.1h.8M157.0 172.0h.8M154.4 135.0h.8M159.3 160.2h.8M156.4 159.7h.8M148.2 151.3h.8" stroke="#fff" stroke-width=".8" opacity="0.4" fill="none"/>
</g>
<rect x="107" y="125.8" width="64.19999999999999" height="66.8" fill="none" stroke="#444" stroke-width="1"/>
<line x1="107" y1="192.6" x2="171.2" y2="192.6" stroke="#222" stroke-width="1.3"/>
<line x1="141.5" y1="125.8" x2="141.5" y2="192.6" stroke="#444" stroke-width="1.1"/>
<line x1="107" y1="170.8" x2="171.2" y2="170.8" stroke="#3a3a3a" stroke-width="1.2"/>
<text x="138.4" y="123.3" font-family='"Liberation Serif", serif' font-size="9.6" text-anchor="middle" font-weight="normal" fill="#000" stroke="#000" stroke-width=".15">KLF4(&#916;DBD)</text>
<text transform="translate(107.8 133.7) scale(.84 1)" font-family='"Liberation Serif", serif' font-size="11.6" fill="#000" stroke="#000" stroke-width=".3">13%</text>
<text transform="translate(166.5 133.7) scale(.84 1)" font-family='"Liberation Serif", serif' font-size="11.6" fill="#000" text-anchor="end" stroke="#000" stroke-width=".3">10%</text>
<text transform="translate(95.80 196.30) scale(0.74 1)" font-family='"Liberation Sans", sans-serif' font-size="7.2" fill="#111" stroke="#111" stroke-width=".25">10<tspan dy="-2.88" font-size="5.18">0</tspan></text>
<line x1="105.5" y1="192.6" x2="107" y2="192.6" stroke="#333" stroke-width=".8"/>
<text transform="translate(103.60 203.90) scale(0.74 1)" font-family='"Liberation Sans", sans-serif' font-size="7.2" fill="#111" stroke="#111" stroke-width=".25">10<tspan dy="-2.88" font-size="5.18">0</tspan></text>
<text transform="translate(95.80 179.60) scale(0.74 1)" font-family='"Liberation Sans", sans-serif' font-size="7.2" fill="#111" stroke="#111" stroke-width=".25">10<tspan dy="-2.88" font-size="5.18">1</tspan></text>
<line x1="105.5" y1="175.9" x2="107" y2="175.9" stroke="#333" stroke-width=".8"/>
<text transform="translate(119.65 203.90) scale(0.74 1)" font-family='"Liberation Sans", sans-serif' font-size="7.2" fill="#111" stroke="#111" stroke-width=".25">10<tspan dy="-2.88" font-size="5.18">1</tspan></text>
<text transform="translate(95.80 162.90) scale(0.74 1)" font-family='"Liberation Sans", sans-serif' font-size="7.2" fill="#111" stroke="#111" stroke-width=".25">10<tspan dy="-2.88" font-size="5.18">2</tspan></text>
<line x1="105.5" y1="159.2" x2="107" y2="159.2" stroke="#333" stroke-width=".8"/>
<text transform="translate(135.70 203.90) scale(0.74 1)" font-family='"Liberation Sans", sans-serif' font-size="7.2" fill="#111" stroke="#111" stroke-width=".25">10<tspan dy="-2.88" font-size="5.18">2</tspan></text>
<text transform="translate(95.80 146.20) scale(0.74 1)" font-family='"Liberation Sans", sans-serif' font-size="7.2" fill="#111" stroke="#111" stroke-width=".25">10<tspan dy="-2.88" font-size="5.18">3</tspan></text>
<line x1="105.5" y1="142.5" x2="107" y2="142.5" stroke="#333" stroke-width=".8"/>
<text transform="translate(151.75 203.90) scale(0.74 1)" font-family='"Liberation Sans", sans-serif' font-size="7.2" fill="#111" stroke="#111" stroke-width=".25">10<tspan dy="-2.88" font-size="5.18">3</tspan></text>
<text transform="translate(95.80 129.50) scale(0.74 1)" font-family='"Liberation Sans", sans-serif' font-size="7.2" fill="#111" stroke="#111" stroke-width=".25">10<tspan dy="-2.88" font-size="5.18">4</tspan></text>
<line x1="105.5" y1="125.8" x2="107" y2="125.8" stroke="#333" stroke-width=".8"/>
<text transform="translate(167.80 203.90) scale(0.74 1)" font-family='"Liberation Sans", sans-serif' font-size="7.2" fill="#111" stroke="#111" stroke-width=".25">10<tspan dy="-2.88" font-size="5.18">4</tspan></text>
<line x1="11.6" y1="39" x2="11.6" y2="189.5" stroke="#555" stroke-width="1"/>
<path d="M11.6 35.3l-1.6 4.3h3.2z" fill="#111"/>
<line x1="22.5" y1="206.6" x2="163" y2="206.6" stroke="#666" stroke-width="1"/>
<path d="M167 206.6l-4.3-1.6v3.2z" fill="#111"/>
<text x="0" y="0" font-family='"Liberation Serif", serif' font-size="9.8" text-anchor="middle" font-weight="bold" fill="#000" transform="translate(8.5 108.3) rotate(-90)">Annexin V</text>
<text x="108" y="220" font-family='"Liberation Serif", serif' font-size="9.6" text-anchor="middle" font-weight="normal" fill="#000" stroke="#000" stroke-width=".2">marker (hCD4)</text>
</g>
<g id="panelB">
<text x="281.7" y="18.7" font-family='"Liberation Sans", sans-serif' font-size="24.8" text-anchor="start" font-weight="bold" fill="#000" stroke="#000" stroke-width=".3">B</text>
<line x1="309.25" y1="144.40" x2="451.25" y2="144.40" stroke="#d2d2d2" stroke-width="1"/>
<text x="304" y="146.9" font-family='"Liberation Sans", sans-serif' font-size="8.6" text-anchor="end" font-weight="normal" fill="#000" stroke="#000" stroke-width=".45">0</text>
<line x1="309.25" y1="129.79" x2="451.25" y2="129.79" stroke="#d2d2d2" stroke-width="1"/>
<text x="304" y="132.29" font-family='"Liberation Sans", sans-serif' font-size="8.6" text-anchor="end" font-weight="normal" fill="#000" stroke="#000" stroke-width=".45">10</text>
<line x1="309.25" y1="115.18" x2="451.25" y2="115.18" stroke="#d2d2d2" stroke-width="1"/>
<text x="304" y="117.68" font-family='"Liberation Sans", sans-serif' font-size="8.6" text-anchor="end" font-weight="normal" fill="#000" stroke="#000" stroke-width=".45">20</text>
<line x1="309.25" y1="100.57" x2="451.25" y2="100.57" stroke="#d2d2d2" stroke-width="1"/>
<text x="304" y="103.07" font-family='"Liberation Sans", sans-serif' font-size="8.6" text-anchor="end" font-weight="normal" fill="#000" stroke="#000" stroke-width=".45">30</text>
<line x1="309.25" y1="85.96" x2="451.25" y2="85.96" stroke="#d2d2d2" stroke-width="1"/>
<text x="304" y="88.46000000000001" font-family='"Liberation Sans", sans-serif' font-size="8.6" text-anchor="end" font-weight="normal" fill="#000" stroke="#000" stroke-width=".45">40</text>
<line x1="309.25" y1="71.35" x2="451.25" y2="71.35" stroke="#d2d2d2" stroke-width="1"/>
<text x="304" y="73.85000000000001" font-family='"Liberation Sans", sans-serif' font-size="8.6" text-anchor="end" font-weight="normal" fill="#000" stroke="#000" stroke-width=".45">50</text>
<line x1="309.25" y1="56.74" x2="451.25" y2="56.74" stroke="#d2d2d2" stroke-width="1"/>
<text x="304" y="59.239999999999995" font-family='"Liberation Sans", sans-serif' font-size="8.6" text-anchor="end" font-weight="normal" fill="#000" stroke="#000" stroke-width=".45">60</text>
<line x1="309.25" y1="42.13" x2="451.25" y2="42.13" stroke="#d2d2d2" stroke-width="1"/>
<text x="304" y="44.629999999999995" font-family='"Liberation Sans", sans-serif' font-size="8.6" text-anchor="end" font-weight="normal" fill="#000" stroke="#000" stroke-width=".45">70</text>
<line x1="309.25" y1="27.52" x2="451.25" y2="27.52" stroke="#d2d2d2" stroke-width="1"/>
<text x="304" y="30.019999999999996" font-family='"Liberation Sans", sans-serif' font-size="8.6" text-anchor="end" font-weight="normal" fill="#000" stroke="#000" stroke-width=".45">80</text>
<line x1="309.25" y1="27.52" x2="309.25" y2="144.4" stroke="#c4c4c4" stroke-width="1"/>
<pattern id="hatch" width="2" height="2" patternUnits="userSpaceOnUse"><rect width="2" height="2" fill="#cacaca"/><rect width="2" height=".8" fill="#b2b2b2"/></pattern>
<rect x="314.41" y="129.94" width="6.45" height="14.46" fill="#8c8c8c"/>
<rect x="321.37" y="106.18" width="5.45" height="38.22" fill="#fff" stroke="#444" stroke-width=".9"/>
<rect x="327.32" y="53.82" width="6.45" height="90.58" fill="#000"/>
<rect x="334.18" y="134.13" width="5.65" height="10.27" fill="url(#hatch)" stroke="#777" stroke-width=".8"/>
<rect x="349.91" y="132.71" width="6.45" height="11.69" fill="#8c8c8c"/>
<rect x="356.87" y="84.41" width="5.45" height="59.99" fill="#fff" stroke="#444" stroke-width=".9"/>
<rect x="362.82" y="69.30" width="6.45" height="75.10" fill="#000"/>
<rect x="369.68" y="126.10" width="5.65" height="18.30" fill="url(#hatch)" stroke="#777" stroke-width=".8"/>
<rect x="385.41" y="111.38" width="6.45" height="33.02" fill="#8c8c8c"/>
<rect x="392.37" y="47.16" width="5.45" height="97.24" fill="#fff" stroke="#444" stroke-width=".9"/>
<rect x="398.32" y="117.52" width="6.45" height="26.88" fill="#000"/>
<rect x="405.18" y="127.41" width="5.65" height="16.99" fill="url(#hatch)" stroke="#777" stroke-width=".8"/>
<rect x="420.91" y="143.09" width="6.45" height="1.31" fill="#8c8c8c"/>
<rect x="427.87" y="109.84" width="5.45" height="34.56" fill="#fff" stroke="#444" stroke-width=".9"/>
<rect x="433.82" y="45.93" width="6.45" height="98.47" fill="#000"/>
<rect x="440.68" y="137.06" width="5.65" height="7.34" fill="url(#hatch)" stroke="#777" stroke-width=".8"/>
<text transform="translate(324.5 162.6) scale(0.8 1)" font-family='"Liberation Sans", sans-serif' font-size="10.4" text-anchor="middle" fill="#000" stroke="#000" stroke-width=".42">Vector</text>
<text transform="translate(368 162.6) scale(0.8 1)" font-family='"Liberation Sans", sans-serif' font-size="10.4" text-anchor="middle" fill="#000" stroke="#000" stroke-width=".42">KLF4(&#916;TA)</text>
<text transform="translate(402 162.6) scale(0.8 1)" font-family='"Liberation Sans", sans-serif' font-size="10.4" text-anchor="middle" fill="#000" stroke="#000" stroke-width=".42">KLF4</text>
<text transform="translate(436.3 162.6) scale(0.8 1)" font-family='"Liberation Sans", sans-serif' font-size="10.4" text-anchor="middle" fill="#000" stroke="#000" stroke-width=".42">KLF2</text>
<text x="0" y="0" font-family='"Liberation Sans", sans-serif' font-size="8.3" text-anchor="middle" font-weight="normal" fill="#111" transform="translate(289.5 86) rotate(-90)" stroke="#000" stroke-width=".35">% of Marker Positive Cells</text>
<rect x="458.8" y="68.35" width="4.6" height="4.6" fill="#8c8c8c" />
<text x="465" y="73.75" font-family='"Liberation Sans", sans-serif' font-size="8.6" text-anchor="start" font-weight="normal" fill="#000" stroke="#000" stroke-width=".42">Apop</text>
<rect x="458.8" y="78.45" width="4.6" height="4.6" fill="#fff" stroke="#999" stroke-width=".7"/>
<text x="465" y="83.85" font-family='"Liberation Sans", sans-serif' font-size="8.6" text-anchor="start" font-weight="normal" fill="#000" stroke="#000" stroke-width=".42">G1</text>
<rect x="458.8" y="88.55" width="4.6" height="4.6" fill="#000" />
<text x="465" y="93.95" font-family='"Liberation Sans", sans-serif' font-size="8.6" text-anchor="start" font-weight="normal" fill="#000" stroke="#000" stroke-width=".42">S</text>
<rect x="458.8" y="98.65" width="4.6" height="4.6" fill="url(#hatch)" stroke="#888" stroke-width=".7"/>
<text x="465" y="104.05" font-family='"Liberation Sans", sans-serif' font-size="8.6" text-anchor="start" font-weight="normal" fill="#000" stroke="#000" stroke-width=".42">G2/M</text>
</g>
<g id="panelC">
<text x="3.2" y="257.3" font-family='"Liberation Sans", sans-serif' font-size="25.2" text-anchor="start" font-weight="bold" fill="#000" stroke="#000" stroke-width=".3">C</text>
<path d="M30.30 346.64 L30.80 346.36 L31.30 345.95 L31.80 345.97 L32.30 345.73 L32.80 345.47 L33.30 345.56 L33.80 345.34 L34.30 345.22 L34.80 345.08 L35.30 345.39 L35.80 345.23 L36.30 345.37 L36.80 345.07 L37.30 345.22 L37.80 345.64 L38.30 345.23 L38.80 345.32 L39.30 345.56 L39.80 345.67 L40.30 345.96 L40.80 346.07 L41.30 345.83 L41.80 346.11 L42.30 346.07 L42.80 346.08 L43.30 346.22 L43.80 346.03 L44.30 346.07 L44.80 345.90 L45.30 346.06 L45.80 345.96 L46.30 346.00 L46.80 345.88 L47.30 345.96 L47.80 346.02 L48.30 345.61 L48.80 345.58 L49.30 345.63 L49.80 345.66 L50.30 345.61 L50.80 345.25 L51.30 344.80 L51.80 344.51 L52.30 342.61 L52.80 340.94 L53.30 334.33 L53.80 327.84 L54.30 319.04 L54.80 310.96 L55.30 303.64 L55.80 295.88 L56.30 288.59 L56.80 284.89 L57.30 281.81 L57.80 283.37 L58.30 285.53 L58.80 289.59 L59.30 294.08 L59.80 299.23 L60.30 304.01 L60.80 308.35 L61.30 312.28 L61.80 317.22 L62.30 322.70 L62.80 327.37 L63.30 331.31 L63.80 334.45 L64.30 336.77 L64.80 340.52 L65.30 341.09 L65.80 342.17 L66.30 343.40 L66.80 343.58 L67.30 344.29 L67.80 344.41 L68.30 345.08 L68.80 345.32 L69.30 345.68 L69.80 345.82 L70.30 345.61 L70.80 345.86 L71.30 346.29 L71.80 346.15 L72.30 346.58 L72.80 346.50 L73.30 346.28 L73.80 346.42 L74.30 346.72 L74.80 346.27 L75.30 346.70 L75.80 346.70 L76.30 346.45 L76.80 346.70 L77.30 346.74 L77.80 346.88 L78.30 346.89 L78.80 346.65 L79.30 346.85 L79.80 346.68 L80.30 346.82 L80.80 346.79 L81.30 346.54 L81.80 346.81 L82.30 346.77 L82.80 346.64 L83.30 347.01 L83.80 347.04 L84.30 346.66 L84.80 346.72 L85.30 347.03 L85.80 347.08 L86.30 346.81 L86.80 346.72 L87.30 347.12 L87.80 346.74 L88.30 346.79 L88.80 346.95 L89.30 347.06 L89.80 347.20 L90.30 347.20 L90.80 346.82 L91 347.4 L30.3 347.4Z" fill="#a8a8a8" stroke="#666" stroke-width="0.6" stroke-linejoin="round"/>
<path d="M30.30 346.48 L30.80 345.90 L31.30 346.03 L31.80 345.36 L32.30 345.32 L32.80 345.34 L33.30 345.31 L33.80 344.82 L34.30 345.28 L34.80 345.10 L35.30 344.78 L35.80 344.50 L36.30 344.71 L36.80 345.06 L37.30 344.64 L37.80 345.28 L38.30 345.51 L38.80 345.40 L39.30 345.34 L39.80 345.73 L40.30 345.69 L40.80 345.57 L41.30 345.44 L41.80 345.82 L42.30 345.68 L42.80 345.29 L43.30 345.26 L43.80 345.54 L44.30 345.55 L44.80 345.67 L45.30 346.01 L45.80 346.06 L46.30 346.04 L46.80 345.30 L47.30 345.44 L47.80 345.20 L48.30 345.91 L48.80 345.39 L49.30 345.48 L49.80 345.25 L50.30 345.31 L50.80 344.36 L51.30 344.67 L51.80 343.89 L52.30 342.14 L52.80 339.82 L53.30 333.86 L53.80 326.87 L54.30 318.45 L54.80 309.98 L55.30 302.58 L55.80 294.44 L56.30 287.47 L56.80 283.65 L57.30 282.34 L57.80 282.38 L58.30 283.56 L58.80 288.71 L59.30 293.32 L59.80 298.36 L60.30 302.68 L60.80 307.28 L61.30 312.75 L61.80 316.64 L62.30 320.94 L62.80 325.98 L63.30 330.04 L63.80 333.70 L64.30 336.29 L64.80 339.66 L65.30 340.85 L65.80 341.20 L66.30 343.36 L66.80 342.94 L67.30 344.10 L67.80 344.05 L68.30 344.54 L68.80 345.14 L69.30 345.03 L69.80 345.35 L70.30 345.42 L70.80 345.35 L71.30 346.04 L71.80 346.40 L72.30 346.25 L72.80 345.97 L73.30 346.37 L73.80 346.41 L74.30 345.85 L74.80 346.07 L75.30 346.26 L75.80 345.93 L76.30 346.39 L76.80 346.15 L77.30 346.53 L77.80 346.37 L78.30 346.10 L78.80 346.03 L79.30 346.08 L79.80 346.49 L80.30 346.35 L80.80 346.58 L81.30 346.73 L81.80 346.47 L82.30 346.21 L82.80 346.22 L83.30 346.34 L83.80 346.17 L84.30 346.71 L84.80 346.81 L85.30 346.61 L85.80 346.76 L86.30 346.82 L86.80 346.68 L87.30 346.53 L87.80 346.65 L88.30 346.80 L88.80 346.41 L89.30 346.31 L89.80 346.74 L90.30 347.05 L90.80 347.10" fill="none" stroke="#0a0a0a" stroke-width="1.7" stroke-linejoin="round"/>
<rect x="30.3" y="278.6" width="60.7" height="68.79999999999995" fill="none" stroke="#333" stroke-width="1"/>
<line x1="30.3" y1="347.4" x2="91" y2="347.4" stroke="#111" stroke-width="1.6"/>
<text transform="translate(68 273.4) scale(.93 1)" font-family='"Liberation Sans", sans-serif' font-size="11.2" text-anchor="middle" fill="#000" stroke="#000" stroke-width=".35">vector</text>
<text transform="translate(28.70 350.20) scale(.85 1)" font-family='"Liberation Sans", sans-serif' font-size="7" text-anchor="end" fill="#000" stroke="#000" stroke-width=".35">0</text>
<line x1="28.8" y1="347.40" x2="30.3" y2="347.40" stroke="#333" stroke-width=".8"/>
<text transform="translate(28.70 337.08) scale(.85 1)" font-family='"Liberation Sans", sans-serif' font-size="7" text-anchor="end" fill="#000" stroke="#000" stroke-width=".35">20</text>
<line x1="28.8" y1="334.28" x2="30.3" y2="334.28" stroke="#333" stroke-width=".8"/>
<text transform="translate(28.70 323.96) scale(.85 1)" font-family='"Liberation Sans", sans-serif' font-size="7" text-anchor="end" fill="#000" stroke="#000" stroke-width=".35">40</text>
<line x1="28.8" y1="321.16" x2="30.3" y2="321.16" stroke="#333" stroke-width=".8"/>
<text transform="translate(28.70 310.84) scale(.85 1)" font-family='"Liberation Sans", sans-serif' font-size="7" text-anchor="end" fill="#000" stroke="#000" stroke-width=".35">60</text>
<line x1="28.8" y1="308.04" x2="30.3" y2="308.04" stroke="#333" stroke-width=".8"/>
<text transform="translate(28.70 297.72) scale(.85 1)" font-family='"Liberation Sans", sans-serif' font-size="7" text-anchor="end" fill="#000" stroke="#000" stroke-width=".35">80</text>
<line x1="28.8" y1="294.92" x2="30.3" y2="294.92" stroke="#333" stroke-width=".8"/>
<text transform="translate(28.70 284.60) scale(.85 1)" font-family='"Liberation Sans", sans-serif' font-size="7" text-anchor="end" fill="#000" stroke="#000" stroke-width=".35">100</text>
<line x1="28.8" y1="281.80" x2="30.3" y2="281.80" stroke="#333" stroke-width=".8"/>
<text transform="translate(27.00 358.40) scale(0.77 1)" font-family='"Liberation Sans", sans-serif' font-size="6.4" fill="#111" stroke="#111" stroke-width=".25">10<tspan dy="-2.56" font-size="4.61">0</tspan></text>
<text transform="translate(42.18 358.40) scale(0.77 1)" font-family='"Liberation Sans", sans-serif' font-size="6.4" fill="#111" stroke="#111" stroke-width=".25">10<tspan dy="-2.56" font-size="4.61">1</tspan></text>
<text transform="translate(57.35 358.40) scale(0.77 1)" font-family='"Liberation Sans", sans-serif' font-size="6.4" fill="#111" stroke="#111" stroke-width=".25">10<tspan dy="-2.56" font-size="4.61">2</tspan></text>
<text transform="translate(72.53 358.40) scale(0.77 1)" font-family='"Liberation Sans", sans-serif' font-size="6.4" fill="#111" stroke="#111" stroke-width=".25">10<tspan dy="-2.56" font-size="4.61">3</tspan></text>
<text transform="translate(87.70 358.40) scale(0.77 1)" font-family='"Liberation Sans", sans-serif' font-size="6.4" fill="#111" stroke="#111" stroke-width=".25">10<tspan dy="-2.56" font-size="4.61">4</tspan></text>
<path d="M110.10 346.68 L110.60 346.57 L111.10 346.55 L111.60 346.80 L112.10 346.80 L112.60 346.65 L113.10 346.69 L113.60 346.39 L114.10 346.44 L114.60 346.47 L115.10 346.47 L115.60 346.40 L116.10 346.66 L116.60 346.49 L117.10 346.62 L117.60 346.21 L118.10 346.64 L118.60 346.22 L119.10 346.60 L119.60 346.26 L120.10 346.42 L120.60 346.31 L121.10 346.02 L121.60 346.38 L122.10 346.29 L122.60 345.77 L123.10 345.92 L123.60 346.07 L124.10 345.53 L124.60 345.48 L125.10 345.71 L125.60 345.24 L126.10 345.08 L126.60 344.68 L127.10 344.21 L127.60 344.15 L128.10 343.43 L128.60 343.04 L129.10 341.95 L129.60 340.31 L130.10 336.62 L130.60 331.69 L131.10 324.57 L131.60 317.25 L132.10 309.46 L132.60 301.64 L133.10 293.71 L133.60 286.91 L134.10 283.55 L134.60 281.50 L135.10 283.11 L135.60 285.14 L136.10 289.16 L136.60 293.54 L137.10 298.93 L137.60 303.72 L138.10 308.50 L138.60 313.26 L139.10 317.53 L139.60 322.36 L140.10 327.35 L140.60 329.99 L141.10 333.19 L141.60 335.88 L142.10 338.97 L142.60 340.39 L143.10 341.30 L143.60 341.76 L144.10 343.22 L144.60 343.11 L145.10 343.63 L145.60 343.69 L146.10 344.36 L146.60 344.56 L147.10 344.82 L147.60 344.80 L148.10 345.24 L148.60 345.17 L149.10 345.43 L149.60 345.53 L150.10 345.57 L150.60 345.45 L151.10 345.84 L151.60 345.72 L152.10 346.21 L152.60 345.84 L153.10 346.16 L153.60 346.28 L154.10 346.02 L154.60 345.96 L155.10 346.46 L155.60 346.35 L156.10 346.12 L156.60 346.37 L157.10 346.45 L157.60 346.60 L158.10 346.61 L158.60 346.34 L159.10 346.17 L159.60 346.19 L160.10 346.48 L160.60 346.74 L161.10 346.59 L161.60 346.35 L162.10 346.34 L162.60 346.45 L163.10 346.67 L163.60 346.52 L164.10 346.56 L164.60 346.49 L165.10 346.69 L165.60 346.34 L166.10 346.37 L166.60 346.77 L167.10 346.71 L167.60 346.41 L168.10 346.73 L168.60 346.39 L169.10 346.62 L169.60 346.54 L170.10 346.54 L170.60 346.80 L171.10 346.78 L171.4 347 L110.1 347Z" fill="#a8a8a8" stroke="#666" stroke-width="0.6" stroke-linejoin="round"/>
<path d="M110.10 346.53 L110.60 346.18 L111.10 346.15 L111.60 346.58 L112.10 345.97 L112.60 346.32 L113.10 346.44 L113.60 346.27 L114.10 345.83 L114.60 346.14 L115.10 346.07 L115.60 345.83 L116.10 345.78 L116.60 345.92 L117.10 346.17 L117.60 346.02 L118.10 345.76 L118.60 345.83 L119.10 345.98 L119.60 346.14 L120.10 346.10 L120.60 345.74 L121.10 345.81 L121.60 346.17 L122.10 345.56 L122.60 345.34 L123.10 345.35 L123.60 345.20 L124.10 345.12 L124.60 345.35 L125.10 344.94 L125.60 344.95 L126.10 344.86 L126.60 344.35 L127.10 344.07 L127.60 343.27 L128.10 343.02 L128.60 342.13 L129.10 341.03 L129.60 340.84 L130.10 336.03 L130.60 330.81 L131.10 324.29 L131.60 317.00 L132.10 308.78 L132.60 300.64 L133.10 292.80 L133.60 287.03 L134.10 284.17 L134.60 281.79 L135.10 282.12 L135.60 283.64 L136.10 288.21 L136.60 292.18 L137.10 297.93 L137.60 303.42 L138.10 307.66 L138.60 312.69 L139.10 317.74 L139.60 321.52 L140.10 326.58 L140.60 330.25 L141.10 332.92 L141.60 334.76 L142.10 339.04 L142.60 340.14 L143.10 341.14 L143.60 342.14 L144.10 342.54 L144.60 343.21 L145.10 342.77 L145.60 343.43 L146.10 343.61 L146.60 344.36 L147.10 344.41 L147.60 344.44 L148.10 344.39 L148.60 344.99 L149.10 344.97 L149.60 344.79 L150.10 344.95 L150.60 345.56 L151.10 345.46 L151.60 345.42 L152.10 345.78 L152.60 345.59 L153.10 345.63 L153.60 345.41 L154.10 345.77 L154.60 345.70 L155.10 345.98 L155.60 345.71 L156.10 346.06 L156.60 345.95 L157.10 346.09 L157.60 346.16 L158.10 346.32 L158.60 346.28 L159.10 346.06 L159.60 346.32 L160.10 346.50 L160.60 345.92 L161.10 346.33 L161.60 345.83 L162.10 346.10 L162.60 346.28 L163.10 345.90 L163.60 345.89 L164.10 346.36 L164.60 346.52 L165.10 346.12 L165.60 345.97 L166.10 346.16 L166.60 346.03 L167.10 346.34 L167.60 346.18 L168.10 346.47 L168.60 346.37 L169.10 346.40 L169.60 346.40 L170.10 346.40 L170.60 346.09 L171.10 346.60" fill="none" stroke="#0a0a0a" stroke-width="1.7" stroke-linejoin="round"/>
<rect x="110.1" y="278.3" width="61.30000000000001" height="68.69999999999999" fill="none" stroke="#333" stroke-width="1"/>
<line x1="110.1" y1="347" x2="171.4" y2="347" stroke="#111" stroke-width="1.6"/>
<text transform="translate(139.7 273.6) scale(.93 1)" font-family='"Liberation Sans", sans-serif' font-size="11.2" text-anchor="middle" fill="#000" stroke="#000" stroke-width=".35">KLF2</text>
<text transform="translate(108.50 349.80) scale(.85 1)" font-family='"Liberation Sans", sans-serif' font-size="7" text-anchor="end" fill="#000" stroke="#000" stroke-width=".35">0</text>
<line x1="108.6" y1="347.00" x2="110.1" y2="347.00" stroke="#333" stroke-width=".8"/>
<text transform="translate(108.50 336.70) scale(.85 1)" font-family='"Liberation Sans", sans-serif' font-size="7" text-anchor="end" fill="#000" stroke="#000" stroke-width=".35">20</text>
<line x1="108.6" y1="333.90" x2="110.1" y2="333.90" stroke="#333" stroke-width=".8"/>
<text transform="translate(108.50 323.60) scale(.85 1)" font-family='"Liberation Sans", sans-serif' font-size="7" text-anchor="end" fill="#000" stroke="#000" stroke-width=".35">40</text>
<line x1="108.6" y1="320.80" x2="110.1" y2="320.80" stroke="#333" stroke-width=".8"/>
<text transform="translate(108.50 310.50) scale(.85 1)" font-family='"Liberation Sans", sans-serif' font-size="7" text-anchor="end" fill="#000" stroke="#000" stroke-width=".35">60</text>
<line x1="108.6" y1="307.70" x2="110.1" y2="307.70" stroke="#333" stroke-width=".8"/>
<text transform="translate(108.50 297.40) scale(.85 1)" font-family='"Liberation Sans", sans-serif' font-size="7" text-anchor="end" fill="#000" stroke="#000" stroke-width=".35">80</text>
<line x1="108.6" y1="294.60" x2="110.1" y2="294.60" stroke="#333" stroke-width=".8"/>
<text transform="translate(108.50 284.30) scale(.85 1)" font-family='"Liberation Sans", sans-serif' font-size="7" text-anchor="end" fill="#000" stroke="#000" stroke-width=".35">100</text>
<line x1="108.6" y1="281.50" x2="110.1" y2="281.50" stroke="#333" stroke-width=".8"/>
<text transform="translate(106.80 358.00) scale(0.77 1)" font-family='"Liberation Sans", sans-serif' font-size="6.4" fill="#111" stroke="#111" stroke-width=".25">10<tspan dy="-2.56" font-size="4.61">0</tspan></text>
<text transform="translate(122.12 358.00) scale(0.77 1)" font-family='"Liberation Sans", sans-serif' font-size="6.4" fill="#111" stroke="#111" stroke-width=".25">10<tspan dy="-2.56" font-size="4.61">1</tspan></text>
<text transform="translate(137.45 358.00) scale(0.77 1)" font-family='"Liberation Sans", sans-serif' font-size="6.4" fill="#111" stroke="#111" stroke-width=".25">10<tspan dy="-2.56" font-size="4.61">2</tspan></text>
<text transform="translate(152.77 358.00) scale(0.77 1)" font-family='"Liberation Sans", sans-serif' font-size="6.4" fill="#111" stroke="#111" stroke-width=".25">10<tspan dy="-2.56" font-size="4.61">3</tspan></text>
<text transform="translate(168.10 358.00) scale(0.77 1)" font-family='"Liberation Sans", sans-serif' font-size="6.4" fill="#111" stroke="#111" stroke-width=".25">10<tspan dy="-2.56" font-size="4.61">4</tspan></text>
<path d="M192.60 345.87 L193.10 345.63 L193.60 345.62 L194.10 345.52 L194.60 345.86 L195.10 345.82 L195.60 345.85 L196.10 345.80 L196.60 345.52 L197.10 345.82 L197.60 345.60 L198.10 345.75 L198.60 345.69 L199.10 345.61 L199.60 345.38 L200.10 345.49 L200.60 345.79 L201.10 345.64 L201.60 345.69 L202.10 345.30 L202.60 345.32 L203.10 345.31 L203.60 345.28 L204.10 345.31 L204.60 345.19 L205.10 345.26 L205.60 345.52 L206.10 345.19 L206.60 345.36 L207.10 345.20 L207.60 345.28 L208.10 345.33 L208.60 345.34 L209.10 345.28 L209.60 345.33 L210.10 345.41 L210.60 345.02 L211.10 345.01 L211.60 344.89 L212.10 345.02 L212.60 345.08 L213.10 344.92 L213.60 345.03 L214.10 344.53 L214.60 344.44 L215.10 344.37 L215.60 344.14 L216.10 343.76 L216.60 341.12 L217.10 337.26 L217.60 330.55 L218.10 323.33 L218.60 315.59 L219.10 306.32 L219.60 297.48 L220.10 291.57 L220.60 285.71 L221.10 282.98 L221.60 281.76 L222.10 283.70 L222.60 287.06 L223.10 293.02 L223.60 297.81 L224.10 301.77 L224.60 306.90 L225.10 310.99 L225.60 313.61 L226.10 316.31 L226.60 319.14 L227.10 321.83 L227.60 323.75 L228.10 325.42 L228.60 327.36 L229.10 329.42 L229.60 332.02 L230.10 333.24 L230.60 335.38 L231.10 336.66 L231.60 338.91 L232.10 339.54 L232.60 340.91 L233.10 341.77 L233.60 343.14 L234.10 343.81 L234.60 344.30 L235.10 344.76 L235.60 345.19 L236.10 345.07 L236.60 345.34 L237.10 345.44 L237.60 345.58 L238.10 345.38 L238.60 345.75 L239.10 345.76 L239.60 345.91 L240.10 345.67 L240.60 345.71 L241.10 345.72 L241.60 345.99 L242.10 345.78 L242.60 345.83 L243.10 345.96 L243.60 346.00 L244.10 345.48 L244.60 345.94 L245.10 345.85 L245.60 345.87 L246.10 345.69 L246.60 345.97 L247.10 345.76 L247.60 345.81 L248.10 345.57 L248.60 346.00 L249.10 345.83 L249.60 345.75 L250.10 345.50 L250.60 345.74 L251.10 345.76 L251.60 345.66 L252.10 345.85 L252.60 345.99 L253.10 345.74 L253.4 346.4 L192.6 346.4Z" fill="#a8a8a8" stroke="#0a0a0a" stroke-width="1.4" stroke-linejoin="round"/>
<path d="M192.60 345.09 L193.10 345.21 L193.60 345.56 L194.10 345.20 L194.60 345.05 L195.10 345.50 L195.60 345.21 L196.10 345.37 L196.60 345.44 L197.10 345.38 L197.60 345.43 L198.10 345.29 L198.60 345.51 L199.10 345.21 L199.60 345.43 L200.10 344.88 L200.60 344.95 L201.10 345.38 L201.60 344.72 L202.10 345.13 L202.60 344.86 L203.10 344.75 L203.60 344.72 L204.10 343.88 L204.60 342.90 L205.10 342.55 L205.60 342.26 L206.10 343.77 L206.60 344.14 L207.10 345.01 L207.60 344.99 L208.10 344.96 L208.60 345.29 L209.10 345.26 L209.60 345.12 L210.10 345.10 L210.60 344.71 L211.10 344.24 L211.60 344.60 L212.10 343.83 L212.60 344.47 L213.10 344.45 L213.60 345.20 L214.10 344.61 L214.60 344.74 L215.10 344.93 L215.60 344.88 L216.10 343.48 L216.60 340.79 L217.10 339.57 L217.60 334.95 L218.10 331.02 L218.60 326.83 L219.10 321.85 L219.60 319.95 L220.10 317.15 L220.60 317.01 L221.10 316.37 L221.60 316.98 L222.10 317.01 L222.60 318.15 L223.10 317.29 L223.60 316.54 L224.10 315.44 L224.60 314.59 L225.10 313.55 L225.60 310.24 L226.10 305.54 L226.60 300.51 L227.10 296.16 L227.60 291.61 L228.10 286.09 L228.60 284.40 L229.10 282.00 L229.60 285.44 L230.10 291.33 L230.60 299.82 L231.10 310.38 L231.60 317.36 L232.10 323.96 L232.60 330.20 L233.10 335.42 L233.60 340.38 L234.10 342.15 L234.60 344.17 L235.10 344.47 L235.60 345.01 L236.10 344.84 L236.60 345.56 L237.10 345.57 L237.60 345.03 L238.10 345.44 L238.60 345.60 L239.10 345.19 L239.60 345.46 L240.10 345.81 L240.60 345.79 L241.10 345.61 L241.60 345.55 L242.10 345.07 L242.60 345.61 L243.10 345.14 L243.60 345.14 L244.10 345.48 L244.60 345.03 L245.10 345.20 L245.60 345.40 L246.10 345.54 L246.60 345.36 L247.10 344.98 L247.60 345.24 L248.10 345.49 L248.60 345.32 L249.10 345.21 L249.60 345.41 L250.10 345.08 L250.60 345.48 L251.10 344.73 L251.60 344.68 L252.10 344.20 L252.60 343.27 L253.10 344.26" fill="none" stroke="#0a0a0a" stroke-width="1.7" stroke-linejoin="round"/>
<rect x="192.6" y="277.6" width="60.80000000000001" height="68.79999999999995" fill="none" stroke="#333" stroke-width="1"/>
<line x1="192.6" y1="346.4" x2="253.4" y2="346.4" stroke="#111" stroke-width="1.6"/>
<text transform="translate(224.8 273.4) scale(.93 1)" font-family='"Liberation Sans", sans-serif' font-size="11.2" text-anchor="middle" fill="#000" stroke="#000" stroke-width=".35">KLF4</text>
<text transform="translate(191.00 349.20) scale(.85 1)" font-family='"Liberation Sans", sans-serif' font-size="7" text-anchor="end" fill="#000" stroke="#000" stroke-width=".35">0</text>
<line x1="191.1" y1="346.40" x2="192.6" y2="346.40" stroke="#333" stroke-width=".8"/>
<text transform="translate(191.00 336.08) scale(.85 1)" font-family='"Liberation Sans", sans-serif' font-size="7" text-anchor="end" fill="#000" stroke="#000" stroke-width=".35">20</text>
<line x1="191.1" y1="333.28" x2="192.6" y2="333.28" stroke="#333" stroke-width=".8"/>
<text transform="translate(191.00 322.96) scale(.85 1)" font-family='"Liberation Sans", sans-serif' font-size="7" text-anchor="end" fill="#000" stroke="#000" stroke-width=".35">40</text>
<line x1="191.1" y1="320.16" x2="192.6" y2="320.16" stroke="#333" stroke-width=".8"/>
<text transform="translate(191.00 309.84) scale(.85 1)" font-family='"Liberation Sans", sans-serif' font-size="7" text-anchor="end" fill="#000" stroke="#000" stroke-width=".35">60</text>
<line x1="191.1" y1="307.04" x2="192.6" y2="307.04" stroke="#333" stroke-width=".8"/>
<text transform="translate(191.00 296.72) scale(.85 1)" font-family='"Liberation Sans", sans-serif' font-size="7" text-anchor="end" fill="#000" stroke="#000" stroke-width=".35">80</text>
<line x1="191.1" y1="293.92" x2="192.6" y2="293.92" stroke="#333" stroke-width=".8"/>
<text transform="translate(191.00 283.60) scale(.85 1)" font-family='"Liberation Sans", sans-serif' font-size="7" text-anchor="end" fill="#000" stroke="#000" stroke-width=".35">100</text>
<line x1="191.1" y1="280.80" x2="192.6" y2="280.80" stroke="#333" stroke-width=".8"/>
<text transform="translate(189.30 357.40) scale(0.77 1)" font-family='"Liberation Sans", sans-serif' font-size="6.4" fill="#111" stroke="#111" stroke-width=".25">10<tspan dy="-2.56" font-size="4.61">0</tspan></text>
<text transform="translate(204.50 357.40) scale(0.77 1)" font-family='"Liberation Sans", sans-serif' font-size="6.4" fill="#111" stroke="#111" stroke-width=".25">10<tspan dy="-2.56" font-size="4.61">1</tspan></text>
<text transform="translate(219.70 357.40) scale(0.77 1)" font-family='"Liberation Sans", sans-serif' font-size="6.4" fill="#111" stroke="#111" stroke-width=".25">10<tspan dy="-2.56" font-size="4.61">2</tspan></text>
<text transform="translate(234.90 357.40) scale(0.77 1)" font-family='"Liberation Sans", sans-serif' font-size="6.4" fill="#111" stroke="#111" stroke-width=".25">10<tspan dy="-2.56" font-size="4.61">3</tspan></text>
<text transform="translate(250.10 357.40) scale(0.77 1)" font-family='"Liberation Sans", sans-serif' font-size="6.4" fill="#111" stroke="#111" stroke-width=".25">10<tspan dy="-2.56" font-size="4.61">4</tspan></text>
<path d="M33.20 441.23 L33.70 440.71 L34.20 440.53 L34.70 440.17 L35.20 440.30 L35.70 440.10 L36.20 439.66 L36.70 439.51 L37.20 439.52 L37.70 439.14 L38.20 439.37 L38.70 439.32 L39.20 439.81 L39.70 439.91 L40.20 439.66 L40.70 439.98 L41.20 440.07 L41.70 439.83 L42.20 439.96 L42.70 440.25 L43.20 440.08 L43.70 440.07 L44.20 440.36 L44.70 440.13 L45.20 440.44 L45.70 440.35 L46.20 440.51 L46.70 440.47 L47.20 440.10 L47.70 440.43 L48.20 440.15 L48.70 440.46 L49.20 440.40 L49.70 440.29 L50.20 440.39 L50.70 440.65 L51.20 440.36 L51.70 440.29 L52.20 440.49 L52.70 440.49 L53.20 440.05 L53.70 440.19 L54.20 440.14 L54.70 439.52 L55.20 438.15 L55.70 434.72 L56.20 432.05 L56.70 427.44 L57.20 421.67 L57.70 416.75 L58.20 410.70 L58.70 404.07 L59.20 396.18 L59.70 390.20 L60.20 383.27 L60.70 380.11 L61.20 376.82 L61.70 379.21 L62.20 381.96 L62.70 387.96 L63.20 393.83 L63.70 398.88 L64.20 403.48 L64.70 408.77 L65.20 412.25 L65.70 416.16 L66.20 419.16 L66.70 421.92 L67.20 425.12 L67.70 427.34 L68.20 428.86 L68.70 430.37 L69.20 432.31 L69.70 432.97 L70.20 433.86 L70.70 435.22 L71.20 436.11 L71.70 436.69 L72.20 436.99 L72.70 438.07 L73.20 438.55 L73.70 439.11 L74.20 439.38 L74.70 439.89 L75.20 440.15 L75.70 440.22 L76.20 440.55 L76.70 440.55 L77.20 440.34 L77.70 440.69 L78.20 440.95 L78.70 440.63 L79.20 440.95 L79.70 441.02 L80.20 441.16 L80.70 441.12 L81.20 441.11 L81.70 441.12 L82.20 440.80 L82.70 441.14 L83.20 441.17 L83.70 441.01 L84.20 440.86 L84.70 441.21 L85.20 440.99 L85.70 441.21 L86.20 441.13 L86.70 441.14 L87.20 440.98 L87.70 441.09 L88.20 441.24 L88.70 441.09 L89.20 441.36 L89.70 441.37 L90.20 441.09 L90.70 441.33 L91.20 441.23 L91.70 441.49 L92.20 441.20 L92.70 441.37 L93.20 441.59 L93.70 441.25 L93.75 441.8 L33.2 441.8Z" fill="#a8a8a8" stroke="#666" stroke-width="0.6" stroke-linejoin="round"/>
<path d="M33.20 441.05 L33.70 440.94 L34.20 440.79 L34.70 440.70 L35.20 440.42 L35.70 439.83 L36.20 440.06 L36.70 439.79 L37.20 439.46 L37.70 439.20 L38.20 439.41 L38.70 439.24 L39.20 439.80 L39.70 439.86 L40.20 439.92 L40.70 440.20 L41.20 440.16 L41.70 440.26 L42.20 439.85 L42.70 440.35 L43.20 439.98 L43.70 440.37 L44.20 440.07 L44.70 440.09 L45.20 440.35 L45.70 439.93 L46.20 440.17 L46.70 440.28 L47.20 440.70 L47.70 440.45 L48.20 440.58 L48.70 440.45 L49.20 440.12 L49.70 440.20 L50.20 440.83 L50.70 440.30 L51.20 440.06 L51.70 440.33 L52.20 440.64 L52.70 439.99 L53.20 440.30 L53.70 439.82 L54.20 439.69 L54.70 439.24 L55.20 437.67 L55.70 435.70 L56.20 431.59 L56.70 427.33 L57.20 422.57 L57.70 416.51 L58.20 410.33 L58.70 404.35 L59.20 396.51 L59.70 389.36 L60.20 383.31 L60.70 379.64 L61.20 377.12 L61.70 377.69 L62.20 380.44 L62.70 383.02 L63.20 386.32 L63.70 390.48 L64.20 391.93 L64.70 396.11 L65.20 397.49 L65.70 399.66 L66.20 400.35 L66.70 401.51 L67.20 405.07 L67.70 408.09 L68.20 411.49 L68.70 413.82 L69.20 418.33 L69.70 421.17 L70.20 422.89 L70.70 424.75 L71.20 426.53 L71.70 427.20 L72.20 432.01 L72.70 434.36 L73.20 436.45 L73.70 436.93 L74.20 438.66 L74.70 439.15 L75.20 439.81 L75.70 440.02 L76.20 440.44 L76.70 440.36 L77.20 440.26 L77.70 440.81 L78.20 441.07 L78.70 441.22 L79.20 440.59 L79.70 440.91 L80.20 441.00 L80.70 440.92 L81.20 441.25 L81.70 441.19 L82.20 441.20 L82.70 441.21 L83.20 440.76 L83.70 441.26 L84.20 441.40 L84.70 440.82 L85.20 441.08 L85.70 441.51 L86.20 441.03 L86.70 441.04 L87.20 441.09 L87.70 441.01 L88.20 441.31 L88.70 441.48 L89.20 441.10 L89.70 441.21 L90.20 441.17 L90.70 441.60 L91.20 441.47 L91.70 441.24 L92.20 441.50 L92.70 441.35 L93.20 441.48 L93.70 441.28" fill="none" stroke="#0a0a0a" stroke-width="1.7" stroke-linejoin="round"/>
<rect x="33.2" y="373.6" width="60.55" height="68.19999999999999" fill="none" stroke="#333" stroke-width="1"/>
<line x1="33.2" y1="441.8" x2="93.75" y2="441.8" stroke="#111" stroke-width="1.6"/>
<text transform="translate(54.2 370.9) scale(.93 1)" font-family='"Liberation Sans", sans-serif' font-size="11.2" text-anchor="middle" fill="#000" stroke="#000" stroke-width=".35">KLF4(&#916;TA)</text>
<text transform="translate(31.60 444.60) scale(.85 1)" font-family='"Liberation Sans", sans-serif' font-size="7" text-anchor="end" fill="#000" stroke="#000" stroke-width=".35">0</text>
<line x1="31.700000000000003" y1="441.80" x2="33.2" y2="441.80" stroke="#333" stroke-width=".8"/>
<text transform="translate(31.60 431.60) scale(.85 1)" font-family='"Liberation Sans", sans-serif' font-size="7" text-anchor="end" fill="#000" stroke="#000" stroke-width=".35">20</text>
<line x1="31.700000000000003" y1="428.80" x2="33.2" y2="428.80" stroke="#333" stroke-width=".8"/>
<text transform="translate(31.60 418.60) scale(.85 1)" font-family='"Liberation Sans", sans-serif' font-size="7" text-anchor="end" fill="#000" stroke="#000" stroke-width=".35">40</text>
<line x1="31.700000000000003" y1="415.80" x2="33.2" y2="415.80" stroke="#333" stroke-width=".8"/>
<text transform="translate(31.60 405.60) scale(.85 1)" font-family='"Liberation Sans", sans-serif' font-size="7" text-anchor="end" fill="#000" stroke="#000" stroke-width=".35">60</text>
<line x1="31.700000000000003" y1="402.80" x2="33.2" y2="402.80" stroke="#333" stroke-width=".8"/>
<text transform="translate(31.60 392.60) scale(.85 1)" font-family='"Liberation Sans", sans-serif' font-size="7" text-anchor="end" fill="#000" stroke="#000" stroke-width=".35">80</text>
<line x1="31.700000000000003" y1="389.80" x2="33.2" y2="389.80" stroke="#333" stroke-width=".8"/>
<text transform="translate(31.60 379.60) scale(.85 1)" font-family='"Liberation Sans", sans-serif' font-size="7" text-anchor="end" fill="#000" stroke="#000" stroke-width=".35">100</text>
<line x1="31.700000000000003" y1="376.80" x2="33.2" y2="376.80" stroke="#333" stroke-width=".8"/>
<text transform="translate(29.90 452.80) scale(0.77 1)" font-family='"Liberation Sans", sans-serif' font-size="6.4" fill="#111" stroke="#111" stroke-width=".25">10<tspan dy="-2.56" font-size="4.61">0</tspan></text>
<text transform="translate(45.04 452.80) scale(0.77 1)" font-family='"Liberation Sans", sans-serif' font-size="6.4" fill="#111" stroke="#111" stroke-width=".25">10<tspan dy="-2.56" font-size="4.61">1</tspan></text>
<text transform="translate(60.18 452.80) scale(0.77 1)" font-family='"Liberation Sans", sans-serif' font-size="6.4" fill="#111" stroke="#111" stroke-width=".25">10<tspan dy="-2.56" font-size="4.61">2</tspan></text>
<text transform="translate(75.31 452.80) scale(0.77 1)" font-family='"Liberation Sans", sans-serif' font-size="6.4" fill="#111" stroke="#111" stroke-width=".25">10<tspan dy="-2.56" font-size="4.61">3</tspan></text>
<text transform="translate(90.45 452.80) scale(0.77 1)" font-family='"Liberation Sans", sans-serif' font-size="6.4" fill="#111" stroke="#111" stroke-width=".25">10<tspan dy="-2.56" font-size="4.61">4</tspan></text>
<path d="M111.60 440.91 L112.10 441.33 L112.60 440.88 L113.10 441.11 L113.60 440.60 L114.10 441.03 L114.60 440.51 L115.10 440.54 L115.60 440.37 L116.10 440.21 L116.60 440.44 L117.10 440.23 L117.60 439.87 L118.10 439.93 L118.60 439.78 L119.10 439.63 L119.60 439.14 L120.10 439.02 L120.60 439.14 L121.10 439.52 L121.60 439.24 L122.10 439.54 L122.60 439.76 L123.10 439.73 L123.60 439.83 L124.10 440.09 L124.60 439.91 L125.10 440.10 L125.60 440.07 L126.10 439.97 L126.60 440.20 L127.10 440.40 L127.60 440.25 L128.10 440.23 L128.60 440.46 L129.10 440.18 L129.60 440.62 L130.10 440.52 L130.60 440.46 L131.10 440.02 L131.60 440.11 L132.10 440.00 L132.60 439.90 L133.10 439.46 L133.60 438.28 L134.10 435.33 L134.60 431.34 L135.10 425.89 L135.60 419.73 L136.10 412.85 L136.60 406.07 L137.10 398.28 L137.60 390.12 L138.10 382.33 L138.60 378.28 L139.10 377.96 L139.60 380.61 L140.10 384.47 L140.60 388.81 L141.10 394.05 L141.60 397.50 L142.10 402.16 L142.60 405.22 L143.10 408.56 L143.60 410.44 L144.10 413.15 L144.60 416.09 L145.10 418.89 L145.60 420.82 L146.10 423.26 L146.60 424.73 L147.10 426.50 L147.60 428.55 L148.10 430.18 L148.60 431.60 L149.10 431.84 L149.60 432.76 L150.10 434.55 L150.60 435.17 L151.10 436.10 L151.60 436.23 L152.10 437.86 L152.60 438.26 L153.10 438.43 L153.60 438.84 L154.10 439.17 L154.60 439.27 L155.10 439.64 L155.60 439.86 L156.10 440.32 L156.60 440.49 L157.10 440.61 L157.60 440.52 L158.10 440.44 L158.60 440.66 L159.10 440.76 L159.60 440.70 L160.10 440.72 L160.60 440.81 L161.10 440.98 L161.60 440.74 L162.10 440.78 L162.60 440.76 L163.10 440.78 L163.60 441.27 L164.10 440.95 L164.60 441.15 L165.10 441.15 L165.60 441.11 L166.10 441.33 L166.60 441.30 L167.10 440.94 L167.60 441.31 L168.10 441.03 L168.60 441.18 L169.10 441.40 L169.60 441.42 L170.10 441.30 L170.60 441.28 L171.10 441.49 L171.60 441.61 L172.10 441.61 L172.4 441.8 L111.6 441.8Z" fill="#a8a8a8" stroke="#666" stroke-width="0.6" stroke-linejoin="round"/>
<path d="M111.60 440.53 L112.10 440.56 L112.60 440.97 L113.10 440.32 L113.60 440.45 L114.10 440.56 L114.60 440.05 L115.10 440.57 L115.60 440.52 L116.10 440.24 L116.60 439.76 L117.10 439.75 L117.60 439.63 L118.10 439.14 L118.60 439.37 L119.10 438.90 L119.60 439.34 L120.10 438.62 L120.60 439.19 L121.10 438.88 L121.60 438.82 L122.10 439.05 L122.60 439.19 L123.10 439.30 L123.60 439.22 L124.10 439.60 L124.60 439.79 L125.10 439.62 L125.60 439.74 L126.10 440.13 L126.60 439.89 L127.10 440.03 L127.60 440.35 L128.10 439.98 L128.60 439.88 L129.10 440.18 L129.60 439.73 L130.10 439.59 L130.60 439.81 L131.10 439.96 L131.60 440.03 L132.10 440.04 L132.60 439.60 L133.10 438.70 L133.60 438.44 L134.10 433.80 L134.60 430.10 L135.10 424.32 L135.60 419.56 L136.10 412.08 L136.60 405.54 L137.10 396.70 L137.60 388.31 L138.10 380.13 L138.60 378.12 L139.10 376.87 L139.60 379.57 L140.10 383.33 L140.60 387.20 L141.10 393.27 L141.60 396.85 L142.10 400.99 L142.60 403.52 L143.10 407.32 L143.60 409.81 L144.10 412.57 L144.60 415.25 L145.10 417.74 L145.60 420.12 L146.10 422.29 L146.60 424.14 L147.10 425.56 L147.60 426.19 L148.10 427.27 L148.60 429.57 L149.10 429.60 L149.60 432.01 L150.10 432.51 L150.60 432.60 L151.10 434.73 L151.60 435.00 L152.10 435.55 L152.60 437.21 L153.10 438.31 L153.60 438.92 L154.10 438.86 L154.60 439.12 L155.10 439.14 L155.60 439.72 L156.10 439.63 L156.60 440.02 L157.10 439.92 L157.60 439.91 L158.10 440.45 L158.60 439.92 L159.10 440.39 L159.60 440.45 L160.10 440.14 L160.60 440.48 L161.10 440.54 L161.60 440.81 L162.10 440.83 L162.60 440.43 L163.10 440.66 L163.60 440.56 L164.10 440.56 L164.60 440.60 L165.10 440.91 L165.60 440.51 L166.10 440.86 L166.60 441.10 L167.10 440.59 L167.60 440.59 L168.10 441.22 L168.60 440.65 L169.10 440.83 L169.60 441.18 L170.10 440.97 L170.60 440.73 L171.10 441.35 L171.60 440.98 L172.10 441.34" fill="none" stroke="#0a0a0a" stroke-width="1.7" stroke-linejoin="round"/>
<rect x="111.6" y="373.6" width="60.80000000000001" height="68.19999999999999" fill="none" stroke="#333" stroke-width="1"/>
<line x1="111.6" y1="441.8" x2="172.4" y2="441.8" stroke="#111" stroke-width="1.6"/>
<text transform="translate(138.8 370.9) scale(.93 1)" font-family='"Liberation Sans", sans-serif' font-size="11.2" text-anchor="middle" fill="#000" stroke="#000" stroke-width=".35">KLF4(&#916;DBD)</text>
<text transform="translate(110.00 444.60) scale(.85 1)" font-family='"Liberation Sans", sans-serif' font-size="7" text-anchor="end" fill="#000" stroke="#000" stroke-width=".35">0</text>
<line x1="110.1" y1="441.80" x2="111.6" y2="441.80" stroke="#333" stroke-width=".8"/>
<text transform="translate(110.00 431.60) scale(.85 1)" font-family='"Liberation Sans", sans-serif' font-size="7" text-anchor="end" fill="#000" stroke="#000" stroke-width=".35">20</text>
<line x1="110.1" y1="428.80" x2="111.6" y2="428.80" stroke="#333" stroke-width=".8"/>
<text transform="translate(110.00 418.60) scale(.85 1)" font-family='"Liberation Sans", sans-serif' font-size="7" text-anchor="end" fill="#000" stroke="#000" stroke-width=".35">40</text>
<line x1="110.1" y1="415.80" x2="111.6" y2="415.80" stroke="#333" stroke-width=".8"/>
<text transform="translate(110.00 405.60) scale(.85 1)" font-family='"Liberation Sans", sans-serif' font-size="7" text-anchor="end" fill="#000" stroke="#000" stroke-width=".35">60</text>
<line x1="110.1" y1="402.80" x2="111.6" y2="402.80" stroke="#333" stroke-width=".8"/>
<text transform="translate(110.00 392.60) scale(.85 1)" font-family='"Liberation Sans", sans-serif' font-size="7" text-anchor="end" fill="#000" stroke="#000" stroke-width=".35">80</text>
<line x1="110.1" y1="389.80" x2="111.6" y2="389.80" stroke="#333" stroke-width=".8"/>
<text transform="translate(110.00 379.60) scale(.85 1)" font-family='"Liberation Sans", sans-serif' font-size="7" text-anchor="end" fill="#000" stroke="#000" stroke-width=".35">100</text>
<line x1="110.1" y1="376.80" x2="111.6" y2="376.80" stroke="#333" stroke-width=".8"/>
<text transform="translate(108.30 452.80) scale(0.77 1)" font-family='"Liberation Sans", sans-serif' font-size="6.4" fill="#111" stroke="#111" stroke-width=".25">10<tspan dy="-2.56" font-size="4.61">0</tspan></text>
<text transform="translate(123.50 452.80) scale(0.77 1)" font-family='"Liberation Sans", sans-serif' font-size="6.4" fill="#111" stroke="#111" stroke-width=".25">10<tspan dy="-2.56" font-size="4.61">1</tspan></text>
<text transform="translate(138.70 452.80) scale(0.77 1)" font-family='"Liberation Sans", sans-serif' font-size="6.4" fill="#111" stroke="#111" stroke-width=".25">10<tspan dy="-2.56" font-size="4.61">2</tspan></text>
<text transform="translate(153.90 452.80) scale(0.77 1)" font-family='"Liberation Sans", sans-serif' font-size="6.4" fill="#111" stroke="#111" stroke-width=".25">10<tspan dy="-2.56" font-size="4.61">3</tspan></text>
<text transform="translate(169.10 452.80) scale(0.77 1)" font-family='"Liberation Sans", sans-serif' font-size="6.4" fill="#111" stroke="#111" stroke-width=".25">10<tspan dy="-2.56" font-size="4.61">4</tspan></text>
<line x1="15.5" y1="277" x2="15.5" y2="441.6" stroke="#555" stroke-width="1"/>
<path d="M15.5 273.3l-1.6 4.4h3.2z" fill="#111"/>
<line x1="18" y1="456.4" x2="175" y2="456.4" stroke="#444" stroke-width="1.1"/>
<path d="M179 456.4l-4.4-1.6v3.2z" fill="#111"/>
<text x="0" y="0" font-family='"Liberation Sans", sans-serif' font-size="11" text-anchor="middle" font-weight="normal" fill="#000" transform="translate(10.3 363.2) rotate(-90)" stroke="#000" stroke-width=".33">Cells</text>
<text x="91.3" y="469.2" font-family='"Liberation Sans", sans-serif' font-size="10.7" text-anchor="middle" font-weight="normal" fill="#000" stroke="#000" stroke-width=".45">CFSE</text>
</g>
<g id="panelD">
<text x="280.2" y="258.0" font-family='"Liberation Sans", sans-serif' font-size="24.8" text-anchor="start" font-weight="bold" fill="#000" stroke="#000" stroke-width=".3">D</text>
<line x1="318.75" y1="369.00" x2="470" y2="369.00" stroke="#d4d4d4" stroke-width="1"/>
<text x="312.6" y="372.0" font-family='"Liberation Sans", sans-serif' font-size="8.3" text-anchor="end" font-weight="normal" fill="#000" stroke="#000" stroke-width=".3">0</text>
<line x1="318.75" y1="352.25" x2="470" y2="352.25" stroke="#d4d4d4" stroke-width="1"/>
<text x="312.6" y="355.25" font-family='"Liberation Sans", sans-serif' font-size="8.3" text-anchor="end" font-weight="normal" fill="#000" stroke="#000" stroke-width=".3">20</text>
<line x1="318.75" y1="335.50" x2="470" y2="335.50" stroke="#d4d4d4" stroke-width="1"/>
<text x="312.6" y="338.5" font-family='"Liberation Sans", sans-serif' font-size="8.3" text-anchor="end" font-weight="normal" fill="#000" stroke="#000" stroke-width=".3">40</text>
<line x1="318.75" y1="318.75" x2="470" y2="318.75" stroke="#d4d4d4" stroke-width="1"/>
<text x="312.6" y="321.75" font-family='"Liberation Sans", sans-serif' font-size="8.3" text-anchor="end" font-weight="normal" fill="#000" stroke="#000" stroke-width=".3">60</text>
<line x1="318.75" y1="302.00" x2="470" y2="302.00" stroke="#d4d4d4" stroke-width="1"/>
<text x="312.6" y="305.0" font-family='"Liberation Sans", sans-serif' font-size="8.3" text-anchor="end" font-weight="normal" fill="#000" stroke="#000" stroke-width=".3">80</text>
<line x1="318.75" y1="285.25" x2="470" y2="285.25" stroke="#d4d4d4" stroke-width="1"/>
<text x="312.6" y="288.25" font-family='"Liberation Sans", sans-serif' font-size="8.3" text-anchor="end" font-weight="normal" fill="#000" stroke="#000" stroke-width=".3">100</text>
<line x1="318.75" y1="268.50" x2="470" y2="268.50" stroke="#d4d4d4" stroke-width="1"/>
<text x="312.6" y="271.5" font-family='"Liberation Sans", sans-serif' font-size="8.3" text-anchor="end" font-weight="normal" fill="#000" stroke="#000" stroke-width=".3">120</text>
<line x1="318.75" y1="268.50" x2="318.75" y2="369" stroke="#c4c4c4" stroke-width="1"/>
<line x1="318.75" y1="369" x2="318.75" y2="371" stroke="#bbb" stroke-width="1"/>
<line x1="343.96" y1="369" x2="343.96" y2="371" stroke="#bbb" stroke-width="1"/>
<line x1="369.17" y1="369" x2="369.17" y2="371" stroke="#bbb" stroke-width="1"/>
<line x1="394.38" y1="369" x2="394.38" y2="371" stroke="#bbb" stroke-width="1"/>
<line x1="419.58" y1="369" x2="419.58" y2="371" stroke="#bbb" stroke-width="1"/>
<line x1="444.79" y1="369" x2="444.79" y2="371" stroke="#bbb" stroke-width="1"/>
<line x1="470.00" y1="369" x2="470.00" y2="371" stroke="#bbb" stroke-width="1"/>
<path d="M331.35 320.01V330.56M330.05 320.01h2.6M330.05 330.56h2.6" stroke="#666" stroke-width=".8" fill="none"/>
<path d="M356.56 307.69V322.77M355.26 307.69h2.6M355.26 322.77h2.6" stroke="#666" stroke-width=".8" fill="none"/>
<path d="M381.77 310.46V322.52M380.47 310.46h2.6M380.47 322.52h2.6" stroke="#666" stroke-width=".8" fill="none"/>
<path d="M406.98 310.46V316.49M405.68 310.46h2.6M405.68 316.49h2.6" stroke="#666" stroke-width=".8" fill="none"/>
<path d="M432.19 301.92V319.00M430.89 301.92h2.6M430.89 319.00h2.6" stroke="#666" stroke-width=".8" fill="none"/>
<path d="M457.40 283.07V300.49M456.10 283.07h2.6M456.10 300.49h2.6" stroke="#666" stroke-width=".8" fill="none"/>
<path d="M457.40 322.35V335.58M456.10 322.35h2.6M456.10 335.58h2.6" stroke="#666" stroke-width=".8" fill="none"/>
<polyline points="331.35,325.28 356.56,315.23 381.77,316.49 406.98,313.47 432.19,310.46 457.40,291.78" fill="none" stroke="#000" stroke-width="1.6" stroke-dasharray="8.5 4.6" stroke-dashoffset="-4.8"/>
<polyline points="331.35,363.47 356.56,346.47 381.77,346.47 406.98,347.73 432.19,343.96 457.40,328.97" fill="none" stroke="#000" stroke-width="1.2"/>
<rect x="328.25" y="322.18" width="6.2" height="6.2" fill="#000"/>
<rect x="353.46" y="312.13" width="6.2" height="6.2" fill="#000"/>
<rect x="378.67" y="313.39" width="6.2" height="6.2" fill="#000"/>
<rect x="403.88" y="310.37" width="6.2" height="6.2" fill="#000"/>
<rect x="429.09" y="307.36" width="6.2" height="6.2" fill="#000"/>
<rect x="454.30" y="288.68" width="6.2" height="6.2" fill="#000"/>
<path d="M331.35 360.57l2.9 2.9l-2.9 2.9l-2.9-2.9z" fill="#000"/>
<path d="M356.56 343.57l2.9 2.9l-2.9 2.9l-2.9-2.9z" fill="#000"/>
<path d="M381.77 343.57l2.9 2.9l-2.9 2.9l-2.9-2.9z" fill="#000"/>
<path d="M406.98 344.83l2.9 2.9l-2.9 2.9l-2.9-2.9z" fill="#000"/>
<path d="M432.19 341.06l2.9 2.9l-2.9 2.9l-2.9-2.9z" fill="#000"/>
<path d="M457.40 326.07l2.9 2.9l-2.9 2.9l-2.9-2.9z" fill="#000"/>
<text x="331.35" y="382.9" font-family='"Liberation Sans", sans-serif' font-size="9" text-anchor="middle" font-weight="normal" fill="#000" stroke="#000" stroke-width=".3">0</text>
<text x="356.56" y="382.9" font-family='"Liberation Sans", sans-serif' font-size="9" text-anchor="middle" font-weight="normal" fill="#000" stroke="#000" stroke-width=".3">0.5</text>
<text x="381.77" y="382.9" font-family='"Liberation Sans", sans-serif' font-size="9" text-anchor="middle" font-weight="normal" fill="#000" stroke="#000" stroke-width=".3">1</text>
<text x="406.98" y="382.9" font-family='"Liberation Sans", sans-serif' font-size="9" text-anchor="middle" font-weight="normal" fill="#000" stroke="#000" stroke-width=".3">2.5</text>
<text x="432.19" y="382.9" font-family='"Liberation Sans", sans-serif' font-size="9" text-anchor="middle" font-weight="normal" fill="#000" stroke="#000" stroke-width=".3">5</text>
<text x="457.40" y="382.9" font-family='"Liberation Sans", sans-serif' font-size="9" text-anchor="middle" font-weight="normal" fill="#000" stroke="#000" stroke-width=".3">10</text>
<text x="393.7" y="395.3" font-family='"Liberation Sans", sans-serif' font-size="8.85" text-anchor="middle" font-weight="normal" fill="#000" stroke="#000" stroke-width=".3">Concentration of Imatinib (&#181;M)</text>
<text x="0" y="0" font-family='"Liberation Sans", sans-serif' font-size="8.2" text-anchor="middle" font-weight="normal" fill="#111" transform="translate(293 318.5) rotate(-90)" stroke="#000" stroke-width=".3">% Annexin V Pos</text>
<rect x="473.3" y="308" width="46" height="21" fill="#fff" stroke="#bbb" stroke-width="1"/>
<line x1="475" y1="313.5" x2="493.3" y2="313.5" stroke="#000" stroke-width="1.2"/>
<path d="M484.2 310.6l2.9 2.9l-2.9 2.9l-2.9-2.9z" fill="#000"/>
<text x="495" y="316.5" font-family='"Liberation Sans", sans-serif' font-size="8.4" text-anchor="start" font-weight="normal" fill="#000" stroke="#000" stroke-width=".3">CD4</text>
<path d="M475 323.6h6M487.4 323.6h4.4" stroke="#000" stroke-width="1.6"/>
<rect x="481.1" y="320.5" width="6.2" height="6.2" fill="#000"/>
<text x="495" y="326.6" font-family='"Liberation Sans", sans-serif' font-size="8.4" text-anchor="start" font-weight="normal" fill="#000" stroke="#000" stroke-width=".3">KLF4</text>
</g>
</svg>
</body></html>
